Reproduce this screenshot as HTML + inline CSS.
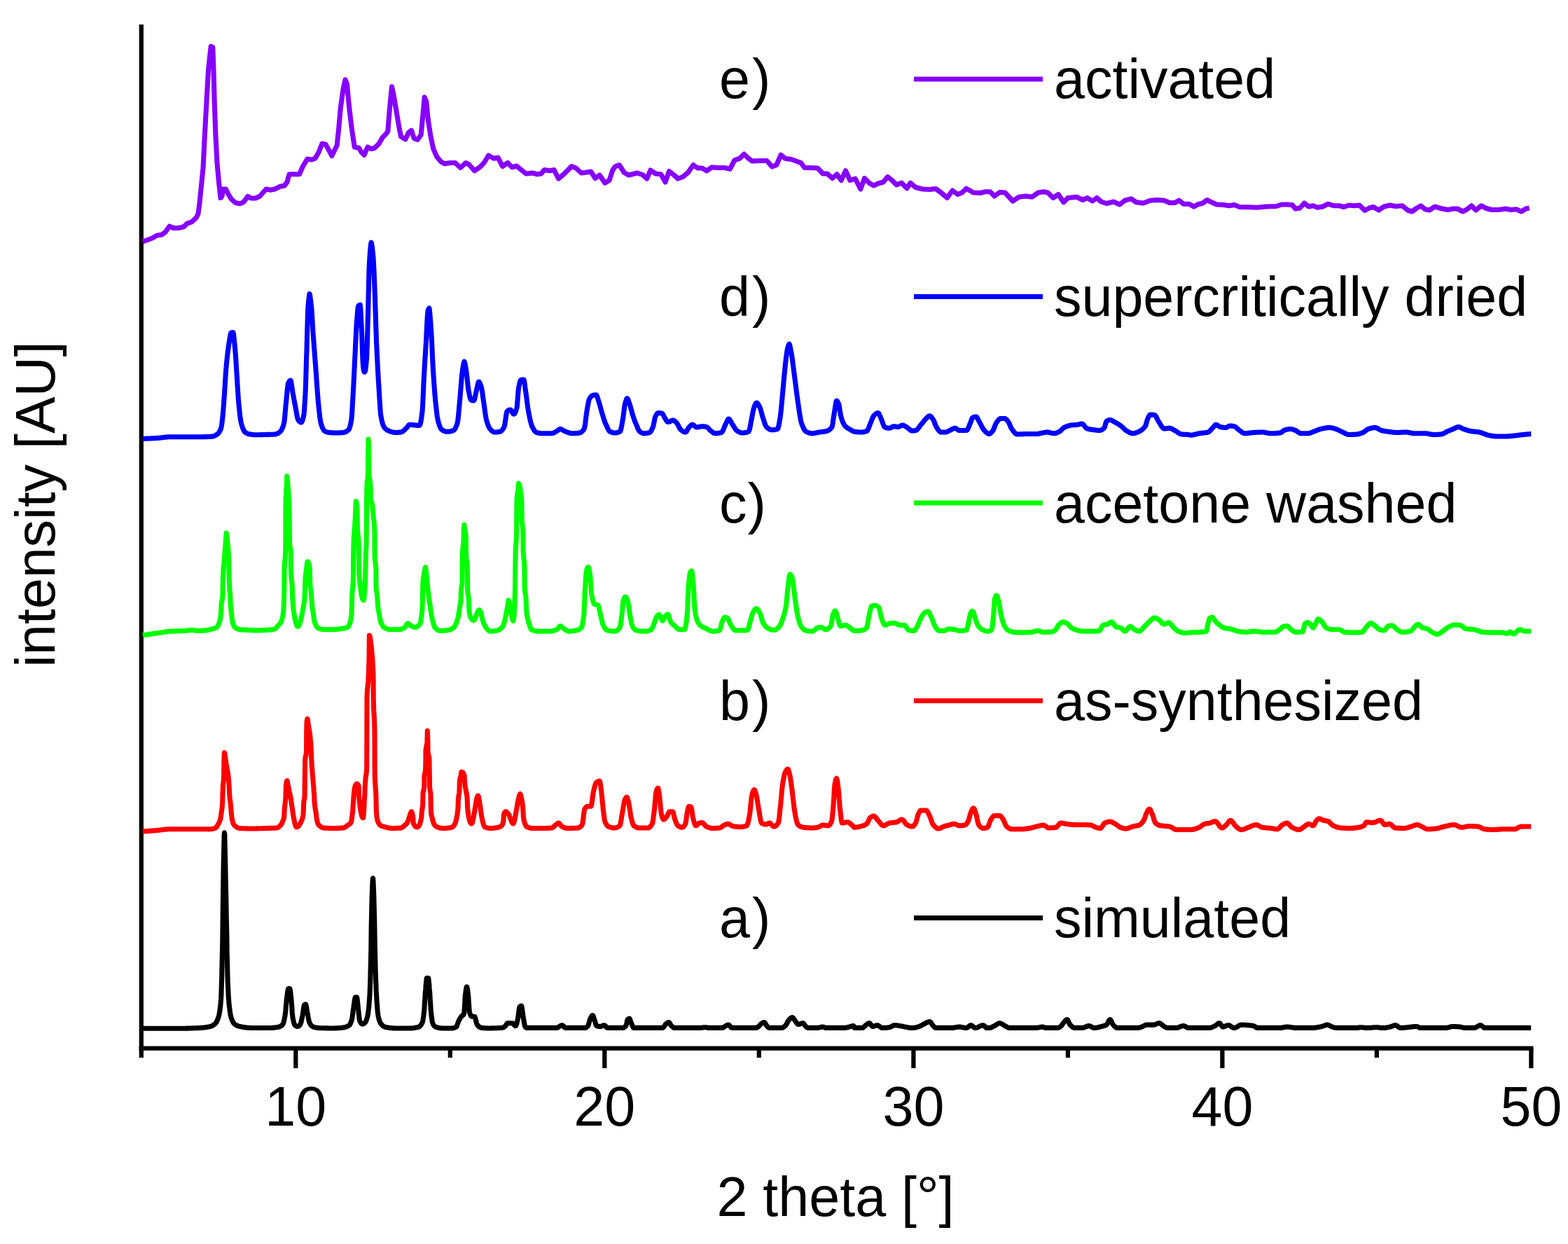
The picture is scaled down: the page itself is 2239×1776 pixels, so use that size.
<!DOCTYPE html>
<html lang="en">
<head>
<meta charset="utf-8">
<title>PXRD patterns</title>
<style>
html,body{margin:0;padding:0;background:#fff;}
body{width:2239px;height:1776px;overflow:hidden;font-family:'Liberation Sans', Arial, Helvetica, sans-serif;}
svg{display:block;}
</style>
</head>
<body>
<svg xmlns="http://www.w3.org/2000/svg" width="2239" height="1776" viewBox="0 0 2239 1776">
<rect width="2239" height="1776" fill="#ffffff"/>
<g stroke="#000" stroke-width="6.25" stroke-linecap="butt" fill="none">
<line x1="201.8" y1="35" x2="201.8" y2="1510"/>
<line x1="198.7" y1="1496.6" x2="2189.5" y2="1496.6"/>
<line x1="422.3" y1="1496.6" x2="422.3" y2="1525"/>
<line x1="642.8" y1="1496.6" x2="642.8" y2="1510"/>
<line x1="863.3" y1="1496.6" x2="863.3" y2="1525"/>
<line x1="1083.8" y1="1496.6" x2="1083.8" y2="1510"/>
<line x1="1304.4" y1="1496.6" x2="1304.4" y2="1525"/>
<line x1="1524.9" y1="1496.6" x2="1524.9" y2="1510"/>
<line x1="1745.4" y1="1496.6" x2="1745.4" y2="1525"/>
<line x1="1965.9" y1="1496.6" x2="1965.9" y2="1510"/>
<line x1="2186.4" y1="1496.6" x2="2186.4" y2="1525"/>
</g>
<path d="M203.8,1468.2 L204.2,1468.2 L204.8,1468.2 L205.2,1468.2 L205.8,1468.2 L206.2,1468.2 L206.8,1468.2 L207.2,1468.2 L207.8,1468.2 L208.2,1468.2 L208.8,1468.2 L209.2,1468.2 L209.8,1468.2 L210.2,1468.2 L210.8,1468.2 L211.2,1468.2 L211.8,1468.2 L212.2,1468.2 L212.8,1468.2 L213.2,1468.2 L213.8,1468.2 L214.2,1468.2 L214.8,1468.2 L215.2,1468.2 L215.8,1468.2 L216.2,1468.2 L216.8,1468.2 L217.2,1468.2 L217.8,1468.2 L218.2,1468.2 L218.8,1468.2 L219.2,1468.2 L219.8,1468.2 L220.2,1468.2 L220.8,1468.2 L221.2,1468.2 L221.8,1468.2 L222.2,1468.2 L222.8,1468.2 L223.2,1468.2 L223.8,1468.2 L224.2,1468.2 L224.8,1468.2 L225.2,1468.2 L225.8,1468.2 L226.2,1468.2 L226.8,1468.2 L227.2,1468.2 L227.8,1468.2 L228.2,1468.2 L228.8,1468.2 L229.2,1468.2 L229.8,1468.2 L230.2,1468.2 L230.8,1468.2 L231.2,1468.2 L231.8,1468.2 L232.2,1468.2 L232.8,1468.2 L233.2,1468.2 L233.8,1468.2 L234.2,1468.2 L234.8,1468.2 L235.2,1468.2 L235.8,1468.2 L236.2,1468.2 L236.8,1468.2 L237.2,1468.2 L237.8,1468.2 L238.2,1468.2 L238.8,1468.2 L239.2,1468.2 L239.8,1468.2 L240.2,1468.2 L240.8,1468.2 L241.2,1468.2 L241.8,1468.2 L242.2,1468.2 L242.8,1468.2 L243.2,1468.2 L243.8,1468.2 L244.2,1468.2 L244.8,1468.2 L245.2,1468.2 L245.8,1468.2 L246.2,1468.2 L246.8,1468.2 L247.2,1468.2 L247.8,1468.2 L248.2,1468.2 L248.8,1468.2 L249.2,1468.2 L249.8,1468.2 L250.2,1468.2 L250.8,1468.2 L251.2,1468.2 L251.8,1468.2 L252.2,1468.2 L252.8,1468.2 L253.2,1468.2 L253.8,1468.2 L254.2,1468.2 L254.8,1468.2 L255.0,1468.2 L255.2,1468.2 L255.8,1468.2 L256.2,1468.2 L256.8,1468.2 L257.2,1468.2 L257.8,1468.2 L258.2,1468.2 L258.8,1468.2 L259.2,1468.2 L259.8,1468.2 L260.2,1468.2 L260.8,1468.2 L261.2,1468.2 L261.8,1468.2 L262.2,1468.2 L262.8,1468.2 L263.2,1468.2 L263.8,1468.2 L264.2,1468.2 L264.8,1468.2 L265.2,1468.2 L265.8,1468.1 L266.2,1468.1 L266.8,1468.1 L267.2,1468.1 L267.8,1468.1 L268.2,1468.1 L268.8,1468.1 L269.2,1468.1 L269.8,1468.1 L270.2,1468.0 L270.8,1468.0 L271.2,1468.0 L271.8,1468.0 L272.2,1468.0 L272.8,1468.0 L273.2,1468.0 L273.8,1467.9 L274.2,1467.9 L274.8,1467.9 L275.2,1467.9 L275.8,1467.9 L276.2,1467.9 L276.8,1467.8 L277.2,1467.8 L277.8,1467.8 L278.2,1467.8 L278.8,1467.8 L279.2,1467.7 L279.8,1467.7 L280.2,1467.7 L280.8,1467.7 L281.2,1467.7 L281.8,1467.6 L282.2,1467.6 L282.8,1467.6 L283.2,1467.6 L283.8,1467.6 L284.2,1467.5 L284.8,1467.5 L285.0,1467.5 L285.2,1467.5 L285.8,1467.5 L286.2,1467.4 L286.8,1467.4 L287.2,1467.4 L287.8,1467.3 L288.2,1467.3 L288.8,1467.3 L289.2,1467.2 L289.8,1467.2 L290.2,1467.1 L290.8,1467.1 L291.2,1467.0 L291.8,1466.9 L292.2,1466.9 L292.8,1466.8 L293.2,1466.7 L293.8,1466.7 L294.2,1466.6 L294.8,1466.5 L295.2,1466.4 L295.8,1466.4 L296.2,1466.3 L296.8,1466.2 L297.2,1466.1 L297.8,1466.0 L298.2,1465.9 L298.8,1465.8 L299.2,1465.7 L299.8,1465.6 L300.0,1465.5 L300.2,1465.4 L300.8,1465.3 L301.2,1465.1 L301.8,1465.0 L302.2,1464.8 L302.8,1464.6 L303.2,1464.3 L303.8,1464.0 L304.2,1463.8 L304.8,1463.4 L305.2,1463.1 L305.8,1462.7 L306.2,1462.3 L306.8,1461.9 L307.2,1461.5 L307.5,1461.2 L307.8,1461.0 L308.2,1460.4 L308.8,1459.7 L309.2,1458.8 L309.8,1457.8 L310.2,1456.7 L310.8,1455.5 L311.2,1454.1 L311.8,1452.6 L312.2,1450.9 L312.5,1450.0 L312.8,1449.0 L313.2,1446.8 L313.8,1443.9 L314.2,1440.4 L314.8,1436.0 L315.2,1430.6 L315.5,1427.5 L315.8,1423.3 L316.2,1410.1 L316.8,1391.6 L317.2,1369.5 L317.5,1357.5 L317.8,1342.5 L318.2,1301.5 L318.8,1260.3 L319.0,1245.0 L319.2,1232.2 L319.8,1207.5 L320.2,1191.2 L320.5,1188.8 L320.8,1191.4 L321.2,1208.8 L321.8,1233.4 L322.0,1245.0 L322.2,1256.3 L322.8,1281.2 L323.2,1307.3 L323.5,1320.0 L323.8,1333.3 L324.2,1361.6 L324.8,1386.3 L325.0,1395.0 L325.2,1401.7 L325.8,1413.2 L326.2,1422.6 L326.8,1429.7 L327.0,1432.5 L327.2,1435.0 L327.8,1439.5 L328.2,1443.4 L328.8,1446.7 L329.2,1449.5 L329.8,1451.6 L330.0,1452.5 L330.2,1453.3 L330.8,1454.7 L331.2,1456.0 L331.8,1457.2 L332.2,1458.2 L332.8,1459.2 L333.2,1460.0 L333.8,1460.7 L334.2,1461.3 L334.8,1461.8 L335.0,1462.0 L335.2,1462.2 L335.8,1462.6 L336.2,1462.9 L336.8,1463.2 L337.2,1463.5 L337.8,1463.8 L338.2,1464.1 L338.8,1464.3 L339.2,1464.5 L339.8,1464.7 L340.2,1464.9 L340.8,1465.1 L341.2,1465.2 L341.8,1465.3 L342.2,1465.4 L342.5,1465.5 L342.8,1465.5 L343.2,1465.6 L343.8,1465.7 L344.2,1465.8 L344.8,1465.9 L345.2,1466.0 L345.8,1466.1 L346.2,1466.2 L346.8,1466.3 L347.2,1466.4 L347.8,1466.4 L348.2,1466.5 L348.8,1466.6 L349.2,1466.7 L349.8,1466.7 L350.2,1466.8 L350.8,1466.9 L351.2,1466.9 L351.8,1467.0 L352.2,1467.1 L352.8,1467.1 L353.2,1467.2 L353.8,1467.2 L354.2,1467.2 L354.8,1467.3 L355.2,1467.3 L355.8,1467.4 L356.2,1467.4 L356.8,1467.4 L357.2,1467.4 L357.8,1467.5 L358.2,1467.5 L358.8,1467.5 L359.2,1467.5 L359.8,1467.5 L360.0,1467.5 L360.2,1467.5 L360.8,1467.5 L361.2,1467.5 L361.8,1467.5 L362.2,1467.5 L362.8,1467.5 L363.2,1467.5 L363.8,1467.5 L364.2,1467.5 L364.8,1467.5 L365.2,1467.5 L365.8,1467.5 L366.2,1467.5 L366.8,1467.5 L367.2,1467.5 L367.8,1467.5 L368.2,1467.5 L368.8,1467.5 L369.2,1467.5 L369.8,1467.5 L370.2,1467.5 L370.8,1467.5 L371.2,1467.5 L371.8,1467.5 L372.2,1467.5 L372.8,1467.5 L373.2,1467.5 L373.8,1467.5 L374.2,1467.5 L374.8,1467.5 L375.2,1467.5 L375.8,1467.5 L376.2,1467.5 L376.8,1467.5 L377.2,1467.5 L377.8,1467.5 L378.2,1467.5 L378.8,1467.5 L379.2,1467.5 L379.8,1467.5 L380.2,1467.5 L380.8,1467.5 L381.2,1467.5 L381.8,1467.5 L382.2,1467.5 L382.8,1467.5 L383.2,1467.5 L383.8,1467.5 L384.2,1467.5 L384.8,1467.5 L385.0,1467.5 L385.2,1467.5 L385.8,1467.5 L386.2,1467.5 L386.8,1467.5 L387.2,1467.5 L387.8,1467.4 L388.2,1467.4 L388.8,1467.4 L389.2,1467.3 L389.8,1467.3 L390.2,1467.3 L390.8,1467.2 L391.2,1467.2 L391.8,1467.1 L392.2,1467.1 L392.8,1467.0 L393.2,1466.9 L393.8,1466.9 L394.2,1466.8 L394.8,1466.7 L395.2,1466.6 L395.8,1466.6 L396.2,1466.5 L396.8,1466.4 L397.2,1466.3 L397.5,1466.2 L397.8,1466.2 L398.2,1466.1 L398.8,1465.9 L399.2,1465.8 L399.8,1465.6 L400.2,1465.3 L400.8,1465.0 L401.2,1464.7 L401.8,1464.4 L402.2,1464.0 L402.8,1463.5 L403.2,1463.0 L403.8,1462.5 L404.2,1461.7 L404.8,1460.3 L405.2,1458.6 L405.8,1456.5 L406.2,1454.1 L406.8,1451.4 L407.0,1450.0 L407.2,1448.3 L407.8,1443.6 L408.2,1437.9 L408.8,1432.1 L409.2,1427.0 L409.5,1425.0 L409.8,1423.2 L410.2,1419.4 L410.8,1415.9 L411.2,1413.1 L411.8,1411.5 L412.0,1411.2 L412.2,1411.2 L412.8,1411.2 L413.2,1411.2 L413.8,1411.2 L414.2,1412.6 L414.8,1415.9 L415.2,1420.4 L415.8,1425.0 L416.2,1430.6 L416.8,1437.8 L417.2,1445.0 L417.8,1450.7 L418.0,1452.5 L418.2,1453.9 L418.8,1456.4 L419.2,1458.6 L419.8,1460.5 L420.2,1462.0 L420.8,1463.1 L421.2,1463.8 L421.8,1464.1 L422.2,1464.5 L422.8,1464.8 L423.2,1465.1 L423.8,1465.3 L424.2,1465.4 L424.8,1465.5 L425.0,1465.5 L425.2,1465.5 L425.8,1465.3 L426.2,1465.1 L426.8,1464.7 L427.2,1464.3 L427.8,1463.7 L428.2,1463.2 L428.8,1462.5 L429.2,1461.5 L429.8,1460.0 L430.2,1458.1 L430.8,1456.0 L431.2,1453.6 L431.8,1451.2 L432.0,1450.0 L432.2,1448.6 L432.8,1445.2 L433.2,1441.4 L433.8,1437.9 L434.2,1435.5 L434.5,1435.0 L434.8,1434.7 L435.2,1434.3 L435.8,1434.0 L436.2,1433.8 L436.5,1433.8 L436.8,1434.0 L437.2,1435.9 L437.8,1438.8 L438.2,1442.1 L438.8,1445.0 L439.2,1447.5 L439.8,1450.3 L440.2,1453.0 L440.8,1455.5 L441.2,1457.7 L441.8,1459.4 L442.0,1460.0 L442.2,1460.5 L442.8,1461.5 L443.2,1462.3 L443.8,1463.1 L444.2,1463.8 L444.8,1464.4 L445.2,1464.9 L445.8,1465.2 L446.2,1465.5 L446.8,1465.7 L447.2,1465.9 L447.8,1466.1 L448.2,1466.3 L448.8,1466.4 L449.2,1466.6 L449.8,1466.7 L450.2,1466.8 L450.8,1466.9 L451.2,1467.0 L451.8,1467.1 L452.2,1467.2 L452.8,1467.3 L453.2,1467.4 L453.8,1467.4 L454.2,1467.5 L454.8,1467.5 L455.0,1467.5 L455.2,1467.5 L455.8,1467.5 L456.2,1467.6 L456.8,1467.6 L457.2,1467.6 L457.8,1467.6 L458.2,1467.7 L458.8,1467.7 L459.2,1467.7 L459.8,1467.7 L460.2,1467.7 L460.8,1467.7 L461.2,1467.8 L461.8,1467.8 L462.2,1467.8 L462.8,1467.8 L463.2,1467.8 L463.8,1467.8 L464.2,1467.9 L464.8,1467.9 L465.2,1467.9 L465.8,1467.9 L466.2,1467.9 L466.8,1467.9 L467.2,1467.9 L467.8,1467.9 L468.2,1467.9 L468.8,1468.0 L469.2,1468.0 L469.8,1468.0 L470.2,1468.0 L470.8,1468.0 L471.2,1468.0 L471.8,1468.0 L472.2,1468.0 L472.8,1468.0 L473.2,1468.0 L473.8,1468.0 L474.2,1468.0 L474.8,1468.0 L475.0,1468.0 L475.2,1468.0 L475.8,1468.0 L476.2,1468.0 L476.8,1468.0 L477.2,1468.0 L477.8,1468.0 L478.2,1467.9 L478.8,1467.9 L479.2,1467.9 L479.8,1467.9 L480.2,1467.9 L480.8,1467.8 L481.2,1467.8 L481.8,1467.8 L482.2,1467.7 L482.8,1467.7 L483.2,1467.7 L483.8,1467.6 L484.2,1467.6 L484.8,1467.5 L485.2,1467.5 L485.8,1467.5 L486.2,1467.4 L486.8,1467.4 L487.2,1467.3 L487.8,1467.3 L488.2,1467.2 L488.8,1467.1 L489.2,1467.1 L489.8,1467.0 L490.0,1467.0 L490.2,1467.0 L490.8,1466.9 L491.2,1466.8 L491.8,1466.7 L492.2,1466.6 L492.8,1466.5 L493.2,1466.4 L493.8,1466.2 L494.2,1466.1 L494.8,1465.9 L495.2,1465.7 L495.8,1465.5 L496.2,1465.2 L496.8,1465.0 L497.2,1464.7 L497.8,1464.4 L498.2,1464.1 L498.8,1463.8 L499.2,1463.3 L499.8,1462.5 L500.2,1461.6 L500.8,1460.4 L501.2,1459.1 L501.8,1457.6 L502.2,1455.9 L502.5,1455.0 L502.8,1453.9 L503.2,1450.9 L503.8,1447.0 L504.2,1443.0 L504.8,1439.2 L505.0,1437.5 L505.2,1435.9 L505.8,1432.3 L506.2,1428.7 L506.8,1425.7 L507.2,1424.0 L507.5,1423.8 L507.8,1423.8 L508.2,1423.8 L508.8,1423.8 L509.2,1423.8 L509.5,1423.8 L509.8,1424.2 L510.2,1427.5 L510.8,1432.5 L511.2,1437.8 L511.5,1440.0 L511.8,1442.1 L512.2,1446.8 L512.8,1451.5 L513.2,1455.3 L513.8,1457.5 L514.2,1458.6 L514.8,1459.5 L515.2,1460.3 L515.8,1460.9 L516.2,1461.4 L516.8,1461.8 L517.2,1462.0 L517.5,1462.0 L517.8,1462.0 L518.2,1461.9 L518.8,1461.7 L519.2,1461.5 L519.8,1461.2 L520.2,1460.8 L520.8,1460.4 L521.2,1460.0 L521.8,1459.4 L522.2,1458.6 L522.8,1457.5 L523.2,1456.3 L523.8,1454.7 L524.2,1453.0 L524.8,1451.1 L525.0,1450.0 L525.2,1448.8 L525.8,1445.8 L526.2,1441.9 L526.8,1436.9 L527.2,1431.0 L527.8,1423.9 L528.0,1420.0 L528.2,1415.0 L528.8,1400.0 L529.2,1380.6 L529.5,1370.0 L529.8,1356.7 L530.2,1322.5 L530.8,1295.0 L531.2,1278.0 L531.8,1263.6 L532.2,1255.0 L532.5,1253.8 L532.8,1255.0 L533.2,1264.0 L533.8,1278.6 L534.2,1295.0 L534.8,1317.6 L535.2,1346.0 L535.8,1370.0 L536.2,1387.5 L536.8,1402.8 L537.2,1415.2 L537.5,1420.0 L537.8,1424.2 L538.2,1432.1 L538.8,1438.8 L539.2,1444.4 L539.8,1448.5 L540.0,1450.0 L540.2,1451.2 L540.8,1453.4 L541.2,1455.3 L541.8,1457.0 L542.2,1458.4 L542.8,1459.5 L543.2,1460.5 L543.8,1461.2 L544.2,1461.9 L544.8,1462.5 L545.2,1463.1 L545.8,1463.6 L546.2,1464.1 L546.8,1464.5 L547.2,1464.9 L547.8,1465.3 L548.2,1465.6 L548.8,1465.8 L549.2,1466.0 L549.8,1466.2 L550.0,1466.2 L550.2,1466.3 L550.8,1466.4 L551.2,1466.5 L551.8,1466.6 L552.2,1466.7 L552.8,1466.8 L553.2,1466.9 L553.8,1467.0 L554.2,1467.1 L554.8,1467.2 L555.2,1467.2 L555.8,1467.3 L556.2,1467.4 L556.8,1467.5 L557.2,1467.5 L557.8,1467.6 L558.2,1467.6 L558.8,1467.7 L559.2,1467.7 L559.8,1467.8 L560.2,1467.8 L560.8,1467.9 L561.2,1467.9 L561.8,1467.9 L562.2,1467.9 L562.8,1468.0 L563.2,1468.0 L563.8,1468.0 L564.2,1468.0 L564.8,1468.0 L565.0,1468.0 L565.2,1468.0 L565.8,1468.0 L566.2,1468.0 L566.8,1468.0 L567.2,1468.0 L567.8,1468.0 L568.2,1468.0 L568.8,1468.0 L569.2,1468.0 L569.8,1468.0 L570.2,1468.0 L570.8,1468.0 L571.2,1468.0 L571.8,1468.0 L572.2,1468.0 L572.8,1468.0 L573.2,1468.0 L573.8,1468.0 L574.2,1468.0 L574.8,1468.0 L575.2,1468.0 L575.8,1468.0 L576.2,1468.0 L576.8,1468.0 L577.2,1468.0 L577.8,1468.0 L578.2,1468.0 L578.8,1468.0 L579.2,1468.0 L579.8,1468.0 L580.2,1468.0 L580.8,1468.0 L581.2,1468.0 L581.8,1468.0 L582.2,1468.0 L582.8,1468.0 L583.2,1468.0 L583.8,1468.0 L584.2,1468.0 L584.8,1468.0 L585.0,1468.0 L585.2,1468.0 L585.8,1468.0 L586.2,1468.0 L586.8,1468.0 L587.2,1467.9 L587.8,1467.9 L588.2,1467.9 L588.8,1467.8 L589.2,1467.8 L589.8,1467.7 L590.2,1467.7 L590.8,1467.6 L591.2,1467.6 L591.8,1467.5 L592.2,1467.4 L592.8,1467.3 L593.2,1467.2 L593.8,1467.1 L594.2,1467.0 L594.8,1466.9 L595.2,1466.8 L595.8,1466.7 L596.2,1466.6 L596.8,1466.5 L597.2,1466.3 L597.5,1466.2 L597.8,1466.2 L598.2,1466.0 L598.8,1465.7 L599.2,1465.3 L599.8,1464.9 L600.2,1464.4 L600.8,1463.8 L601.2,1463.1 L601.8,1462.3 L602.2,1461.5 L602.8,1460.5 L603.0,1460.0 L603.2,1459.4 L603.8,1457.4 L604.2,1454.6 L604.8,1451.1 L605.2,1447.1 L605.5,1445.0 L605.8,1442.4 L606.2,1435.0 L606.8,1426.3 L607.2,1418.3 L607.5,1415.0 L607.8,1412.0 L608.2,1405.7 L608.8,1400.2 L609.2,1396.7 L609.5,1396.2 L609.8,1396.2 L610.2,1396.2 L610.8,1396.2 L611.2,1396.2 L611.5,1396.2 L611.8,1396.7 L612.2,1400.2 L612.8,1405.7 L613.2,1412.0 L613.5,1415.0 L613.8,1418.2 L614.2,1426.3 L614.8,1434.8 L615.2,1442.3 L615.5,1445.0 L615.8,1447.3 L616.2,1451.6 L616.8,1455.4 L617.2,1458.4 L617.8,1460.6 L618.0,1461.2 L618.2,1461.7 L618.8,1462.6 L619.2,1463.4 L619.8,1464.1 L620.2,1464.7 L620.8,1465.2 L621.2,1465.6 L621.8,1465.9 L622.2,1466.2 L622.5,1466.2 L622.8,1466.3 L623.2,1466.5 L623.8,1466.6 L624.2,1466.8 L624.8,1466.9 L625.2,1467.1 L625.8,1467.2 L626.2,1467.3 L626.8,1467.4 L627.2,1467.5 L627.8,1467.6 L628.2,1467.7 L628.8,1467.7 L629.2,1467.8 L629.8,1467.9 L630.2,1467.9 L630.8,1467.9 L631.2,1468.0 L631.8,1468.0 L632.2,1468.0 L632.5,1468.0 L632.8,1468.0 L633.2,1468.0 L633.8,1468.0 L634.2,1468.0 L634.8,1468.0 L635.2,1468.0 L635.8,1468.0 L636.2,1468.0 L636.8,1468.0 L637.2,1468.0 L637.8,1468.0 L638.2,1468.0 L638.8,1468.0 L639.2,1468.0 L639.8,1468.0 L640.2,1468.0 L640.8,1468.0 L641.2,1468.0 L641.8,1468.0 L642.2,1468.0 L642.8,1468.0 L643.2,1468.0 L643.8,1468.0 L644.2,1468.0 L644.8,1468.0 L645.0,1468.0 L645.2,1468.0 L645.8,1468.0 L646.2,1467.9 L646.8,1467.9 L647.2,1467.8 L647.8,1467.6 L648.2,1467.5 L648.8,1467.3 L649.2,1467.2 L649.8,1467.0 L650.2,1466.7 L650.8,1466.5 L651.2,1466.2 L651.8,1465.7 L652.2,1464.8 L652.8,1463.6 L653.2,1462.2 L653.8,1460.7 L654.2,1459.3 L654.8,1458.0 L655.0,1457.5 L655.2,1457.0 L655.8,1456.1 L656.2,1455.1 L656.8,1454.3 L657.2,1453.4 L657.8,1452.6 L658.2,1451.9 L658.8,1451.2 L659.2,1450.7 L659.8,1450.3 L660.2,1450.0 L660.8,1449.7 L661.2,1449.3 L661.8,1448.7 L662.2,1448.0 L662.5,1447.5 L662.8,1446.1 L663.2,1439.6 L663.8,1430.7 L664.2,1422.7 L664.5,1420.0 L664.8,1418.0 L665.2,1414.1 L665.8,1410.9 L666.2,1409.0 L666.5,1408.8 L666.8,1409.0 L667.2,1410.9 L667.8,1414.2 L668.2,1418.0 L668.5,1420.0 L668.8,1422.5 L669.2,1429.6 L669.8,1437.4 L670.2,1443.5 L670.5,1445.0 L670.8,1445.9 L671.2,1447.4 L671.8,1448.7 L672.2,1449.8 L672.8,1450.6 L673.2,1451.1 L673.8,1451.2 L674.2,1451.2 L674.8,1451.2 L675.2,1451.2 L675.8,1451.2 L676.2,1451.2 L676.8,1451.2 L677.2,1451.2 L677.5,1451.2 L677.8,1451.4 L678.2,1452.2 L678.8,1453.8 L679.2,1455.7 L679.8,1457.8 L680.2,1459.8 L680.8,1461.4 L681.2,1462.5 L681.8,1463.2 L682.2,1463.9 L682.8,1464.5 L683.2,1465.0 L683.8,1465.5 L684.2,1466.0 L684.8,1466.4 L685.2,1466.7 L685.8,1466.9 L686.2,1467.0 L686.8,1467.1 L687.2,1467.2 L687.8,1467.2 L688.2,1467.3 L688.8,1467.4 L689.2,1467.4 L689.8,1467.5 L690.2,1467.6 L690.8,1467.6 L691.2,1467.7 L691.8,1467.7 L692.2,1467.7 L692.8,1467.8 L693.2,1467.8 L693.8,1467.8 L694.2,1467.9 L694.8,1467.9 L695.2,1467.9 L695.8,1467.9 L696.2,1468.0 L696.8,1468.0 L697.2,1468.0 L697.8,1468.0 L698.2,1468.0 L698.8,1468.0 L699.2,1468.0 L699.8,1468.0 L700.0,1468.0 L700.2,1468.0 L700.8,1468.0 L701.2,1468.0 L701.8,1468.0 L702.2,1467.9 L702.8,1467.9 L703.2,1467.9 L703.8,1467.9 L704.2,1467.9 L704.8,1467.9 L705.2,1467.8 L705.8,1467.8 L706.2,1467.8 L706.8,1467.8 L707.2,1467.8 L707.8,1467.8 L708.2,1467.7 L708.8,1467.7 L709.2,1467.7 L709.8,1467.7 L710.2,1467.6 L710.8,1467.6 L711.2,1467.6 L711.8,1467.6 L712.2,1467.6 L712.8,1467.5 L713.2,1467.5 L713.8,1467.5 L714.2,1467.5 L714.8,1467.5 L715.0,1467.5 L715.2,1467.4 L715.8,1467.4 L716.2,1467.3 L716.8,1467.3 L717.2,1467.2 L717.8,1467.1 L718.2,1467.0 L718.8,1466.9 L719.2,1466.6 L719.8,1466.3 L720.2,1465.9 L720.8,1465.6 L721.2,1465.2 L721.8,1464.7 L722.2,1464.0 L722.8,1463.2 L723.2,1462.4 L723.8,1461.6 L724.2,1461.0 L724.8,1460.7 L725.0,1460.6 L725.2,1460.7 L725.8,1460.7 L726.2,1460.7 L726.8,1460.7 L727.2,1460.7 L727.8,1460.7 L728.2,1460.7 L728.8,1460.7 L729.2,1460.7 L729.8,1460.7 L730.2,1460.7 L730.8,1460.7 L731.2,1460.7 L731.8,1460.8 L732.2,1461.1 L732.8,1461.5 L733.2,1462.1 L733.8,1462.6 L734.2,1463.2 L734.8,1463.7 L735.2,1464.2 L735.8,1464.5 L736.2,1464.6 L736.8,1464.2 L737.2,1463.1 L737.8,1461.6 L738.2,1459.6 L738.8,1457.5 L739.2,1455.2 L739.5,1454.1 L739.8,1452.8 L740.2,1449.1 L740.8,1444.8 L741.2,1440.9 L741.8,1438.2 L742.0,1437.6 L742.2,1437.3 L742.8,1436.9 L743.2,1436.5 L743.8,1436.2 L744.2,1436.1 L744.5,1436.1 L744.8,1436.4 L745.2,1438.5 L745.8,1441.9 L746.2,1445.8 L746.8,1449.6 L747.0,1451.1 L747.2,1452.5 L747.8,1455.6 L748.2,1458.7 L748.8,1461.7 L749.2,1464.1 L749.8,1465.7 L750.0,1466.1 L750.2,1466.3 L750.8,1466.8 L751.2,1467.2 L751.8,1467.4 L752.2,1467.4 L752.8,1467.4 L753.2,1467.4 L753.8,1467.4 L754.2,1467.4 L754.8,1467.4 L755.2,1467.4 L755.8,1467.4 L756.2,1467.4 L756.8,1467.4 L757.2,1467.4 L757.5,1467.4 L757.8,1467.4 L758.2,1467.4 L758.8,1467.4 L759.2,1467.4 L759.8,1467.4 L760.2,1467.4 L760.8,1467.4 L761.2,1467.4 L761.8,1467.4 L762.2,1467.4 L762.8,1467.4 L763.2,1467.4 L763.8,1467.4 L764.2,1467.4 L764.8,1467.4 L765.2,1467.4 L765.8,1467.4 L766.2,1467.4 L766.8,1467.4 L767.2,1467.4 L767.8,1467.4 L768.2,1467.4 L768.8,1467.4 L769.2,1467.4 L769.8,1467.4 L770.2,1467.4 L770.8,1467.4 L771.2,1467.4 L771.8,1467.4 L772.2,1467.4 L772.8,1467.4 L773.2,1467.4 L773.8,1467.4 L774.2,1467.4 L774.8,1467.4 L775.0,1467.4 L775.2,1467.4 L775.8,1467.4 L776.2,1467.4 L776.8,1467.4 L777.2,1467.4 L777.8,1467.4 L778.2,1467.4 L778.8,1467.4 L779.2,1467.4 L779.8,1467.4 L780.2,1467.4 L780.8,1467.4 L781.2,1467.4 L781.8,1467.4 L782.2,1467.4 L782.8,1467.4 L783.2,1467.4 L783.8,1467.4 L784.2,1467.4 L784.8,1467.4 L785.2,1467.4 L785.8,1467.4 L786.2,1467.4 L786.8,1467.4 L787.2,1467.4 L787.8,1467.4 L788.2,1467.4 L788.8,1467.4 L789.2,1467.4 L789.8,1467.4 L790.2,1467.4 L790.8,1467.4 L791.2,1467.4 L791.8,1467.4 L792.2,1467.4 L792.5,1467.4 L792.8,1467.4 L793.2,1467.4 L793.8,1467.4 L794.2,1467.4 L794.8,1467.4 L795.2,1467.4 L795.8,1467.4 L796.2,1467.2 L796.8,1466.8 L797.2,1466.4 L797.8,1466.1 L798.2,1465.8 L798.8,1465.5 L799.2,1465.2 L799.8,1464.9 L800.2,1464.6 L800.8,1464.3 L801.2,1464.0 L801.8,1463.8 L802.2,1463.7 L802.5,1463.7 L802.8,1463.7 L803.2,1463.9 L803.8,1464.2 L804.2,1464.6 L804.8,1465.1 L805.2,1465.7 L805.8,1466.2 L806.2,1466.7 L806.8,1467.2 L807.2,1467.4 L807.5,1467.4 L807.8,1467.4 L808.2,1467.4 L808.8,1467.4 L809.2,1467.4 L809.8,1467.4 L810.2,1467.4 L810.8,1467.4 L811.2,1467.4 L811.8,1467.4 L812.2,1467.4 L812.8,1467.4 L813.2,1467.4 L813.8,1467.4 L814.2,1467.4 L814.8,1467.4 L815.2,1467.4 L815.8,1467.4 L816.2,1467.4 L816.8,1467.4 L817.2,1467.4 L817.5,1467.4 L817.8,1467.4 L818.2,1467.4 L818.8,1467.4 L819.2,1467.4 L819.8,1467.4 L820.2,1467.4 L820.8,1467.4 L821.2,1467.4 L821.8,1467.4 L822.2,1467.4 L822.8,1467.4 L823.2,1467.4 L823.8,1467.4 L824.2,1467.4 L824.8,1467.4 L825.2,1467.4 L825.8,1467.4 L826.2,1467.4 L826.8,1467.4 L827.2,1467.4 L827.8,1467.4 L828.2,1467.4 L828.8,1467.4 L829.2,1467.4 L829.8,1467.4 L830.2,1467.4 L830.8,1467.4 L831.2,1467.4 L831.8,1467.4 L832.2,1467.4 L832.5,1467.4 L832.8,1467.4 L833.2,1467.4 L833.8,1467.4 L834.2,1467.4 L834.8,1467.4 L835.2,1467.4 L835.8,1467.4 L836.2,1467.4 L836.8,1467.2 L837.2,1466.8 L837.8,1466.4 L838.2,1465.9 L838.8,1465.4 L839.2,1464.9 L839.5,1464.6 L839.8,1464.2 L840.2,1463.1 L840.8,1461.5 L841.2,1459.7 L841.8,1457.8 L842.2,1456.0 L842.8,1454.6 L843.0,1454.1 L843.2,1453.6 L843.8,1452.6 L844.2,1451.7 L844.8,1450.9 L845.2,1450.2 L845.8,1449.7 L846.2,1449.6 L846.8,1450.0 L847.2,1451.1 L847.8,1452.5 L848.2,1454.1 L848.8,1455.6 L849.2,1457.0 L849.8,1458.8 L850.2,1460.6 L850.8,1462.2 L851.2,1463.6 L851.8,1464.4 L852.0,1464.6 L852.2,1464.7 L852.8,1464.8 L853.2,1464.9 L853.8,1465.1 L854.2,1465.2 L854.8,1465.3 L855.2,1465.3 L855.8,1465.4 L856.2,1465.4 L856.8,1465.5 L857.2,1465.5 L857.5,1465.5 L857.8,1465.5 L858.2,1465.4 L858.8,1465.2 L859.2,1465.0 L859.8,1464.7 L860.2,1464.4 L860.8,1464.2 L861.2,1464.0 L861.8,1463.8 L862.2,1463.7 L862.5,1463.7 L862.8,1463.7 L863.2,1463.9 L863.8,1464.2 L864.2,1464.6 L864.8,1465.1 L865.2,1465.7 L865.8,1466.2 L866.2,1466.7 L866.8,1467.2 L867.2,1467.4 L867.5,1467.4 L867.8,1467.4 L868.2,1467.4 L868.8,1467.4 L869.2,1467.4 L869.8,1467.4 L870.2,1467.4 L870.8,1467.4 L871.2,1467.4 L871.8,1467.4 L872.2,1467.4 L872.8,1467.4 L873.2,1467.4 L873.8,1467.4 L874.2,1467.4 L874.8,1467.4 L875.2,1467.4 L875.8,1467.4 L876.2,1467.4 L876.8,1467.4 L877.2,1467.4 L877.5,1467.4 L877.8,1467.4 L878.2,1467.4 L878.8,1467.4 L879.2,1467.4 L879.8,1467.4 L880.2,1467.4 L880.8,1467.4 L881.2,1467.4 L881.8,1467.4 L882.2,1467.4 L882.8,1467.4 L883.2,1467.4 L883.8,1467.4 L884.2,1467.4 L884.8,1467.4 L885.2,1467.4 L885.8,1467.4 L886.2,1467.4 L886.8,1467.4 L887.2,1467.4 L887.5,1467.4 L887.8,1467.4 L888.2,1467.4 L888.8,1467.4 L889.2,1467.4 L889.8,1467.4 L890.2,1467.4 L890.8,1467.2 L891.2,1466.9 L891.8,1466.5 L892.2,1466.1 L892.8,1465.7 L893.2,1465.1 L893.8,1464.6 L894.2,1463.3 L894.8,1461.2 L895.2,1458.8 L895.8,1456.8 L896.2,1455.6 L896.8,1455.1 L897.2,1454.7 L897.8,1454.4 L898.2,1454.2 L898.8,1454.1 L899.2,1454.5 L899.8,1455.7 L900.2,1457.2 L900.8,1458.8 L901.2,1460.1 L901.8,1461.2 L902.2,1462.5 L902.8,1463.7 L903.2,1464.9 L903.8,1466.0 L904.2,1466.9 L904.8,1467.4 L905.0,1467.4 L905.2,1467.4 L905.8,1467.4 L906.2,1467.4 L906.8,1467.4 L907.2,1467.4 L907.8,1467.4 L908.2,1467.4 L908.8,1467.4 L909.2,1467.4 L909.8,1467.4 L910.2,1467.4 L910.8,1467.4 L911.2,1467.4 L911.8,1467.4 L912.2,1467.4 L912.8,1467.4 L913.2,1467.4 L913.8,1467.4 L914.2,1467.4 L914.8,1467.4 L915.0,1467.4 L915.2,1467.4 L915.8,1467.4 L916.2,1467.4 L916.8,1467.4 L917.2,1467.4 L917.8,1467.4 L918.2,1467.4 L918.8,1467.4 L919.2,1467.4 L919.8,1467.4 L920.2,1467.4 L920.8,1467.4 L921.2,1467.4 L921.8,1467.4 L922.2,1467.4 L922.8,1467.4 L923.2,1467.4 L923.8,1467.4 L924.2,1467.4 L924.8,1467.4 L925.2,1467.4 L925.8,1467.4 L926.2,1467.4 L926.8,1467.4 L927.2,1467.4 L927.8,1467.4 L928.2,1467.4 L928.8,1467.4 L929.2,1467.4 L929.8,1467.4 L930.2,1467.4 L930.8,1467.4 L931.2,1467.4 L931.8,1467.4 L932.2,1467.4 L932.8,1467.4 L933.2,1467.4 L933.8,1467.4 L934.2,1467.4 L934.8,1467.4 L935.0,1467.4 L935.2,1467.4 L935.8,1467.4 L936.2,1467.4 L936.8,1467.4 L937.2,1467.4 L937.8,1467.4 L938.2,1467.4 L938.8,1467.4 L939.2,1467.4 L939.8,1467.4 L940.2,1467.4 L940.8,1467.4 L941.2,1467.4 L941.8,1467.4 L942.2,1467.4 L942.8,1467.4 L943.2,1467.4 L943.8,1467.4 L944.2,1467.4 L944.8,1467.4 L945.2,1467.4 L945.8,1467.4 L946.2,1467.4 L946.8,1467.3 L947.2,1466.8 L947.8,1466.3 L948.2,1465.6 L948.8,1464.8 L949.2,1464.1 L949.8,1463.3 L950.2,1462.6 L950.8,1462.0 L951.2,1461.6 L951.8,1461.2 L952.2,1460.8 L952.8,1460.4 L953.2,1460.1 L953.8,1459.8 L954.2,1459.6 L954.8,1459.5 L955.0,1459.5 L955.2,1459.5 L955.8,1459.9 L956.2,1460.6 L956.8,1461.4 L957.2,1462.3 L957.8,1463.2 L958.2,1464.0 L958.8,1464.6 L959.2,1465.0 L959.8,1465.4 L960.2,1465.9 L960.8,1466.2 L961.2,1466.6 L961.8,1467.0 L962.2,1467.3 L962.8,1467.4 L963.2,1467.4 L963.8,1467.4 L964.2,1467.4 L964.8,1467.4 L965.0,1467.4 L965.2,1467.4 L965.8,1467.4 L966.2,1467.4 L966.8,1467.4 L967.2,1467.4 L967.8,1467.4 L968.2,1467.4 L968.8,1467.4 L969.2,1467.4 L969.8,1467.4 L970.2,1467.4 L970.8,1467.4 L971.2,1467.4 L971.8,1467.4 L972.2,1467.4 L972.8,1467.4 L973.2,1467.4 L973.8,1467.4 L974.2,1467.4 L974.8,1467.4 L975.0,1467.4 L975.2,1467.4 L975.8,1467.4 L976.2,1467.4 L976.8,1467.4 L977.2,1467.4 L977.8,1467.4 L978.2,1467.4 L978.8,1467.4 L979.2,1467.4 L979.8,1467.4 L980.2,1467.4 L980.8,1467.4 L981.2,1467.4 L981.8,1467.4 L982.2,1467.4 L982.8,1467.4 L983.2,1467.4 L983.8,1467.4 L984.2,1467.4 L984.8,1467.4 L985.2,1467.4 L985.8,1467.4 L986.2,1467.4 L986.8,1467.4 L987.2,1467.4 L987.8,1467.4 L988.2,1467.4 L988.8,1467.4 L989.2,1467.4 L989.8,1467.4 L990.0,1467.4 L990.2,1467.4 L990.8,1467.4 L991.2,1467.4 L991.8,1467.4 L992.2,1467.4 L992.8,1467.4 L993.2,1467.4 L993.8,1467.4 L994.2,1467.4 L994.8,1467.4 L995.2,1467.4 L995.8,1467.4 L996.2,1467.4 L996.8,1467.4 L997.2,1467.4 L997.8,1467.4 L998.2,1467.4 L998.8,1467.4 L999.2,1467.4 L999.8,1467.4 L1000.0,1467.4 L1000.2,1467.4 L1000.8,1467.4 L1001.2,1467.4 L1001.8,1467.3 L1002.2,1467.2 L1002.8,1467.1 L1003.2,1467.1 L1003.8,1467.0 L1004.2,1466.9 L1004.8,1466.9 L1005.2,1466.8 L1005.8,1466.8 L1006.2,1466.7 L1006.8,1466.7 L1007.2,1466.7 L1007.5,1466.7 L1007.8,1466.7 L1008.2,1466.7 L1008.8,1466.8 L1009.2,1467.0 L1009.8,1467.2 L1010.2,1467.4 L1010.8,1467.4 L1011.2,1467.4 L1011.8,1467.4 L1012.2,1467.4 L1012.8,1467.4 L1013.2,1467.4 L1013.8,1467.4 L1014.2,1467.4 L1014.8,1467.4 L1015.0,1467.4 L1015.2,1467.4 L1015.8,1467.4 L1016.2,1467.4 L1016.8,1467.4 L1017.2,1467.4 L1017.8,1467.4 L1018.2,1467.4 L1018.8,1467.4 L1019.2,1467.4 L1019.8,1467.4 L1020.2,1467.4 L1020.8,1467.4 L1021.2,1467.4 L1021.8,1467.4 L1022.2,1467.4 L1022.8,1467.4 L1023.2,1467.4 L1023.8,1467.4 L1024.2,1467.4 L1024.8,1467.4 L1025.2,1467.4 L1025.8,1467.4 L1026.2,1467.4 L1026.8,1467.4 L1027.2,1467.4 L1027.5,1467.4 L1027.8,1467.4 L1028.2,1467.4 L1028.8,1467.4 L1029.2,1467.4 L1029.8,1467.4 L1030.2,1467.4 L1030.8,1467.4 L1031.2,1467.4 L1031.8,1467.4 L1032.2,1467.3 L1032.8,1467.0 L1033.2,1466.6 L1033.8,1466.2 L1034.2,1465.9 L1034.8,1465.6 L1035.0,1465.5 L1035.2,1465.3 L1035.8,1465.1 L1036.2,1464.7 L1036.8,1464.4 L1037.2,1464.1 L1037.8,1463.8 L1038.2,1463.6 L1038.8,1463.3 L1039.2,1463.2 L1039.8,1463.1 L1040.0,1463.1 L1040.2,1463.1 L1040.8,1463.3 L1041.2,1463.7 L1041.8,1464.2 L1042.2,1464.8 L1042.8,1465.4 L1043.2,1466.0 L1043.8,1466.6 L1044.2,1467.1 L1044.8,1467.4 L1045.0,1467.4 L1045.2,1467.4 L1045.8,1467.4 L1046.2,1467.4 L1046.8,1467.4 L1047.2,1467.4 L1047.8,1467.4 L1048.2,1467.4 L1048.8,1467.4 L1049.2,1467.4 L1049.8,1467.4 L1050.2,1467.4 L1050.8,1467.4 L1051.2,1467.4 L1051.8,1467.4 L1052.2,1467.4 L1052.8,1467.4 L1053.2,1467.4 L1053.8,1467.4 L1054.2,1467.4 L1054.8,1467.4 L1055.0,1467.4 L1055.2,1467.4 L1055.8,1467.4 L1056.2,1467.4 L1056.8,1467.4 L1057.2,1467.4 L1057.8,1467.4 L1058.2,1467.4 L1058.8,1467.4 L1059.2,1467.4 L1059.8,1467.4 L1060.2,1467.4 L1060.8,1467.4 L1061.2,1467.4 L1061.8,1467.4 L1062.2,1467.4 L1062.8,1467.4 L1063.2,1467.4 L1063.8,1467.4 L1064.2,1467.4 L1064.8,1467.4 L1065.2,1467.4 L1065.8,1467.4 L1066.2,1467.4 L1066.8,1467.4 L1067.2,1467.4 L1067.8,1467.4 L1068.2,1467.4 L1068.8,1467.4 L1069.2,1467.4 L1069.8,1467.4 L1070.2,1467.4 L1070.8,1467.4 L1071.2,1467.4 L1071.8,1467.4 L1072.2,1467.4 L1072.5,1467.4 L1072.8,1467.4 L1073.2,1467.4 L1073.8,1467.4 L1074.2,1467.4 L1074.8,1467.4 L1075.2,1467.4 L1075.8,1467.4 L1076.2,1467.4 L1076.8,1467.4 L1077.2,1467.4 L1077.8,1467.4 L1078.2,1467.4 L1078.8,1467.4 L1079.2,1467.4 L1079.8,1467.4 L1080.2,1467.3 L1080.8,1467.0 L1081.2,1466.8 L1081.8,1466.5 L1082.2,1466.2 L1082.5,1466.1 L1082.8,1465.9 L1083.2,1465.5 L1083.8,1465.0 L1084.2,1464.5 L1084.8,1463.9 L1085.2,1463.3 L1085.8,1462.7 L1086.2,1462.2 L1086.8,1461.8 L1087.0,1461.6 L1087.2,1461.4 L1087.8,1461.1 L1088.2,1460.7 L1088.8,1460.4 L1089.2,1460.1 L1089.8,1459.9 L1090.2,1459.7 L1090.8,1459.5 L1091.2,1459.5 L1091.8,1459.7 L1092.2,1460.2 L1092.8,1460.9 L1093.2,1461.8 L1093.8,1462.7 L1094.2,1463.6 L1094.8,1464.3 L1095.0,1464.6 L1095.2,1464.8 L1095.8,1465.4 L1096.2,1465.9 L1096.8,1466.4 L1097.2,1466.9 L1097.8,1467.3 L1098.2,1467.4 L1098.8,1467.4 L1099.2,1467.4 L1099.8,1467.4 L1100.0,1467.4 L1100.2,1467.4 L1100.8,1467.4 L1101.2,1467.4 L1101.8,1467.4 L1102.2,1467.4 L1102.8,1467.4 L1103.2,1467.4 L1103.8,1467.4 L1104.2,1467.4 L1104.8,1467.4 L1105.2,1467.4 L1105.8,1467.4 L1106.2,1467.4 L1106.8,1467.4 L1107.2,1467.4 L1107.8,1467.4 L1108.2,1467.4 L1108.8,1467.4 L1109.2,1467.4 L1109.8,1467.4 L1110.2,1467.4 L1110.8,1467.4 L1111.2,1467.4 L1111.8,1467.4 L1112.2,1467.4 L1112.5,1467.4 L1112.8,1467.4 L1113.2,1467.4 L1113.8,1467.4 L1114.2,1467.4 L1114.8,1467.4 L1115.2,1467.4 L1115.8,1467.4 L1116.2,1467.4 L1116.8,1467.4 L1117.2,1467.4 L1117.8,1467.2 L1118.2,1466.9 L1118.8,1466.5 L1119.2,1466.2 L1119.8,1465.8 L1120.2,1465.4 L1120.8,1465.0 L1121.2,1464.6 L1121.8,1464.1 L1122.2,1463.4 L1122.8,1462.6 L1123.2,1461.6 L1123.8,1460.7 L1124.2,1459.7 L1124.8,1458.7 L1125.2,1457.9 L1125.8,1457.1 L1126.2,1456.5 L1126.8,1455.9 L1127.2,1455.4 L1127.8,1454.9 L1128.2,1454.3 L1128.8,1453.9 L1129.2,1453.4 L1129.8,1453.1 L1130.2,1452.8 L1130.8,1452.6 L1131.2,1452.6 L1131.8,1452.7 L1132.2,1453.0 L1132.8,1453.5 L1133.2,1454.2 L1133.8,1454.9 L1134.2,1455.7 L1134.8,1456.5 L1135.2,1457.2 L1135.8,1458.0 L1136.2,1458.6 L1136.8,1459.2 L1137.2,1459.9 L1137.8,1460.6 L1138.2,1461.2 L1138.8,1461.8 L1139.2,1462.2 L1139.8,1462.4 L1140.0,1462.5 L1140.2,1462.5 L1140.8,1462.4 L1141.2,1462.3 L1141.8,1462.1 L1142.2,1461.9 L1142.8,1461.7 L1143.2,1461.5 L1143.8,1461.3 L1144.2,1461.1 L1144.8,1460.9 L1145.2,1460.8 L1145.8,1460.7 L1146.2,1460.7 L1146.8,1460.8 L1147.2,1461.1 L1147.8,1461.6 L1148.2,1462.3 L1148.8,1463.0 L1149.2,1463.7 L1149.8,1464.4 L1150.2,1465.1 L1150.8,1465.7 L1151.2,1466.1 L1151.8,1466.4 L1152.2,1466.8 L1152.8,1467.1 L1153.2,1467.4 L1153.8,1467.4 L1154.2,1467.4 L1154.8,1467.4 L1155.2,1467.4 L1155.8,1467.4 L1156.2,1467.4 L1156.8,1467.4 L1157.2,1467.4 L1157.5,1467.4 L1157.8,1467.4 L1158.2,1467.4 L1158.8,1467.4 L1159.2,1467.4 L1159.8,1467.4 L1160.2,1467.4 L1160.8,1467.4 L1161.2,1467.4 L1161.8,1467.4 L1162.2,1467.4 L1162.8,1467.4 L1163.2,1467.4 L1163.8,1467.4 L1164.2,1467.4 L1164.8,1467.4 L1165.2,1467.4 L1165.8,1467.4 L1166.2,1467.4 L1166.8,1467.4 L1167.2,1467.4 L1167.5,1467.4 L1167.8,1467.4 L1168.2,1467.4 L1168.8,1467.3 L1169.2,1467.2 L1169.8,1467.1 L1170.2,1466.9 L1170.8,1466.8 L1171.2,1466.7 L1171.8,1466.5 L1172.2,1466.4 L1172.8,1466.3 L1173.2,1466.2 L1173.8,1466.2 L1174.2,1466.1 L1174.8,1466.1 L1175.0,1466.1 L1175.2,1466.1 L1175.8,1466.2 L1176.2,1466.3 L1176.8,1466.5 L1177.2,1466.7 L1177.8,1467.0 L1178.2,1467.3 L1178.8,1467.4 L1179.2,1467.4 L1179.8,1467.4 L1180.2,1467.4 L1180.8,1467.4 L1181.2,1467.4 L1181.8,1467.4 L1182.2,1467.4 L1182.5,1467.4 L1182.8,1467.4 L1183.2,1467.4 L1183.8,1467.4 L1184.2,1467.4 L1184.8,1467.4 L1185.2,1467.4 L1185.8,1467.4 L1186.2,1467.4 L1186.8,1467.4 L1187.2,1467.4 L1187.8,1467.4 L1188.2,1467.4 L1188.8,1467.4 L1189.2,1467.4 L1189.8,1467.4 L1190.2,1467.4 L1190.8,1467.4 L1191.2,1467.4 L1191.8,1467.4 L1192.2,1467.4 L1192.8,1467.4 L1193.2,1467.4 L1193.8,1467.4 L1194.2,1467.4 L1194.8,1467.4 L1195.2,1467.4 L1195.8,1467.4 L1196.2,1467.4 L1196.8,1467.4 L1197.2,1467.4 L1197.5,1467.4 L1197.8,1467.4 L1198.2,1467.4 L1198.8,1467.4 L1199.2,1467.4 L1199.8,1467.4 L1200.2,1467.4 L1200.8,1467.4 L1201.2,1467.4 L1201.8,1467.4 L1202.2,1467.4 L1202.8,1467.4 L1203.2,1467.4 L1203.8,1467.4 L1204.2,1467.4 L1204.8,1467.4 L1205.2,1467.4 L1205.8,1467.4 L1206.2,1467.4 L1206.8,1467.4 L1207.2,1467.4 L1207.8,1467.3 L1208.2,1467.1 L1208.8,1467.0 L1209.2,1466.9 L1209.8,1466.8 L1210.2,1466.6 L1210.8,1466.5 L1211.2,1466.4 L1211.8,1466.3 L1212.2,1466.1 L1212.5,1466.1 L1212.8,1466.0 L1213.2,1465.9 L1213.8,1465.7 L1214.2,1465.6 L1214.8,1465.4 L1215.2,1465.3 L1215.8,1465.1 L1216.2,1465.0 L1216.8,1464.8 L1217.2,1464.7 L1217.8,1464.7 L1218.2,1464.6 L1218.8,1464.6 L1219.2,1465.6 L1219.8,1467.2 L1220.0,1467.4 L1220.2,1467.4 L1220.8,1467.4 L1221.2,1467.4 L1221.8,1467.4 L1222.2,1467.4 L1222.8,1467.4 L1223.2,1467.4 L1223.8,1467.4 L1224.2,1467.4 L1224.8,1467.4 L1225.2,1467.4 L1225.8,1467.4 L1226.2,1467.4 L1226.8,1467.4 L1227.2,1467.4 L1227.8,1467.4 L1228.2,1467.4 L1228.8,1467.4 L1229.2,1467.4 L1229.8,1467.4 L1230.0,1467.4 L1230.2,1467.4 L1230.8,1467.4 L1231.2,1467.4 L1231.8,1467.4 L1232.2,1467.4 L1232.8,1467.0 L1233.2,1466.5 L1233.8,1466.0 L1234.2,1465.5 L1234.8,1465.0 L1235.2,1464.5 L1235.8,1464.1 L1236.2,1463.7 L1236.8,1463.3 L1237.2,1462.9 L1237.8,1462.5 L1238.2,1462.1 L1238.8,1461.8 L1239.2,1461.4 L1239.8,1461.1 L1240.2,1460.9 L1240.8,1460.7 L1241.2,1460.7 L1241.8,1460.8 L1242.2,1461.2 L1242.8,1461.7 L1243.2,1462.4 L1243.8,1463.1 L1244.2,1463.8 L1244.8,1464.4 L1245.2,1465.0 L1245.8,1465.3 L1246.2,1465.5 L1246.8,1465.4 L1247.2,1465.4 L1247.8,1465.2 L1248.2,1465.0 L1248.8,1464.8 L1249.2,1464.6 L1249.8,1464.4 L1250.2,1464.2 L1250.8,1464.0 L1251.2,1463.9 L1251.8,1463.8 L1252.2,1463.7 L1252.5,1463.7 L1252.8,1463.7 L1253.2,1463.8 L1253.8,1464.0 L1254.2,1464.2 L1254.8,1464.5 L1255.2,1464.9 L1255.8,1465.2 L1256.2,1465.6 L1256.8,1466.0 L1257.2,1466.4 L1257.8,1466.7 L1258.2,1467.0 L1258.8,1467.3 L1259.2,1467.4 L1259.8,1467.4 L1260.0,1467.4 L1260.2,1467.4 L1260.8,1467.4 L1261.2,1467.4 L1261.8,1467.4 L1262.2,1467.4 L1262.8,1467.4 L1263.2,1467.4 L1263.8,1467.4 L1264.2,1467.4 L1264.8,1467.3 L1265.2,1467.3 L1265.8,1467.2 L1266.2,1467.2 L1266.8,1467.1 L1267.2,1467.1 L1267.8,1467.0 L1268.2,1466.9 L1268.8,1466.9 L1269.2,1466.8 L1269.8,1466.7 L1270.0,1466.7 L1270.2,1466.6 L1270.8,1466.5 L1271.2,1466.3 L1271.8,1466.1 L1272.2,1465.9 L1272.8,1465.6 L1273.2,1465.3 L1273.8,1465.0 L1274.2,1464.8 L1274.8,1464.5 L1275.2,1464.3 L1275.8,1464.0 L1276.2,1463.9 L1276.8,1463.8 L1277.2,1463.7 L1277.5,1463.7 L1277.8,1463.7 L1278.2,1463.7 L1278.8,1463.7 L1279.2,1463.8 L1279.8,1463.8 L1280.2,1463.9 L1280.8,1463.9 L1281.2,1464.0 L1281.8,1464.1 L1282.2,1464.1 L1282.8,1464.2 L1283.2,1464.3 L1283.8,1464.4 L1284.2,1464.5 L1284.8,1464.5 L1285.0,1464.6 L1285.2,1464.6 L1285.8,1464.7 L1286.2,1464.8 L1286.8,1464.9 L1287.2,1465.0 L1287.8,1465.1 L1288.2,1465.2 L1288.8,1465.3 L1289.2,1465.4 L1289.8,1465.5 L1290.2,1465.6 L1290.8,1465.7 L1291.2,1465.8 L1291.8,1465.9 L1292.2,1466.0 L1292.5,1466.1 L1292.8,1466.1 L1293.2,1466.2 L1293.8,1466.3 L1294.2,1466.4 L1294.8,1466.5 L1295.2,1466.6 L1295.8,1466.7 L1296.2,1466.8 L1296.8,1466.9 L1297.2,1467.0 L1297.8,1467.1 L1298.2,1467.2 L1298.8,1467.3 L1299.2,1467.3 L1299.8,1467.4 L1300.2,1467.4 L1300.8,1467.4 L1301.2,1467.4 L1301.8,1467.4 L1302.2,1467.4 L1302.5,1467.4 L1302.8,1467.4 L1303.2,1467.4 L1303.8,1467.4 L1304.2,1467.4 L1304.8,1467.4 L1305.2,1467.4 L1305.8,1467.3 L1306.2,1467.2 L1306.8,1467.1 L1307.2,1467.0 L1307.8,1466.9 L1308.2,1466.7 L1308.8,1466.6 L1309.2,1466.5 L1309.8,1466.3 L1310.2,1466.2 L1310.8,1466.0 L1311.2,1465.9 L1311.8,1465.7 L1312.2,1465.6 L1312.5,1465.5 L1312.8,1465.4 L1313.2,1465.2 L1313.8,1465.0 L1314.2,1464.8 L1314.8,1464.5 L1315.2,1464.2 L1315.8,1464.0 L1316.2,1463.7 L1316.8,1463.4 L1317.2,1463.1 L1317.8,1462.8 L1318.2,1462.5 L1318.8,1462.2 L1319.2,1461.9 L1319.8,1461.7 L1320.0,1461.6 L1320.2,1461.5 L1320.8,1461.2 L1321.2,1461.0 L1321.8,1460.7 L1322.2,1460.4 L1322.8,1460.2 L1323.2,1459.9 L1323.8,1459.7 L1324.2,1459.4 L1324.8,1459.2 L1325.2,1459.0 L1325.8,1458.9 L1326.2,1458.7 L1326.8,1458.6 L1327.2,1458.6 L1327.5,1458.6 L1327.8,1458.6 L1328.2,1458.9 L1328.8,1459.3 L1329.2,1459.9 L1329.8,1460.6 L1330.2,1461.4 L1330.8,1462.2 L1331.2,1463.0 L1331.8,1463.7 L1332.2,1464.3 L1332.5,1464.6 L1332.8,1464.8 L1333.2,1465.3 L1333.8,1465.8 L1334.2,1466.3 L1334.8,1466.8 L1335.2,1467.3 L1335.8,1467.4 L1336.2,1467.4 L1336.8,1467.4 L1337.2,1467.4 L1337.5,1467.4 L1337.8,1467.4 L1338.2,1467.4 L1338.8,1467.4 L1339.2,1467.4 L1339.8,1467.4 L1340.2,1467.4 L1340.8,1467.4 L1341.2,1467.4 L1341.8,1467.4 L1342.2,1467.4 L1342.8,1467.4 L1343.2,1467.4 L1343.8,1467.4 L1344.2,1467.4 L1344.8,1467.4 L1345.2,1467.4 L1345.8,1467.4 L1346.2,1467.4 L1346.8,1467.4 L1347.2,1467.4 L1347.8,1467.4 L1348.2,1467.4 L1348.8,1467.4 L1349.2,1467.4 L1349.8,1467.4 L1350.0,1467.4 L1350.2,1467.4 L1350.8,1467.4 L1351.2,1467.4 L1351.8,1467.4 L1352.2,1467.4 L1352.8,1467.4 L1353.2,1467.4 L1353.8,1467.4 L1354.2,1467.4 L1354.8,1467.4 L1355.2,1467.4 L1355.8,1467.4 L1356.2,1467.4 L1356.8,1467.4 L1357.2,1467.4 L1357.8,1467.4 L1358.2,1467.4 L1358.8,1467.4 L1359.2,1467.4 L1359.8,1467.4 L1360.0,1467.4 L1360.2,1467.4 L1360.8,1467.4 L1361.2,1467.4 L1361.8,1467.3 L1362.2,1467.2 L1362.8,1467.1 L1363.2,1467.0 L1363.8,1466.9 L1364.2,1466.8 L1364.8,1466.7 L1365.2,1466.6 L1365.8,1466.5 L1366.2,1466.4 L1366.8,1466.3 L1367.2,1466.3 L1367.8,1466.2 L1368.2,1466.2 L1368.8,1466.1 L1369.2,1466.1 L1369.8,1466.1 L1370.0,1466.1 L1370.2,1466.1 L1370.8,1466.1 L1371.2,1466.1 L1371.8,1466.2 L1372.2,1466.3 L1372.8,1466.4 L1373.2,1466.5 L1373.8,1466.6 L1374.2,1466.7 L1374.8,1466.8 L1375.2,1466.9 L1375.8,1467.0 L1376.2,1467.1 L1376.8,1467.2 L1377.2,1467.3 L1377.8,1467.4 L1378.2,1467.4 L1378.8,1467.4 L1379.2,1467.4 L1379.8,1467.4 L1380.0,1467.4 L1380.2,1467.4 L1380.8,1467.4 L1381.2,1467.2 L1381.8,1466.8 L1382.2,1466.4 L1382.8,1466.0 L1383.2,1465.5 L1383.8,1465.1 L1384.2,1464.6 L1384.8,1464.2 L1385.2,1463.9 L1385.8,1463.8 L1386.2,1463.7 L1386.8,1463.8 L1387.2,1463.9 L1387.8,1464.2 L1388.2,1464.6 L1388.8,1465.1 L1389.2,1465.5 L1389.8,1466.0 L1390.2,1466.4 L1390.8,1466.8 L1391.2,1467.2 L1391.8,1467.4 L1392.2,1467.4 L1392.5,1467.4 L1392.8,1467.4 L1393.2,1467.4 L1393.8,1467.4 L1394.2,1467.3 L1394.8,1467.2 L1395.2,1467.0 L1395.8,1466.8 L1396.2,1466.6 L1396.8,1466.3 L1397.2,1466.1 L1397.8,1465.8 L1398.2,1465.6 L1398.8,1465.3 L1399.2,1465.1 L1399.8,1464.8 L1400.2,1464.6 L1400.8,1464.4 L1401.2,1464.2 L1401.8,1464.0 L1402.2,1463.9 L1402.8,1463.8 L1403.2,1463.7 L1403.8,1463.7 L1404.2,1463.8 L1404.8,1464.0 L1405.2,1464.4 L1405.8,1464.8 L1406.2,1465.4 L1406.8,1465.9 L1407.2,1466.5 L1407.8,1467.1 L1408.2,1467.4 L1408.8,1467.4 L1409.2,1467.4 L1409.8,1467.4 L1410.0,1467.4 L1410.2,1467.4 L1410.8,1467.4 L1411.2,1467.4 L1411.8,1467.4 L1412.2,1467.4 L1412.8,1467.4 L1413.2,1467.4 L1413.8,1467.4 L1414.2,1467.4 L1414.8,1467.2 L1415.2,1467.0 L1415.8,1466.7 L1416.2,1466.5 L1416.8,1466.2 L1417.2,1466.0 L1417.8,1465.7 L1418.2,1465.4 L1418.8,1465.2 L1419.2,1464.9 L1419.8,1464.7 L1420.0,1464.6 L1420.2,1464.5 L1420.8,1464.2 L1421.2,1463.9 L1421.8,1463.6 L1422.2,1463.2 L1422.8,1462.9 L1423.2,1462.5 L1423.8,1462.2 L1424.2,1461.9 L1424.8,1461.6 L1425.2,1461.3 L1425.8,1461.1 L1426.2,1460.9 L1426.8,1460.8 L1427.2,1460.7 L1427.5,1460.7 L1427.8,1460.7 L1428.2,1460.8 L1428.8,1460.9 L1429.2,1461.1 L1429.8,1461.3 L1430.2,1461.6 L1430.8,1461.9 L1431.2,1462.2 L1431.8,1462.5 L1432.2,1462.9 L1432.8,1463.2 L1433.2,1463.5 L1433.8,1463.9 L1434.2,1464.2 L1434.8,1464.5 L1435.0,1464.6 L1435.2,1464.7 L1435.8,1465.0 L1436.2,1465.2 L1436.8,1465.5 L1437.2,1465.8 L1437.8,1466.1 L1438.2,1466.4 L1438.8,1466.6 L1439.2,1466.9 L1439.8,1467.2 L1440.2,1467.4 L1440.8,1467.4 L1441.2,1467.4 L1441.8,1467.4 L1442.2,1467.4 L1442.8,1467.4 L1443.2,1467.4 L1443.8,1467.4 L1444.2,1467.4 L1444.8,1467.4 L1445.0,1467.4 L1445.2,1467.4 L1445.8,1467.4 L1446.2,1467.4 L1446.8,1467.4 L1447.2,1467.4 L1447.8,1467.4 L1448.2,1467.4 L1448.8,1467.4 L1449.2,1467.4 L1449.8,1467.4 L1450.2,1467.4 L1450.8,1467.4 L1451.2,1467.4 L1451.8,1467.4 L1452.2,1467.4 L1452.8,1467.4 L1453.2,1467.4 L1453.8,1467.4 L1454.2,1467.4 L1454.8,1467.4 L1455.2,1467.4 L1455.8,1467.4 L1456.2,1467.4 L1456.8,1467.4 L1457.2,1467.4 L1457.5,1467.4 L1457.8,1467.4 L1458.2,1467.4 L1458.8,1467.4 L1459.2,1467.4 L1459.8,1467.4 L1460.2,1467.4 L1460.8,1467.4 L1461.2,1467.4 L1461.8,1467.4 L1462.2,1467.4 L1462.8,1467.4 L1463.2,1467.4 L1463.8,1467.4 L1464.2,1467.4 L1464.8,1467.4 L1465.2,1467.4 L1465.8,1467.4 L1466.2,1467.4 L1466.8,1467.4 L1467.2,1467.4 L1467.8,1467.4 L1468.2,1467.4 L1468.8,1467.4 L1469.2,1467.4 L1469.8,1467.4 L1470.0,1467.4 L1470.2,1467.4 L1470.8,1467.4 L1471.2,1467.4 L1471.8,1467.4 L1472.2,1467.4 L1472.8,1467.4 L1473.2,1467.4 L1473.8,1467.4 L1474.2,1467.4 L1474.8,1467.4 L1475.2,1467.4 L1475.8,1467.4 L1476.2,1467.4 L1476.8,1467.4 L1477.2,1467.4 L1477.8,1467.4 L1478.2,1467.4 L1478.8,1467.4 L1479.2,1467.4 L1479.8,1467.4 L1480.0,1467.4 L1480.2,1467.4 L1480.8,1467.4 L1481.2,1467.3 L1481.8,1467.2 L1482.2,1467.1 L1482.8,1467.0 L1483.2,1466.9 L1483.8,1466.8 L1484.2,1466.7 L1484.8,1466.6 L1485.2,1466.5 L1485.8,1466.4 L1486.2,1466.3 L1486.8,1466.2 L1487.2,1466.2 L1487.8,1466.1 L1488.2,1466.1 L1488.8,1466.1 L1489.2,1466.1 L1489.8,1466.2 L1490.2,1466.4 L1490.8,1466.6 L1491.2,1466.9 L1491.8,1467.1 L1492.2,1467.4 L1492.8,1467.4 L1493.2,1467.4 L1493.8,1467.4 L1494.2,1467.4 L1494.8,1467.4 L1495.0,1467.4 L1495.2,1467.4 L1495.8,1467.4 L1496.2,1467.4 L1496.8,1467.4 L1497.2,1467.4 L1497.8,1467.4 L1498.2,1467.4 L1498.8,1467.4 L1499.2,1467.4 L1499.8,1467.4 L1500.2,1467.4 L1500.8,1467.4 L1501.2,1467.4 L1501.8,1467.4 L1502.2,1467.4 L1502.8,1467.4 L1503.2,1467.4 L1503.8,1467.4 L1504.2,1467.4 L1504.8,1467.4 L1505.0,1467.4 L1505.2,1467.4 L1505.8,1467.4 L1506.2,1467.4 L1506.8,1467.4 L1507.2,1467.4 L1507.8,1467.4 L1508.2,1467.4 L1508.8,1467.4 L1509.2,1467.4 L1509.8,1467.4 L1510.2,1467.4 L1510.8,1467.4 L1511.2,1467.4 L1511.8,1467.1 L1512.2,1466.9 L1512.8,1466.6 L1513.2,1466.4 L1513.8,1466.1 L1514.2,1465.7 L1514.8,1465.3 L1515.2,1464.8 L1515.8,1464.2 L1516.2,1463.5 L1516.8,1462.8 L1517.2,1462.1 L1517.8,1461.4 L1518.2,1460.7 L1518.8,1460.0 L1519.2,1459.4 L1519.8,1458.8 L1520.0,1458.6 L1520.2,1458.3 L1520.8,1457.8 L1521.2,1457.3 L1521.8,1456.8 L1522.2,1456.3 L1522.8,1455.9 L1523.2,1455.7 L1523.8,1455.6 L1524.2,1455.8 L1524.8,1456.5 L1525.2,1457.4 L1525.8,1458.5 L1526.2,1459.7 L1526.8,1460.9 L1527.2,1462.0 L1527.8,1462.8 L1528.0,1463.1 L1528.2,1463.3 L1528.8,1463.8 L1529.2,1464.3 L1529.8,1464.7 L1530.2,1465.2 L1530.8,1465.6 L1531.2,1466.0 L1531.8,1466.4 L1532.2,1466.7 L1532.8,1467.0 L1533.2,1467.2 L1533.8,1467.4 L1534.2,1467.4 L1534.8,1467.4 L1535.0,1467.4 L1535.2,1467.4 L1535.8,1467.4 L1536.2,1467.4 L1536.8,1467.4 L1537.2,1467.4 L1537.8,1467.4 L1538.2,1467.4 L1538.8,1467.4 L1539.2,1467.4 L1539.8,1467.4 L1540.2,1467.4 L1540.8,1467.4 L1541.2,1467.4 L1541.8,1467.4 L1542.2,1467.4 L1542.8,1467.4 L1543.2,1467.4 L1543.8,1467.4 L1544.2,1467.4 L1544.8,1467.4 L1545.0,1467.4 L1545.2,1467.4 L1545.8,1467.4 L1546.2,1467.4 L1546.8,1467.3 L1547.2,1467.2 L1547.8,1467.0 L1548.2,1466.8 L1548.8,1466.6 L1549.2,1466.4 L1549.8,1466.2 L1550.2,1466.0 L1550.8,1465.7 L1551.2,1465.5 L1551.8,1465.3 L1552.2,1465.1 L1552.8,1465.0 L1553.2,1464.8 L1553.8,1464.7 L1554.2,1464.6 L1554.8,1464.6 L1555.0,1464.6 L1555.2,1464.6 L1555.8,1464.7 L1556.2,1464.8 L1556.8,1465.0 L1557.2,1465.2 L1557.8,1465.5 L1558.2,1465.8 L1558.8,1466.1 L1559.2,1466.4 L1559.8,1466.7 L1560.2,1466.9 L1560.8,1467.2 L1561.2,1467.4 L1561.8,1467.4 L1562.2,1467.4 L1562.5,1467.4 L1562.8,1467.4 L1563.2,1467.4 L1563.8,1467.4 L1564.2,1467.4 L1564.8,1467.4 L1565.2,1467.3 L1565.8,1467.2 L1566.2,1467.1 L1566.8,1467.0 L1567.2,1466.9 L1567.8,1466.8 L1568.2,1466.7 L1568.8,1466.5 L1569.2,1466.4 L1569.8,1466.2 L1570.2,1466.1 L1570.8,1466.0 L1571.2,1465.8 L1571.8,1465.7 L1572.2,1465.5 L1572.5,1465.5 L1572.8,1465.4 L1573.2,1465.3 L1573.8,1465.2 L1574.2,1465.1 L1574.8,1464.9 L1575.2,1464.8 L1575.8,1464.7 L1576.2,1464.6 L1576.8,1464.4 L1577.2,1464.3 L1577.8,1464.1 L1578.2,1463.9 L1578.8,1463.7 L1579.2,1463.5 L1579.8,1463.2 L1580.0,1463.1 L1580.2,1462.9 L1580.8,1462.3 L1581.2,1461.5 L1581.8,1460.6 L1582.2,1459.5 L1582.8,1458.5 L1583.2,1457.5 L1583.8,1456.6 L1584.2,1456.0 L1584.8,1455.6 L1585.0,1455.6 L1585.2,1455.6 L1585.8,1456.0 L1586.2,1456.7 L1586.8,1457.6 L1587.2,1458.7 L1587.8,1459.8 L1588.2,1460.9 L1588.8,1461.9 L1589.2,1462.8 L1589.5,1463.1 L1589.8,1463.4 L1590.2,1463.9 L1590.8,1464.4 L1591.2,1465.0 L1591.8,1465.5 L1592.2,1465.9 L1592.8,1466.4 L1593.2,1466.7 L1593.8,1467.1 L1594.2,1467.3 L1594.8,1467.4 L1595.0,1467.4 L1595.2,1467.4 L1595.8,1467.4 L1596.2,1467.4 L1596.8,1467.4 L1597.2,1467.4 L1597.8,1467.4 L1598.2,1467.4 L1598.8,1467.4 L1599.2,1467.4 L1599.8,1467.4 L1600.2,1467.4 L1600.8,1467.4 L1601.2,1467.4 L1601.8,1467.4 L1602.2,1467.4 L1602.8,1467.4 L1603.2,1467.4 L1603.8,1467.4 L1604.2,1467.4 L1604.8,1467.4 L1605.2,1467.4 L1605.8,1467.4 L1606.2,1467.4 L1606.8,1467.4 L1607.2,1467.4 L1607.5,1467.4 L1607.8,1467.4 L1608.2,1467.4 L1608.8,1467.4 L1609.2,1467.4 L1609.8,1467.4 L1610.2,1467.4 L1610.8,1467.4 L1611.2,1467.4 L1611.8,1467.4 L1612.2,1467.4 L1612.8,1467.4 L1613.2,1467.4 L1613.8,1467.4 L1614.2,1467.4 L1614.8,1467.4 L1615.2,1467.4 L1615.8,1467.4 L1616.2,1467.4 L1616.8,1467.4 L1617.2,1467.4 L1617.8,1467.4 L1618.2,1467.4 L1618.8,1467.4 L1619.2,1467.4 L1619.8,1467.4 L1620.0,1467.4 L1620.2,1467.4 L1620.8,1467.4 L1621.2,1467.4 L1621.8,1467.4 L1622.2,1467.4 L1622.8,1467.4 L1623.2,1467.4 L1623.8,1467.4 L1624.2,1467.4 L1624.8,1467.4 L1625.2,1467.4 L1625.8,1467.4 L1626.2,1467.2 L1626.8,1467.1 L1627.2,1466.9 L1627.8,1466.8 L1628.2,1466.6 L1628.8,1466.5 L1629.2,1466.3 L1629.8,1466.2 L1630.0,1466.1 L1630.2,1466.0 L1630.8,1465.8 L1631.2,1465.6 L1631.8,1465.4 L1632.2,1465.1 L1632.8,1464.8 L1633.2,1464.6 L1633.8,1464.3 L1634.2,1464.0 L1634.8,1463.8 L1635.2,1463.6 L1635.8,1463.4 L1636.2,1463.2 L1636.8,1463.1 L1637.2,1463.1 L1637.5,1463.1 L1637.8,1463.1 L1638.2,1463.1 L1638.8,1463.1 L1639.2,1463.1 L1639.8,1463.1 L1640.2,1463.1 L1640.8,1463.1 L1641.2,1463.1 L1641.8,1463.1 L1642.2,1463.1 L1642.8,1463.1 L1643.2,1463.1 L1643.8,1463.1 L1644.2,1463.1 L1644.8,1463.1 L1645.2,1463.1 L1645.8,1463.1 L1646.2,1463.1 L1646.8,1463.1 L1647.2,1463.1 L1647.5,1463.1 L1647.8,1463.1 L1648.2,1463.0 L1648.8,1462.9 L1649.2,1462.7 L1649.8,1462.6 L1650.2,1462.3 L1650.8,1462.1 L1651.2,1461.9 L1651.8,1461.6 L1652.2,1461.4 L1652.8,1461.2 L1653.2,1461.0 L1653.8,1460.9 L1654.2,1460.7 L1654.8,1460.7 L1655.0,1460.7 L1655.2,1460.7 L1655.8,1460.8 L1656.2,1461.0 L1656.8,1461.2 L1657.2,1461.5 L1657.8,1461.8 L1658.2,1462.2 L1658.8,1462.6 L1659.2,1463.0 L1659.8,1463.5 L1660.2,1463.9 L1660.8,1464.3 L1661.2,1464.7 L1661.8,1465.0 L1662.2,1465.3 L1662.5,1465.5 L1662.8,1465.6 L1663.2,1465.9 L1663.8,1466.1 L1664.2,1466.4 L1664.8,1466.7 L1665.2,1466.9 L1665.8,1467.2 L1666.2,1467.4 L1666.8,1467.4 L1667.2,1467.4 L1667.8,1467.4 L1668.2,1467.4 L1668.8,1467.4 L1669.2,1467.4 L1669.8,1467.4 L1670.0,1467.4 L1670.2,1467.4 L1670.8,1467.4 L1671.2,1467.4 L1671.8,1467.4 L1672.2,1467.4 L1672.8,1467.4 L1673.2,1467.4 L1673.8,1467.4 L1674.2,1467.4 L1674.8,1467.4 L1675.2,1467.4 L1675.8,1467.4 L1676.2,1467.4 L1676.8,1467.4 L1677.2,1467.4 L1677.8,1467.4 L1678.2,1467.4 L1678.8,1467.4 L1679.2,1467.4 L1679.8,1467.4 L1680.0,1467.4 L1680.2,1467.4 L1680.8,1467.4 L1681.2,1467.3 L1681.8,1467.2 L1682.2,1467.0 L1682.8,1466.8 L1683.2,1466.6 L1683.8,1466.4 L1684.2,1466.2 L1684.8,1466.0 L1685.2,1465.8 L1685.8,1465.6 L1686.2,1465.4 L1686.8,1465.2 L1687.2,1465.1 L1687.8,1464.9 L1688.2,1464.8 L1688.8,1464.7 L1689.2,1464.6 L1689.8,1464.6 L1690.0,1464.6 L1690.2,1464.6 L1690.8,1464.7 L1691.2,1464.8 L1691.8,1465.0 L1692.2,1465.2 L1692.8,1465.5 L1693.2,1465.8 L1693.8,1466.1 L1694.2,1466.4 L1694.8,1466.7 L1695.2,1466.9 L1695.8,1467.2 L1696.2,1467.4 L1696.8,1467.4 L1697.2,1467.4 L1697.5,1467.4 L1697.8,1467.4 L1698.2,1467.4 L1698.8,1467.4 L1699.2,1467.4 L1699.8,1467.4 L1700.0,1467.4 L1700.2,1467.4 L1700.8,1467.4 L1701.2,1467.4 L1701.8,1467.4 L1702.2,1467.4 L1702.8,1467.4 L1703.2,1467.4 L1703.8,1467.4 L1704.2,1467.4 L1704.8,1467.4 L1705.2,1467.4 L1705.8,1467.4 L1706.2,1467.4 L1706.8,1467.4 L1707.2,1467.4 L1707.8,1467.4 L1708.2,1467.4 L1708.8,1467.4 L1709.2,1467.4 L1709.8,1467.4 L1710.0,1467.4 L1710.2,1467.4 L1710.8,1467.4 L1711.2,1467.4 L1711.8,1467.4 L1712.2,1467.4 L1712.8,1467.4 L1713.2,1467.4 L1713.8,1467.4 L1714.2,1467.4 L1714.8,1467.4 L1715.2,1467.4 L1715.8,1467.4 L1716.2,1467.4 L1716.8,1467.4 L1717.2,1467.4 L1717.5,1467.4 L1717.8,1467.4 L1718.2,1467.4 L1718.8,1467.4 L1719.2,1467.4 L1719.8,1467.4 L1720.2,1467.4 L1720.8,1467.4 L1721.2,1467.4 L1721.8,1467.4 L1722.2,1467.4 L1722.8,1467.4 L1723.2,1467.4 L1723.8,1467.4 L1724.2,1467.4 L1724.8,1467.4 L1725.2,1467.4 L1725.8,1467.4 L1726.2,1467.4 L1726.8,1467.4 L1727.2,1467.4 L1727.5,1467.4 L1727.8,1467.4 L1728.2,1467.4 L1728.8,1467.2 L1729.2,1467.0 L1729.8,1466.9 L1730.2,1466.7 L1730.8,1466.5 L1731.2,1466.3 L1731.8,1466.1 L1732.2,1465.9 L1732.8,1465.6 L1733.2,1465.4 L1733.8,1465.2 L1734.2,1464.9 L1734.8,1464.7 L1735.0,1464.6 L1735.2,1464.4 L1735.8,1464.1 L1736.2,1463.8 L1736.8,1463.4 L1737.2,1463.0 L1737.8,1462.6 L1738.2,1462.1 L1738.8,1461.8 L1739.2,1461.4 L1739.8,1461.1 L1740.2,1460.9 L1740.8,1460.7 L1741.2,1460.7 L1741.8,1460.8 L1742.2,1461.2 L1742.8,1461.8 L1743.2,1462.6 L1743.8,1463.4 L1744.2,1464.2 L1744.8,1464.9 L1745.2,1465.5 L1745.8,1465.9 L1746.2,1466.1 L1746.8,1466.0 L1747.2,1466.0 L1747.8,1465.8 L1748.2,1465.7 L1748.8,1465.5 L1749.2,1465.2 L1749.8,1465.0 L1750.2,1464.8 L1750.8,1464.5 L1751.2,1464.3 L1751.8,1464.1 L1752.2,1463.9 L1752.8,1463.8 L1753.2,1463.7 L1753.8,1463.7 L1754.2,1463.7 L1754.8,1463.8 L1755.2,1464.0 L1755.8,1464.2 L1756.2,1464.5 L1756.8,1464.7 L1757.2,1465.1 L1757.8,1465.4 L1758.2,1465.7 L1758.8,1466.0 L1759.2,1466.4 L1759.8,1466.7 L1760.2,1466.9 L1760.8,1467.2 L1761.2,1467.4 L1761.8,1467.4 L1762.2,1467.4 L1762.5,1467.4 L1762.8,1467.4 L1763.2,1467.4 L1763.8,1467.4 L1764.2,1467.2 L1764.8,1467.0 L1765.2,1466.7 L1765.8,1466.5 L1766.2,1466.2 L1766.8,1465.8 L1767.2,1465.5 L1767.8,1465.2 L1768.2,1464.8 L1768.8,1464.5 L1769.2,1464.2 L1769.8,1463.9 L1770.2,1463.7 L1770.8,1463.4 L1771.2,1463.3 L1771.8,1463.2 L1772.2,1463.1 L1772.5,1463.1 L1772.8,1463.1 L1773.2,1463.1 L1773.8,1463.1 L1774.2,1463.1 L1774.8,1463.1 L1775.2,1463.1 L1775.8,1463.2 L1776.2,1463.2 L1776.8,1463.2 L1777.2,1463.3 L1777.8,1463.3 L1778.2,1463.3 L1778.8,1463.4 L1779.2,1463.4 L1779.8,1463.5 L1780.2,1463.5 L1780.8,1463.5 L1781.2,1463.6 L1781.8,1463.6 L1782.2,1463.7 L1782.5,1463.7 L1782.8,1463.7 L1783.2,1463.7 L1783.8,1463.8 L1784.2,1463.8 L1784.8,1463.9 L1785.2,1463.9 L1785.8,1464.0 L1786.2,1464.0 L1786.8,1464.1 L1787.2,1464.1 L1787.8,1464.2 L1788.2,1464.3 L1788.8,1464.4 L1789.2,1464.4 L1789.8,1464.5 L1790.0,1464.6 L1790.2,1464.6 L1790.8,1464.8 L1791.2,1465.1 L1791.8,1465.4 L1792.2,1465.7 L1792.8,1466.1 L1793.2,1466.5 L1793.8,1466.9 L1794.2,1467.3 L1794.8,1467.4 L1795.2,1467.4 L1795.8,1467.4 L1796.2,1467.4 L1796.8,1467.4 L1797.2,1467.4 L1797.5,1467.4 L1797.8,1467.4 L1798.2,1467.4 L1798.8,1467.4 L1799.2,1467.4 L1799.8,1467.4 L1800.2,1467.4 L1800.8,1467.4 L1801.2,1467.4 L1801.8,1467.4 L1802.2,1467.4 L1802.8,1467.4 L1803.2,1467.4 L1803.8,1467.4 L1804.2,1467.4 L1804.8,1467.4 L1805.2,1467.4 L1805.8,1467.4 L1806.2,1467.4 L1806.8,1467.4 L1807.2,1467.4 L1807.8,1467.4 L1808.2,1467.4 L1808.8,1467.4 L1809.2,1467.4 L1809.8,1467.4 L1810.0,1467.4 L1810.2,1467.4 L1810.8,1467.4 L1811.2,1467.4 L1811.8,1467.4 L1812.2,1467.4 L1812.8,1467.4 L1813.2,1467.4 L1813.8,1467.4 L1814.2,1467.4 L1814.8,1467.4 L1815.2,1467.4 L1815.8,1467.4 L1816.2,1467.4 L1816.8,1467.4 L1817.2,1467.4 L1817.8,1467.4 L1818.2,1467.4 L1818.8,1467.4 L1819.2,1467.4 L1819.8,1467.4 L1820.2,1467.4 L1820.8,1467.4 L1821.2,1467.4 L1821.8,1467.4 L1822.2,1467.4 L1822.8,1467.4 L1823.2,1467.4 L1823.8,1467.4 L1824.2,1467.4 L1824.8,1467.4 L1825.0,1467.4 L1825.2,1467.4 L1825.8,1467.4 L1826.2,1467.4 L1826.8,1467.4 L1827.2,1467.4 L1827.8,1467.4 L1828.2,1467.4 L1828.8,1467.4 L1829.2,1467.4 L1829.8,1467.4 L1830.2,1467.4 L1830.8,1467.2 L1831.2,1467.1 L1831.8,1467.0 L1832.2,1466.8 L1832.8,1466.7 L1833.2,1466.6 L1833.8,1466.5 L1834.2,1466.4 L1834.8,1466.3 L1835.2,1466.2 L1835.8,1466.2 L1836.2,1466.1 L1836.8,1466.1 L1837.2,1466.1 L1837.5,1466.1 L1837.8,1466.1 L1838.2,1466.1 L1838.8,1466.1 L1839.2,1466.1 L1839.8,1466.2 L1840.2,1466.2 L1840.8,1466.3 L1841.2,1466.3 L1841.8,1466.4 L1842.2,1466.4 L1842.8,1466.5 L1843.2,1466.6 L1843.8,1466.6 L1844.2,1466.7 L1844.8,1466.8 L1845.2,1466.9 L1845.8,1467.0 L1846.2,1467.0 L1846.8,1467.1 L1847.2,1467.2 L1847.8,1467.3 L1848.2,1467.3 L1848.8,1467.4 L1849.2,1467.4 L1849.8,1467.4 L1850.0,1467.4 L1850.2,1467.4 L1850.8,1467.4 L1851.2,1467.4 L1851.8,1467.4 L1852.2,1467.4 L1852.8,1467.4 L1853.2,1467.4 L1853.8,1467.4 L1854.2,1467.4 L1854.8,1467.4 L1855.2,1467.4 L1855.8,1467.4 L1856.2,1467.4 L1856.8,1467.4 L1857.2,1467.4 L1857.8,1467.4 L1858.2,1467.4 L1858.8,1467.4 L1859.2,1467.4 L1859.8,1467.4 L1860.2,1467.4 L1860.8,1467.4 L1861.2,1467.4 L1861.8,1467.4 L1862.2,1467.4 L1862.5,1467.4 L1862.8,1467.4 L1863.2,1467.4 L1863.8,1467.4 L1864.2,1467.4 L1864.8,1467.4 L1865.2,1467.4 L1865.8,1467.4 L1866.2,1467.4 L1866.8,1467.4 L1867.2,1467.4 L1867.8,1467.4 L1868.2,1467.4 L1868.8,1467.4 L1869.2,1467.4 L1869.8,1467.4 L1870.2,1467.4 L1870.8,1467.4 L1871.2,1467.4 L1871.8,1467.4 L1872.2,1467.4 L1872.8,1467.4 L1873.2,1467.4 L1873.8,1467.4 L1874.2,1467.4 L1874.8,1467.4 L1875.0,1467.4 L1875.2,1467.4 L1875.8,1467.4 L1876.2,1467.4 L1876.8,1467.3 L1877.2,1467.3 L1877.8,1467.2 L1878.2,1467.1 L1878.8,1467.0 L1879.2,1467.0 L1879.8,1466.9 L1880.2,1466.8 L1880.8,1466.7 L1881.2,1466.7 L1881.8,1466.6 L1882.2,1466.5 L1882.8,1466.4 L1883.2,1466.3 L1883.8,1466.2 L1884.2,1466.1 L1884.8,1466.1 L1885.2,1466.0 L1885.8,1465.9 L1886.2,1465.8 L1886.8,1465.6 L1887.2,1465.5 L1887.5,1465.5 L1887.8,1465.4 L1888.2,1465.3 L1888.8,1465.1 L1889.2,1464.9 L1889.8,1464.7 L1890.2,1464.5 L1890.8,1464.3 L1891.2,1464.1 L1891.8,1463.9 L1892.2,1463.7 L1892.8,1463.5 L1893.2,1463.3 L1893.8,1463.2 L1894.2,1463.1 L1894.8,1463.1 L1895.0,1463.1 L1895.2,1463.1 L1895.8,1463.1 L1896.2,1463.2 L1896.8,1463.4 L1897.2,1463.6 L1897.8,1463.8 L1898.2,1464.0 L1898.8,1464.3 L1899.2,1464.6 L1899.8,1464.8 L1900.2,1465.1 L1900.8,1465.4 L1901.2,1465.6 L1901.8,1465.8 L1902.2,1466.0 L1902.5,1466.1 L1902.8,1466.2 L1903.2,1466.3 L1903.8,1466.5 L1904.2,1466.6 L1904.8,1466.7 L1905.2,1466.9 L1905.8,1467.0 L1906.2,1467.2 L1906.8,1467.3 L1907.2,1467.4 L1907.8,1467.4 L1908.2,1467.4 L1908.8,1467.4 L1909.2,1467.4 L1909.8,1467.4 L1910.2,1467.4 L1910.8,1467.4 L1911.2,1467.4 L1911.8,1467.4 L1912.2,1467.4 L1912.5,1467.4 L1912.8,1467.4 L1913.2,1467.4 L1913.8,1467.4 L1914.2,1467.4 L1914.8,1467.4 L1915.2,1467.4 L1915.8,1467.4 L1916.2,1467.4 L1916.8,1467.4 L1917.2,1467.4 L1917.8,1467.4 L1918.2,1467.4 L1918.8,1467.4 L1919.2,1467.4 L1919.8,1467.4 L1920.2,1467.4 L1920.8,1467.4 L1921.2,1467.4 L1921.8,1467.4 L1922.2,1467.4 L1922.8,1467.4 L1923.2,1467.4 L1923.8,1467.4 L1924.2,1467.4 L1924.8,1467.4 L1925.0,1467.4 L1925.2,1467.4 L1925.8,1467.4 L1926.2,1467.4 L1926.8,1467.4 L1927.2,1467.4 L1927.8,1467.4 L1928.2,1467.4 L1928.8,1467.4 L1929.2,1467.4 L1929.8,1467.4 L1930.2,1467.4 L1930.8,1467.4 L1931.2,1467.4 L1931.8,1467.4 L1932.2,1467.4 L1932.8,1467.4 L1933.2,1467.4 L1933.8,1467.4 L1934.2,1467.4 L1934.8,1467.4 L1935.0,1467.4 L1935.2,1467.4 L1935.8,1467.4 L1936.2,1467.4 L1936.8,1467.4 L1937.2,1467.4 L1937.8,1467.4 L1938.2,1467.4 L1938.8,1467.4 L1939.2,1467.4 L1939.8,1467.3 L1940.2,1467.1 L1940.8,1467.0 L1941.2,1466.8 L1941.8,1466.7 L1942.2,1466.7 L1942.5,1466.7 L1942.8,1466.7 L1943.2,1466.7 L1943.8,1466.7 L1944.2,1466.8 L1944.8,1466.8 L1945.2,1466.8 L1945.8,1466.9 L1946.2,1467.0 L1946.8,1467.0 L1947.2,1467.1 L1947.8,1467.2 L1948.2,1467.2 L1948.8,1467.3 L1949.2,1467.4 L1949.8,1467.4 L1950.2,1467.4 L1950.8,1467.4 L1951.2,1467.4 L1951.8,1467.4 L1952.2,1467.4 L1952.5,1467.4 L1952.8,1467.4 L1953.2,1467.4 L1953.8,1467.4 L1954.2,1467.4 L1954.8,1467.4 L1955.2,1467.4 L1955.8,1467.4 L1956.2,1467.4 L1956.8,1467.3 L1957.2,1467.3 L1957.8,1467.2 L1958.2,1467.2 L1958.8,1467.1 L1959.2,1467.1 L1959.8,1467.0 L1960.2,1467.0 L1960.8,1466.9 L1961.2,1466.9 L1961.8,1466.8 L1962.2,1466.8 L1962.8,1466.8 L1963.2,1466.7 L1963.8,1466.7 L1964.2,1466.7 L1964.8,1466.7 L1965.0,1466.7 L1965.2,1466.7 L1965.8,1466.7 L1966.2,1466.7 L1966.8,1466.8 L1967.2,1466.8 L1967.8,1466.8 L1968.2,1466.9 L1968.8,1467.0 L1969.2,1467.0 L1969.8,1467.1 L1970.2,1467.2 L1970.8,1467.2 L1971.2,1467.3 L1971.8,1467.4 L1972.2,1467.4 L1972.8,1467.4 L1973.2,1467.4 L1973.8,1467.4 L1974.2,1467.4 L1974.8,1467.4 L1975.0,1467.4 L1975.2,1467.4 L1975.8,1467.4 L1976.2,1467.4 L1976.8,1467.4 L1977.2,1467.4 L1977.8,1467.4 L1978.2,1467.4 L1978.8,1467.3 L1979.2,1467.2 L1979.8,1467.1 L1980.2,1467.0 L1980.8,1467.0 L1981.2,1466.9 L1981.8,1466.8 L1982.2,1466.7 L1982.8,1466.6 L1983.2,1466.4 L1983.8,1466.3 L1984.2,1466.2 L1984.8,1466.1 L1985.0,1466.1 L1985.2,1466.0 L1985.8,1465.9 L1986.2,1465.7 L1986.8,1465.5 L1987.2,1465.3 L1987.8,1465.1 L1988.2,1464.9 L1988.8,1464.7 L1989.2,1464.5 L1989.8,1464.3 L1990.2,1464.1 L1990.8,1463.9 L1991.2,1463.8 L1991.8,1463.7 L1992.2,1463.7 L1992.5,1463.7 L1992.8,1463.7 L1993.2,1463.8 L1993.8,1464.0 L1994.2,1464.2 L1994.8,1464.5 L1995.2,1464.9 L1995.8,1465.2 L1996.2,1465.6 L1996.8,1466.0 L1997.2,1466.4 L1997.8,1466.7 L1998.2,1467.0 L1998.8,1467.3 L1999.2,1467.4 L1999.8,1467.4 L2000.0,1467.4 L2000.2,1467.4 L2000.8,1467.4 L2001.2,1467.4 L2001.8,1467.4 L2002.2,1467.4 L2002.8,1467.4 L2003.2,1467.4 L2003.8,1467.4 L2004.2,1467.3 L2004.8,1467.3 L2005.2,1467.2 L2005.8,1467.2 L2006.2,1467.1 L2006.8,1467.0 L2007.2,1467.0 L2007.8,1466.9 L2008.2,1466.9 L2008.8,1466.8 L2009.2,1466.8 L2009.8,1466.7 L2010.0,1466.7 L2010.2,1466.7 L2010.8,1466.6 L2011.2,1466.6 L2011.8,1466.5 L2012.2,1466.4 L2012.8,1466.4 L2013.2,1466.3 L2013.8,1466.3 L2014.2,1466.2 L2014.8,1466.1 L2015.2,1466.1 L2015.8,1466.0 L2016.2,1465.9 L2016.8,1465.9 L2017.2,1465.8 L2017.8,1465.8 L2018.2,1465.7 L2018.8,1465.7 L2019.2,1465.6 L2019.8,1465.6 L2020.2,1465.6 L2020.8,1465.5 L2021.2,1465.5 L2021.8,1465.5 L2022.2,1465.5 L2022.5,1465.5 L2022.8,1465.5 L2023.2,1465.6 L2023.8,1465.7 L2024.2,1465.8 L2024.8,1466.1 L2025.2,1466.3 L2025.8,1466.6 L2026.2,1466.8 L2026.8,1467.1 L2027.2,1467.4 L2027.8,1467.4 L2028.2,1467.4 L2028.8,1467.4 L2029.2,1467.4 L2029.8,1467.4 L2030.0,1467.4 L2030.2,1467.4 L2030.8,1467.4 L2031.2,1467.4 L2031.8,1467.4 L2032.2,1467.4 L2032.8,1467.4 L2033.2,1467.4 L2033.8,1467.4 L2034.2,1467.4 L2034.8,1467.4 L2035.2,1467.4 L2035.8,1467.4 L2036.2,1467.4 L2036.8,1467.4 L2037.2,1467.4 L2037.8,1467.4 L2038.2,1467.4 L2038.8,1467.4 L2039.2,1467.4 L2039.8,1467.4 L2040.2,1467.4 L2040.8,1467.4 L2041.2,1467.4 L2041.8,1467.4 L2042.2,1467.4 L2042.5,1467.4 L2042.8,1467.4 L2043.2,1467.4 L2043.8,1467.4 L2044.2,1467.4 L2044.8,1467.4 L2045.2,1467.4 L2045.8,1467.4 L2046.2,1467.4 L2046.8,1467.4 L2047.2,1467.4 L2047.8,1467.4 L2048.2,1467.4 L2048.8,1467.4 L2049.2,1467.4 L2049.8,1467.4 L2050.2,1467.4 L2050.8,1467.4 L2051.2,1467.4 L2051.8,1467.4 L2052.2,1467.4 L2052.8,1467.4 L2053.2,1467.4 L2053.8,1467.4 L2054.2,1467.4 L2054.8,1467.4 L2055.0,1467.4 L2055.2,1467.4 L2055.8,1467.4 L2056.2,1467.4 L2056.8,1467.4 L2057.2,1467.4 L2057.8,1467.4 L2058.2,1467.4 L2058.8,1467.4 L2059.2,1467.4 L2059.8,1467.4 L2060.2,1467.4 L2060.8,1467.4 L2061.2,1467.4 L2061.8,1467.4 L2062.2,1467.4 L2062.8,1467.4 L2063.2,1467.4 L2063.8,1467.4 L2064.2,1467.4 L2064.8,1467.4 L2065.0,1467.4 L2065.2,1467.4 L2065.8,1467.4 L2066.2,1467.3 L2066.8,1467.2 L2067.2,1467.1 L2067.8,1466.9 L2068.2,1466.8 L2068.8,1466.7 L2069.2,1466.5 L2069.8,1466.4 L2070.2,1466.2 L2070.8,1466.1 L2071.2,1466.0 L2071.8,1465.9 L2072.2,1465.8 L2072.8,1465.7 L2073.2,1465.6 L2073.8,1465.5 L2074.2,1465.5 L2074.8,1465.5 L2075.0,1465.5 L2075.2,1465.5 L2075.8,1465.5 L2076.2,1465.5 L2076.8,1465.5 L2077.2,1465.5 L2077.8,1465.5 L2078.2,1465.6 L2078.8,1465.6 L2079.2,1465.6 L2079.8,1465.6 L2080.2,1465.7 L2080.8,1465.7 L2081.2,1465.8 L2081.8,1465.8 L2082.2,1465.8 L2082.8,1465.9 L2083.2,1465.9 L2083.8,1466.0 L2084.2,1466.0 L2084.8,1466.1 L2085.0,1466.1 L2085.2,1466.1 L2085.8,1466.2 L2086.2,1466.3 L2086.8,1466.4 L2087.2,1466.5 L2087.8,1466.6 L2088.2,1466.8 L2088.8,1466.9 L2089.2,1467.1 L2089.8,1467.2 L2090.2,1467.4 L2090.8,1467.4 L2091.2,1467.4 L2091.8,1467.4 L2092.2,1467.4 L2092.8,1467.4 L2093.2,1467.4 L2093.8,1467.4 L2094.2,1467.4 L2094.8,1467.4 L2095.2,1467.4 L2095.8,1467.4 L2096.2,1467.4 L2096.8,1467.4 L2097.2,1467.4 L2097.5,1467.4 L2097.8,1467.4 L2098.2,1467.4 L2098.8,1467.4 L2099.2,1467.4 L2099.8,1467.4 L2100.2,1467.4 L2100.8,1467.4 L2101.2,1467.4 L2101.8,1467.4 L2102.2,1467.4 L2102.8,1467.4 L2103.2,1467.4 L2103.8,1467.4 L2104.2,1467.4 L2104.8,1467.4 L2105.2,1467.4 L2105.8,1467.3 L2106.2,1467.1 L2106.8,1466.9 L2107.2,1466.8 L2107.5,1466.7 L2107.8,1466.6 L2108.2,1466.4 L2108.8,1466.1 L2109.2,1465.8 L2109.8,1465.5 L2110.2,1465.2 L2110.8,1464.8 L2111.2,1464.5 L2111.8,1464.3 L2112.2,1464.0 L2112.8,1463.8 L2113.2,1463.7 L2113.8,1463.7 L2114.2,1463.7 L2114.8,1463.9 L2115.2,1464.2 L2115.8,1464.5 L2116.2,1464.9 L2116.8,1465.3 L2117.2,1465.8 L2117.8,1466.2 L2118.2,1466.6 L2118.8,1467.0 L2119.2,1467.3 L2119.8,1467.4 L2120.0,1467.4 L2120.2,1467.4 L2120.8,1467.4 L2121.2,1467.4 L2121.8,1467.4 L2122.2,1467.4 L2122.8,1467.4 L2123.2,1467.4 L2123.8,1467.4 L2124.2,1467.4 L2124.8,1467.4 L2125.2,1467.4 L2125.8,1467.4 L2126.2,1467.4 L2126.8,1467.4 L2127.2,1467.4 L2127.8,1467.4 L2128.2,1467.4 L2128.8,1467.4 L2129.2,1467.4 L2129.8,1467.4 L2130.0,1467.4 L2130.2,1467.4 L2130.8,1467.4 L2131.2,1467.4 L2131.8,1467.4 L2132.2,1467.4 L2132.8,1467.4 L2133.2,1467.4 L2133.8,1467.4 L2134.2,1467.4 L2134.8,1467.4 L2135.2,1467.4 L2135.8,1467.4 L2136.2,1467.4 L2136.8,1467.4 L2137.2,1467.4 L2137.8,1467.4 L2138.2,1467.4 L2138.8,1467.4 L2139.2,1467.4 L2139.8,1467.4 L2140.2,1467.4 L2140.8,1467.4 L2141.2,1467.4 L2141.8,1467.4 L2142.2,1467.4 L2142.5,1467.4 L2142.8,1467.4 L2143.2,1467.4 L2143.8,1467.4 L2144.2,1467.4 L2144.8,1467.4 L2145.2,1467.4 L2145.8,1467.4 L2146.2,1467.4 L2146.8,1467.4 L2147.2,1467.4 L2147.8,1467.4 L2148.2,1467.4 L2148.8,1467.4 L2149.2,1467.4 L2149.8,1467.4 L2150.0,1467.4 L2150.2,1467.4 L2150.8,1467.4 L2151.2,1467.4 L2151.8,1467.4 L2152.2,1467.4 L2152.8,1467.4 L2153.2,1467.4 L2153.8,1467.4 L2154.2,1467.4 L2154.8,1467.4 L2155.2,1467.4 L2155.8,1467.4 L2156.2,1467.4 L2156.8,1467.4 L2157.2,1467.4 L2157.8,1467.4 L2158.2,1467.4 L2158.8,1467.4 L2159.2,1467.4 L2159.8,1467.4 L2160.0,1467.4 L2160.2,1467.4 L2160.8,1467.4 L2161.2,1467.4 L2161.8,1467.4 L2162.2,1467.4 L2162.8,1467.4 L2163.2,1467.4 L2163.8,1467.4 L2164.2,1467.4 L2164.8,1467.4 L2165.2,1467.4 L2165.8,1467.4 L2166.2,1467.4 L2166.8,1467.4 L2167.2,1467.4 L2167.8,1467.4 L2168.2,1467.4 L2168.8,1467.4 L2169.2,1467.4 L2169.8,1467.4 L2170.0,1467.4 L2170.2,1467.4 L2170.8,1467.4 L2171.2,1467.4 L2171.8,1467.4 L2172.2,1467.4 L2172.8,1467.4 L2173.2,1467.4 L2173.8,1467.4 L2174.2,1467.4 L2174.8,1467.4 L2175.2,1467.4 L2175.8,1467.4 L2176.2,1467.4 L2176.8,1467.4 L2177.2,1467.4 L2177.8,1467.4 L2178.2,1467.4 L2178.8,1467.4 L2179.2,1467.4 L2179.8,1467.4 L2180.2,1467.4 L2180.8,1467.4 L2181.2,1467.4 L2181.8,1467.4 L2182.2,1467.4 L2182.8,1467.4 L2183.2,1467.4 L2183.8,1467.4 L2184.2,1467.4 L2184.8,1467.4 L2185.2,1467.4 L2185.8,1467.4 L2186.2,1467.4" fill="none" stroke="#000000" stroke-width="7.1" stroke-linejoin="round" stroke-linecap="butt"/>
<path d="M203.8,1187.0 L204.2,1187.0 L204.8,1186.9 L205.2,1186.9 L205.8,1186.9 L206.2,1186.8 L206.8,1186.8 L207.2,1186.8 L207.8,1186.7 L208.2,1186.7 L208.8,1186.7 L209.2,1186.6 L209.8,1186.6 L210.2,1186.6 L210.8,1186.5 L211.2,1186.5 L211.8,1186.4 L212.2,1186.4 L212.8,1186.4 L213.2,1186.3 L213.8,1186.3 L214.2,1186.3 L214.8,1186.2 L215.2,1186.2 L215.8,1186.1 L216.2,1186.1 L216.8,1186.1 L217.2,1186.0 L217.8,1186.0 L218.2,1185.9 L218.8,1185.9 L219.2,1185.9 L219.8,1185.8 L220.2,1185.8 L220.8,1185.7 L221.2,1185.7 L221.8,1185.7 L222.2,1185.6 L222.8,1185.6 L223.2,1185.5 L223.8,1185.5 L224.2,1185.5 L224.8,1185.4 L225.2,1185.4 L225.8,1185.3 L226.2,1185.3 L226.8,1185.2 L227.2,1185.1 L227.8,1185.1 L228.2,1185.0 L228.8,1185.0 L229.2,1184.9 L229.8,1184.8 L230.2,1184.8 L230.8,1184.7 L231.2,1184.7 L231.8,1184.6 L232.2,1184.5 L232.8,1184.5 L233.2,1184.4 L233.8,1184.4 L234.2,1184.3 L234.8,1184.2 L235.2,1184.2 L235.8,1184.1 L236.2,1184.1 L236.8,1184.0 L237.2,1184.0 L237.8,1184.0 L238.2,1183.9 L238.8,1183.9 L239.2,1183.9 L239.8,1183.8 L240.2,1183.8 L240.8,1183.8 L241.2,1183.8 L241.8,1183.8 L242.2,1183.8 L242.5,1183.8 L242.8,1183.8 L243.2,1183.8 L243.8,1183.8 L244.2,1183.8 L244.8,1183.8 L245.2,1183.8 L245.8,1183.8 L246.2,1183.8 L246.8,1183.8 L247.2,1183.8 L247.8,1183.8 L248.2,1183.8 L248.8,1183.8 L249.2,1183.8 L249.8,1183.8 L250.2,1183.8 L250.8,1183.8 L251.2,1183.8 L251.8,1183.8 L252.2,1183.8 L252.8,1183.8 L253.2,1183.8 L253.8,1183.8 L254.2,1183.8 L254.8,1183.8 L255.2,1183.8 L255.8,1183.8 L256.2,1183.8 L256.8,1183.8 L257.2,1183.8 L257.8,1183.8 L258.2,1183.8 L258.8,1183.8 L259.2,1183.8 L259.8,1183.8 L260.2,1183.8 L260.8,1183.8 L261.2,1183.8 L261.8,1183.8 L262.2,1183.8 L262.8,1183.8 L263.2,1183.8 L263.8,1183.8 L264.2,1183.8 L264.8,1183.8 L265.2,1183.8 L265.8,1183.8 L266.2,1183.8 L266.8,1183.8 L267.2,1183.8 L267.8,1183.8 L268.2,1183.8 L268.8,1183.8 L269.2,1183.8 L269.8,1183.8 L270.2,1183.8 L270.8,1183.8 L271.2,1183.8 L271.8,1183.8 L272.2,1183.8 L272.8,1183.8 L273.2,1183.8 L273.8,1183.8 L274.2,1183.8 L274.8,1183.8 L275.2,1183.8 L275.8,1183.8 L276.2,1183.8 L276.8,1183.8 L277.2,1183.8 L277.8,1183.8 L278.2,1183.8 L278.8,1183.8 L279.2,1183.8 L279.8,1183.8 L280.0,1183.8 L280.2,1183.8 L280.8,1183.8 L281.2,1183.8 L281.8,1183.8 L282.2,1183.8 L282.8,1183.8 L283.2,1183.8 L283.8,1183.8 L284.2,1183.8 L284.8,1183.8 L285.2,1183.8 L285.8,1183.8 L286.2,1183.8 L286.8,1183.8 L287.2,1183.8 L287.8,1183.8 L288.2,1183.8 L288.8,1183.8 L289.2,1183.8 L289.8,1183.8 L290.2,1183.8 L290.8,1183.8 L291.2,1183.8 L291.8,1183.8 L292.2,1183.8 L292.8,1183.8 L293.2,1183.8 L293.8,1183.8 L294.2,1183.8 L294.8,1183.8 L295.2,1183.8 L295.8,1183.8 L296.2,1183.8 L296.8,1183.8 L297.2,1183.8 L297.8,1183.8 L298.2,1183.8 L298.8,1183.8 L299.2,1183.8 L299.8,1183.8 L300.0,1183.8 L300.2,1183.7 L300.8,1183.7 L301.2,1183.7 L301.8,1183.6 L302.2,1183.6 L302.8,1183.5 L303.2,1183.4 L303.8,1183.3 L304.2,1183.2 L304.8,1183.0 L305.2,1182.8 L305.8,1182.7 L306.2,1182.5 L306.8,1182.3 L307.2,1182.0 L307.8,1181.8 L308.2,1181.5 L308.8,1181.2 L309.2,1180.8 L309.8,1180.0 L310.2,1179.1 L310.8,1178.1 L311.1,1177.4 L311.8,1176.3 L312.2,1175.4 L312.8,1174.6 L313.2,1173.6 L313.8,1172.4 L314.2,1171.1 L314.6,1169.9 L315.2,1166.5 L315.8,1162.7 L316.1,1159.9 L316.8,1155.9 L317.2,1152.0 L317.6,1147.3 L318.0,1134.8 L318.4,1122.3 L318.8,1118.2 L319.2,1115.0 L319.6,1109.8 L319.7,1097.2 L319.9,1084.7 L320.4,1074.5 L320.8,1075.3 L321.2,1078.4 L321.8,1082.4 L322.1,1084.7 L322.8,1088.7 L323.2,1091.6 L323.8,1094.5 L324.2,1097.2 L324.8,1100.3 L325.2,1103.0 L325.8,1106.1 L326.2,1109.8 L326.8,1116.8 L327.1,1122.3 L327.7,1134.8 L328.2,1140.0 L328.8,1143.5 L329.2,1147.3 L329.8,1154.1 L330.2,1159.9 L330.8,1164.9 L331.2,1168.7 L331.5,1169.9 L331.8,1171.1 L332.2,1173.1 L332.8,1174.8 L333.2,1176.1 L333.8,1177.1 L334.0,1177.4 L334.2,1177.7 L334.8,1178.2 L335.2,1178.7 L335.8,1179.2 L336.2,1179.7 L336.8,1180.1 L337.2,1180.4 L337.8,1180.8 L338.2,1181.1 L338.8,1181.4 L339.2,1181.6 L339.8,1181.9 L340.2,1182.0 L340.8,1182.2 L341.2,1182.3 L341.8,1182.4 L342.2,1182.5 L342.5,1182.5 L342.8,1182.5 L343.2,1182.5 L343.8,1182.6 L344.2,1182.6 L344.8,1182.6 L345.2,1182.7 L345.8,1182.7 L346.2,1182.7 L346.8,1182.7 L347.2,1182.7 L347.8,1182.8 L348.2,1182.8 L348.8,1182.8 L349.2,1182.8 L349.8,1182.8 L350.2,1182.9 L350.8,1182.9 L351.2,1182.9 L351.8,1182.9 L352.2,1182.9 L352.8,1182.9 L353.2,1182.9 L353.8,1182.9 L354.2,1183.0 L354.8,1183.0 L355.2,1183.0 L355.8,1183.0 L356.2,1183.0 L356.8,1183.0 L357.2,1183.0 L357.8,1183.0 L358.2,1183.0 L358.8,1183.0 L359.2,1183.0 L359.8,1183.0 L360.0,1183.0 L360.2,1183.0 L360.8,1183.0 L361.2,1183.0 L361.8,1183.0 L362.2,1183.0 L362.8,1183.0 L363.2,1183.0 L363.8,1183.0 L364.2,1183.0 L364.8,1183.0 L365.2,1182.9 L365.8,1182.9 L366.2,1182.9 L366.8,1182.9 L367.2,1182.9 L367.8,1182.9 L368.2,1182.9 L368.8,1182.9 L369.2,1182.8 L369.8,1182.8 L370.2,1182.8 L370.8,1182.8 L371.2,1182.8 L371.8,1182.8 L372.2,1182.8 L372.8,1182.7 L373.2,1182.7 L373.8,1182.7 L374.2,1182.7 L374.8,1182.7 L375.2,1182.7 L375.8,1182.6 L376.2,1182.6 L376.8,1182.6 L377.2,1182.6 L377.8,1182.6 L378.2,1182.6 L378.8,1182.5 L379.2,1182.5 L379.8,1182.5 L380.0,1182.5 L380.2,1182.5 L380.8,1182.5 L381.2,1182.5 L381.8,1182.5 L382.2,1182.4 L382.8,1182.4 L383.2,1182.4 L383.8,1182.4 L384.2,1182.4 L384.8,1182.4 L385.2,1182.4 L385.8,1182.4 L386.2,1182.4 L386.8,1182.4 L387.2,1182.3 L387.8,1182.3 L388.2,1182.3 L388.8,1182.3 L389.2,1182.3 L389.8,1182.3 L390.2,1182.3 L390.8,1182.2 L391.2,1182.2 L391.8,1182.2 L392.2,1182.2 L392.8,1182.1 L393.2,1182.1 L393.8,1182.1 L394.2,1182.1 L394.8,1182.0 L395.0,1182.0 L395.2,1182.0 L395.8,1181.9 L396.2,1181.7 L396.8,1181.5 L397.2,1181.2 L397.8,1180.8 L398.2,1180.5 L398.8,1180.0 L399.2,1179.6 L399.8,1179.1 L400.2,1178.5 L400.8,1178.0 L401.3,1177.4 L401.8,1176.8 L402.2,1175.9 L402.8,1174.9 L403.2,1173.7 L403.8,1172.4 L404.2,1171.3 L404.8,1170.1 L405.2,1168.4 L405.7,1166.1 L406.3,1153.6 L406.8,1149.5 L407.2,1146.6 L407.8,1141.1 L408.2,1128.5 L408.5,1119.8 L408.8,1118.4 L409.2,1115.9 L409.8,1114.7 L410.0,1114.6 L410.2,1115.3 L410.8,1118.4 L411.0,1119.8 L411.2,1121.0 L411.8,1123.3 L412.2,1125.6 L412.9,1128.5 L413.2,1130.4 L413.8,1132.7 L414.2,1135.1 L414.8,1137.7 L415.4,1141.1 L415.8,1143.4 L416.2,1146.7 L416.8,1150.2 L417.3,1153.6 L417.8,1157.1 L418.2,1160.7 L418.8,1164.0 L419.1,1166.1 L419.8,1169.1 L420.2,1171.6 L420.8,1173.9 L421.2,1176.1 L421.8,1177.9 L422.2,1179.4 L422.8,1180.4 L423.4,1180.9 L423.8,1180.9 L424.2,1180.7 L424.8,1180.5 L425.2,1180.2 L425.8,1179.8 L426.2,1179.3 L426.8,1178.7 L427.2,1178.0 L427.8,1177.3 L428.2,1176.4 L428.8,1175.5 L429.2,1174.6 L429.8,1173.6 L430.2,1172.5 L430.8,1171.3 L431.3,1169.9 L431.8,1168.8 L432.2,1167.0 L432.8,1164.1 L433.2,1159.9 L433.6,1147.3 L434.2,1142.2 L434.8,1139.5 L435.1,1134.8 L435.3,1109.8 L435.7,1084.7 L436.2,1080.1 L436.8,1078.8 L437.2,1076.2 L437.6,1072.2 L437.7,1047.1 L437.9,1034.6 L438.2,1029.5 L438.8,1026.6 L439.0,1026.3 L439.2,1027.0 L439.8,1031.0 L440.2,1034.6 L440.8,1038.0 L441.2,1040.6 L441.8,1043.4 L442.3,1047.1 L442.8,1050.8 L443.2,1055.4 L443.8,1061.2 L444.4,1072.2 L444.8,1084.7 L445.2,1092.7 L445.8,1099.1 L446.2,1104.6 L446.7,1109.8 L447.2,1116.9 L447.8,1123.2 L448.2,1130.0 L448.6,1134.8 L449.2,1147.3 L449.8,1152.2 L450.2,1155.1 L450.8,1157.8 L451.1,1159.9 L451.8,1165.8 L452.3,1169.9 L452.8,1171.8 L453.2,1173.7 L453.8,1175.2 L454.2,1176.5 L454.8,1177.4 L455.2,1177.9 L455.8,1178.4 L456.2,1178.9 L456.8,1179.3 L457.2,1179.7 L457.8,1180.1 L458.2,1180.4 L458.8,1180.8 L459.2,1181.0 L459.8,1181.3 L460.2,1181.5 L460.8,1181.7 L461.2,1181.8 L461.8,1181.9 L462.2,1182.0 L462.5,1182.0 L462.8,1182.0 L463.2,1182.1 L463.8,1182.1 L464.2,1182.1 L464.8,1182.2 L465.2,1182.2 L465.8,1182.2 L466.2,1182.3 L466.8,1182.3 L467.2,1182.3 L467.8,1182.3 L468.2,1182.4 L468.8,1182.4 L469.2,1182.4 L469.8,1182.4 L470.2,1182.4 L470.8,1182.4 L471.2,1182.5 L471.8,1182.5 L472.2,1182.5 L472.8,1182.5 L473.2,1182.5 L473.8,1182.5 L474.2,1182.5 L474.8,1182.5 L475.0,1182.5 L475.2,1182.5 L475.8,1182.5 L476.2,1182.5 L476.8,1182.5 L477.2,1182.5 L477.8,1182.5 L478.2,1182.5 L478.8,1182.5 L479.2,1182.5 L479.8,1182.5 L480.2,1182.4 L480.8,1182.4 L481.2,1182.4 L481.8,1182.4 L482.2,1182.4 L482.8,1182.4 L483.2,1182.4 L483.8,1182.3 L484.2,1182.3 L484.8,1182.3 L485.2,1182.3 L485.8,1182.3 L486.2,1182.2 L486.8,1182.2 L487.2,1182.2 L487.8,1182.1 L488.2,1182.1 L488.8,1182.1 L489.2,1182.1 L489.8,1182.0 L490.0,1182.0 L490.2,1182.0 L490.8,1181.9 L491.2,1181.7 L491.8,1181.5 L492.2,1181.3 L492.8,1181.0 L493.2,1180.7 L493.8,1180.3 L494.2,1180.0 L494.8,1179.6 L495.2,1179.2 L495.8,1178.8 L496.2,1178.4 L496.8,1178.0 L497.2,1177.7 L497.5,1177.5 L497.8,1177.3 L498.2,1177.0 L498.8,1176.8 L499.2,1176.5 L499.8,1176.1 L500.2,1175.6 L500.8,1174.9 L501.2,1173.9 L501.8,1171.9 L502.2,1169.1 L502.7,1166.1 L503.2,1161.7 L503.8,1156.3 L504.0,1153.6 L504.2,1149.7 L504.8,1141.3 L505.2,1134.8 L505.8,1130.1 L506.2,1126.3 L506.8,1123.5 L507.1,1122.3 L507.8,1120.8 L508.2,1119.9 L508.8,1119.3 L509.4,1119.0 L509.8,1119.0 L510.2,1119.2 L510.8,1119.6 L511.2,1120.3 L511.8,1121.4 L512.1,1122.3 L512.4,1134.8 L512.8,1138.5 L513.2,1143.7 L513.8,1148.3 L514.2,1152.4 L514.8,1156.0 L515.2,1159.0 L515.8,1161.6 L516.2,1163.7 L516.8,1165.3 L517.2,1166.5 L517.8,1167.3 L518.2,1167.7 L518.5,1167.7 L518.8,1167.3 L519.2,1162.9 L519.8,1155.1 L520.2,1145.2 L520.8,1134.2 L521.2,1123.7 L521.8,1114.7 L522.1,1109.8 L522.8,1106.3 L523.2,1103.7 L523.7,1097.2 L523.9,1047.1 L524.0,997.0 L524.2,990.2 L524.8,982.5 L525.2,979.1 L525.9,972.0 L526.2,964.1 L526.8,948.5 L527.1,934.4 L527.4,907.1 L527.8,907.4 L528.2,908.8 L528.8,911.4 L529.2,914.9 L529.8,919.2 L530.2,924.0 L530.8,929.3 L531.2,934.4 L531.8,939.9 L532.2,946.6 L532.8,958.7 L533.1,972.0 L533.2,997.0 L533.8,1015.7 L534.2,1021.9 L534.8,1034.6 L535.0,1047.1 L535.1,1097.2 L535.3,1109.8 L535.8,1118.6 L536.2,1124.9 L536.9,1134.8 L537.2,1152.5 L537.5,1159.9 L537.8,1163.1 L538.2,1167.5 L538.8,1170.3 L539.4,1172.4 L539.8,1173.3 L540.2,1174.4 L540.8,1175.4 L541.2,1176.2 L541.8,1176.9 L542.2,1177.5 L542.8,1177.9 L543.2,1178.3 L543.7,1178.6 L544.2,1178.9 L544.8,1179.1 L545.2,1179.3 L545.8,1179.5 L546.2,1179.7 L546.8,1179.8 L547.2,1179.9 L547.5,1180.0 L547.8,1180.1 L548.2,1180.2 L548.8,1180.3 L549.2,1180.5 L549.8,1180.6 L550.2,1180.8 L550.8,1180.9 L551.2,1181.0 L551.8,1181.2 L552.2,1181.3 L552.8,1181.4 L553.2,1181.6 L553.8,1181.7 L554.2,1181.8 L554.8,1181.9 L555.2,1182.0 L555.8,1182.1 L556.2,1182.2 L556.8,1182.3 L557.2,1182.3 L557.8,1182.4 L558.2,1182.4 L558.8,1182.5 L559.2,1182.5 L559.8,1182.5 L560.0,1182.5 L560.2,1182.5 L560.8,1182.5 L561.2,1182.5 L561.8,1182.5 L562.2,1182.5 L562.8,1182.5 L563.2,1182.5 L563.8,1182.5 L564.2,1182.4 L564.8,1182.4 L565.2,1182.4 L565.8,1182.4 L566.2,1182.4 L566.8,1182.4 L567.2,1182.3 L567.8,1182.3 L568.2,1182.3 L568.8,1182.3 L569.2,1182.2 L569.8,1182.2 L570.2,1182.2 L570.8,1182.1 L571.2,1182.1 L571.8,1182.1 L572.2,1182.0 L572.5,1182.0 L572.8,1182.0 L573.2,1181.8 L573.8,1181.6 L574.2,1181.4 L574.8,1181.0 L575.2,1180.7 L575.8,1180.2 L576.2,1179.8 L576.8,1179.3 L577.2,1178.9 L577.8,1178.4 L578.2,1177.9 L578.8,1177.5 L579.2,1177.1 L579.8,1176.7 L580.2,1176.2 L580.8,1175.7 L581.4,1174.9 L581.8,1174.2 L582.2,1173.1 L582.8,1171.7 L583.2,1170.2 L583.8,1168.6 L584.2,1167.1 L584.6,1166.1 L585.2,1164.2 L585.8,1162.5 L586.2,1160.9 L586.8,1159.6 L587.2,1158.8 L587.5,1158.7 L587.8,1158.8 L588.2,1159.8 L588.8,1161.6 L589.2,1164.2 L589.6,1166.1 L590.2,1174.9 L590.8,1176.2 L591.2,1177.3 L591.8,1178.2 L592.2,1178.9 L592.8,1179.5 L593.2,1180.0 L593.8,1180.3 L594.2,1180.6 L594.8,1180.8 L595.2,1180.9 L595.7,1180.9 L596.2,1180.8 L596.8,1180.6 L597.2,1180.2 L597.8,1179.7 L598.2,1179.0 L598.8,1178.1 L599.2,1176.9 L599.8,1175.6 L600.2,1174.0 L600.8,1172.1 L601.2,1170.0 L601.8,1167.4 L602.2,1159.9 L602.8,1155.6 L603.2,1153.3 L603.8,1147.3 L603.9,1134.8 L604.2,1130.8 L604.8,1128.7 L605.2,1127.3 L605.8,1122.3 L605.9,1109.8 L606.2,1105.6 L606.8,1103.3 L607.2,1101.5 L607.7,1097.2 L607.9,1084.7 L608.0,1072.2 L608.2,1069.3 L608.8,1066.0 L609.2,1064.5 L609.9,1059.7 L610.3,1043.2 L610.9,1059.7 L611.0,1072.2 L611.2,1075.2 L611.8,1078.0 L612.2,1079.0 L612.8,1081.7 L613.0,1084.7 L613.1,1097.2 L613.4,1109.8 L613.5,1122.3 L613.8,1125.9 L614.2,1129.0 L614.8,1131.6 L615.0,1134.8 L615.2,1147.3 L615.5,1159.9 L615.8,1162.1 L616.2,1164.7 L616.8,1166.1 L617.1,1167.4 L617.8,1170.2 L618.2,1172.4 L618.8,1174.2 L619.0,1174.9 L619.2,1175.4 L619.8,1176.4 L620.2,1177.2 L620.8,1178.0 L621.2,1178.6 L621.8,1179.2 L622.2,1179.6 L622.8,1179.9 L623.2,1180.1 L623.8,1180.4 L624.2,1180.6 L624.8,1180.8 L625.2,1181.0 L625.8,1181.2 L626.2,1181.4 L626.8,1181.5 L627.2,1181.7 L627.8,1181.8 L628.2,1182.0 L628.8,1182.1 L629.2,1182.2 L629.8,1182.3 L630.2,1182.3 L630.8,1182.4 L631.2,1182.5 L631.8,1182.5 L632.2,1182.5 L632.5,1182.5 L632.8,1182.5 L633.2,1182.5 L633.8,1182.5 L634.2,1182.5 L634.8,1182.5 L635.2,1182.4 L635.8,1182.4 L636.2,1182.4 L636.8,1182.4 L637.2,1182.3 L637.8,1182.3 L638.2,1182.2 L638.8,1182.2 L639.2,1182.2 L639.8,1182.1 L640.2,1182.0 L640.8,1182.0 L641.2,1181.9 L641.8,1181.8 L642.2,1181.8 L642.8,1181.7 L643.2,1181.6 L643.8,1181.5 L644.2,1181.4 L644.8,1181.3 L645.0,1181.2 L645.2,1181.2 L645.8,1181.0 L646.2,1180.7 L646.8,1180.2 L647.2,1179.7 L647.8,1179.1 L648.2,1178.4 L648.8,1177.7 L649.2,1176.8 L649.8,1175.9 L650.2,1174.9 L650.8,1173.4 L651.2,1171.3 L651.8,1168.8 L652.2,1166.1 L652.8,1163.6 L653.2,1160.9 L653.8,1156.6 L654.0,1153.6 L654.4,1141.1 L654.8,1137.3 L655.2,1135.0 L655.8,1131.8 L656.0,1128.5 L656.3,1116.0 L656.8,1112.1 L657.2,1110.3 L657.8,1108.9 L658.1,1107.3 L658.9,1102.1 L659.2,1102.1 L659.8,1102.2 L660.2,1102.4 L660.8,1102.8 L661.2,1103.3 L661.8,1104.1 L662.2,1105.0 L662.8,1106.3 L663.1,1107.3 L663.5,1116.0 L663.8,1119.1 L664.2,1122.7 L664.8,1125.3 L665.3,1128.5 L665.8,1130.9 L666.2,1133.2 L666.8,1136.3 L667.2,1141.1 L667.6,1153.6 L668.2,1159.1 L668.8,1162.7 L669.2,1165.7 L669.8,1168.3 L670.2,1170.5 L670.8,1172.2 L671.2,1173.6 L671.8,1174.6 L672.2,1175.3 L672.8,1175.7 L673.3,1175.9 L673.8,1175.6 L674.2,1174.8 L674.8,1173.4 L675.2,1171.5 L675.8,1169.2 L676.2,1166.6 L676.8,1163.8 L677.2,1160.7 L677.8,1157.6 L678.2,1154.4 L678.8,1151.2 L679.2,1148.2 L679.8,1145.3 L680.2,1142.7 L680.8,1140.4 L681.2,1138.5 L681.8,1137.1 L682.2,1136.2 L682.7,1135.9 L683.2,1137.0 L683.8,1139.2 L684.1,1141.1 L684.8,1144.7 L685.2,1148.2 L685.8,1151.9 L686.0,1153.6 L686.2,1155.3 L686.8,1158.8 L687.2,1162.3 L687.9,1166.1 L688.2,1168.1 L688.8,1170.7 L689.2,1172.9 L689.8,1174.9 L690.2,1176.5 L690.8,1178.1 L691.2,1179.3 L691.6,1179.9 L692.2,1180.5 L692.8,1180.8 L693.2,1181.1 L693.8,1181.2 L694.2,1181.4 L694.8,1181.6 L695.2,1181.7 L695.8,1181.9 L696.2,1182.0 L696.8,1182.1 L697.2,1182.2 L697.8,1182.3 L698.2,1182.4 L698.8,1182.4 L699.2,1182.5 L699.8,1182.5 L700.0,1182.5 L700.2,1182.5 L700.8,1182.5 L701.2,1182.5 L701.8,1182.5 L702.2,1182.4 L702.8,1182.4 L703.2,1182.4 L703.8,1182.3 L704.2,1182.3 L704.8,1182.2 L705.2,1182.2 L705.8,1182.1 L706.2,1182.1 L706.8,1182.0 L707.2,1181.9 L707.8,1181.9 L708.2,1181.8 L708.8,1181.7 L709.2,1181.6 L709.8,1181.5 L710.2,1181.4 L710.8,1181.3 L711.2,1181.2 L711.8,1181.1 L712.2,1181.0 L712.8,1180.8 L713.2,1180.7 L713.8,1180.4 L714.2,1180.2 L714.8,1179.9 L715.2,1179.5 L715.8,1179.2 L716.4,1178.6 L716.8,1178.2 L717.2,1177.5 L717.8,1176.5 L718.2,1175.0 L718.9,1172.4 L719.2,1165.8 L719.5,1162.4 L719.8,1161.6 L720.2,1160.5 L720.8,1159.6 L721.2,1159.1 L721.8,1158.8 L722.2,1158.7 L722.8,1158.8 L723.2,1159.1 L723.8,1159.5 L724.2,1160.1 L724.8,1160.7 L725.2,1161.3 L725.8,1161.9 L726.1,1162.4 L726.8,1163.4 L727.2,1164.4 L727.8,1165.6 L728.2,1166.9 L728.8,1168.3 L729.2,1169.6 L729.8,1171.0 L730.2,1172.3 L730.8,1173.4 L731.2,1174.4 L731.8,1175.2 L732.2,1175.7 L732.8,1175.9 L733.2,1175.6 L733.8,1174.6 L734.2,1173.0 L734.8,1170.9 L735.2,1168.5 L735.8,1165.7 L736.2,1162.9 L736.8,1160.0 L737.2,1157.1 L737.9,1153.6 L738.2,1151.8 L738.8,1148.8 L739.2,1145.7 L739.8,1142.9 L740.2,1141.1 L740.8,1138.8 L741.2,1136.9 L741.8,1135.3 L742.2,1134.2 L742.8,1133.6 L743.2,1134.2 L743.8,1135.8 L744.2,1138.1 L744.9,1141.1 L745.2,1142.9 L745.8,1145.6 L746.2,1149.0 L746.7,1153.6 L747.4,1166.1 L747.8,1168.9 L748.2,1171.6 L748.8,1173.4 L749.2,1174.9 L749.8,1176.3 L750.2,1177.5 L750.8,1178.6 L751.2,1179.4 L751.7,1179.9 L752.2,1180.2 L752.8,1180.5 L753.2,1180.7 L753.8,1181.0 L754.2,1181.2 L754.8,1181.4 L755.2,1181.6 L755.8,1181.8 L756.2,1182.0 L756.8,1182.1 L757.2,1182.2 L757.8,1182.3 L758.2,1182.4 L758.8,1182.4 L759.2,1182.5 L759.8,1182.5 L760.0,1182.5 L760.2,1182.5 L760.8,1182.5 L761.2,1182.5 L761.8,1182.5 L762.2,1182.5 L762.8,1182.5 L763.2,1182.5 L763.8,1182.5 L764.2,1182.5 L764.8,1182.5 L765.2,1182.5 L765.8,1182.5 L766.2,1182.5 L766.8,1182.5 L767.2,1182.5 L767.8,1182.5 L768.2,1182.5 L768.8,1182.5 L769.2,1182.5 L769.8,1182.5 L770.2,1182.5 L770.8,1182.5 L771.2,1182.5 L771.8,1182.5 L772.2,1182.5 L772.8,1182.5 L773.2,1182.5 L773.8,1182.5 L774.2,1182.5 L774.8,1182.5 L775.0,1182.5 L775.2,1182.5 L775.8,1182.5 L776.2,1182.5 L776.8,1182.5 L777.2,1182.5 L777.8,1182.5 L778.2,1182.5 L778.8,1182.5 L779.2,1182.4 L779.8,1182.4 L780.2,1182.4 L780.8,1182.4 L781.2,1182.4 L781.8,1182.4 L782.2,1182.3 L782.8,1182.3 L783.2,1182.3 L783.8,1182.3 L784.2,1182.2 L784.8,1182.2 L785.2,1182.2 L785.8,1182.1 L786.2,1182.1 L786.8,1182.1 L787.2,1182.0 L787.5,1182.0 L787.8,1182.0 L788.2,1181.8 L788.8,1181.6 L789.2,1181.3 L789.8,1181.0 L790.2,1180.5 L790.8,1180.1 L791.2,1179.7 L791.8,1179.2 L792.2,1178.7 L792.8,1178.3 L793.2,1177.9 L793.8,1177.5 L794.2,1177.1 L794.8,1176.7 L795.2,1176.2 L795.8,1175.8 L796.2,1175.5 L796.8,1175.2 L797.2,1175.0 L797.5,1175.0 L797.8,1175.0 L798.2,1175.3 L798.8,1175.7 L799.2,1176.2 L799.8,1176.8 L800.2,1177.5 L800.8,1178.2 L801.2,1178.9 L801.8,1179.4 L802.2,1179.8 L802.5,1180.0 L802.8,1180.1 L803.2,1180.4 L803.8,1180.6 L804.2,1180.9 L804.8,1181.1 L805.2,1181.3 L805.8,1181.5 L806.2,1181.7 L806.8,1181.9 L807.2,1182.1 L807.8,1182.2 L808.2,1182.3 L808.8,1182.4 L809.2,1182.5 L809.8,1182.5 L810.0,1182.5 L810.2,1182.5 L810.8,1182.5 L811.2,1182.5 L811.8,1182.5 L812.2,1182.5 L812.8,1182.5 L813.2,1182.5 L813.8,1182.5 L814.2,1182.5 L814.8,1182.5 L815.2,1182.4 L815.8,1182.4 L816.2,1182.4 L816.8,1182.4 L817.2,1182.4 L817.8,1182.4 L818.2,1182.4 L818.8,1182.3 L819.2,1182.3 L819.8,1182.3 L820.2,1182.3 L820.8,1182.3 L821.2,1182.2 L821.8,1182.2 L822.2,1182.2 L822.8,1182.1 L823.2,1182.1 L823.8,1182.1 L824.2,1182.1 L824.8,1182.0 L825.0,1182.0 L825.2,1182.0 L825.8,1181.9 L826.2,1181.7 L826.8,1181.6 L827.2,1181.3 L827.8,1181.0 L828.2,1180.7 L828.8,1180.3 L829.2,1179.8 L829.8,1179.3 L830.2,1178.8 L830.8,1178.2 L831.2,1177.5 L831.8,1176.0 L832.2,1173.1 L832.8,1169.5 L833.2,1165.4 L833.8,1161.4 L834.2,1158.0 L834.8,1155.6 L835.0,1155.0 L835.2,1154.6 L835.8,1153.8 L836.2,1153.1 L836.8,1152.5 L837.2,1152.0 L837.8,1151.6 L838.2,1151.3 L838.8,1151.2 L839.2,1151.2 L839.8,1151.2 L840.2,1151.2 L840.8,1151.2 L841.2,1151.2 L841.8,1151.2 L842.2,1151.2 L842.8,1151.2 L843.2,1151.2 L843.8,1151.2 L844.2,1150.5 L844.8,1148.3 L845.2,1145.3 L845.8,1141.7 L846.2,1137.8 L846.8,1134.2 L847.2,1131.2 L847.5,1130.0 L847.8,1128.9 L848.2,1126.8 L848.8,1124.7 L849.2,1122.7 L849.8,1120.9 L850.2,1119.4 L850.8,1118.2 L851.2,1117.5 L851.8,1117.1 L852.2,1116.7 L852.8,1116.3 L853.2,1116.0 L853.8,1115.7 L854.2,1115.4 L854.8,1115.3 L855.2,1115.1 L855.8,1115.0 L856.2,1115.0 L856.8,1116.0 L857.2,1118.5 L857.8,1122.0 L858.2,1126.0 L858.8,1130.0 L859.2,1134.3 L859.8,1139.5 L860.2,1145.0 L860.8,1150.4 L861.2,1155.0 L861.8,1159.2 L862.2,1163.5 L862.8,1167.4 L863.2,1170.5 L863.8,1172.5 L864.2,1173.8 L864.8,1174.9 L865.2,1175.9 L865.8,1176.9 L866.2,1177.6 L866.8,1178.3 L867.2,1178.9 L867.8,1179.4 L868.2,1179.7 L868.8,1180.0 L869.2,1180.2 L869.8,1180.4 L870.2,1180.6 L870.8,1180.8 L871.2,1180.9 L871.8,1181.1 L872.2,1181.2 L872.8,1181.4 L873.2,1181.5 L873.8,1181.6 L874.2,1181.7 L874.8,1181.8 L875.2,1181.9 L875.8,1181.9 L876.2,1182.0 L876.8,1182.0 L877.2,1182.0 L877.5,1182.0 L877.8,1182.0 L878.2,1182.0 L878.8,1181.9 L879.2,1181.8 L879.8,1181.7 L880.2,1181.6 L880.8,1181.4 L881.2,1181.2 L881.8,1181.0 L882.2,1180.7 L882.8,1180.4 L883.2,1180.1 L883.8,1179.8 L884.2,1179.4 L884.8,1179.0 L885.0,1178.8 L885.2,1178.4 L885.8,1177.0 L886.2,1174.8 L886.8,1172.1 L887.2,1169.1 L887.8,1165.9 L888.2,1162.8 L888.8,1160.0 L889.2,1157.2 L889.8,1154.1 L890.2,1150.9 L890.8,1147.8 L891.2,1145.2 L891.8,1143.2 L892.0,1142.5 L892.2,1141.9 L892.8,1140.8 L893.2,1139.8 L893.8,1139.0 L894.2,1138.4 L894.8,1138.0 L895.0,1138.0 L895.2,1138.1 L895.8,1138.9 L896.2,1140.3 L896.8,1142.2 L897.2,1144.3 L897.8,1146.4 L898.0,1147.5 L898.2,1148.7 L898.8,1151.5 L899.2,1154.9 L899.8,1158.4 L900.2,1161.9 L900.8,1165.0 L901.2,1167.5 L901.8,1169.5 L902.2,1171.5 L902.8,1173.4 L903.2,1175.0 L903.8,1176.5 L904.2,1177.7 L904.8,1178.5 L905.0,1178.8 L905.2,1179.0 L905.8,1179.3 L906.2,1179.7 L906.8,1180.0 L907.2,1180.4 L907.8,1180.7 L908.2,1180.9 L908.8,1181.1 L909.2,1181.4 L909.8,1181.5 L910.2,1181.7 L910.8,1181.8 L911.2,1181.9 L911.8,1182.0 L912.2,1182.0 L912.5,1182.0 L912.8,1182.0 L913.2,1182.0 L913.8,1182.0 L914.2,1182.0 L914.8,1182.0 L915.2,1182.0 L915.8,1182.0 L916.2,1182.0 L916.8,1182.0 L917.2,1182.0 L917.8,1182.0 L918.2,1182.0 L918.8,1182.0 L919.2,1182.0 L919.8,1182.0 L920.2,1182.0 L920.8,1182.0 L921.2,1182.0 L921.8,1182.0 L922.2,1182.0 L922.8,1182.0 L923.2,1182.0 L923.8,1182.0 L924.2,1182.0 L924.8,1182.0 L925.0,1182.0 L925.2,1182.0 L925.8,1181.9 L926.2,1181.8 L926.8,1181.5 L927.2,1181.2 L927.8,1180.8 L928.2,1180.4 L928.8,1179.9 L929.2,1179.3 L929.8,1178.6 L930.2,1177.9 L930.8,1177.1 L931.2,1176.2 L931.8,1174.8 L932.2,1172.3 L932.8,1169.1 L933.2,1165.3 L933.8,1161.2 L934.2,1157.0 L934.5,1155.0 L934.8,1152.8 L935.2,1147.2 L935.8,1141.0 L936.2,1135.4 L936.8,1131.2 L937.0,1130.0 L937.2,1129.2 L937.8,1127.7 L938.2,1126.5 L938.8,1125.6 L939.2,1125.1 L939.5,1125.0 L939.8,1125.3 L940.2,1127.1 L940.8,1130.2 L941.2,1134.1 L941.8,1138.1 L942.0,1140.0 L942.2,1142.0 L942.8,1146.9 L943.2,1152.3 L943.8,1157.3 L944.2,1161.2 L944.5,1162.5 L944.8,1163.5 L945.2,1165.4 L945.8,1167.0 L946.2,1168.4 L946.8,1169.4 L947.2,1169.9 L947.5,1170.0 L947.8,1170.0 L948.2,1169.8 L948.8,1169.5 L949.2,1169.1 L949.8,1168.6 L950.2,1168.0 L950.8,1167.3 L951.2,1166.7 L951.8,1166.0 L952.2,1165.3 L952.5,1165.0 L952.8,1164.6 L953.2,1163.7 L953.8,1162.7 L954.2,1161.6 L954.8,1160.5 L955.2,1159.6 L955.8,1159.0 L956.2,1158.8 L956.8,1158.8 L957.2,1158.8 L957.8,1158.8 L958.2,1158.8 L958.8,1158.8 L959.2,1158.8 L959.8,1158.8 L960.2,1158.8 L960.5,1158.8 L960.8,1158.9 L961.2,1159.9 L961.8,1161.7 L962.2,1163.9 L962.8,1166.2 L963.2,1168.3 L963.8,1170.0 L964.2,1171.3 L964.8,1172.6 L965.2,1173.9 L965.8,1175.1 L966.2,1176.2 L966.8,1177.1 L967.2,1177.9 L967.8,1178.5 L968.0,1178.8 L968.2,1178.9 L968.8,1179.3 L969.2,1179.6 L969.8,1179.9 L970.2,1180.2 L970.8,1180.5 L971.2,1180.7 L971.8,1180.9 L972.2,1181.0 L972.8,1181.2 L973.2,1181.2 L973.8,1181.2 L974.2,1181.2 L974.8,1181.0 L975.2,1180.8 L975.8,1180.4 L976.2,1179.9 L976.8,1179.4 L977.2,1178.7 L977.8,1178.0 L978.2,1177.2 L978.8,1176.2 L979.2,1174.3 L979.8,1170.9 L980.2,1166.9 L980.8,1163.0 L981.2,1160.0 L981.8,1157.6 L982.2,1155.3 L982.8,1153.2 L983.2,1151.8 L983.8,1151.2 L984.2,1151.3 L984.8,1151.4 L985.2,1151.5 L985.8,1151.7 L986.2,1152.0 L986.8,1152.3 L987.0,1152.5 L987.2,1153.0 L987.8,1155.4 L988.2,1159.0 L988.8,1163.0 L989.2,1166.3 L989.5,1167.5 L989.8,1168.5 L990.2,1170.4 L990.8,1172.2 L991.2,1174.0 L991.8,1175.5 L992.2,1176.8 L992.8,1177.9 L993.2,1178.5 L993.8,1178.8 L994.2,1178.7 L994.8,1178.4 L995.2,1178.0 L995.8,1177.5 L996.2,1177.0 L996.8,1176.5 L997.2,1176.0 L997.8,1175.5 L998.2,1175.2 L998.8,1175.0 L999.2,1174.9 L999.8,1174.8 L1000.2,1174.7 L1000.8,1174.6 L1001.2,1174.6 L1001.8,1174.5 L1002.2,1174.5 L1002.5,1174.5 L1002.8,1174.5 L1003.2,1174.7 L1003.8,1175.0 L1004.2,1175.4 L1004.8,1175.9 L1005.2,1176.5 L1005.8,1177.1 L1006.2,1177.7 L1006.8,1178.3 L1007.2,1178.8 L1007.8,1179.3 L1008.2,1179.7 L1008.8,1180.0 L1009.2,1180.2 L1009.8,1180.4 L1010.2,1180.7 L1010.8,1180.9 L1011.2,1181.1 L1011.8,1181.3 L1012.2,1181.4 L1012.8,1181.6 L1013.2,1181.8 L1013.8,1181.9 L1014.2,1182.1 L1014.8,1182.2 L1015.2,1182.3 L1015.8,1182.4 L1016.2,1182.4 L1016.8,1182.5 L1017.2,1182.5 L1017.5,1182.5 L1017.8,1182.5 L1018.2,1182.5 L1018.8,1182.5 L1019.2,1182.5 L1019.8,1182.5 L1020.2,1182.5 L1020.8,1182.4 L1021.2,1182.4 L1021.8,1182.4 L1022.2,1182.4 L1022.8,1182.4 L1023.2,1182.3 L1023.8,1182.3 L1024.2,1182.3 L1024.8,1182.2 L1025.2,1182.2 L1025.8,1182.2 L1026.2,1182.1 L1026.8,1182.1 L1027.2,1182.0 L1027.5,1182.0 L1027.8,1182.0 L1028.2,1181.8 L1028.8,1181.6 L1029.2,1181.4 L1029.8,1181.1 L1030.2,1180.7 L1030.8,1180.4 L1031.2,1180.0 L1031.8,1179.6 L1032.2,1179.2 L1032.8,1178.8 L1033.2,1178.4 L1033.8,1178.1 L1034.2,1177.8 L1034.8,1177.6 L1035.0,1177.5 L1035.2,1177.4 L1035.8,1177.2 L1036.2,1177.1 L1036.8,1176.9 L1037.2,1176.7 L1037.8,1176.6 L1038.2,1176.5 L1038.8,1176.4 L1039.2,1176.3 L1039.8,1176.3 L1040.0,1176.2 L1040.2,1176.3 L1040.8,1176.4 L1041.2,1176.6 L1041.8,1176.8 L1042.2,1177.1 L1042.8,1177.5 L1043.2,1177.8 L1043.8,1178.2 L1044.2,1178.6 L1044.8,1178.9 L1045.2,1179.2 L1045.8,1179.4 L1046.2,1179.5 L1046.8,1179.6 L1047.2,1179.7 L1047.8,1179.7 L1048.2,1179.8 L1048.8,1179.9 L1049.2,1179.9 L1049.8,1180.0 L1050.2,1180.1 L1050.8,1180.1 L1051.2,1180.2 L1051.8,1180.2 L1052.2,1180.3 L1052.8,1180.3 L1053.2,1180.3 L1053.8,1180.4 L1054.2,1180.4 L1054.8,1180.4 L1055.2,1180.5 L1055.8,1180.5 L1056.2,1180.5 L1056.8,1180.5 L1057.2,1180.5 L1057.5,1180.5 L1057.8,1180.5 L1058.2,1180.5 L1058.8,1180.5 L1059.2,1180.4 L1059.8,1180.4 L1060.2,1180.3 L1060.8,1180.3 L1061.2,1180.2 L1061.8,1180.1 L1062.2,1180.0 L1062.8,1179.9 L1063.2,1179.8 L1063.8,1179.6 L1064.2,1179.5 L1064.8,1179.3 L1065.2,1179.1 L1065.8,1179.0 L1066.2,1178.8 L1066.8,1178.2 L1067.2,1177.2 L1067.8,1175.7 L1068.2,1173.8 L1068.8,1171.6 L1069.2,1169.1 L1069.8,1166.5 L1070.2,1163.8 L1070.5,1162.5 L1070.8,1161.0 L1071.2,1156.9 L1071.8,1152.0 L1072.2,1146.7 L1072.8,1141.8 L1073.2,1137.7 L1073.8,1135.0 L1074.2,1133.2 L1074.8,1131.6 L1075.2,1130.1 L1075.8,1128.9 L1076.2,1128.0 L1076.8,1127.6 L1077.0,1127.5 L1077.2,1127.6 L1077.8,1128.2 L1078.2,1129.3 L1078.8,1130.7 L1079.2,1132.4 L1079.8,1134.1 L1080.0,1135.0 L1080.2,1136.0 L1080.8,1138.4 L1081.2,1141.3 L1081.8,1144.6 L1082.2,1148.0 L1082.8,1151.4 L1083.2,1154.6 L1083.8,1157.5 L1084.2,1160.3 L1084.8,1163.3 L1085.2,1166.3 L1085.8,1169.1 L1086.2,1171.6 L1086.8,1173.5 L1087.2,1174.7 L1087.5,1175.0 L1087.8,1175.2 L1088.2,1175.5 L1088.8,1175.7 L1089.2,1176.0 L1089.8,1176.2 L1090.2,1176.4 L1090.8,1176.5 L1091.2,1176.7 L1091.8,1176.8 L1092.2,1176.9 L1092.8,1176.9 L1093.2,1177.0 L1093.8,1177.0 L1094.2,1176.9 L1094.8,1176.8 L1095.2,1176.6 L1095.8,1176.3 L1096.2,1176.0 L1096.8,1175.7 L1097.2,1175.4 L1097.8,1175.2 L1098.2,1175.1 L1098.8,1175.0 L1099.2,1175.1 L1099.8,1175.3 L1100.2,1175.7 L1100.8,1176.2 L1101.2,1176.8 L1101.8,1177.4 L1102.2,1177.9 L1102.8,1178.5 L1103.2,1179.0 L1103.8,1179.5 L1104.2,1179.8 L1104.8,1180.0 L1105.0,1180.0 L1105.2,1180.0 L1105.8,1179.9 L1106.2,1179.8 L1106.8,1179.6 L1107.2,1179.3 L1107.8,1179.0 L1108.2,1178.6 L1108.8,1178.2 L1109.2,1177.7 L1109.8,1177.1 L1110.2,1176.5 L1110.8,1175.8 L1111.2,1175.0 L1111.8,1173.4 L1112.2,1170.5 L1112.8,1166.5 L1113.2,1161.9 L1113.8,1157.0 L1114.2,1152.2 L1114.5,1150.0 L1114.8,1147.7 L1115.2,1142.5 L1115.8,1137.0 L1116.2,1131.4 L1116.8,1126.2 L1117.2,1121.8 L1117.5,1120.0 L1117.8,1118.4 L1118.2,1115.3 L1118.8,1112.4 L1119.2,1109.7 L1119.8,1107.4 L1120.2,1105.3 L1120.8,1103.7 L1121.2,1102.5 L1121.8,1101.6 L1122.2,1100.7 L1122.8,1099.9 L1123.2,1099.2 L1123.8,1098.6 L1124.2,1098.2 L1124.8,1098.0 L1125.0,1098.0 L1125.2,1098.1 L1125.8,1098.9 L1126.2,1100.3 L1126.8,1102.1 L1127.2,1104.2 L1127.8,1106.4 L1128.0,1107.5 L1128.2,1108.7 L1128.8,1111.5 L1129.2,1114.8 L1129.8,1118.4 L1130.2,1122.3 L1130.8,1126.2 L1131.2,1130.0 L1131.8,1133.9 L1132.2,1138.2 L1132.8,1142.7 L1133.2,1147.1 L1133.8,1151.3 L1134.2,1155.2 L1134.8,1158.6 L1135.0,1160.0 L1135.2,1161.3 L1135.8,1164.0 L1136.2,1166.5 L1136.8,1169.0 L1137.2,1171.2 L1137.8,1173.2 L1138.2,1174.9 L1138.8,1176.3 L1139.2,1177.2 L1139.5,1177.5 L1139.8,1177.7 L1140.2,1178.1 L1140.8,1178.5 L1141.2,1178.9 L1141.8,1179.2 L1142.2,1179.5 L1142.8,1179.8 L1143.2,1180.0 L1143.8,1180.3 L1144.2,1180.5 L1144.8,1180.7 L1145.2,1180.8 L1145.8,1180.9 L1146.2,1181.1 L1146.8,1181.1 L1147.2,1181.2 L1147.5,1181.2 L1147.8,1181.3 L1148.2,1181.3 L1148.8,1181.4 L1149.2,1181.4 L1149.8,1181.5 L1150.2,1181.5 L1150.8,1181.6 L1151.2,1181.6 L1151.8,1181.7 L1152.2,1181.7 L1152.8,1181.7 L1153.2,1181.8 L1153.8,1181.8 L1154.2,1181.8 L1154.8,1181.9 L1155.2,1181.9 L1155.8,1181.9 L1156.2,1181.9 L1156.8,1181.9 L1157.2,1182.0 L1157.8,1182.0 L1158.2,1182.0 L1158.8,1182.0 L1159.2,1182.0 L1159.8,1182.0 L1160.0,1182.0 L1160.2,1182.0 L1160.8,1182.0 L1161.2,1182.0 L1161.8,1181.9 L1162.2,1181.9 L1162.8,1181.9 L1163.2,1181.8 L1163.8,1181.8 L1164.2,1181.7 L1164.8,1181.7 L1165.2,1181.6 L1165.8,1181.5 L1166.2,1181.4 L1166.8,1181.4 L1167.2,1181.3 L1167.5,1181.2 L1167.8,1181.2 L1168.2,1181.1 L1168.8,1180.9 L1169.2,1180.6 L1169.8,1180.4 L1170.2,1180.1 L1170.8,1179.8 L1171.2,1179.5 L1171.8,1179.2 L1172.2,1178.9 L1172.8,1178.6 L1173.2,1178.4 L1173.8,1178.2 L1174.2,1178.1 L1174.8,1178.0 L1175.0,1178.0 L1175.2,1178.0 L1175.8,1178.0 L1176.2,1178.1 L1176.8,1178.1 L1177.2,1178.2 L1177.8,1178.2 L1178.2,1178.3 L1178.8,1178.4 L1179.2,1178.4 L1179.8,1178.5 L1180.2,1178.6 L1180.8,1178.6 L1181.2,1178.7 L1181.8,1178.7 L1182.2,1178.7 L1182.5,1178.8 L1182.8,1178.7 L1183.2,1178.6 L1183.8,1178.3 L1184.2,1177.9 L1184.8,1177.4 L1185.2,1176.8 L1185.8,1176.0 L1186.2,1175.2 L1186.8,1174.2 L1187.2,1173.1 L1187.5,1172.5 L1187.8,1171.6 L1188.2,1168.5 L1188.8,1164.0 L1189.2,1158.7 L1189.8,1152.9 L1190.0,1150.0 L1190.2,1146.7 L1190.8,1138.2 L1191.2,1129.2 L1191.8,1122.1 L1192.0,1120.0 L1192.2,1118.6 L1192.8,1116.0 L1193.2,1113.8 L1193.8,1112.2 L1194.2,1111.4 L1194.5,1111.2 L1194.8,1111.5 L1195.2,1113.0 L1195.8,1115.8 L1196.2,1119.3 L1196.8,1123.1 L1197.0,1125.0 L1197.2,1127.2 L1197.8,1132.9 L1198.2,1139.7 L1198.8,1146.5 L1199.2,1152.6 L1199.5,1155.0 L1199.8,1157.2 L1200.2,1161.8 L1200.8,1166.2 L1201.2,1170.1 L1201.8,1173.1 L1202.2,1174.8 L1202.5,1175.0 L1202.8,1175.0 L1203.2,1175.0 L1203.8,1174.9 L1204.2,1174.8 L1204.8,1174.7 L1205.2,1174.6 L1205.8,1174.5 L1206.2,1174.4 L1206.8,1174.3 L1207.2,1174.1 L1207.8,1174.0 L1208.2,1173.9 L1208.8,1173.8 L1209.2,1173.8 L1209.8,1173.8 L1210.0,1173.8 L1210.2,1173.8 L1210.8,1173.8 L1211.2,1174.0 L1211.8,1174.2 L1212.2,1174.4 L1212.8,1174.7 L1213.2,1175.1 L1213.8,1175.5 L1214.2,1175.9 L1214.8,1176.3 L1215.2,1176.8 L1215.8,1177.2 L1216.2,1177.7 L1216.8,1178.1 L1217.2,1178.5 L1217.5,1178.8 L1217.8,1179.0 L1218.2,1179.6 L1218.8,1180.3 L1219.2,1180.8 L1219.8,1181.2 L1220.0,1181.2 L1220.2,1181.2 L1220.8,1181.2 L1221.2,1181.2 L1221.8,1181.2 L1222.2,1181.1 L1222.8,1181.1 L1223.2,1181.0 L1223.8,1180.9 L1224.2,1180.8 L1224.8,1180.7 L1225.2,1180.6 L1225.8,1180.5 L1226.2,1180.4 L1226.8,1180.3 L1227.2,1180.2 L1227.8,1180.1 L1228.2,1179.9 L1228.8,1179.8 L1229.2,1179.7 L1229.8,1179.6 L1230.0,1179.5 L1230.2,1179.4 L1230.8,1179.3 L1231.2,1179.2 L1231.8,1179.0 L1232.2,1178.9 L1232.8,1178.7 L1233.2,1178.5 L1233.8,1178.3 L1234.2,1178.1 L1234.8,1177.9 L1235.2,1177.6 L1235.8,1177.4 L1236.2,1177.1 L1236.8,1176.8 L1237.2,1176.4 L1237.5,1176.2 L1237.8,1176.0 L1238.2,1175.4 L1238.8,1174.6 L1239.2,1173.6 L1239.8,1172.5 L1240.2,1171.3 L1240.8,1170.3 L1241.2,1169.2 L1241.8,1168.4 L1242.2,1167.7 L1242.5,1167.5 L1242.8,1167.3 L1243.2,1166.9 L1243.8,1166.6 L1244.2,1166.2 L1244.8,1165.9 L1245.2,1165.6 L1245.8,1165.4 L1246.2,1165.2 L1246.8,1165.1 L1247.2,1165.0 L1247.5,1165.0 L1247.8,1165.0 L1248.2,1165.2 L1248.8,1165.5 L1249.2,1165.8 L1249.8,1166.3 L1250.2,1166.9 L1250.8,1167.5 L1251.2,1168.2 L1251.8,1168.8 L1252.2,1169.5 L1252.8,1170.1 L1253.2,1170.7 L1253.8,1171.2 L1254.2,1171.8 L1254.8,1172.4 L1255.2,1173.0 L1255.8,1173.6 L1256.2,1174.3 L1256.8,1175.0 L1257.2,1175.6 L1257.8,1176.2 L1258.2,1176.8 L1258.8,1177.4 L1259.2,1177.8 L1259.8,1178.2 L1260.2,1178.5 L1260.8,1178.7 L1261.2,1178.8 L1261.8,1178.7 L1262.2,1178.6 L1262.8,1178.5 L1263.2,1178.3 L1263.8,1178.1 L1264.2,1177.9 L1264.8,1177.6 L1265.2,1177.3 L1265.8,1177.0 L1266.2,1176.7 L1266.8,1176.4 L1267.2,1176.1 L1267.8,1175.9 L1268.2,1175.6 L1268.8,1175.4 L1269.2,1175.2 L1269.8,1175.1 L1270.0,1175.0 L1270.2,1175.0 L1270.8,1174.9 L1271.2,1174.8 L1271.8,1174.7 L1272.2,1174.7 L1272.8,1174.6 L1273.2,1174.5 L1273.8,1174.5 L1274.2,1174.4 L1274.8,1174.4 L1275.2,1174.4 L1275.8,1174.3 L1276.2,1174.3 L1276.8,1174.2 L1277.2,1174.2 L1277.8,1174.1 L1278.2,1174.0 L1278.8,1174.0 L1279.2,1173.9 L1279.8,1173.8 L1280.0,1173.8 L1280.2,1173.7 L1280.8,1173.5 L1281.2,1173.3 L1281.8,1173.1 L1282.2,1172.8 L1282.8,1172.5 L1283.2,1172.2 L1283.8,1171.8 L1284.2,1171.5 L1284.8,1171.2 L1285.2,1170.9 L1285.8,1170.6 L1286.2,1170.4 L1286.8,1170.2 L1287.2,1170.1 L1287.8,1170.0 L1288.0,1170.0 L1288.2,1170.0 L1288.8,1170.2 L1289.2,1170.5 L1289.8,1171.0 L1290.2,1171.6 L1290.8,1172.2 L1291.2,1172.9 L1291.8,1173.7 L1292.2,1174.4 L1292.8,1175.1 L1293.2,1175.8 L1293.8,1176.4 L1294.2,1177.0 L1294.8,1177.4 L1295.0,1177.5 L1295.2,1177.6 L1295.8,1177.9 L1296.2,1178.1 L1296.8,1178.4 L1297.2,1178.6 L1297.8,1178.8 L1298.2,1179.0 L1298.8,1179.2 L1299.2,1179.4 L1299.8,1179.6 L1300.2,1179.7 L1300.8,1179.8 L1301.2,1179.9 L1301.8,1180.0 L1302.2,1180.0 L1302.5,1180.0 L1302.8,1180.0 L1303.2,1179.8 L1303.8,1179.6 L1304.2,1179.2 L1304.8,1178.8 L1305.2,1178.2 L1305.8,1177.6 L1306.2,1176.9 L1306.8,1176.2 L1307.2,1175.4 L1307.5,1175.0 L1307.8,1174.5 L1308.2,1173.2 L1308.8,1171.4 L1309.2,1169.5 L1309.8,1167.4 L1310.2,1165.5 L1310.8,1163.8 L1311.2,1162.5 L1311.8,1161.5 L1312.2,1160.4 L1312.8,1159.5 L1313.2,1158.6 L1313.8,1157.9 L1314.2,1157.3 L1314.8,1157.0 L1315.0,1157.0 L1315.2,1157.0 L1315.8,1157.0 L1316.2,1157.0 L1316.8,1157.0 L1317.2,1157.0 L1317.8,1157.0 L1318.2,1157.0 L1318.8,1157.0 L1319.2,1157.0 L1319.8,1157.0 L1320.2,1157.0 L1320.8,1157.0 L1321.2,1157.0 L1321.8,1157.0 L1322.2,1157.0 L1322.5,1157.0 L1322.8,1157.0 L1323.2,1157.3 L1323.8,1157.8 L1324.2,1158.5 L1324.8,1159.3 L1325.2,1160.3 L1325.8,1161.3 L1326.2,1162.4 L1326.8,1163.5 L1327.2,1164.5 L1327.5,1165.0 L1327.8,1165.5 L1328.2,1166.7 L1328.8,1168.0 L1329.2,1169.5 L1329.8,1171.0 L1330.2,1172.5 L1330.8,1173.9 L1331.2,1175.2 L1331.8,1176.3 L1332.2,1177.2 L1332.5,1177.5 L1332.8,1177.8 L1333.2,1178.4 L1333.8,1178.9 L1334.2,1179.5 L1334.8,1180.0 L1335.2,1180.5 L1335.8,1180.9 L1336.2,1181.4 L1336.8,1181.7 L1337.2,1182.1 L1337.8,1182.4 L1338.2,1182.6 L1338.8,1182.8 L1339.2,1182.9 L1339.8,1183.0 L1340.0,1183.0 L1340.2,1183.0 L1340.8,1182.9 L1341.2,1182.8 L1341.8,1182.7 L1342.2,1182.5 L1342.8,1182.3 L1343.2,1182.1 L1343.8,1181.8 L1344.2,1181.5 L1344.8,1181.3 L1345.2,1181.0 L1345.8,1180.7 L1346.2,1180.5 L1346.8,1180.3 L1347.2,1180.1 L1347.5,1180.0 L1347.8,1179.9 L1348.2,1179.8 L1348.8,1179.6 L1349.2,1179.5 L1349.8,1179.3 L1350.2,1179.2 L1350.8,1179.1 L1351.2,1178.9 L1351.8,1178.8 L1352.2,1178.7 L1352.8,1178.6 L1353.2,1178.4 L1353.8,1178.3 L1354.2,1178.2 L1354.8,1178.1 L1355.0,1178.0 L1355.2,1177.9 L1355.8,1177.8 L1356.2,1177.7 L1356.8,1177.5 L1357.2,1177.3 L1357.8,1177.2 L1358.2,1177.0 L1358.8,1176.9 L1359.2,1176.8 L1359.8,1176.6 L1360.2,1176.5 L1360.8,1176.4 L1361.2,1176.3 L1361.8,1176.3 L1362.2,1176.3 L1362.5,1176.2 L1362.8,1176.3 L1363.2,1176.3 L1363.8,1176.4 L1364.2,1176.6 L1364.8,1176.8 L1365.2,1177.0 L1365.8,1177.3 L1366.2,1177.5 L1366.8,1177.7 L1367.2,1178.0 L1367.8,1178.2 L1368.2,1178.4 L1368.8,1178.6 L1369.2,1178.7 L1369.8,1178.7 L1370.0,1178.8 L1370.2,1178.7 L1370.8,1178.7 L1371.2,1178.7 L1371.8,1178.7 L1372.2,1178.7 L1372.8,1178.6 L1373.2,1178.6 L1373.8,1178.6 L1374.2,1178.5 L1374.8,1178.4 L1375.2,1178.4 L1375.8,1178.3 L1376.2,1178.2 L1376.8,1178.1 L1377.2,1178.0 L1377.5,1178.0 L1377.8,1177.9 L1378.2,1177.7 L1378.8,1177.4 L1379.2,1177.0 L1379.8,1176.5 L1380.2,1175.9 L1380.8,1175.2 L1381.2,1174.5 L1381.8,1173.7 L1382.2,1172.9 L1382.5,1172.5 L1382.8,1172.0 L1383.2,1170.7 L1383.8,1168.9 L1384.2,1167.0 L1384.8,1165.0 L1385.2,1163.1 L1385.8,1161.3 L1386.2,1160.0 L1386.8,1158.9 L1387.2,1157.7 L1387.8,1156.6 L1388.2,1155.6 L1388.8,1154.8 L1389.2,1154.1 L1389.8,1153.8 L1390.0,1153.8 L1390.2,1153.8 L1390.8,1154.3 L1391.2,1155.2 L1391.8,1156.4 L1392.2,1157.8 L1392.8,1159.4 L1393.2,1161.0 L1393.8,1162.5 L1394.2,1164.3 L1394.8,1166.4 L1395.2,1168.9 L1395.8,1171.3 L1396.2,1173.6 L1396.8,1175.6 L1397.2,1177.0 L1397.5,1177.5 L1397.8,1177.8 L1398.2,1178.5 L1398.8,1179.1 L1399.2,1179.7 L1399.8,1180.3 L1400.2,1180.8 L1400.8,1181.2 L1401.2,1181.6 L1401.8,1181.9 L1402.2,1182.2 L1402.8,1182.3 L1403.2,1182.5 L1403.8,1182.5 L1404.2,1182.5 L1404.8,1182.5 L1405.2,1182.4 L1405.8,1182.4 L1406.2,1182.3 L1406.8,1182.2 L1407.2,1182.1 L1407.8,1182.0 L1408.2,1181.8 L1408.8,1181.7 L1409.2,1181.5 L1409.8,1181.3 L1410.0,1181.2 L1410.2,1181.1 L1410.8,1180.5 L1411.2,1179.6 L1411.8,1178.4 L1412.2,1177.0 L1412.8,1175.6 L1413.2,1174.1 L1413.8,1172.7 L1414.2,1171.4 L1414.8,1170.4 L1415.0,1170.0 L1415.2,1169.6 L1415.8,1168.9 L1416.2,1168.1 L1416.8,1167.4 L1417.2,1166.7 L1417.8,1166.0 L1418.2,1165.5 L1418.8,1165.0 L1419.2,1164.7 L1419.8,1164.5 L1420.0,1164.5 L1420.2,1164.5 L1420.8,1164.5 L1421.2,1164.5 L1421.8,1164.5 L1422.2,1164.5 L1422.8,1164.5 L1423.2,1164.5 L1423.8,1164.5 L1424.2,1164.5 L1424.8,1164.5 L1425.2,1164.5 L1425.8,1164.5 L1426.2,1164.5 L1426.8,1164.5 L1427.2,1164.5 L1427.5,1164.5 L1427.8,1164.5 L1428.2,1164.7 L1428.8,1165.0 L1429.2,1165.5 L1429.8,1166.0 L1430.2,1166.7 L1430.8,1167.4 L1431.2,1168.1 L1431.8,1168.9 L1432.2,1169.6 L1432.5,1170.0 L1432.8,1170.4 L1433.2,1171.3 L1433.8,1172.4 L1434.2,1173.5 L1434.8,1174.8 L1435.2,1176.0 L1435.8,1177.1 L1436.2,1178.2 L1436.8,1179.1 L1437.2,1179.8 L1437.5,1180.0 L1437.8,1180.2 L1438.2,1180.6 L1438.8,1181.0 L1439.2,1181.4 L1439.8,1181.7 L1440.2,1182.1 L1440.8,1182.4 L1441.2,1182.7 L1441.8,1182.9 L1442.2,1183.1 L1442.8,1183.3 L1443.2,1183.5 L1443.8,1183.6 L1444.2,1183.7 L1444.8,1183.7 L1445.0,1183.8 L1445.2,1183.8 L1445.8,1183.8 L1446.2,1183.8 L1446.8,1183.8 L1447.2,1183.8 L1447.8,1183.8 L1448.2,1183.8 L1448.8,1183.8 L1449.2,1183.8 L1449.8,1183.8 L1450.2,1183.8 L1450.8,1183.8 L1451.2,1183.8 L1451.8,1183.8 L1452.2,1183.8 L1452.8,1183.8 L1453.2,1183.8 L1453.8,1183.8 L1454.2,1183.8 L1454.8,1183.8 L1455.2,1183.8 L1455.8,1183.8 L1456.2,1183.8 L1456.8,1183.8 L1457.2,1183.8 L1457.5,1183.8 L1457.8,1183.7 L1458.2,1183.7 L1458.8,1183.7 L1459.2,1183.7 L1459.8,1183.7 L1460.2,1183.7 L1460.8,1183.6 L1461.2,1183.6 L1461.8,1183.6 L1462.2,1183.5 L1462.8,1183.5 L1463.2,1183.4 L1463.8,1183.4 L1464.2,1183.3 L1464.8,1183.2 L1465.2,1183.2 L1465.8,1183.1 L1466.2,1183.0 L1466.8,1183.0 L1467.2,1182.9 L1467.8,1182.8 L1468.2,1182.8 L1468.8,1182.7 L1469.2,1182.6 L1469.8,1182.5 L1470.0,1182.5 L1470.2,1182.5 L1470.8,1182.4 L1471.2,1182.3 L1471.8,1182.2 L1472.2,1182.1 L1472.8,1181.9 L1473.2,1181.8 L1473.8,1181.7 L1474.2,1181.6 L1474.8,1181.4 L1475.2,1181.3 L1475.8,1181.1 L1476.2,1181.0 L1476.8,1180.8 L1477.2,1180.7 L1477.8,1180.6 L1478.2,1180.4 L1478.8,1180.3 L1479.2,1180.2 L1479.8,1180.1 L1480.0,1180.0 L1480.2,1179.9 L1480.8,1179.8 L1481.2,1179.7 L1481.8,1179.6 L1482.2,1179.4 L1482.8,1179.3 L1483.2,1179.2 L1483.8,1179.0 L1484.2,1178.9 L1484.8,1178.8 L1485.2,1178.7 L1485.8,1178.5 L1486.2,1178.4 L1486.8,1178.3 L1487.2,1178.2 L1487.8,1178.2 L1488.2,1178.1 L1488.8,1178.1 L1489.2,1178.0 L1489.8,1178.0 L1490.0,1178.0 L1490.2,1178.0 L1490.8,1178.1 L1491.2,1178.3 L1491.8,1178.6 L1492.2,1178.9 L1492.8,1179.2 L1493.2,1179.6 L1493.8,1180.0 L1494.2,1180.4 L1494.8,1180.8 L1495.2,1181.1 L1495.8,1181.4 L1496.2,1181.7 L1496.8,1181.9 L1497.2,1182.0 L1497.5,1182.0 L1497.8,1182.0 L1498.2,1182.0 L1498.8,1182.0 L1499.2,1182.0 L1499.8,1182.0 L1500.2,1181.9 L1500.8,1181.9 L1501.2,1181.9 L1501.8,1181.9 L1502.2,1181.8 L1502.8,1181.8 L1503.2,1181.7 L1503.8,1181.7 L1504.2,1181.6 L1504.8,1181.6 L1505.2,1181.5 L1505.8,1181.5 L1506.2,1181.4 L1506.8,1181.4 L1507.2,1181.3 L1507.5,1181.2 L1507.8,1181.2 L1508.2,1181.0 L1508.8,1180.7 L1509.2,1180.2 L1509.8,1179.7 L1510.2,1179.2 L1510.8,1178.6 L1511.2,1178.0 L1511.8,1177.4 L1512.2,1176.8 L1512.8,1176.3 L1513.2,1175.8 L1513.8,1175.4 L1514.2,1175.2 L1514.8,1175.0 L1515.0,1175.0 L1515.2,1175.0 L1515.8,1175.0 L1516.2,1175.1 L1516.8,1175.1 L1517.2,1175.2 L1517.8,1175.3 L1518.2,1175.4 L1518.8,1175.5 L1519.2,1175.6 L1519.8,1175.7 L1520.2,1175.8 L1520.8,1175.9 L1521.2,1176.0 L1521.8,1176.1 L1522.2,1176.2 L1522.5,1176.2 L1522.8,1176.3 L1523.2,1176.3 L1523.8,1176.4 L1524.2,1176.5 L1524.8,1176.6 L1525.2,1176.6 L1525.8,1176.7 L1526.2,1176.8 L1526.8,1176.8 L1527.2,1176.9 L1527.8,1177.0 L1528.2,1177.0 L1528.8,1177.1 L1529.2,1177.1 L1529.8,1177.2 L1530.2,1177.2 L1530.8,1177.3 L1531.2,1177.3 L1531.8,1177.4 L1532.2,1177.4 L1532.8,1177.4 L1533.2,1177.5 L1533.8,1177.5 L1534.2,1177.5 L1534.8,1177.5 L1535.0,1177.5 L1535.2,1177.5 L1535.8,1177.5 L1536.2,1177.5 L1536.8,1177.5 L1537.2,1177.5 L1537.8,1177.5 L1538.2,1177.5 L1538.8,1177.5 L1539.2,1177.5 L1539.8,1177.5 L1540.2,1177.5 L1540.8,1177.5 L1541.2,1177.5 L1541.8,1177.5 L1542.2,1177.5 L1542.8,1177.5 L1543.2,1177.5 L1543.8,1177.5 L1544.2,1177.5 L1544.8,1177.5 L1545.2,1177.5 L1545.8,1177.5 L1546.2,1177.5 L1546.8,1177.5 L1547.2,1177.5 L1547.5,1177.5 L1547.8,1177.5 L1548.2,1177.5 L1548.8,1177.5 L1549.2,1177.5 L1549.8,1177.5 L1550.2,1177.5 L1550.8,1177.6 L1551.2,1177.6 L1551.8,1177.6 L1552.2,1177.6 L1552.8,1177.6 L1553.2,1177.7 L1553.8,1177.7 L1554.2,1177.7 L1554.8,1177.8 L1555.2,1177.8 L1555.8,1177.8 L1556.2,1177.9 L1556.8,1177.9 L1557.2,1178.0 L1557.5,1178.0 L1557.8,1178.0 L1558.2,1178.1 L1558.8,1178.3 L1559.2,1178.5 L1559.8,1178.7 L1560.2,1178.9 L1560.8,1179.2 L1561.2,1179.5 L1561.8,1179.7 L1562.2,1180.0 L1562.8,1180.3 L1563.2,1180.6 L1563.8,1180.8 L1564.2,1181.0 L1564.8,1181.2 L1565.0,1181.2 L1565.2,1181.3 L1565.8,1181.5 L1566.2,1181.6 L1566.8,1181.7 L1567.2,1181.9 L1567.8,1182.0 L1568.2,1182.1 L1568.8,1182.2 L1569.2,1182.3 L1569.8,1182.4 L1570.2,1182.5 L1570.8,1182.5 L1571.2,1182.5 L1571.8,1182.4 L1572.2,1182.0 L1572.8,1181.5 L1573.2,1180.9 L1573.8,1180.1 L1574.2,1179.3 L1574.8,1178.5 L1575.2,1177.6 L1575.8,1176.8 L1576.2,1176.1 L1576.8,1175.6 L1577.2,1175.1 L1577.5,1175.0 L1577.8,1174.9 L1578.2,1174.7 L1578.8,1174.5 L1579.2,1174.3 L1579.8,1174.1 L1580.2,1173.9 L1580.8,1173.7 L1581.2,1173.6 L1581.8,1173.4 L1582.2,1173.3 L1582.8,1173.2 L1583.2,1173.1 L1583.8,1173.1 L1584.2,1173.0 L1584.8,1173.0 L1585.0,1173.0 L1585.2,1173.0 L1585.8,1173.1 L1586.2,1173.1 L1586.8,1173.3 L1587.2,1173.5 L1587.8,1173.7 L1588.2,1173.9 L1588.8,1174.1 L1589.2,1174.4 L1589.8,1174.7 L1590.2,1175.0 L1590.8,1175.3 L1591.2,1175.6 L1591.8,1175.8 L1592.2,1176.1 L1592.5,1176.2 L1592.8,1176.4 L1593.2,1176.7 L1593.8,1177.0 L1594.2,1177.4 L1594.8,1177.7 L1595.2,1178.1 L1595.8,1178.5 L1596.2,1178.9 L1596.8,1179.3 L1597.2,1179.7 L1597.8,1180.0 L1598.2,1180.4 L1598.8,1180.7 L1599.2,1180.9 L1599.8,1181.2 L1600.0,1181.2 L1600.2,1181.3 L1600.8,1181.5 L1601.2,1181.7 L1601.8,1181.8 L1602.2,1182.0 L1602.8,1182.2 L1603.2,1182.3 L1603.8,1182.4 L1604.2,1182.6 L1604.8,1182.7 L1605.2,1182.8 L1605.8,1182.9 L1606.2,1182.9 L1606.8,1183.0 L1607.2,1183.0 L1607.5,1183.0 L1607.8,1183.0 L1608.2,1183.0 L1608.8,1182.9 L1609.2,1182.8 L1609.8,1182.7 L1610.2,1182.6 L1610.8,1182.4 L1611.2,1182.3 L1611.8,1182.1 L1612.2,1181.9 L1612.8,1181.7 L1613.2,1181.5 L1613.8,1181.3 L1614.2,1181.1 L1614.8,1181.0 L1615.2,1180.8 L1615.8,1180.6 L1616.2,1180.4 L1616.8,1180.2 L1617.2,1180.1 L1617.5,1180.0 L1617.8,1179.9 L1618.2,1179.8 L1618.8,1179.7 L1619.2,1179.6 L1619.8,1179.5 L1620.2,1179.4 L1620.8,1179.3 L1621.2,1179.2 L1621.8,1179.1 L1622.2,1179.0 L1622.8,1178.9 L1623.2,1178.8 L1623.8,1178.7 L1624.2,1178.6 L1624.8,1178.4 L1625.2,1178.3 L1625.8,1178.2 L1626.2,1178.0 L1626.8,1177.8 L1627.2,1177.6 L1627.5,1177.5 L1627.8,1177.4 L1628.2,1177.1 L1628.8,1176.7 L1629.2,1176.3 L1629.8,1175.8 L1630.2,1175.2 L1630.8,1174.6 L1631.2,1173.9 L1631.8,1173.2 L1632.2,1172.5 L1632.8,1171.7 L1633.2,1170.8 L1633.8,1170.0 L1634.2,1169.0 L1634.8,1167.7 L1635.2,1166.2 L1635.8,1164.6 L1636.2,1163.1 L1636.8,1161.7 L1637.2,1160.5 L1637.5,1160.0 L1637.8,1159.5 L1638.2,1158.6 L1638.8,1157.7 L1639.2,1156.9 L1639.8,1156.1 L1640.2,1155.5 L1640.8,1155.1 L1641.2,1155.0 L1641.8,1155.2 L1642.2,1155.7 L1642.8,1156.5 L1643.2,1157.4 L1643.8,1158.5 L1644.2,1159.6 L1644.8,1160.7 L1645.0,1161.2 L1645.2,1161.8 L1645.8,1163.1 L1646.2,1164.6 L1646.8,1166.3 L1647.2,1168.0 L1647.8,1169.7 L1648.2,1171.3 L1648.8,1172.7 L1649.2,1173.9 L1649.8,1174.7 L1650.0,1175.0 L1650.2,1175.2 L1650.8,1175.6 L1651.2,1176.0 L1651.8,1176.4 L1652.2,1176.7 L1652.8,1177.0 L1653.2,1177.3 L1653.8,1177.5 L1654.2,1177.8 L1654.8,1178.0 L1655.2,1178.2 L1655.8,1178.3 L1656.2,1178.5 L1656.8,1178.6 L1657.2,1178.7 L1657.5,1178.8 L1657.8,1178.8 L1658.2,1178.9 L1658.8,1178.9 L1659.2,1179.0 L1659.8,1179.1 L1660.2,1179.1 L1660.8,1179.2 L1661.2,1179.2 L1661.8,1179.3 L1662.2,1179.3 L1662.8,1179.3 L1663.2,1179.4 L1663.8,1179.4 L1664.2,1179.4 L1664.8,1179.5 L1665.2,1179.5 L1665.8,1179.5 L1666.2,1179.6 L1666.8,1179.6 L1667.2,1179.6 L1667.8,1179.7 L1668.2,1179.8 L1668.8,1179.8 L1669.2,1179.9 L1669.8,1180.0 L1670.0,1180.0 L1670.2,1180.0 L1670.8,1180.2 L1671.2,1180.4 L1671.8,1180.6 L1672.2,1180.8 L1672.8,1181.1 L1673.2,1181.4 L1673.8,1181.7 L1674.2,1182.0 L1674.8,1182.3 L1675.2,1182.6 L1675.8,1182.9 L1676.2,1183.2 L1676.8,1183.5 L1677.2,1183.8 L1677.8,1184.0 L1678.2,1184.2 L1678.8,1184.3 L1679.2,1184.4 L1679.8,1184.5 L1680.0,1184.5 L1680.2,1184.5 L1680.8,1184.5 L1681.2,1184.5 L1681.8,1184.5 L1682.2,1184.5 L1682.8,1184.5 L1683.2,1184.5 L1683.8,1184.5 L1684.2,1184.5 L1684.8,1184.5 L1685.2,1184.5 L1685.8,1184.5 L1686.2,1184.5 L1686.8,1184.5 L1687.2,1184.5 L1687.8,1184.5 L1688.2,1184.5 L1688.8,1184.5 L1689.2,1184.5 L1689.8,1184.5 L1690.2,1184.5 L1690.8,1184.5 L1691.2,1184.5 L1691.8,1184.5 L1692.2,1184.5 L1692.5,1184.5 L1692.8,1184.5 L1693.2,1184.5 L1693.8,1184.5 L1694.2,1184.5 L1694.8,1184.5 L1695.2,1184.5 L1695.8,1184.5 L1696.2,1184.5 L1696.8,1184.5 L1697.2,1184.5 L1697.8,1184.5 L1698.2,1184.5 L1698.8,1184.5 L1699.2,1184.5 L1699.8,1184.5 L1700.0,1184.5 L1700.2,1184.5 L1700.8,1184.5 L1701.2,1184.5 L1701.8,1184.4 L1702.2,1184.4 L1702.8,1184.3 L1703.2,1184.2 L1703.8,1184.1 L1704.2,1184.0 L1704.8,1183.9 L1705.2,1183.8 L1705.8,1183.6 L1706.2,1183.5 L1706.8,1183.3 L1707.2,1183.2 L1707.8,1183.0 L1708.2,1182.8 L1708.8,1182.7 L1709.2,1182.5 L1709.8,1182.3 L1710.2,1182.1 L1710.8,1181.9 L1711.2,1181.7 L1711.8,1181.5 L1712.2,1181.3 L1712.5,1181.2 L1712.8,1181.1 L1713.2,1180.9 L1713.8,1180.6 L1714.2,1180.2 L1714.8,1179.9 L1715.2,1179.5 L1715.8,1179.1 L1716.2,1178.6 L1716.8,1178.2 L1717.2,1177.8 L1717.8,1177.4 L1718.2,1177.1 L1718.8,1176.8 L1719.2,1176.5 L1719.8,1176.3 L1720.0,1176.2 L1720.2,1176.2 L1720.8,1176.1 L1721.2,1176.0 L1721.8,1175.9 L1722.2,1175.8 L1722.8,1175.7 L1723.2,1175.6 L1723.8,1175.6 L1724.2,1175.5 L1724.8,1175.5 L1725.2,1175.4 L1725.8,1175.3 L1726.2,1175.2 L1726.8,1175.2 L1727.2,1175.1 L1727.5,1175.0 L1727.8,1174.9 L1728.2,1174.8 L1728.8,1174.6 L1729.2,1174.4 L1729.8,1174.2 L1730.2,1174.0 L1730.8,1173.8 L1731.2,1173.5 L1731.8,1173.3 L1732.2,1173.1 L1732.8,1172.9 L1733.2,1172.8 L1733.8,1172.6 L1734.2,1172.6 L1734.8,1172.5 L1735.0,1172.5 L1735.2,1172.5 L1735.8,1172.7 L1736.2,1172.9 L1736.8,1173.3 L1737.2,1173.7 L1737.8,1174.3 L1738.2,1174.9 L1738.8,1175.5 L1739.2,1176.2 L1739.8,1176.9 L1740.2,1177.6 L1740.8,1178.3 L1741.2,1179.0 L1741.8,1179.6 L1742.2,1180.2 L1742.8,1180.8 L1743.2,1181.2 L1743.8,1181.6 L1744.2,1181.8 L1744.8,1182.0 L1745.0,1182.0 L1745.2,1182.0 L1745.8,1181.9 L1746.2,1181.7 L1746.8,1181.4 L1747.2,1181.1 L1747.8,1180.7 L1748.2,1180.3 L1748.8,1179.9 L1749.2,1179.4 L1749.8,1178.9 L1750.2,1178.4 L1750.8,1177.9 L1751.2,1177.5 L1751.8,1177.0 L1752.2,1176.4 L1752.8,1175.7 L1753.2,1175.0 L1753.8,1174.3 L1754.2,1173.6 L1754.8,1172.9 L1755.2,1172.3 L1755.8,1171.8 L1756.2,1171.5 L1756.8,1171.3 L1757.0,1171.2 L1757.2,1171.3 L1757.8,1171.4 L1758.2,1171.7 L1758.8,1172.1 L1759.2,1172.6 L1759.8,1173.2 L1760.2,1173.8 L1760.8,1174.5 L1761.2,1175.2 L1761.8,1176.0 L1762.2,1176.7 L1762.8,1177.4 L1763.2,1178.1 L1763.8,1178.7 L1764.2,1179.3 L1764.8,1179.8 L1765.0,1180.0 L1765.2,1180.2 L1765.8,1180.6 L1766.2,1181.0 L1766.8,1181.4 L1767.2,1181.8 L1767.8,1182.2 L1768.2,1182.6 L1768.8,1183.0 L1769.2,1183.3 L1769.8,1183.6 L1770.2,1183.9 L1770.8,1184.1 L1771.2,1184.3 L1771.8,1184.4 L1772.2,1184.5 L1772.5,1184.5 L1772.8,1184.5 L1773.2,1184.5 L1773.8,1184.4 L1774.2,1184.3 L1774.8,1184.2 L1775.2,1184.1 L1775.8,1183.9 L1776.2,1183.8 L1776.8,1183.6 L1777.2,1183.4 L1777.8,1183.2 L1778.2,1183.0 L1778.8,1182.8 L1779.2,1182.5 L1779.8,1182.3 L1780.2,1182.1 L1780.8,1181.9 L1781.2,1181.7 L1781.8,1181.5 L1782.2,1181.3 L1782.5,1181.2 L1782.8,1181.2 L1783.2,1181.0 L1783.8,1180.8 L1784.2,1180.6 L1784.8,1180.4 L1785.2,1180.2 L1785.8,1180.0 L1786.2,1179.7 L1786.8,1179.5 L1787.2,1179.3 L1787.8,1179.1 L1788.2,1178.9 L1788.8,1178.7 L1789.2,1178.5 L1789.8,1178.3 L1790.2,1178.1 L1790.8,1178.0 L1791.2,1177.8 L1791.8,1177.7 L1792.2,1177.6 L1792.8,1177.6 L1793.2,1177.5 L1793.8,1177.5 L1794.2,1177.5 L1794.8,1177.6 L1795.2,1177.8 L1795.8,1177.9 L1796.2,1178.2 L1796.8,1178.4 L1797.2,1178.7 L1797.8,1179.0 L1798.2,1179.3 L1798.8,1179.6 L1799.2,1179.9 L1799.8,1180.2 L1800.2,1180.4 L1800.8,1180.7 L1801.2,1180.9 L1801.8,1181.1 L1802.2,1181.2 L1802.5,1181.2 L1802.8,1181.3 L1803.2,1181.4 L1803.8,1181.4 L1804.2,1181.5 L1804.8,1181.6 L1805.2,1181.6 L1805.8,1181.7 L1806.2,1181.7 L1806.8,1181.8 L1807.2,1181.8 L1807.8,1181.9 L1808.2,1181.9 L1808.8,1182.0 L1809.2,1182.0 L1809.8,1182.0 L1810.2,1182.1 L1810.8,1182.1 L1811.2,1182.1 L1811.8,1182.2 L1812.2,1182.2 L1812.8,1182.3 L1813.2,1182.3 L1813.8,1182.4 L1814.2,1182.4 L1814.8,1182.5 L1815.0,1182.5 L1815.2,1182.5 L1815.8,1182.6 L1816.2,1182.7 L1816.8,1182.8 L1817.2,1182.9 L1817.8,1182.9 L1818.2,1183.0 L1818.8,1183.1 L1819.2,1183.2 L1819.8,1183.3 L1820.2,1183.4 L1820.8,1183.5 L1821.2,1183.6 L1821.8,1183.6 L1822.2,1183.7 L1822.8,1183.7 L1823.2,1183.7 L1823.8,1183.8 L1824.2,1183.7 L1824.8,1183.5 L1825.2,1183.2 L1825.8,1182.9 L1826.2,1182.4 L1826.8,1181.9 L1827.2,1181.4 L1827.8,1180.8 L1828.2,1180.3 L1828.8,1179.7 L1829.2,1179.2 L1829.8,1178.7 L1830.2,1178.2 L1830.8,1177.8 L1831.2,1177.5 L1831.8,1177.2 L1832.2,1177.0 L1832.8,1176.7 L1833.2,1176.4 L1833.8,1176.1 L1834.2,1175.9 L1834.8,1175.7 L1835.2,1175.5 L1835.8,1175.3 L1836.2,1175.2 L1836.8,1175.1 L1837.2,1175.0 L1837.5,1175.0 L1837.8,1175.0 L1838.2,1175.1 L1838.8,1175.4 L1839.2,1175.7 L1839.8,1176.1 L1840.2,1176.6 L1840.8,1177.1 L1841.2,1177.7 L1841.8,1178.2 L1842.2,1178.8 L1842.8,1179.4 L1843.2,1179.9 L1843.8,1180.4 L1844.2,1180.8 L1844.8,1181.1 L1845.0,1181.2 L1845.2,1181.4 L1845.8,1181.6 L1846.2,1181.8 L1846.8,1182.1 L1847.2,1182.3 L1847.8,1182.5 L1848.2,1182.8 L1848.8,1183.0 L1849.2,1183.2 L1849.8,1183.4 L1850.2,1183.6 L1850.8,1183.7 L1851.2,1183.9 L1851.8,1184.0 L1852.2,1184.2 L1852.8,1184.3 L1853.2,1184.4 L1853.8,1184.4 L1854.2,1184.5 L1854.8,1184.5 L1855.0,1184.5 L1855.2,1184.5 L1855.8,1184.4 L1856.2,1184.3 L1856.8,1184.1 L1857.2,1183.8 L1857.8,1183.5 L1858.2,1183.2 L1858.8,1182.8 L1859.2,1182.4 L1859.8,1182.0 L1860.2,1181.6 L1860.8,1181.2 L1861.2,1180.9 L1861.8,1180.5 L1862.2,1180.2 L1862.5,1180.0 L1862.8,1179.8 L1863.2,1179.5 L1863.8,1179.1 L1864.2,1178.7 L1864.8,1178.3 L1865.2,1177.9 L1865.8,1177.6 L1866.2,1177.2 L1866.8,1176.9 L1867.2,1176.6 L1867.8,1176.4 L1868.2,1176.3 L1868.8,1176.2 L1869.2,1176.3 L1869.8,1176.4 L1870.2,1176.6 L1870.8,1176.9 L1871.2,1177.1 L1871.8,1177.4 L1872.2,1177.7 L1872.8,1178.0 L1873.2,1178.3 L1873.8,1178.5 L1874.2,1178.7 L1874.8,1178.7 L1875.0,1178.8 L1875.2,1178.7 L1875.8,1178.4 L1876.2,1177.8 L1876.8,1177.0 L1877.2,1176.1 L1877.8,1175.1 L1878.2,1174.0 L1878.8,1173.1 L1879.2,1172.2 L1879.8,1171.5 L1880.0,1171.2 L1880.2,1171.0 L1880.8,1170.6 L1881.2,1170.1 L1881.8,1169.7 L1882.2,1169.3 L1882.8,1169.0 L1883.2,1168.8 L1883.8,1168.8 L1884.2,1168.8 L1884.8,1168.9 L1885.2,1169.0 L1885.8,1169.2 L1886.2,1169.5 L1886.8,1169.7 L1887.2,1170.0 L1887.8,1170.3 L1888.2,1170.5 L1888.8,1170.8 L1889.2,1171.0 L1889.8,1171.2 L1890.0,1171.2 L1890.2,1171.3 L1890.8,1171.4 L1891.2,1171.5 L1891.8,1171.6 L1892.2,1171.7 L1892.8,1171.8 L1893.2,1171.9 L1893.8,1171.9 L1894.2,1172.0 L1894.8,1172.1 L1895.2,1172.2 L1895.8,1172.4 L1896.2,1172.5 L1896.8,1172.7 L1897.2,1173.0 L1897.8,1173.3 L1898.2,1173.8 L1898.8,1174.2 L1899.2,1174.7 L1899.8,1175.2 L1900.2,1175.8 L1900.8,1176.3 L1901.2,1176.8 L1901.8,1177.3 L1902.2,1177.8 L1902.8,1178.1 L1903.2,1178.5 L1903.8,1178.8 L1904.2,1179.0 L1904.8,1179.2 L1905.2,1179.4 L1905.8,1179.6 L1906.2,1179.8 L1906.8,1180.0 L1907.2,1180.2 L1907.8,1180.4 L1908.2,1180.5 L1908.8,1180.7 L1909.2,1180.9 L1909.8,1181.0 L1910.2,1181.2 L1910.8,1181.3 L1911.2,1181.4 L1911.8,1181.5 L1912.2,1181.6 L1912.8,1181.7 L1913.2,1181.8 L1913.8,1181.9 L1914.2,1181.9 L1914.8,1182.0 L1915.0,1182.0 L1915.2,1182.0 L1915.8,1182.1 L1916.2,1182.1 L1916.8,1182.1 L1917.2,1182.2 L1917.8,1182.2 L1918.2,1182.2 L1918.8,1182.2 L1919.2,1182.3 L1919.8,1182.3 L1920.2,1182.3 L1920.8,1182.3 L1921.2,1182.4 L1921.8,1182.4 L1922.2,1182.4 L1922.8,1182.4 L1923.2,1182.4 L1923.8,1182.4 L1924.2,1182.5 L1924.8,1182.5 L1925.2,1182.5 L1925.8,1182.5 L1926.2,1182.5 L1926.8,1182.5 L1927.2,1182.5 L1927.5,1182.5 L1927.8,1182.5 L1928.2,1182.5 L1928.8,1182.5 L1929.2,1182.5 L1929.8,1182.4 L1930.2,1182.4 L1930.8,1182.4 L1931.2,1182.4 L1931.8,1182.3 L1932.2,1182.3 L1932.8,1182.2 L1933.2,1182.2 L1933.8,1182.1 L1934.2,1182.1 L1934.8,1182.0 L1935.2,1181.9 L1935.8,1181.9 L1936.2,1181.8 L1936.8,1181.7 L1937.2,1181.7 L1937.8,1181.6 L1938.2,1181.5 L1938.8,1181.4 L1939.2,1181.4 L1939.8,1181.3 L1940.0,1181.2 L1940.2,1181.2 L1940.8,1181.1 L1941.2,1181.0 L1941.8,1180.9 L1942.2,1180.8 L1942.8,1180.7 L1943.2,1180.5 L1943.8,1180.4 L1944.2,1180.2 L1944.8,1180.0 L1945.2,1179.8 L1945.8,1179.6 L1946.2,1179.4 L1946.8,1179.2 L1947.2,1178.9 L1947.5,1178.8 L1947.8,1178.6 L1948.2,1178.0 L1948.8,1177.1 L1949.2,1176.2 L1949.8,1175.3 L1950.2,1174.5 L1950.8,1174.0 L1951.2,1173.8 L1951.8,1173.8 L1952.2,1173.8 L1952.8,1173.8 L1953.2,1173.8 L1953.8,1173.9 L1954.2,1174.0 L1954.8,1174.0 L1955.2,1174.1 L1955.8,1174.1 L1956.2,1174.2 L1956.8,1174.3 L1957.2,1174.3 L1957.8,1174.4 L1958.2,1174.4 L1958.8,1174.5 L1959.2,1174.5 L1959.8,1174.5 L1960.0,1174.5 L1960.2,1174.5 L1960.8,1174.5 L1961.2,1174.4 L1961.8,1174.3 L1962.2,1174.2 L1962.8,1174.0 L1963.2,1173.8 L1963.8,1173.7 L1964.2,1173.5 L1964.8,1173.3 L1965.2,1173.0 L1965.8,1172.8 L1966.2,1172.6 L1966.8,1172.4 L1967.2,1172.2 L1967.8,1172.0 L1968.2,1171.8 L1968.8,1171.7 L1969.2,1171.5 L1969.8,1171.4 L1970.2,1171.3 L1970.8,1171.3 L1971.2,1171.2 L1971.8,1171.4 L1972.2,1171.7 L1972.8,1172.2 L1973.2,1172.8 L1973.8,1173.5 L1974.2,1174.2 L1974.8,1174.9 L1975.2,1175.7 L1975.8,1176.3 L1976.2,1176.8 L1976.8,1177.3 L1977.2,1177.5 L1977.5,1177.5 L1977.8,1177.5 L1978.2,1177.5 L1978.8,1177.4 L1979.2,1177.3 L1979.8,1177.1 L1980.2,1177.0 L1980.8,1176.8 L1981.2,1176.7 L1981.8,1176.6 L1982.2,1176.4 L1982.8,1176.3 L1983.2,1176.3 L1983.8,1176.2 L1984.2,1176.3 L1984.8,1176.5 L1985.2,1176.7 L1985.8,1177.0 L1986.2,1177.3 L1986.8,1177.8 L1987.2,1178.2 L1987.8,1178.7 L1988.2,1179.2 L1988.8,1179.6 L1989.2,1180.1 L1989.8,1180.6 L1990.2,1181.0 L1990.8,1181.3 L1991.2,1181.6 L1991.8,1181.8 L1992.2,1182.0 L1992.5,1182.0 L1992.8,1182.0 L1993.2,1182.1 L1993.8,1182.1 L1994.2,1182.1 L1994.8,1182.2 L1995.2,1182.2 L1995.8,1182.2 L1996.2,1182.3 L1996.8,1182.3 L1997.2,1182.3 L1997.8,1182.3 L1998.2,1182.4 L1998.8,1182.4 L1999.2,1182.4 L1999.8,1182.4 L2000.2,1182.4 L2000.8,1182.4 L2001.2,1182.5 L2001.8,1182.5 L2002.2,1182.5 L2002.8,1182.5 L2003.2,1182.5 L2003.8,1182.5 L2004.2,1182.5 L2004.8,1182.5 L2005.0,1182.5 L2005.2,1182.5 L2005.8,1182.5 L2006.2,1182.4 L2006.8,1182.4 L2007.2,1182.3 L2007.8,1182.2 L2008.2,1182.1 L2008.8,1181.9 L2009.2,1181.8 L2009.8,1181.7 L2010.2,1181.5 L2010.8,1181.3 L2011.2,1181.2 L2011.8,1181.0 L2012.2,1180.8 L2012.8,1180.7 L2013.2,1180.5 L2013.8,1180.4 L2014.2,1180.2 L2014.8,1180.1 L2015.0,1180.0 L2015.2,1179.9 L2015.8,1179.8 L2016.2,1179.6 L2016.8,1179.4 L2017.2,1179.3 L2017.8,1179.1 L2018.2,1178.9 L2018.8,1178.7 L2019.2,1178.5 L2019.8,1178.3 L2020.2,1178.2 L2020.8,1178.0 L2021.2,1177.9 L2021.8,1177.7 L2022.2,1177.6 L2022.8,1177.6 L2023.2,1177.5 L2023.8,1177.5 L2024.2,1177.5 L2024.8,1177.6 L2025.2,1177.7 L2025.8,1177.9 L2026.2,1178.1 L2026.8,1178.4 L2027.2,1178.6 L2027.8,1178.9 L2028.2,1179.1 L2028.8,1179.4 L2029.2,1179.7 L2029.8,1179.9 L2030.0,1180.0 L2030.2,1180.1 L2030.8,1180.3 L2031.2,1180.6 L2031.8,1180.9 L2032.2,1181.1 L2032.8,1181.4 L2033.2,1181.7 L2033.8,1182.0 L2034.2,1182.3 L2034.8,1182.5 L2035.2,1182.8 L2035.8,1183.0 L2036.2,1183.2 L2036.8,1183.4 L2037.2,1183.5 L2037.8,1183.7 L2038.2,1183.7 L2038.8,1183.8 L2039.2,1183.7 L2039.8,1183.7 L2040.2,1183.7 L2040.8,1183.7 L2041.2,1183.7 L2041.8,1183.7 L2042.2,1183.7 L2042.8,1183.6 L2043.2,1183.6 L2043.8,1183.6 L2044.2,1183.5 L2044.8,1183.5 L2045.2,1183.5 L2045.8,1183.4 L2046.2,1183.4 L2046.8,1183.3 L2047.2,1183.3 L2047.8,1183.2 L2048.2,1183.2 L2048.8,1183.1 L2049.2,1183.1 L2049.8,1183.0 L2050.0,1183.0 L2050.2,1183.0 L2050.8,1182.9 L2051.2,1182.8 L2051.8,1182.8 L2052.2,1182.7 L2052.8,1182.6 L2053.2,1182.4 L2053.8,1182.3 L2054.2,1182.2 L2054.8,1182.1 L2055.2,1181.9 L2055.8,1181.8 L2056.2,1181.7 L2056.8,1181.5 L2057.2,1181.4 L2057.8,1181.2 L2058.2,1181.1 L2058.8,1180.9 L2059.2,1180.8 L2059.8,1180.7 L2060.2,1180.5 L2060.8,1180.4 L2061.2,1180.3 L2061.8,1180.2 L2062.2,1180.1 L2062.5,1180.0 L2062.8,1179.9 L2063.2,1179.8 L2063.8,1179.7 L2064.2,1179.6 L2064.8,1179.5 L2065.2,1179.4 L2065.8,1179.3 L2066.2,1179.1 L2066.8,1179.0 L2067.2,1178.9 L2067.8,1178.8 L2068.2,1178.7 L2068.8,1178.5 L2069.2,1178.4 L2069.8,1178.3 L2070.2,1178.2 L2070.8,1178.1 L2071.2,1178.0 L2071.8,1177.9 L2072.2,1177.8 L2072.8,1177.8 L2073.2,1177.7 L2073.8,1177.6 L2074.2,1177.6 L2074.8,1177.6 L2075.2,1177.5 L2075.8,1177.5 L2076.2,1177.5 L2076.8,1177.5 L2077.2,1177.6 L2077.8,1177.7 L2078.2,1177.8 L2078.8,1178.0 L2079.2,1178.2 L2079.8,1178.4 L2080.2,1178.6 L2080.8,1178.8 L2081.2,1179.1 L2081.8,1179.3 L2082.2,1179.6 L2082.8,1179.8 L2083.2,1180.0 L2083.8,1180.3 L2084.2,1180.5 L2084.8,1180.7 L2085.2,1180.9 L2085.8,1181.0 L2086.2,1181.1 L2086.8,1181.2 L2087.2,1181.2 L2087.5,1181.2 L2087.8,1181.2 L2088.2,1181.2 L2088.8,1181.2 L2089.2,1181.1 L2089.8,1181.0 L2090.2,1180.9 L2090.8,1180.8 L2091.2,1180.7 L2091.8,1180.6 L2092.2,1180.4 L2092.8,1180.3 L2093.2,1180.2 L2093.8,1180.1 L2094.2,1179.9 L2094.8,1179.8 L2095.2,1179.7 L2095.8,1179.6 L2096.2,1179.6 L2096.8,1179.5 L2097.2,1179.5 L2097.5,1179.5 L2097.8,1179.5 L2098.2,1179.5 L2098.8,1179.5 L2099.2,1179.5 L2099.8,1179.5 L2100.2,1179.5 L2100.8,1179.5 L2101.2,1179.5 L2101.8,1179.6 L2102.2,1179.6 L2102.8,1179.6 L2103.2,1179.6 L2103.8,1179.6 L2104.2,1179.7 L2104.8,1179.7 L2105.2,1179.7 L2105.8,1179.7 L2106.2,1179.8 L2106.8,1179.8 L2107.2,1179.8 L2107.8,1179.8 L2108.2,1179.9 L2108.8,1179.9 L2109.2,1179.9 L2109.8,1180.0 L2110.0,1180.0 L2110.2,1180.0 L2110.8,1180.1 L2111.2,1180.2 L2111.8,1180.4 L2112.2,1180.5 L2112.8,1180.7 L2113.2,1181.0 L2113.8,1181.2 L2114.2,1181.5 L2114.8,1181.7 L2115.2,1182.0 L2115.8,1182.2 L2116.2,1182.5 L2116.8,1182.7 L2117.2,1182.9 L2117.8,1183.2 L2118.2,1183.3 L2118.8,1183.5 L2119.2,1183.6 L2119.8,1183.7 L2120.0,1183.8 L2120.2,1183.8 L2120.8,1183.8 L2121.2,1183.9 L2121.8,1183.9 L2122.2,1184.0 L2122.8,1184.0 L2123.2,1184.1 L2123.8,1184.1 L2124.2,1184.1 L2124.8,1184.2 L2125.2,1184.2 L2125.8,1184.3 L2126.2,1184.3 L2126.8,1184.3 L2127.2,1184.4 L2127.8,1184.4 L2128.2,1184.4 L2128.8,1184.4 L2129.2,1184.4 L2129.8,1184.5 L2130.2,1184.5 L2130.8,1184.5 L2131.2,1184.5 L2131.8,1184.5 L2132.2,1184.5 L2132.5,1184.5 L2132.8,1184.5 L2133.2,1184.5 L2133.8,1184.5 L2134.2,1184.5 L2134.8,1184.5 L2135.2,1184.4 L2135.8,1184.4 L2136.2,1184.4 L2136.8,1184.4 L2137.2,1184.3 L2137.8,1184.3 L2138.2,1184.3 L2138.8,1184.2 L2139.2,1184.2 L2139.8,1184.1 L2140.2,1184.1 L2140.8,1184.1 L2141.2,1184.0 L2141.8,1184.0 L2142.2,1184.0 L2142.8,1183.9 L2143.2,1183.9 L2143.8,1183.9 L2144.2,1183.8 L2144.8,1183.8 L2145.2,1183.8 L2145.8,1183.8 L2146.2,1183.8 L2146.8,1183.8 L2147.2,1183.8 L2147.5,1183.8 L2147.8,1183.8 L2148.2,1183.8 L2148.8,1183.8 L2149.2,1183.8 L2149.8,1183.8 L2150.2,1183.8 L2150.8,1183.8 L2151.2,1183.8 L2151.8,1183.8 L2152.2,1183.8 L2152.8,1183.8 L2153.2,1183.8 L2153.8,1183.8 L2154.2,1183.8 L2154.8,1183.8 L2155.2,1183.8 L2155.8,1183.8 L2156.2,1183.8 L2156.8,1183.8 L2157.2,1183.8 L2157.8,1183.8 L2158.2,1183.8 L2158.8,1183.8 L2159.2,1183.8 L2159.8,1183.8 L2160.2,1183.8 L2160.8,1183.8 L2161.2,1183.8 L2161.8,1183.8 L2162.2,1183.8 L2162.5,1183.8 L2162.8,1183.7 L2163.2,1183.7 L2163.8,1183.6 L2164.2,1183.4 L2164.8,1183.3 L2165.2,1183.1 L2165.8,1182.8 L2166.2,1182.6 L2166.8,1182.3 L2167.2,1182.0 L2167.8,1181.7 L2168.2,1181.5 L2168.8,1181.2 L2169.2,1180.9 L2169.8,1180.7 L2170.2,1180.5 L2170.8,1180.3 L2171.2,1180.2 L2171.8,1180.1 L2172.2,1180.0 L2172.5,1180.0 L2172.8,1180.0 L2173.2,1180.0 L2173.8,1180.0 L2174.2,1180.0 L2174.8,1180.0 L2175.2,1180.0 L2175.8,1180.0 L2176.2,1180.0 L2176.8,1180.0 L2177.2,1180.0 L2177.8,1180.0 L2178.2,1180.0 L2178.8,1180.0 L2179.2,1180.0 L2179.8,1180.0 L2180.2,1180.0 L2180.8,1180.0 L2181.2,1180.0 L2181.8,1180.0 L2182.2,1180.0 L2182.8,1180.0 L2183.2,1180.0 L2183.8,1180.0 L2184.2,1180.0 L2184.8,1180.0 L2185.2,1180.0 L2185.8,1180.0 L2186.2,1180.0" fill="none" stroke="#ff0000" stroke-width="7.1" stroke-linejoin="round" stroke-linecap="butt"/>
<path d="M203.8,907.0 L204.2,906.9 L204.8,906.8 L205.2,906.8 L205.8,906.7 L206.2,906.6 L206.8,906.5 L207.2,906.4 L207.8,906.3 L208.2,906.3 L208.8,906.2 L209.2,906.1 L209.8,906.0 L210.2,905.9 L210.8,905.9 L211.2,905.8 L211.8,905.7 L212.2,905.6 L212.8,905.5 L213.2,905.5 L213.8,905.4 L214.2,905.3 L214.8,905.2 L215.2,905.2 L215.8,905.1 L216.2,905.0 L216.8,904.9 L217.2,904.9 L217.8,904.8 L218.2,904.7 L218.8,904.6 L219.2,904.6 L219.8,904.5 L220.2,904.4 L220.8,904.3 L221.2,904.3 L221.8,904.2 L222.2,904.1 L222.8,904.1 L223.2,904.0 L223.8,903.9 L224.2,903.9 L224.8,903.8 L225.0,903.8 L225.2,903.7 L225.8,903.6 L226.2,903.6 L226.8,903.5 L227.2,903.4 L227.8,903.4 L228.2,903.3 L228.8,903.2 L229.2,903.1 L229.8,903.1 L230.2,903.0 L230.8,902.9 L231.2,902.8 L231.8,902.8 L232.2,902.7 L232.8,902.6 L233.2,902.5 L233.8,902.5 L234.2,902.4 L234.8,902.3 L235.2,902.3 L235.8,902.2 L236.2,902.1 L236.8,902.1 L237.2,902.0 L237.8,901.9 L238.2,901.9 L238.8,901.8 L239.2,901.8 L239.8,901.7 L240.2,901.6 L240.8,901.6 L241.2,901.5 L241.8,901.5 L242.2,901.5 L242.8,901.4 L243.2,901.4 L243.8,901.3 L244.2,901.3 L244.8,901.3 L245.0,901.2 L245.2,901.2 L245.8,901.2 L246.2,901.2 L246.8,901.2 L247.2,901.1 L247.8,901.1 L248.2,901.1 L248.8,901.1 L249.2,901.1 L249.8,901.0 L250.2,901.0 L250.8,901.0 L251.2,901.0 L251.8,901.0 L252.2,901.0 L252.8,900.9 L253.2,900.9 L253.8,900.9 L254.2,900.9 L254.8,900.9 L255.2,900.9 L255.8,900.9 L256.2,900.8 L256.8,900.8 L257.2,900.8 L257.8,900.8 L258.2,900.8 L258.8,900.8 L259.2,900.8 L259.8,900.7 L260.2,900.7 L260.8,900.7 L261.2,900.7 L261.8,900.7 L262.2,900.6 L262.8,900.6 L263.2,900.6 L263.8,900.6 L264.2,900.5 L264.8,900.5 L265.0,900.5 L265.2,900.5 L265.8,900.4 L266.2,900.4 L266.8,900.3 L267.2,900.3 L267.8,900.2 L268.2,900.1 L268.8,900.0 L269.2,900.0 L269.8,899.9 L270.2,899.8 L270.8,899.7 L271.2,899.7 L271.8,899.6 L272.2,899.6 L272.8,899.5 L273.2,899.5 L273.8,899.5 L274.2,899.5 L274.8,899.5 L275.2,899.6 L275.8,899.6 L276.2,899.7 L276.8,899.8 L277.2,899.9 L277.8,899.9 L278.2,900.0 L278.8,900.1 L279.2,900.2 L279.8,900.3 L280.2,900.3 L280.8,900.4 L281.2,900.4 L281.8,900.5 L282.2,900.5 L282.5,900.5 L282.8,900.5 L283.2,900.5 L283.8,900.5 L284.2,900.5 L284.8,900.5 L285.2,900.5 L285.8,900.5 L286.2,900.4 L286.8,900.4 L287.2,900.4 L287.8,900.4 L288.2,900.4 L288.8,900.3 L289.2,900.3 L289.8,900.3 L290.2,900.2 L290.8,900.2 L291.2,900.2 L291.8,900.1 L292.2,900.1 L292.8,900.1 L293.2,900.0 L293.8,900.0 L294.2,900.0 L294.8,899.9 L295.2,899.8 L295.8,899.7 L296.2,899.6 L296.8,899.5 L297.2,899.4 L297.8,899.3 L298.2,899.2 L298.8,899.1 L299.2,898.9 L299.8,898.8 L300.2,898.6 L300.8,898.5 L301.2,898.4 L301.8,898.2 L302.2,898.1 L302.5,898.0 L302.8,897.9 L303.2,897.8 L303.8,897.7 L304.2,897.6 L304.8,897.4 L305.2,897.3 L305.8,897.2 L306.2,897.0 L306.8,896.9 L307.2,896.7 L307.8,896.5 L308.2,896.3 L308.8,896.0 L309.2,895.7 L309.9,895.4 L310.2,895.0 L310.8,894.4 L311.2,893.5 L311.8,892.4 L312.2,891.2 L312.8,889.8 L313.4,887.9 L313.8,886.5 L314.2,884.4 L314.8,881.5 L315.2,877.7 L315.5,875.3 L315.8,870.6 L316.1,862.8 L316.8,858.6 L317.2,856.7 L317.8,853.4 L318.0,850.3 L318.4,825.2 L318.8,816.8 L319.2,809.7 L319.8,804.6 L320.1,800.2 L320.8,792.3 L321.2,786.2 L321.8,780.1 L322.1,775.1 L322.8,764.7 L323.2,761.0 L323.8,763.2 L324.2,767.6 L324.8,773.0 L325.0,775.1 L325.2,778.0 L325.8,783.0 L326.2,790.0 L326.7,800.2 L327.1,825.2 L327.8,837.9 L328.2,843.4 L328.7,850.3 L329.2,862.8 L329.8,869.3 L330.2,873.5 L330.5,875.3 L330.8,877.9 L331.2,882.3 L331.8,886.1 L332.1,887.9 L332.8,890.2 L333.2,891.7 L333.8,893.0 L334.2,894.1 L334.8,894.8 L335.2,895.4 L335.8,895.8 L336.2,896.2 L336.8,896.5 L337.2,896.9 L337.8,897.2 L338.2,897.4 L338.8,897.7 L339.2,897.9 L339.8,898.1 L340.2,898.3 L340.8,898.4 L341.2,898.5 L341.8,898.6 L342.2,898.7 L342.5,898.8 L342.8,898.8 L343.2,898.8 L343.8,898.9 L344.2,898.9 L344.8,899.0 L345.2,899.0 L345.8,899.0 L346.2,899.1 L346.8,899.1 L347.2,899.1 L347.8,899.2 L348.2,899.2 L348.8,899.2 L349.2,899.3 L349.8,899.3 L350.2,899.3 L350.8,899.3 L351.2,899.3 L351.8,899.4 L352.2,899.4 L352.8,899.4 L353.2,899.4 L353.8,899.4 L354.2,899.5 L354.8,899.5 L355.0,899.5 L355.2,899.5 L355.8,899.5 L356.2,899.6 L356.8,899.6 L357.2,899.6 L357.8,899.6 L358.2,899.7 L358.8,899.7 L359.2,899.7 L359.8,899.7 L360.2,899.8 L360.8,899.8 L361.2,899.8 L361.8,899.8 L362.2,899.9 L362.8,899.9 L363.2,899.9 L363.8,899.9 L364.2,899.9 L364.8,900.0 L365.2,900.0 L365.8,900.0 L366.2,900.0 L366.8,900.0 L367.2,900.0 L367.5,900.0 L367.8,900.0 L368.2,900.0 L368.8,900.0 L369.2,900.0 L369.8,900.0 L370.2,900.0 L370.8,900.0 L371.2,899.9 L371.8,899.9 L372.2,899.9 L372.8,899.9 L373.2,899.9 L373.8,899.8 L374.2,899.8 L374.8,899.8 L375.2,899.8 L375.8,899.7 L376.2,899.7 L376.8,899.7 L377.2,899.7 L377.8,899.6 L378.2,899.6 L378.8,899.6 L379.2,899.5 L379.8,899.5 L380.0,899.5 L380.2,899.5 L380.8,899.5 L381.2,899.4 L381.8,899.4 L382.2,899.4 L382.8,899.3 L383.2,899.3 L383.8,899.3 L384.2,899.2 L384.8,899.2 L385.2,899.1 L385.8,899.1 L386.2,899.0 L386.8,899.0 L387.2,898.9 L387.8,898.9 L388.2,898.8 L388.8,898.7 L389.2,898.7 L389.8,898.6 L390.2,898.5 L390.8,898.4 L391.2,898.3 L391.8,898.2 L392.2,898.1 L392.5,898.0 L392.8,897.9 L393.2,897.6 L393.8,897.2 L394.2,896.6 L394.8,896.0 L395.2,895.4 L395.8,894.7 L396.3,894.1 L396.8,893.6 L397.2,893.1 L397.8,892.6 L398.2,892.1 L398.8,891.6 L399.2,891.0 L399.8,890.4 L400.2,889.6 L400.8,888.8 L401.3,887.9 L401.8,886.9 L402.2,885.6 L402.8,884.0 L403.2,882.0 L403.8,879.5 L404.4,875.3 L404.8,872.3 L405.2,864.4 L405.7,850.3 L405.9,837.8 L406.0,812.7 L406.2,806.7 L406.8,800.1 L407.2,796.7 L407.7,787.7 L407.9,775.1 L408.0,725.0 L408.2,710.1 L408.8,699.3 L409.4,691.4 L409.7,679.7 L410.2,682.7 L410.8,688.5 L411.0,691.4 L411.2,694.6 L411.8,702.1 L412.2,710.1 L412.8,716.6 L413.1,725.0 L413.5,775.1 L413.8,778.6 L414.2,781.2 L414.8,783.2 L415.1,787.7 L415.4,812.7 L415.8,821.1 L416.2,826.7 L416.8,830.6 L417.3,837.8 L417.6,850.3 L418.2,860.8 L418.8,867.1 L419.2,871.8 L419.8,875.3 L420.2,878.2 L420.8,880.9 L421.2,883.5 L421.8,885.8 L422.2,888.0 L422.8,889.8 L423.2,891.5 L423.8,892.7 L424.2,893.7 L424.8,894.3 L425.2,894.5 L425.8,894.3 L426.2,893.9 L426.8,893.1 L427.2,892.1 L427.8,890.9 L428.2,889.4 L428.8,887.7 L429.2,885.9 L429.8,883.8 L430.2,881.6 L430.8,879.3 L431.2,876.8 L431.8,874.3 L432.2,871.6 L432.8,868.9 L433.2,866.1 L433.8,862.8 L434.2,860.7 L434.8,857.5 L435.3,850.3 L435.7,831.5 L436.2,823.5 L436.8,818.9 L437.2,815.4 L437.6,812.7 L438.2,806.3 L438.8,802.5 L439.0,801.9 L439.2,801.9 L439.8,802.3 L440.2,803.0 L440.8,804.3 L441.2,806.2 L441.8,808.9 L442.3,812.7 L442.7,831.5 L443.2,838.9 L443.8,842.2 L444.2,845.1 L444.8,850.3 L445.4,862.8 L445.8,865.9 L446.2,869.4 L446.8,872.1 L447.3,875.3 L447.8,878.5 L448.2,882.4 L448.8,885.8 L449.2,887.9 L449.8,889.6 L450.2,890.9 L450.8,892.0 L451.2,893.0 L451.8,893.8 L452.2,894.5 L452.9,895.4 L453.2,895.7 L453.8,896.2 L454.2,896.6 L454.8,896.9 L455.0,897.0 L455.2,897.1 L455.8,897.3 L456.2,897.5 L456.8,897.7 L457.2,897.8 L457.8,898.0 L458.2,898.1 L458.8,898.3 L459.2,898.4 L459.8,898.5 L460.2,898.6 L460.8,898.6 L461.2,898.7 L461.8,898.7 L462.2,898.7 L462.5,898.8 L462.8,898.8 L463.2,898.8 L463.8,898.8 L464.2,898.8 L464.8,898.8 L465.2,898.8 L465.8,898.8 L466.2,898.8 L466.8,898.8 L467.2,898.8 L467.8,898.8 L468.2,898.8 L468.8,898.8 L469.2,898.8 L469.8,898.8 L470.2,898.8 L470.8,898.8 L471.2,898.8 L471.8,898.8 L472.2,898.8 L472.8,898.8 L473.2,898.8 L473.8,898.8 L474.2,898.8 L474.8,898.8 L475.0,898.8 L475.2,898.7 L475.8,898.7 L476.2,898.7 L476.8,898.7 L477.2,898.7 L477.8,898.7 L478.2,898.6 L478.8,898.6 L479.2,898.6 L479.8,898.5 L480.2,898.5 L480.8,898.4 L481.2,898.4 L481.8,898.3 L482.2,898.2 L482.8,898.2 L483.2,898.1 L483.8,898.0 L484.2,898.0 L484.8,897.9 L485.2,897.8 L485.8,897.8 L486.2,897.7 L486.8,897.6 L487.2,897.5 L487.5,897.5 L487.8,897.5 L488.2,897.4 L488.8,897.3 L489.2,897.3 L489.8,897.2 L490.2,897.1 L490.8,897.0 L491.2,896.9 L491.8,896.9 L492.2,896.8 L492.8,896.6 L493.2,896.5 L493.8,896.4 L494.2,896.2 L494.8,896.1 L495.2,895.9 L495.8,895.7 L496.2,895.5 L496.5,895.4 L496.8,895.2 L497.2,894.7 L497.8,894.0 L498.2,893.1 L498.8,892.0 L499.2,890.8 L499.8,889.3 L500.2,887.9 L500.8,885.9 L501.2,883.3 L501.8,879.3 L502.1,875.3 L502.7,850.3 L503.2,842.8 L503.8,839.0 L504.2,831.2 L504.5,825.2 L504.6,800.2 L505.0,775.1 L505.2,768.8 L505.8,761.5 L506.2,756.5 L506.7,750.1 L507.2,740.2 L507.9,725.0 L508.3,715.5 L508.8,716.2 L509.2,718.5 L509.9,725.0 L510.3,750.1 L510.8,758.9 L511.2,764.0 L511.8,769.3 L512.1,775.1 L512.9,819.0 L513.2,823.6 L513.8,829.5 L514.2,834.8 L514.8,839.4 L515.2,843.5 L515.8,846.9 L516.2,849.8 L516.8,852.1 L517.2,854.0 L517.8,855.4 L518.2,856.3 L518.8,856.8 L519.2,856.9 L519.8,854.8 L520.2,849.9 L520.8,842.7 L521.2,833.8 L521.7,825.2 L522.2,799.5 L522.5,787.7 L522.8,783.6 L523.2,775.1 L523.3,762.6 L523.5,737.6 L523.6,712.5 L523.8,697.6 L524.2,688.2 L524.8,685.1 L525.2,679.2 L525.5,672.6 L525.6,647.5 L526.0,627.1 L526.2,630.9 L526.6,647.5 L526.8,672.6 L527.2,680.2 L527.8,684.1 L528.2,686.2 L528.8,690.9 L529.1,697.6 L529.2,712.5 L529.8,715.5 L530.2,716.6 L530.8,717.3 L531.2,718.8 L531.8,722.6 L532.2,727.7 L532.8,733.5 L533.1,737.6 L533.8,742.8 L534.2,747.2 L534.8,756.1 L535.0,762.6 L535.1,793.9 L535.8,802.7 L536.2,804.3 L536.9,812.7 L537.0,837.8 L537.2,841.5 L537.8,845.2 L538.2,846.8 L538.7,850.3 L539.4,862.8 L539.8,866.5 L540.2,870.0 L540.8,872.7 L541.2,875.3 L541.8,878.3 L542.2,881.2 L542.8,883.9 L543.2,886.2 L543.7,887.9 L544.2,889.2 L544.8,890.4 L545.2,891.4 L545.8,892.4 L546.2,893.3 L546.8,894.0 L547.2,894.6 L547.8,895.1 L548.1,895.4 L548.8,895.8 L549.2,896.1 L549.8,896.4 L550.2,896.6 L550.8,896.9 L551.2,897.1 L551.8,897.4 L552.2,897.6 L552.8,897.8 L553.2,898.0 L553.8,898.1 L554.2,898.3 L554.8,898.4 L555.2,898.5 L555.8,898.6 L556.2,898.7 L556.8,898.7 L557.2,898.7 L557.5,898.8 L557.8,898.8 L558.2,898.8 L558.8,898.8 L559.2,898.8 L559.8,898.8 L560.2,898.8 L560.8,898.8 L561.2,898.8 L561.8,898.8 L562.2,898.8 L562.8,898.8 L563.2,898.8 L563.8,898.8 L564.2,898.8 L564.8,898.8 L565.2,898.8 L565.8,898.8 L566.2,898.8 L566.8,898.8 L567.2,898.8 L567.8,898.8 L568.2,898.8 L568.8,898.8 L569.2,898.8 L569.8,898.8 L570.0,898.8 L570.2,898.7 L570.8,898.7 L571.2,898.7 L571.8,898.6 L572.2,898.5 L572.8,898.3 L573.2,898.2 L573.8,898.0 L574.2,897.8 L574.8,897.6 L575.2,897.4 L575.8,897.2 L576.2,896.9 L576.8,896.7 L577.2,896.4 L577.5,896.2 L577.8,896.1 L578.2,895.6 L578.8,894.9 L579.2,894.1 L579.8,893.2 L580.2,892.4 L580.8,891.5 L581.2,890.8 L581.8,890.3 L582.2,890.0 L582.5,890.0 L582.8,890.0 L583.2,890.2 L583.8,890.6 L584.2,891.1 L584.8,891.6 L585.2,892.2 L585.8,892.6 L586.2,893.0 L586.8,893.3 L587.2,893.6 L587.8,893.8 L588.2,894.1 L588.8,894.4 L589.2,894.6 L589.8,894.8 L590.2,895.0 L590.8,895.2 L591.2,895.3 L591.8,895.4 L592.2,895.5 L592.5,895.5 L592.8,895.5 L593.2,895.5 L593.8,895.4 L594.2,895.2 L594.8,895.1 L595.2,894.8 L595.8,894.6 L596.2,894.2 L596.8,893.9 L597.2,893.5 L597.8,893.0 L598.2,892.5 L598.8,891.9 L599.2,891.3 L599.9,890.4 L600.2,889.5 L600.8,887.2 L601.2,884.1 L601.8,880.4 L602.2,877.0 L602.8,872.0 L603.0,867.9 L603.4,855.3 L603.7,836.5 L604.2,827.9 L604.8,823.6 L605.2,821.0 L605.9,817.8 L606.2,815.7 L606.8,812.7 L607.2,810.5 L607.6,810.1 L608.2,813.6 L608.7,817.8 L609.2,822.8 L609.8,828.5 L610.2,834.2 L610.5,836.5 L610.8,839.0 L611.2,843.5 L611.8,847.7 L612.2,851.6 L612.7,855.3 L613.2,858.9 L613.8,862.2 L614.2,865.5 L614.6,867.9 L615.2,872.3 L615.8,875.9 L616.2,879.0 L616.5,880.4 L616.8,881.6 L617.2,883.9 L617.8,886.0 L618.2,887.9 L618.8,889.6 L619.0,890.4 L619.2,891.2 L619.8,892.8 L620.2,894.3 L620.8,895.5 L621.2,896.2 L621.8,896.8 L622.2,897.2 L622.8,897.7 L623.2,898.1 L623.8,898.5 L624.2,898.9 L624.8,899.2 L625.2,899.5 L625.8,899.8 L626.2,900.0 L626.8,900.2 L627.2,900.3 L627.8,900.4 L628.2,900.5 L628.8,900.5 L629.2,900.5 L629.8,900.5 L630.2,900.5 L630.8,900.5 L631.2,900.5 L631.8,900.4 L632.2,900.4 L632.8,900.4 L633.2,900.3 L633.8,900.3 L634.2,900.3 L634.8,900.2 L635.2,900.2 L635.8,900.2 L636.2,900.1 L636.8,900.1 L637.2,900.0 L637.5,900.0 L637.8,900.0 L638.2,899.9 L638.8,899.8 L639.2,899.8 L639.8,899.6 L640.2,899.5 L640.8,899.4 L641.2,899.3 L641.8,899.1 L642.2,898.9 L642.8,898.8 L643.2,898.6 L643.8,898.3 L644.2,898.1 L644.8,897.9 L645.2,897.6 L645.8,897.3 L646.2,897.0 L646.8,896.7 L647.2,896.4 L647.5,896.2 L647.8,896.1 L648.2,895.6 L648.8,895.0 L649.2,894.3 L649.8,893.4 L650.2,892.5 L650.8,891.4 L651.2,890.2 L651.8,888.9 L652.2,887.5 L652.8,886.0 L653.2,884.4 L653.8,882.7 L654.4,880.4 L654.8,878.6 L655.2,875.3 L655.8,871.5 L656.3,867.9 L656.8,865.2 L657.2,862.8 L657.8,859.4 L658.1,855.3 L658.5,842.8 L658.8,840.0 L659.2,837.6 L659.8,834.0 L660.0,830.3 L660.1,805.2 L660.3,792.7 L660.8,783.4 L661.2,779.8 L661.8,775.4 L662.1,767.7 L662.3,755.1 L662.9,749.3 L663.2,752.5 L663.5,755.1 L663.8,757.1 L664.2,758.9 L664.8,761.0 L665.3,767.7 L665.5,792.7 L665.8,796.5 L666.2,799.4 L666.8,800.8 L667.2,805.2 L667.6,830.3 L667.7,842.8 L668.2,848.6 L668.8,850.6 L669.3,855.3 L669.7,867.9 L670.2,873.6 L670.8,877.2 L671.2,879.4 L671.6,880.4 L672.2,881.7 L672.8,882.6 L673.2,883.4 L673.8,884.1 L674.2,884.6 L674.8,885.1 L675.2,885.4 L675.8,885.6 L676.2,885.6 L676.8,885.4 L677.2,884.9 L677.8,884.2 L678.2,883.2 L678.8,882.1 L679.2,880.8 L679.8,879.5 L680.2,878.1 L680.8,876.7 L681.2,875.4 L681.8,874.2 L682.2,873.1 L682.8,872.1 L683.2,871.4 L683.8,871.0 L684.2,870.8 L684.8,871.0 L685.2,871.6 L685.8,872.4 L686.2,873.3 L686.6,874.1 L687.2,876.5 L687.8,879.2 L688.2,881.8 L688.5,882.9 L688.8,883.7 L689.2,885.4 L689.8,886.9 L690.2,888.3 L690.8,889.6 L691.2,890.8 L691.8,891.9 L692.3,892.9 L692.8,893.8 L693.2,894.7 L693.8,895.5 L694.2,896.3 L694.8,897.0 L695.2,897.7 L695.8,898.3 L696.2,898.8 L696.8,899.2 L697.2,899.7 L697.8,900.1 L698.2,900.5 L698.8,900.9 L699.2,901.1 L699.8,901.2 L700.0,901.2 L700.2,901.2 L700.8,901.2 L701.2,901.2 L701.8,901.2 L702.2,901.2 L702.8,901.1 L703.2,901.1 L703.8,901.0 L704.2,901.0 L704.8,900.9 L705.2,900.9 L705.8,900.8 L706.2,900.7 L706.8,900.6 L707.2,900.5 L707.8,900.5 L708.2,900.4 L708.8,900.3 L709.2,900.2 L709.8,900.1 L710.0,900.0 L710.2,899.9 L710.8,899.8 L711.2,899.6 L711.8,899.4 L712.2,899.2 L712.8,899.0 L713.2,898.7 L713.8,898.4 L714.2,898.0 L714.8,897.7 L715.2,897.3 L715.8,896.8 L716.2,896.3 L716.8,895.8 L717.2,895.3 L717.5,895.0 L717.8,894.7 L718.2,893.7 L718.8,892.5 L719.2,891.1 L719.5,890.4 L719.8,889.6 L720.2,887.9 L720.8,885.9 L721.2,883.7 L721.8,881.5 L722.0,880.4 L722.2,879.2 L722.8,876.8 L723.3,874.1 L723.8,871.5 L724.2,868.7 L724.8,865.8 L725.4,861.6 L725.9,857.1 L726.2,857.2 L726.8,858.2 L727.2,859.9 L727.8,862.2 L728.2,864.9 L728.8,867.9 L729.2,871.0 L729.8,874.2 L730.2,877.3 L730.8,880.1 L731.2,882.6 L731.8,884.5 L732.2,885.8 L732.8,886.4 L733.2,885.6 L733.8,882.2 L734.2,875.8 L734.8,865.6 L735.2,851.0 L735.6,836.5 L735.8,811.5 L736.2,786.4 L736.8,776.3 L737.2,770.9 L737.6,761.4 L737.8,742.6 L737.9,717.6 L738.2,711.0 L738.8,706.0 L739.2,703.4 L739.9,698.8 L740.2,693.4 L740.6,690.1 L741.2,691.0 L741.8,692.7 L742.2,695.0 L742.8,697.5 L743.0,698.8 L743.2,700.2 L743.8,703.2 L744.2,707.9 L744.9,717.6 L745.2,742.6 L745.8,749.3 L746.2,751.5 L746.8,756.3 L747.0,761.4 L747.1,786.4 L747.8,797.4 L748.2,799.7 L748.8,805.2 L749.0,811.5 L749.1,836.5 L749.8,845.6 L750.2,848.2 L750.8,850.8 L751.1,855.3 L751.5,867.9 L751.8,871.3 L752.2,875.9 L752.8,879.0 L753.0,880.4 L753.2,881.7 L753.8,884.1 L754.2,886.1 L754.8,887.9 L755.2,889.6 L755.5,890.4 L755.8,891.2 L756.2,892.8 L756.8,894.5 L757.2,896.0 L757.8,897.3 L758.2,898.2 L758.8,898.8 L759.2,899.0 L759.8,899.2 L760.2,899.4 L760.8,899.6 L761.2,899.8 L761.8,900.0 L762.2,900.1 L762.8,900.3 L763.2,900.4 L763.8,900.5 L764.2,900.7 L764.8,900.8 L765.2,900.9 L765.8,900.9 L766.2,901.0 L766.8,901.1 L767.2,901.1 L767.8,901.2 L768.2,901.2 L768.8,901.2 L769.2,901.2 L769.8,901.2 L770.0,901.2 L770.2,901.2 L770.8,901.2 L771.2,901.2 L771.8,901.2 L772.2,901.2 L772.8,901.2 L773.2,901.2 L773.8,901.2 L774.2,901.2 L774.8,901.2 L775.2,901.2 L775.8,901.2 L776.2,901.2 L776.8,901.2 L777.2,901.2 L777.8,901.2 L778.2,901.2 L778.8,901.2 L779.2,901.2 L779.8,901.2 L780.2,901.2 L780.8,901.2 L781.2,901.2 L781.8,901.2 L782.2,901.2 L782.8,901.2 L783.2,901.2 L783.8,901.2 L784.2,901.2 L784.8,901.2 L785.0,901.2 L785.2,901.2 L785.8,901.2 L786.2,901.2 L786.8,901.2 L787.2,901.1 L787.8,901.0 L788.2,900.9 L788.8,900.8 L789.2,900.7 L789.8,900.6 L790.2,900.5 L790.8,900.3 L791.2,900.2 L791.8,900.0 L792.2,899.8 L792.8,899.7 L793.2,899.5 L793.8,899.3 L794.2,899.1 L794.8,898.9 L795.0,898.8 L795.2,898.6 L795.8,898.2 L796.2,897.7 L796.8,897.0 L797.2,896.3 L797.8,895.6 L798.2,895.0 L798.8,894.4 L799.2,894.0 L799.8,893.8 L800.0,893.8 L800.2,893.8 L800.8,893.9 L801.2,894.2 L801.8,894.6 L802.2,895.0 L802.8,895.5 L803.2,896.0 L803.8,896.5 L804.2,896.9 L804.8,897.3 L805.0,897.5 L805.2,897.7 L805.8,898.0 L806.2,898.3 L806.8,898.6 L807.2,899.0 L807.8,899.3 L808.2,899.6 L808.8,899.9 L809.2,900.2 L809.8,900.5 L810.2,900.7 L810.8,900.9 L811.2,901.1 L811.8,901.2 L812.2,901.2 L812.5,901.2 L812.8,901.2 L813.2,901.2 L813.8,901.2 L814.2,901.2 L814.8,901.2 L815.2,901.1 L815.8,901.1 L816.2,901.0 L816.8,901.0 L817.2,900.9 L817.8,900.8 L818.2,900.8 L818.8,900.7 L819.2,900.6 L819.8,900.5 L820.2,900.4 L820.8,900.3 L821.2,900.3 L821.8,900.2 L822.2,900.1 L822.5,900.0 L822.8,899.9 L823.2,899.8 L823.8,899.7 L824.2,899.6 L824.8,899.4 L825.2,899.3 L825.8,899.1 L826.2,898.9 L826.8,898.6 L827.2,898.4 L827.8,898.1 L828.2,897.7 L828.8,897.4 L829.2,896.9 L829.8,896.5 L830.0,896.2 L830.2,895.9 L830.8,894.9 L831.2,893.3 L831.8,891.1 L832.2,888.5 L832.8,885.3 L833.2,881.6 L833.8,877.5 L834.2,869.4 L834.8,857.0 L835.2,844.7 L835.5,840.0 L835.8,836.0 L836.2,828.1 L836.8,821.2 L837.2,816.4 L837.5,815.0 L837.8,814.1 L838.2,812.4 L838.8,811.0 L839.2,810.1 L839.8,809.6 L840.0,809.5 L840.2,809.7 L840.8,810.8 L841.2,812.8 L841.8,815.4 L842.2,818.4 L842.5,820.0 L842.8,822.0 L843.2,827.9 L843.8,835.3 L844.2,842.5 L844.8,848.2 L845.0,850.0 L845.2,851.3 L845.8,853.8 L846.2,856.1 L846.8,858.1 L847.2,859.8 L847.8,861.1 L848.2,862.0 L848.8,862.5 L849.2,862.7 L849.8,862.9 L850.2,863.0 L850.8,863.1 L851.2,863.1 L851.8,863.2 L852.2,863.3 L852.8,863.4 L853.2,863.5 L853.8,863.8 L854.2,864.4 L854.8,865.7 L855.2,867.5 L855.8,869.6 L856.2,871.9 L856.8,874.3 L857.2,876.5 L857.5,877.5 L857.8,878.5 L858.2,880.7 L858.8,883.0 L859.2,885.3 L859.8,887.6 L860.2,889.6 L860.8,891.3 L861.2,892.5 L861.8,893.4 L862.2,894.3 L862.8,895.2 L863.2,896.0 L863.8,896.7 L864.2,897.4 L864.8,898.0 L865.2,898.6 L865.8,899.0 L866.2,899.4 L866.8,899.7 L867.2,899.9 L867.5,900.0 L867.8,900.1 L868.2,900.2 L868.8,900.3 L869.2,900.4 L869.8,900.5 L870.2,900.6 L870.8,900.7 L871.2,900.7 L871.8,900.8 L872.2,900.9 L872.8,901.0 L873.2,901.0 L873.8,901.1 L874.2,901.1 L874.8,901.2 L875.2,901.2 L875.8,901.2 L876.2,901.2 L876.8,901.2 L877.2,901.2 L877.5,901.2 L877.8,901.2 L878.2,901.2 L878.8,901.1 L879.2,901.0 L879.8,900.8 L880.2,900.6 L880.8,900.3 L881.2,900.0 L881.8,899.7 L882.2,899.3 L882.8,898.8 L883.2,898.3 L883.8,897.8 L884.2,897.2 L884.8,896.6 L885.0,896.2 L885.2,895.7 L885.8,893.8 L886.2,891.0 L886.8,887.5 L887.2,883.5 L887.8,879.5 L888.0,877.5 L888.2,875.2 L888.8,869.5 L889.2,863.4 L889.8,858.8 L890.0,857.5 L890.2,856.7 L890.8,855.3 L891.2,854.0 L891.8,853.1 L892.2,852.4 L892.8,852.0 L893.0,852.0 L893.2,852.0 L893.8,852.4 L894.2,853.0 L894.8,853.9 L895.2,855.0 L895.8,856.2 L896.2,857.5 L896.8,859.4 L897.2,862.2 L897.8,865.5 L898.2,869.2 L898.8,872.8 L899.2,876.1 L899.5,877.5 L899.8,878.8 L900.2,881.6 L900.8,884.4 L901.2,887.1 L901.8,889.6 L902.2,891.6 L902.8,893.2 L903.0,893.8 L903.2,894.2 L903.8,895.1 L904.2,895.9 L904.8,896.6 L905.2,897.3 L905.8,897.9 L906.2,898.4 L906.8,898.9 L907.2,899.3 L907.8,899.6 L908.2,899.8 L908.8,900.0 L909.2,900.1 L909.8,900.2 L910.2,900.3 L910.8,900.4 L911.2,900.5 L911.8,900.6 L912.2,900.7 L912.8,900.7 L913.2,900.8 L913.8,900.9 L914.2,900.9 L914.8,901.0 L915.2,901.0 L915.8,901.1 L916.2,901.1 L916.8,901.1 L917.2,901.2 L917.8,901.2 L918.2,901.2 L918.8,901.2 L919.2,901.2 L919.8,901.2 L920.0,901.2 L920.2,901.2 L920.8,901.2 L921.2,901.2 L921.8,901.2 L922.2,901.1 L922.8,901.1 L923.2,901.0 L923.8,900.9 L924.2,900.8 L924.8,900.7 L925.2,900.6 L925.8,900.4 L926.2,900.3 L926.8,900.1 L927.2,899.9 L927.8,899.7 L928.2,899.5 L928.8,899.3 L929.2,899.1 L929.8,898.9 L930.0,898.8 L930.2,898.6 L930.8,898.0 L931.2,897.2 L931.8,896.2 L932.2,895.0 L932.8,893.6 L933.2,892.2 L933.8,890.8 L934.2,889.4 L934.8,888.1 L935.0,887.5 L935.2,886.9 L935.8,885.5 L936.2,884.0 L936.8,882.6 L937.2,881.3 L937.8,880.4 L938.0,880.0 L938.2,879.7 L938.8,879.1 L939.2,878.6 L939.8,878.2 L940.2,877.8 L940.8,877.6 L941.2,877.5 L941.8,877.7 L942.2,878.4 L942.8,879.4 L943.2,880.6 L943.8,881.9 L944.2,883.2 L944.8,884.4 L945.2,885.3 L945.8,886.0 L946.2,886.2 L946.8,886.0 L947.2,885.4 L947.8,884.4 L948.2,883.4 L948.8,882.2 L949.2,881.2 L949.8,880.3 L950.0,880.0 L950.2,879.7 L950.8,879.2 L951.2,878.6 L951.8,878.1 L952.2,877.7 L952.8,877.3 L953.2,877.1 L953.8,877.0 L954.2,877.4 L954.8,878.5 L955.2,880.1 L955.8,882.0 L956.2,883.9 L956.8,885.7 L957.2,887.0 L957.5,887.5 L957.8,887.9 L958.2,888.6 L958.8,889.2 L959.2,889.8 L959.8,890.3 L960.2,890.8 L960.8,891.2 L961.2,891.7 L961.8,892.1 L962.2,892.5 L962.8,892.9 L963.2,893.3 L963.8,893.8 L964.2,894.2 L964.8,894.7 L965.2,895.2 L965.8,895.8 L966.2,896.3 L966.8,896.8 L967.2,897.3 L967.8,897.7 L968.2,898.1 L968.8,898.4 L969.2,898.6 L969.8,898.7 L970.0,898.8 L970.2,898.8 L970.8,898.8 L971.2,898.8 L971.8,898.8 L972.2,898.8 L972.8,898.8 L973.2,898.8 L973.8,898.8 L974.2,898.8 L974.8,898.8 L975.2,898.8 L975.8,898.8 L976.2,898.8 L976.8,898.8 L977.2,898.8 L977.5,898.8 L977.8,898.6 L978.2,897.7 L978.8,895.9 L979.2,893.4 L979.8,890.2 L980.2,886.4 L980.8,882.2 L981.2,877.5 L981.8,868.9 L982.2,856.2 L982.8,844.2 L983.0,840.0 L983.2,836.8 L983.8,830.7 L984.2,825.4 L984.8,821.1 L985.2,818.3 L985.5,817.5 L985.8,817.0 L986.2,816.1 L986.8,815.4 L987.2,815.0 L987.5,815.0 L987.8,815.3 L988.2,817.7 L988.8,821.7 L989.2,826.8 L989.8,832.3 L990.0,835.0 L990.2,838.0 L990.8,845.9 L991.2,855.0 L991.8,863.6 L992.2,870.4 L992.5,872.5 L992.8,874.1 L993.2,877.0 L993.8,879.5 L994.2,881.7 L994.8,883.5 L995.2,885.1 L995.8,886.4 L996.2,887.5 L996.8,888.4 L997.2,889.3 L997.8,890.1 L998.2,890.8 L998.8,891.4 L999.2,892.0 L999.8,892.5 L1000.2,892.9 L1000.8,893.4 L1001.2,893.8 L1001.8,894.1 L1002.2,894.4 L1002.8,894.7 L1003.2,895.0 L1003.8,895.3 L1004.2,895.5 L1004.8,895.8 L1005.2,896.0 L1005.8,896.2 L1006.2,896.4 L1006.8,896.6 L1007.2,896.8 L1007.8,897.1 L1008.2,897.3 L1008.8,897.5 L1009.2,897.7 L1009.8,898.0 L1010.2,898.3 L1010.8,898.5 L1011.2,898.8 L1011.8,899.1 L1012.2,899.4 L1012.8,899.7 L1013.2,899.9 L1013.8,900.2 L1014.2,900.4 L1014.8,900.6 L1015.2,900.8 L1015.8,901.0 L1016.2,901.1 L1016.8,901.2 L1017.2,901.2 L1017.5,901.2 L1017.8,901.2 L1018.2,901.2 L1018.8,901.2 L1019.2,901.2 L1019.8,901.2 L1020.2,901.2 L1020.8,901.1 L1021.2,901.1 L1021.8,901.1 L1022.2,901.0 L1022.8,900.9 L1023.2,900.9 L1023.8,900.8 L1024.2,900.7 L1024.8,900.6 L1025.2,900.5 L1025.8,900.4 L1026.2,900.3 L1026.8,900.2 L1027.2,900.1 L1027.5,900.0 L1027.8,899.8 L1028.2,898.8 L1028.8,897.2 L1029.2,895.2 L1029.8,893.0 L1030.2,890.8 L1030.8,888.9 L1031.2,887.5 L1031.8,886.4 L1032.2,885.2 L1032.8,884.1 L1033.2,883.1 L1033.8,882.3 L1034.2,881.6 L1034.8,881.3 L1035.0,881.2 L1035.2,881.3 L1035.8,881.3 L1036.2,881.4 L1036.8,881.6 L1037.2,881.8 L1037.8,882.0 L1038.2,882.2 L1038.8,882.5 L1039.2,882.9 L1039.8,883.7 L1040.2,884.6 L1040.8,885.7 L1041.2,886.9 L1041.8,888.2 L1042.2,889.4 L1042.8,890.6 L1043.2,891.6 L1043.8,892.5 L1044.2,893.3 L1044.8,894.1 L1045.2,894.9 L1045.8,895.7 L1046.2,896.5 L1046.8,897.3 L1047.2,897.9 L1047.8,898.6 L1048.2,899.1 L1048.8,899.5 L1049.2,899.8 L1049.8,900.0 L1050.0,900.0 L1050.2,900.0 L1050.8,900.0 L1051.2,900.0 L1051.8,900.0 L1052.2,900.0 L1052.8,900.0 L1053.2,900.0 L1053.8,900.0 L1054.2,900.0 L1054.8,900.0 L1055.2,900.0 L1055.8,900.0 L1056.2,900.0 L1056.8,900.0 L1057.2,900.0 L1057.8,900.0 L1058.2,900.0 L1058.8,900.0 L1059.2,900.0 L1059.8,900.0 L1060.0,900.0 L1060.2,900.0 L1060.8,900.0 L1061.2,900.0 L1061.8,900.0 L1062.2,900.0 L1062.8,899.9 L1063.2,899.9 L1063.8,899.9 L1064.2,899.9 L1064.8,899.8 L1065.2,899.8 L1065.8,899.7 L1066.2,899.7 L1066.8,899.6 L1067.2,899.5 L1067.5,899.5 L1067.8,899.4 L1068.2,898.6 L1068.8,897.2 L1069.2,895.4 L1069.8,893.4 L1070.2,891.3 L1070.8,889.3 L1071.2,887.5 L1071.8,885.8 L1072.2,883.9 L1072.8,882.0 L1073.2,880.1 L1073.8,878.4 L1074.2,876.8 L1074.8,875.5 L1075.0,875.0 L1075.2,874.5 L1075.8,873.6 L1076.2,872.7 L1076.8,871.9 L1077.2,871.1 L1077.8,870.4 L1078.2,869.8 L1078.8,869.3 L1079.2,869.0 L1079.8,868.8 L1080.0,868.8 L1080.2,868.8 L1080.8,869.0 L1081.2,869.3 L1081.8,869.8 L1082.2,870.4 L1082.8,871.1 L1083.2,871.9 L1083.8,872.8 L1084.2,873.7 L1084.8,874.6 L1085.0,875.0 L1085.2,875.5 L1085.8,876.7 L1086.2,878.2 L1086.8,879.9 L1087.2,881.7 L1087.8,883.5 L1088.2,885.3 L1088.8,887.0 L1089.2,888.4 L1089.8,889.6 L1090.0,890.0 L1090.2,890.4 L1090.8,891.1 L1091.2,891.8 L1091.8,892.5 L1092.2,893.1 L1092.8,893.7 L1093.2,894.3 L1093.8,894.8 L1094.2,895.3 L1094.8,895.7 L1095.2,896.1 L1095.8,896.5 L1096.2,896.8 L1096.8,897.1 L1097.2,897.4 L1097.5,897.5 L1097.8,897.6 L1098.2,897.8 L1098.8,898.0 L1099.2,898.2 L1099.8,898.4 L1100.2,898.6 L1100.8,898.7 L1101.2,898.9 L1101.8,899.0 L1102.2,899.2 L1102.8,899.3 L1103.2,899.4 L1103.8,899.4 L1104.2,899.5 L1104.8,899.5 L1105.0,899.5 L1105.2,899.5 L1105.8,899.4 L1106.2,899.3 L1106.8,899.2 L1107.2,899.0 L1107.8,898.8 L1108.2,898.5 L1108.8,898.2 L1109.2,897.8 L1109.8,897.4 L1110.2,897.1 L1110.8,896.6 L1111.2,896.2 L1111.8,895.7 L1112.2,895.2 L1112.5,895.0 L1112.8,894.7 L1113.2,894.1 L1113.8,893.3 L1114.2,892.3 L1114.8,891.3 L1115.2,890.1 L1115.8,888.8 L1116.2,887.5 L1116.8,886.0 L1117.2,884.6 L1117.8,883.1 L1118.2,881.5 L1118.8,880.0 L1119.2,878.5 L1119.8,876.9 L1120.2,875.2 L1120.8,873.3 L1121.2,871.3 L1121.8,869.0 L1122.2,866.4 L1122.5,865.0 L1122.8,863.3 L1123.2,858.7 L1123.8,853.2 L1124.2,847.4 L1124.8,842.2 L1125.0,840.0 L1125.2,837.9 L1125.8,833.5 L1126.2,829.1 L1126.8,825.1 L1127.2,822.0 L1127.8,820.2 L1128.0,820.0 L1128.2,820.0 L1128.8,820.3 L1129.2,820.9 L1129.8,821.7 L1130.2,822.7 L1130.8,823.8 L1131.2,825.0 L1131.8,826.9 L1132.2,829.8 L1132.8,833.5 L1133.2,837.7 L1133.8,842.2 L1134.2,846.6 L1134.8,850.7 L1135.0,852.5 L1135.2,854.3 L1135.8,857.9 L1136.2,861.6 L1136.8,865.3 L1137.2,868.8 L1137.8,872.1 L1138.2,875.0 L1138.8,877.5 L1139.2,879.7 L1139.8,881.8 L1140.2,883.8 L1140.8,885.7 L1141.2,887.4 L1141.8,889.0 L1142.2,890.5 L1142.8,891.8 L1143.2,892.9 L1143.8,893.8 L1144.2,894.5 L1144.8,895.2 L1145.2,895.9 L1145.8,896.6 L1146.2,897.2 L1146.8,897.8 L1147.2,898.3 L1147.8,898.7 L1148.2,899.1 L1148.8,899.5 L1149.2,899.7 L1149.8,899.9 L1150.0,900.0 L1150.2,900.1 L1150.8,900.2 L1151.2,900.3 L1151.8,900.4 L1152.2,900.5 L1152.8,900.6 L1153.2,900.7 L1153.8,900.7 L1154.2,900.8 L1154.8,900.9 L1155.2,901.0 L1155.8,901.0 L1156.2,901.1 L1156.8,901.1 L1157.2,901.1 L1157.8,901.2 L1158.2,901.2 L1158.8,901.2 L1159.2,901.2 L1159.8,901.2 L1160.0,901.2 L1160.2,901.2 L1160.8,901.1 L1161.2,900.9 L1161.8,900.6 L1162.2,900.3 L1162.8,899.9 L1163.2,899.4 L1163.8,899.0 L1164.2,898.5 L1164.8,898.0 L1165.2,897.6 L1165.8,897.2 L1166.2,896.8 L1166.8,896.5 L1167.2,896.3 L1167.5,896.2 L1167.8,896.2 L1168.2,896.1 L1168.8,896.0 L1169.2,895.9 L1169.8,895.8 L1170.2,895.7 L1170.8,895.6 L1171.2,895.6 L1171.8,895.5 L1172.2,895.5 L1172.5,895.5 L1172.8,895.5 L1173.2,895.6 L1173.8,895.8 L1174.2,896.1 L1174.8,896.5 L1175.2,896.8 L1175.8,897.2 L1176.2,897.6 L1176.8,898.0 L1177.2,898.3 L1177.8,898.5 L1178.2,898.7 L1178.8,898.8 L1179.2,898.7 L1179.8,898.7 L1180.2,898.5 L1180.8,898.4 L1181.2,898.2 L1181.8,897.9 L1182.2,897.6 L1182.8,897.3 L1183.2,896.9 L1183.8,896.5 L1184.2,896.0 L1184.8,895.5 L1185.2,895.0 L1185.8,894.4 L1186.2,893.8 L1186.8,892.4 L1187.2,890.0 L1187.8,887.0 L1188.2,883.7 L1188.8,880.7 L1189.2,878.3 L1189.5,877.5 L1189.8,876.8 L1190.2,875.5 L1190.8,874.3 L1191.2,873.3 L1191.8,872.5 L1192.2,872.1 L1192.5,872.0 L1192.8,872.1 L1193.2,872.7 L1193.8,873.9 L1194.2,875.5 L1194.8,877.2 L1195.2,879.1 L1195.8,880.9 L1196.2,882.5 L1196.8,884.1 L1197.2,886.0 L1197.8,888.0 L1198.2,889.9 L1198.8,891.6 L1199.2,892.9 L1199.8,893.7 L1200.0,893.8 L1200.2,893.7 L1200.8,893.7 L1201.2,893.7 L1201.8,893.6 L1202.2,893.5 L1202.8,893.4 L1203.2,893.2 L1203.8,893.1 L1204.2,893.0 L1204.8,892.9 L1205.2,892.8 L1205.8,892.7 L1206.2,892.6 L1206.8,892.5 L1207.2,892.5 L1207.5,892.5 L1207.8,892.5 L1208.2,892.6 L1208.8,892.8 L1209.2,893.0 L1209.8,893.3 L1210.2,893.6 L1210.8,894.0 L1211.2,894.4 L1211.8,894.8 L1212.2,895.3 L1212.8,895.7 L1213.2,896.2 L1213.8,896.6 L1214.2,897.0 L1214.8,897.3 L1215.0,897.5 L1215.2,897.7 L1215.8,898.0 L1216.2,898.4 L1216.8,898.8 L1217.2,899.2 L1217.8,899.6 L1218.2,899.9 L1218.8,900.2 L1219.2,900.4 L1219.8,900.5 L1220.0,900.5 L1220.2,900.5 L1220.8,900.5 L1221.2,900.5 L1221.8,900.5 L1222.2,900.5 L1222.8,900.5 L1223.2,900.4 L1223.8,900.4 L1224.2,900.4 L1224.8,900.4 L1225.2,900.4 L1225.8,900.3 L1226.2,900.3 L1226.8,900.3 L1227.2,900.2 L1227.8,900.2 L1228.2,900.2 L1228.8,900.1 L1229.2,900.1 L1229.8,900.0 L1230.0,900.0 L1230.2,900.0 L1230.8,899.9 L1231.2,899.8 L1231.8,899.7 L1232.2,899.6 L1232.8,899.4 L1233.2,899.2 L1233.8,899.0 L1234.2,898.7 L1234.8,898.4 L1235.2,898.1 L1235.8,897.8 L1236.2,897.4 L1236.8,897.0 L1237.2,896.5 L1237.5,896.2 L1237.8,895.9 L1238.2,894.3 L1238.8,891.9 L1239.2,889.1 L1239.8,885.9 L1240.2,882.7 L1240.8,879.9 L1241.2,877.5 L1241.8,875.4 L1242.2,873.2 L1242.8,871.0 L1243.2,869.0 L1243.8,867.2 L1244.2,865.9 L1244.8,865.1 L1245.0,865.0 L1245.2,865.0 L1245.8,864.9 L1246.2,864.8 L1246.8,864.7 L1247.2,864.6 L1247.8,864.6 L1248.2,864.6 L1248.8,864.5 L1249.2,864.5 L1249.8,864.5 L1250.0,864.5 L1250.2,864.5 L1250.8,864.6 L1251.2,864.7 L1251.8,864.9 L1252.2,865.2 L1252.8,865.5 L1253.2,865.9 L1253.8,866.3 L1254.2,866.7 L1254.8,867.2 L1255.0,867.5 L1255.2,867.9 L1255.8,869.3 L1256.2,871.2 L1256.8,873.6 L1257.2,876.1 L1257.8,878.6 L1258.2,880.8 L1258.8,882.5 L1259.2,883.9 L1259.8,885.3 L1260.2,886.7 L1260.8,888.0 L1261.2,889.2 L1261.8,890.3 L1262.2,891.2 L1262.8,891.9 L1263.2,892.3 L1263.8,892.5 L1264.2,892.5 L1264.8,892.3 L1265.2,892.2 L1265.8,891.9 L1266.2,891.7 L1266.8,891.4 L1267.2,891.1 L1267.8,890.8 L1268.2,890.6 L1268.8,890.4 L1269.2,890.2 L1269.8,890.0 L1270.0,890.0 L1270.2,890.0 L1270.8,889.9 L1271.2,889.9 L1271.8,889.8 L1272.2,889.8 L1272.8,889.7 L1273.2,889.7 L1273.8,889.6 L1274.2,889.6 L1274.8,889.6 L1275.2,889.6 L1275.8,889.5 L1276.2,889.5 L1276.8,889.5 L1277.2,889.5 L1277.5,889.5 L1277.8,889.5 L1278.2,889.6 L1278.8,889.7 L1279.2,889.9 L1279.8,890.1 L1280.2,890.4 L1280.8,890.7 L1281.2,891.0 L1281.8,891.3 L1282.2,891.6 L1282.8,891.9 L1283.2,892.1 L1283.8,892.3 L1284.2,892.4 L1284.8,892.5 L1285.0,892.5 L1285.2,892.5 L1285.8,892.5 L1286.2,892.5 L1286.8,892.5 L1287.2,892.5 L1287.8,892.5 L1288.2,892.5 L1288.8,892.5 L1289.2,892.5 L1289.8,892.5 L1290.2,892.5 L1290.8,892.5 L1291.2,892.5 L1291.8,892.6 L1292.2,892.9 L1292.8,893.4 L1293.2,894.1 L1293.8,894.8 L1294.2,895.6 L1294.8,896.4 L1295.2,897.2 L1295.8,897.9 L1296.2,898.6 L1296.8,899.1 L1297.2,899.4 L1297.5,899.5 L1297.8,899.6 L1298.2,899.7 L1298.8,899.8 L1299.2,899.9 L1299.8,900.0 L1300.2,900.1 L1300.8,900.2 L1301.2,900.2 L1301.8,900.3 L1302.2,900.4 L1302.8,900.4 L1303.2,900.4 L1303.8,900.5 L1304.2,900.5 L1304.8,900.5 L1305.0,900.5 L1305.2,900.5 L1305.8,900.3 L1306.2,899.8 L1306.8,899.3 L1307.2,898.6 L1307.8,897.8 L1308.2,896.9 L1308.8,896.0 L1309.2,895.1 L1309.8,894.2 L1310.0,893.8 L1310.2,893.3 L1310.8,892.3 L1311.2,891.2 L1311.8,890.0 L1312.2,888.8 L1312.8,887.6 L1313.2,886.3 L1313.8,885.1 L1314.2,884.0 L1314.8,883.0 L1315.0,882.5 L1315.2,882.0 L1315.8,881.1 L1316.2,880.2 L1316.8,879.3 L1317.2,878.4 L1317.8,877.6 L1318.2,876.9 L1318.8,876.2 L1319.2,875.6 L1319.8,875.2 L1320.0,875.0 L1320.2,874.8 L1320.8,874.5 L1321.2,874.2 L1321.8,874.0 L1322.2,873.7 L1322.8,873.5 L1323.2,873.3 L1323.8,873.2 L1324.2,873.1 L1324.8,873.0 L1325.0,873.0 L1325.2,873.0 L1325.8,873.3 L1326.2,873.8 L1326.8,874.5 L1327.2,875.4 L1327.8,876.4 L1328.2,877.5 L1328.8,878.6 L1329.2,879.7 L1329.8,880.7 L1330.0,881.2 L1330.2,881.8 L1330.8,882.9 L1331.2,884.2 L1331.8,885.6 L1332.2,887.1 L1332.8,888.5 L1333.2,889.9 L1333.8,891.2 L1334.2,892.4 L1334.8,893.3 L1335.0,893.8 L1335.2,894.1 L1335.8,894.9 L1336.2,895.7 L1336.8,896.4 L1337.2,897.2 L1337.8,897.8 L1338.2,898.5 L1338.8,899.0 L1339.2,899.5 L1339.8,899.9 L1340.2,900.2 L1340.8,900.4 L1341.2,900.5 L1341.8,900.5 L1342.2,900.5 L1342.8,900.5 L1343.2,900.5 L1343.8,900.5 L1344.2,900.5 L1344.8,900.5 L1345.2,900.5 L1345.8,900.5 L1346.2,900.5 L1346.8,900.5 L1347.2,900.5 L1347.5,900.5 L1347.8,900.5 L1348.2,900.4 L1348.8,900.3 L1349.2,900.2 L1349.8,900.0 L1350.2,899.7 L1350.8,899.5 L1351.2,899.2 L1351.8,899.0 L1352.2,898.8 L1352.8,898.5 L1353.2,898.3 L1353.8,898.2 L1354.2,898.1 L1354.8,898.0 L1355.0,898.0 L1355.2,898.0 L1355.8,898.0 L1356.2,898.0 L1356.8,898.1 L1357.2,898.1 L1357.8,898.1 L1358.2,898.2 L1358.8,898.2 L1359.2,898.3 L1359.8,898.4 L1360.2,898.4 L1360.8,898.5 L1361.2,898.6 L1361.8,898.6 L1362.2,898.7 L1362.5,898.8 L1362.8,898.8 L1363.2,898.9 L1363.8,899.0 L1364.2,899.1 L1364.8,899.3 L1365.2,899.4 L1365.8,899.6 L1366.2,899.8 L1366.8,899.9 L1367.2,900.1 L1367.8,900.2 L1368.2,900.3 L1368.8,900.4 L1369.2,900.5 L1369.8,900.5 L1370.0,900.5 L1370.2,900.5 L1370.8,900.5 L1371.2,900.5 L1371.8,900.5 L1372.2,900.5 L1372.8,900.4 L1373.2,900.4 L1373.8,900.4 L1374.2,900.3 L1374.8,900.3 L1375.2,900.3 L1375.8,900.2 L1376.2,900.1 L1376.8,900.1 L1377.2,900.0 L1377.8,899.9 L1378.2,899.9 L1378.8,899.8 L1379.2,899.7 L1379.8,899.6 L1380.0,899.5 L1380.2,899.3 L1380.8,898.4 L1381.2,896.7 L1381.8,894.6 L1382.2,892.1 L1382.8,889.6 L1383.2,887.2 L1383.8,885.0 L1384.2,882.8 L1384.8,880.4 L1385.2,878.2 L1385.8,876.2 L1386.2,875.0 L1386.8,874.2 L1387.2,873.5 L1387.8,873.0 L1388.2,872.6 L1388.8,872.5 L1389.2,872.8 L1389.8,873.7 L1390.2,875.1 L1390.8,876.7 L1391.2,878.4 L1391.8,880.2 L1392.2,881.8 L1392.5,882.5 L1392.8,883.2 L1393.2,884.6 L1393.8,886.2 L1394.2,887.7 L1394.8,889.1 L1395.2,890.5 L1395.8,891.6 L1396.2,892.5 L1396.8,893.2 L1397.2,893.9 L1397.8,894.6 L1398.2,895.2 L1398.8,895.8 L1399.2,896.3 L1399.8,896.8 L1400.2,897.2 L1400.8,897.6 L1401.2,898.0 L1401.8,898.3 L1402.2,898.6 L1402.5,898.8 L1402.8,898.9 L1403.2,899.1 L1403.8,899.4 L1404.2,899.6 L1404.8,899.8 L1405.2,900.1 L1405.8,900.3 L1406.2,900.5 L1406.8,900.7 L1407.2,900.8 L1407.8,900.9 L1408.2,901.1 L1408.8,901.2 L1409.2,901.2 L1409.8,901.2 L1410.0,901.2 L1410.2,901.2 L1410.8,901.2 L1411.2,901.2 L1411.8,901.1 L1412.2,901.0 L1412.8,900.8 L1413.2,900.6 L1413.8,900.4 L1414.2,900.2 L1414.8,899.9 L1415.2,899.5 L1415.8,899.2 L1416.2,898.8 L1416.8,897.1 L1417.2,893.4 L1417.8,888.5 L1418.2,883.0 L1418.8,877.5 L1419.2,870.8 L1419.8,862.8 L1420.2,856.6 L1420.5,855.0 L1420.8,854.1 L1421.2,852.6 L1421.8,851.4 L1422.2,850.5 L1422.8,850.1 L1423.0,850.0 L1423.2,850.1 L1423.8,850.8 L1424.2,852.1 L1424.8,853.9 L1425.2,855.9 L1425.8,858.0 L1426.2,860.0 L1426.8,862.2 L1427.2,864.9 L1427.8,867.8 L1428.2,870.8 L1428.8,873.7 L1429.2,876.4 L1429.5,877.5 L1429.8,878.6 L1430.2,880.7 L1430.8,882.8 L1431.2,884.9 L1431.8,886.8 L1432.2,888.5 L1432.8,890.1 L1433.2,891.4 L1433.8,892.5 L1434.2,893.4 L1434.8,894.2 L1435.2,895.0 L1435.8,895.8 L1436.2,896.5 L1436.8,897.1 L1437.2,897.7 L1437.8,898.3 L1438.2,898.7 L1438.8,899.2 L1439.2,899.5 L1439.8,899.9 L1440.0,900.0 L1440.2,900.1 L1440.8,900.4 L1441.2,900.6 L1441.8,900.9 L1442.2,901.1 L1442.8,901.3 L1443.2,901.5 L1443.8,901.7 L1444.2,901.8 L1444.8,902.0 L1445.2,902.1 L1445.8,902.2 L1446.2,902.3 L1446.8,902.4 L1447.2,902.5 L1447.5,902.5 L1447.8,902.5 L1448.2,902.6 L1448.8,902.6 L1449.2,902.6 L1449.8,902.7 L1450.2,902.7 L1450.8,902.7 L1451.2,902.7 L1451.8,902.8 L1452.2,902.8 L1452.8,902.8 L1453.2,902.8 L1453.8,902.9 L1454.2,902.9 L1454.8,902.9 L1455.2,902.9 L1455.8,902.9 L1456.2,903.0 L1456.8,903.0 L1457.2,903.0 L1457.8,903.0 L1458.2,903.0 L1458.8,903.0 L1459.2,903.0 L1459.8,903.0 L1460.0,903.0 L1460.2,903.0 L1460.8,903.0 L1461.2,903.0 L1461.8,903.0 L1462.2,903.0 L1462.8,903.0 L1463.2,903.0 L1463.8,902.9 L1464.2,902.9 L1464.8,902.9 L1465.2,902.9 L1465.8,902.9 L1466.2,902.9 L1466.8,902.8 L1467.2,902.8 L1467.8,902.8 L1468.2,902.8 L1468.8,902.7 L1469.2,902.7 L1469.8,902.7 L1470.2,902.7 L1470.8,902.6 L1471.2,902.6 L1471.8,902.6 L1472.2,902.5 L1472.5,902.5 L1472.8,902.5 L1473.2,902.4 L1473.8,902.3 L1474.2,902.2 L1474.8,902.1 L1475.2,901.9 L1475.8,901.8 L1476.2,901.6 L1476.8,901.5 L1477.2,901.3 L1477.8,901.1 L1478.2,901.0 L1478.8,900.9 L1479.2,900.7 L1479.8,900.6 L1480.2,900.6 L1480.8,900.5 L1481.2,900.5 L1481.8,900.5 L1482.2,900.6 L1482.8,900.7 L1483.2,900.8 L1483.8,900.9 L1484.2,901.0 L1484.8,901.2 L1485.2,901.4 L1485.8,901.5 L1486.2,901.7 L1486.8,901.9 L1487.2,902.0 L1487.8,902.2 L1488.2,902.3 L1488.8,902.4 L1489.2,902.5 L1489.8,902.5 L1490.0,902.5 L1490.2,902.5 L1490.8,902.5 L1491.2,902.5 L1491.8,902.5 L1492.2,902.5 L1492.8,902.5 L1493.2,902.5 L1493.8,902.5 L1494.2,902.4 L1494.8,902.4 L1495.2,902.4 L1495.8,902.4 L1496.2,902.4 L1496.8,902.4 L1497.2,902.3 L1497.8,902.3 L1498.2,902.3 L1498.8,902.3 L1499.2,902.2 L1499.8,902.2 L1500.2,902.2 L1500.8,902.1 L1501.2,902.1 L1501.8,902.1 L1502.2,902.0 L1502.5,902.0 L1502.8,902.0 L1503.2,901.8 L1503.8,901.6 L1504.2,901.4 L1504.8,901.1 L1505.2,900.7 L1505.8,900.3 L1506.2,899.9 L1506.8,899.4 L1507.2,899.0 L1507.5,898.8 L1507.8,898.5 L1508.2,897.9 L1508.8,897.2 L1509.2,896.3 L1509.8,895.4 L1510.2,894.6 L1510.8,893.7 L1511.2,892.8 L1511.8,892.1 L1512.2,891.5 L1512.5,891.2 L1512.8,891.0 L1513.2,890.6 L1513.8,890.1 L1514.2,889.7 L1514.8,889.3 L1515.2,888.9 L1515.8,888.6 L1516.2,888.3 L1516.8,888.1 L1517.2,888.0 L1517.5,888.0 L1517.8,888.0 L1518.2,888.0 L1518.8,888.1 L1519.2,888.2 L1519.8,888.3 L1520.2,888.5 L1520.8,888.7 L1521.2,888.9 L1521.8,889.1 L1522.2,889.3 L1522.8,889.5 L1523.2,889.8 L1523.8,890.0 L1524.2,890.3 L1524.8,890.7 L1525.2,891.2 L1525.8,891.7 L1526.2,892.3 L1526.8,892.9 L1527.2,893.5 L1527.8,894.1 L1528.2,894.7 L1528.8,895.2 L1529.2,895.7 L1529.8,896.1 L1530.0,896.2 L1530.2,896.4 L1530.8,896.7 L1531.2,897.0 L1531.8,897.2 L1532.2,897.5 L1532.8,897.8 L1533.2,898.0 L1533.8,898.2 L1534.2,898.4 L1534.8,898.6 L1535.2,898.8 L1535.8,899.0 L1536.2,899.1 L1536.8,899.3 L1537.2,899.4 L1537.5,899.5 L1537.8,899.6 L1538.2,899.7 L1538.8,899.8 L1539.2,899.9 L1539.8,900.1 L1540.2,900.2 L1540.8,900.3 L1541.2,900.4 L1541.8,900.5 L1542.2,900.6 L1542.8,900.7 L1543.2,900.8 L1543.8,900.9 L1544.2,901.0 L1544.8,901.1 L1545.2,901.1 L1545.8,901.2 L1546.2,901.2 L1546.8,901.2 L1547.2,901.2 L1547.5,901.2 L1547.8,901.2 L1548.2,901.2 L1548.8,901.2 L1549.2,901.2 L1549.8,901.2 L1550.2,901.2 L1550.8,901.2 L1551.2,901.2 L1551.8,901.2 L1552.2,901.2 L1552.8,901.2 L1553.2,901.2 L1553.8,901.2 L1554.2,901.2 L1554.8,901.2 L1555.2,901.2 L1555.8,901.2 L1556.2,901.2 L1556.8,901.2 L1557.2,901.2 L1557.8,901.2 L1558.2,901.2 L1558.8,901.2 L1559.2,901.2 L1559.8,901.2 L1560.0,901.2 L1560.2,901.2 L1560.8,901.2 L1561.2,901.2 L1561.8,901.2 L1562.2,901.2 L1562.8,901.2 L1563.2,901.2 L1563.8,901.2 L1564.2,901.1 L1564.8,901.1 L1565.2,901.1 L1565.8,901.0 L1566.2,901.0 L1566.8,900.9 L1567.2,900.9 L1567.8,900.8 L1568.2,900.8 L1568.8,900.7 L1569.2,900.6 L1569.8,900.5 L1570.0,900.5 L1570.2,900.4 L1570.8,900.0 L1571.2,899.2 L1571.8,898.3 L1572.2,897.2 L1572.8,896.1 L1573.2,895.0 L1573.8,894.0 L1574.2,893.2 L1574.8,892.6 L1575.0,892.5 L1575.2,892.4 L1575.8,892.3 L1576.2,892.1 L1576.8,892.0 L1577.2,891.9 L1577.8,891.9 L1578.2,891.8 L1578.8,891.7 L1579.2,891.7 L1579.8,891.6 L1580.2,891.5 L1580.8,891.4 L1581.2,891.2 L1581.8,891.1 L1582.2,890.8 L1582.8,890.5 L1583.2,890.2 L1583.8,889.8 L1584.2,889.5 L1584.8,889.1 L1585.2,888.8 L1585.8,888.5 L1586.2,888.3 L1586.8,888.1 L1587.2,888.0 L1587.5,888.0 L1587.8,888.0 L1588.2,888.3 L1588.8,888.7 L1589.2,889.2 L1589.8,889.9 L1590.2,890.6 L1590.8,891.4 L1591.2,892.2 L1591.8,893.0 L1592.2,893.7 L1592.8,894.3 L1593.2,894.7 L1593.8,895.0 L1594.2,895.2 L1594.8,895.3 L1595.2,895.4 L1595.8,895.5 L1596.2,895.6 L1596.8,895.6 L1597.2,895.7 L1597.8,895.8 L1598.2,895.8 L1598.8,895.9 L1599.2,896.0 L1599.8,896.2 L1600.0,896.2 L1600.2,896.3 L1600.8,896.6 L1601.2,897.0 L1601.8,897.5 L1602.2,898.0 L1602.8,898.6 L1603.2,899.1 L1603.8,899.7 L1604.2,900.2 L1604.8,900.6 L1605.2,900.9 L1605.8,901.2 L1606.2,901.2 L1606.8,901.2 L1607.2,900.9 L1607.8,900.5 L1608.2,900.1 L1608.8,899.5 L1609.2,898.9 L1609.8,898.2 L1610.2,897.5 L1610.8,896.9 L1611.2,896.2 L1611.8,895.7 L1612.2,895.2 L1612.8,894.8 L1613.2,894.6 L1613.8,894.5 L1614.2,894.6 L1614.8,894.7 L1615.2,895.0 L1615.8,895.3 L1616.2,895.7 L1616.8,896.1 L1617.2,896.6 L1617.8,897.0 L1618.2,897.5 L1618.8,897.9 L1619.2,898.3 L1619.8,898.6 L1620.0,898.8 L1620.2,898.9 L1620.8,899.1 L1621.2,899.4 L1621.8,899.7 L1622.2,900.0 L1622.8,900.2 L1623.2,900.5 L1623.8,900.7 L1624.2,900.9 L1624.8,901.0 L1625.2,901.1 L1625.8,901.2 L1626.2,901.2 L1626.8,901.2 L1627.2,901.1 L1627.8,900.9 L1628.2,900.6 L1628.8,900.2 L1629.2,899.8 L1629.8,899.4 L1630.2,898.9 L1630.8,898.4 L1631.2,897.8 L1631.8,897.3 L1632.2,896.7 L1632.8,896.1 L1633.2,895.6 L1633.8,895.0 L1634.2,894.5 L1634.8,894.0 L1635.0,893.8 L1635.2,893.5 L1635.8,893.0 L1636.2,892.5 L1636.8,892.0 L1637.2,891.5 L1637.8,891.0 L1638.2,890.4 L1638.8,889.9 L1639.2,889.4 L1639.8,888.8 L1640.2,888.3 L1640.8,887.8 L1641.2,887.3 L1641.8,886.9 L1642.2,886.5 L1642.5,886.2 L1642.8,886.0 L1643.2,885.6 L1643.8,885.2 L1644.2,884.7 L1644.8,884.3 L1645.2,883.8 L1645.8,883.4 L1646.2,883.0 L1646.8,882.7 L1647.2,882.4 L1647.8,882.2 L1648.2,882.0 L1648.8,882.0 L1649.2,882.0 L1649.8,882.1 L1650.2,882.3 L1650.8,882.5 L1651.2,882.7 L1651.8,883.0 L1652.2,883.2 L1652.8,883.6 L1653.2,883.9 L1653.8,884.2 L1654.2,884.5 L1654.8,884.8 L1655.0,885.0 L1655.2,885.2 L1655.8,885.5 L1656.2,886.0 L1656.8,886.5 L1657.2,887.0 L1657.8,887.6 L1658.2,888.1 L1658.8,888.7 L1659.2,889.2 L1659.8,889.7 L1660.2,890.2 L1660.8,890.6 L1661.2,890.9 L1661.8,891.1 L1662.2,891.2 L1662.5,891.2 L1662.8,891.2 L1663.2,891.2 L1663.8,891.0 L1664.2,890.8 L1664.8,890.5 L1665.2,890.2 L1665.8,889.9 L1666.2,889.6 L1666.8,889.4 L1667.2,889.1 L1667.8,888.9 L1668.2,888.8 L1668.8,888.8 L1669.2,888.8 L1669.8,889.0 L1670.2,889.3 L1670.8,889.7 L1671.2,890.2 L1671.8,890.8 L1672.2,891.4 L1672.8,892.0 L1673.2,892.7 L1673.8,893.3 L1674.2,894.0 L1674.8,894.6 L1675.2,895.2 L1675.8,895.8 L1676.2,896.2 L1676.8,896.7 L1677.2,897.2 L1677.8,897.6 L1678.2,898.1 L1678.8,898.6 L1679.2,899.0 L1679.8,899.5 L1680.2,899.9 L1680.8,900.2 L1681.2,900.6 L1681.8,900.9 L1682.2,901.1 L1682.5,901.2 L1682.8,901.3 L1683.2,901.5 L1683.8,901.7 L1684.2,901.9 L1684.8,902.1 L1685.2,902.3 L1685.8,902.5 L1686.2,902.6 L1686.8,902.8 L1687.2,902.9 L1687.8,903.1 L1688.2,903.2 L1688.8,903.3 L1689.2,903.4 L1689.8,903.5 L1690.2,903.6 L1690.8,903.6 L1691.2,903.7 L1691.8,903.7 L1692.2,903.7 L1692.5,903.8 L1692.8,903.7 L1693.2,903.7 L1693.8,903.7 L1694.2,903.7 L1694.8,903.6 L1695.2,903.6 L1695.8,903.5 L1696.2,903.4 L1696.8,903.4 L1697.2,903.3 L1697.8,903.2 L1698.2,903.2 L1698.8,903.1 L1699.2,903.1 L1699.8,903.0 L1700.0,903.0 L1700.2,903.0 L1700.8,903.0 L1701.2,902.9 L1701.8,902.9 L1702.2,902.9 L1702.8,902.9 L1703.2,902.8 L1703.8,902.8 L1704.2,902.8 L1704.8,902.8 L1705.2,902.8 L1705.8,902.8 L1706.2,902.8 L1706.8,902.7 L1707.2,902.7 L1707.8,902.7 L1708.2,902.7 L1708.8,902.7 L1709.2,902.7 L1709.8,902.6 L1710.2,902.6 L1710.8,902.6 L1711.2,902.6 L1711.8,902.5 L1712.2,902.5 L1712.5,902.5 L1712.8,902.5 L1713.2,902.5 L1713.8,902.4 L1714.2,902.4 L1714.8,902.4 L1715.2,902.3 L1715.8,902.3 L1716.2,902.3 L1716.8,902.2 L1717.2,902.2 L1717.8,902.1 L1718.2,902.1 L1718.8,902.0 L1719.2,902.0 L1719.8,901.9 L1720.2,901.8 L1720.8,901.7 L1721.2,901.6 L1721.8,901.5 L1722.2,901.3 L1722.5,901.2 L1722.8,901.0 L1723.2,899.3 L1723.8,896.7 L1724.2,893.7 L1724.8,891.0 L1725.0,890.0 L1725.2,889.1 L1725.8,887.2 L1726.2,885.3 L1726.8,883.8 L1727.2,882.8 L1727.5,882.5 L1727.8,882.3 L1728.2,882.1 L1728.8,881.8 L1729.2,881.6 L1729.8,881.5 L1730.2,881.3 L1730.8,881.3 L1731.2,881.2 L1731.8,881.4 L1732.2,881.9 L1732.8,882.6 L1733.2,883.4 L1733.8,884.3 L1734.2,885.2 L1734.8,885.9 L1735.0,886.2 L1735.2,886.5 L1735.8,887.1 L1736.2,887.7 L1736.8,888.2 L1737.2,888.7 L1737.8,889.2 L1738.2,889.7 L1738.8,890.2 L1739.2,890.6 L1739.8,891.0 L1740.0,891.2 L1740.2,891.5 L1740.8,891.9 L1741.2,892.3 L1741.8,892.7 L1742.2,893.1 L1742.8,893.5 L1743.2,893.9 L1743.8,894.2 L1744.2,894.6 L1744.8,894.9 L1745.2,895.2 L1745.8,895.5 L1746.2,895.8 L1746.8,896.0 L1747.2,896.2 L1747.5,896.2 L1747.8,896.3 L1748.2,896.4 L1748.8,896.6 L1749.2,896.7 L1749.8,896.8 L1750.2,896.9 L1750.8,896.9 L1751.2,897.0 L1751.8,897.1 L1752.2,897.2 L1752.8,897.2 L1753.2,897.3 L1753.8,897.4 L1754.2,897.4 L1754.8,897.5 L1755.2,897.6 L1755.8,897.7 L1756.2,897.7 L1756.8,897.8 L1757.2,897.9 L1757.5,898.0 L1757.8,898.1 L1758.2,898.2 L1758.8,898.3 L1759.2,898.5 L1759.8,898.7 L1760.2,898.8 L1760.8,899.0 L1761.2,899.2 L1761.8,899.4 L1762.2,899.6 L1762.8,899.8 L1763.2,900.0 L1763.8,900.2 L1764.2,900.4 L1764.8,900.5 L1765.2,900.7 L1765.8,900.9 L1766.2,901.0 L1766.8,901.1 L1767.2,901.2 L1767.5,901.2 L1767.8,901.3 L1768.2,901.4 L1768.8,901.4 L1769.2,901.5 L1769.8,901.6 L1770.2,901.7 L1770.8,901.7 L1771.2,901.8 L1771.8,901.9 L1772.2,901.9 L1772.8,902.0 L1773.2,902.1 L1773.8,902.1 L1774.2,902.2 L1774.8,902.2 L1775.2,902.3 L1775.8,902.3 L1776.2,902.4 L1776.8,902.4 L1777.2,902.4 L1777.8,902.4 L1778.2,902.5 L1778.8,902.5 L1779.2,902.5 L1779.8,902.5 L1780.0,902.5 L1780.2,902.5 L1780.8,902.5 L1781.2,902.4 L1781.8,902.4 L1782.2,902.3 L1782.8,902.3 L1783.2,902.2 L1783.8,902.1 L1784.2,902.0 L1784.8,901.9 L1785.2,901.8 L1785.8,901.7 L1786.2,901.6 L1786.8,901.6 L1787.2,901.5 L1787.8,901.4 L1788.2,901.4 L1788.8,901.3 L1789.2,901.3 L1789.8,901.3 L1790.0,901.2 L1790.2,901.3 L1790.8,901.3 L1791.2,901.3 L1791.8,901.3 L1792.2,901.3 L1792.8,901.4 L1793.2,901.4 L1793.8,901.4 L1794.2,901.5 L1794.8,901.5 L1795.2,901.6 L1795.8,901.7 L1796.2,901.7 L1796.8,901.8 L1797.2,901.8 L1797.8,901.9 L1798.2,902.0 L1798.8,902.0 L1799.2,902.1 L1799.8,902.1 L1800.2,902.2 L1800.8,902.3 L1801.2,902.3 L1801.8,902.3 L1802.2,902.4 L1802.8,902.4 L1803.2,902.5 L1803.8,902.5 L1804.2,902.5 L1804.8,902.5 L1805.0,902.5 L1805.2,902.5 L1805.8,902.5 L1806.2,902.5 L1806.8,902.5 L1807.2,902.5 L1807.8,902.5 L1808.2,902.5 L1808.8,902.5 L1809.2,902.5 L1809.8,902.5 L1810.2,902.5 L1810.8,902.5 L1811.2,902.5 L1811.8,902.5 L1812.2,902.5 L1812.8,902.5 L1813.2,902.5 L1813.8,902.5 L1814.2,902.5 L1814.8,902.5 L1815.2,902.5 L1815.8,902.5 L1816.2,902.5 L1816.8,902.5 L1817.2,902.5 L1817.8,902.5 L1818.2,902.5 L1818.8,902.5 L1819.2,902.5 L1819.8,902.5 L1820.0,902.5 L1820.2,902.5 L1820.8,902.4 L1821.2,902.3 L1821.8,902.2 L1822.2,902.0 L1822.8,901.8 L1823.2,901.5 L1823.8,901.2 L1824.2,900.9 L1824.8,900.6 L1825.2,900.3 L1825.8,899.9 L1826.2,899.6 L1826.8,899.2 L1827.2,898.9 L1827.5,898.8 L1827.8,898.6 L1828.2,898.2 L1828.8,897.7 L1829.2,897.2 L1829.8,896.6 L1830.2,896.1 L1830.8,895.6 L1831.2,895.2 L1831.8,894.8 L1832.2,894.6 L1832.5,894.5 L1832.8,894.4 L1833.2,894.3 L1833.8,894.2 L1834.2,894.1 L1834.8,894.0 L1835.2,893.9 L1835.8,893.9 L1836.2,893.8 L1836.8,893.8 L1837.2,893.8 L1837.5,893.8 L1837.8,893.8 L1838.2,893.9 L1838.8,894.1 L1839.2,894.5 L1839.8,894.9 L1840.2,895.3 L1840.8,895.8 L1841.2,896.4 L1841.8,896.9 L1842.2,897.4 L1842.8,897.9 L1843.2,898.4 L1843.8,898.8 L1844.2,899.1 L1844.8,899.5 L1845.2,899.9 L1845.8,900.3 L1846.2,900.7 L1846.8,901.1 L1847.2,901.4 L1847.8,901.7 L1848.2,902.0 L1848.8,902.2 L1849.2,902.4 L1849.8,902.5 L1850.0,902.5 L1850.2,902.5 L1850.8,902.5 L1851.2,902.5 L1851.8,902.5 L1852.2,902.5 L1852.8,902.5 L1853.2,902.5 L1853.8,902.4 L1854.2,902.4 L1854.8,902.4 L1855.2,902.4 L1855.8,902.4 L1856.2,902.3 L1856.8,902.3 L1857.2,902.3 L1857.8,902.2 L1858.2,902.2 L1858.8,902.1 L1859.2,902.1 L1859.8,902.0 L1860.0,902.0 L1860.2,901.8 L1860.8,900.8 L1861.2,899.0 L1861.8,896.8 L1862.2,894.5 L1862.8,892.4 L1863.2,890.8 L1863.8,890.0 L1864.2,889.7 L1864.8,889.5 L1865.2,889.2 L1865.8,889.0 L1866.2,888.9 L1866.8,888.8 L1867.2,888.8 L1867.5,888.8 L1867.8,888.8 L1868.2,888.9 L1868.8,889.2 L1869.2,889.5 L1869.8,889.9 L1870.2,890.3 L1870.8,890.8 L1871.2,891.2 L1871.8,891.8 L1872.2,892.6 L1872.8,893.5 L1873.2,894.4 L1873.8,895.2 L1874.2,895.8 L1874.8,896.2 L1875.0,896.2 L1875.2,896.2 L1875.8,895.8 L1876.2,895.1 L1876.8,894.2 L1877.2,893.1 L1877.8,892.0 L1878.2,890.9 L1878.8,890.0 L1879.2,889.1 L1879.8,888.0 L1880.2,886.9 L1880.8,885.8 L1881.2,884.9 L1881.8,884.2 L1882.2,883.8 L1882.5,883.8 L1882.8,883.8 L1883.2,883.9 L1883.8,884.1 L1884.2,884.4 L1884.8,884.8 L1885.2,885.2 L1885.8,885.7 L1886.2,886.2 L1886.8,886.7 L1887.2,887.3 L1887.5,887.5 L1887.8,887.8 L1888.2,888.4 L1888.8,889.1 L1889.2,889.9 L1889.8,890.7 L1890.2,891.6 L1890.8,892.5 L1891.2,893.3 L1891.8,894.1 L1892.2,894.8 L1892.8,895.4 L1893.2,895.9 L1893.8,896.2 L1894.2,896.5 L1894.8,896.7 L1895.2,897.0 L1895.8,897.2 L1896.2,897.4 L1896.8,897.6 L1897.2,897.8 L1897.8,897.9 L1898.2,898.1 L1898.8,898.2 L1899.2,898.3 L1899.8,898.5 L1900.2,898.6 L1900.8,898.6 L1901.2,898.7 L1901.8,898.7 L1902.2,898.7 L1902.5,898.8 L1902.8,898.8 L1903.2,898.8 L1903.8,898.8 L1904.2,898.8 L1904.8,898.8 L1905.2,898.8 L1905.8,898.8 L1906.2,898.8 L1906.8,898.8 L1907.2,898.8 L1907.8,898.8 L1908.2,898.8 L1908.8,898.8 L1909.2,898.8 L1909.8,898.8 L1910.2,898.8 L1910.8,898.8 L1911.2,898.8 L1911.8,898.8 L1912.2,898.8 L1912.5,898.8 L1912.8,898.8 L1913.2,898.8 L1913.8,899.0 L1914.2,899.2 L1914.8,899.5 L1915.2,899.8 L1915.8,900.2 L1916.2,900.6 L1916.8,900.9 L1917.2,901.3 L1917.8,901.6 L1918.2,901.9 L1918.8,902.2 L1919.2,902.3 L1919.8,902.5 L1920.0,902.5 L1920.2,902.5 L1920.8,902.6 L1921.2,902.6 L1921.8,902.6 L1922.2,902.7 L1922.8,902.7 L1923.2,902.7 L1923.8,902.8 L1924.2,902.8 L1924.8,902.8 L1925.2,902.8 L1925.8,902.9 L1926.2,902.9 L1926.8,902.9 L1927.2,902.9 L1927.8,902.9 L1928.2,902.9 L1928.8,903.0 L1929.2,903.0 L1929.8,903.0 L1930.2,903.0 L1930.8,903.0 L1931.2,903.0 L1931.8,903.0 L1932.2,903.0 L1932.5,903.0 L1932.8,903.0 L1933.2,903.0 L1933.8,903.0 L1934.2,903.0 L1934.8,903.0 L1935.2,903.0 L1935.8,903.0 L1936.2,903.0 L1936.8,902.9 L1937.2,902.9 L1937.8,902.9 L1938.2,902.9 L1938.8,902.9 L1939.2,902.9 L1939.8,902.8 L1940.2,902.8 L1940.8,902.8 L1941.2,902.8 L1941.8,902.7 L1942.2,902.7 L1942.8,902.7 L1943.2,902.6 L1943.8,902.6 L1944.2,902.6 L1944.8,902.5 L1945.0,902.5 L1945.2,902.5 L1945.8,902.2 L1946.2,901.9 L1946.8,901.3 L1947.2,900.7 L1947.8,900.0 L1948.2,899.3 L1948.8,898.5 L1949.2,897.7 L1949.8,896.9 L1950.2,896.2 L1950.8,895.6 L1951.2,895.0 L1951.8,894.5 L1952.2,893.9 L1952.8,893.3 L1953.2,892.7 L1953.8,892.2 L1954.2,891.6 L1954.8,891.1 L1955.2,890.6 L1955.8,890.2 L1956.2,889.9 L1956.8,889.6 L1957.2,889.5 L1957.5,889.5 L1957.8,889.5 L1958.2,889.6 L1958.8,889.8 L1959.2,890.1 L1959.8,890.4 L1960.2,890.7 L1960.8,891.2 L1961.2,891.6 L1961.8,892.0 L1962.2,892.5 L1962.8,892.9 L1963.2,893.4 L1963.8,893.8 L1964.2,894.1 L1964.8,894.6 L1965.2,895.0 L1965.8,895.5 L1966.2,896.0 L1966.8,896.5 L1967.2,896.9 L1967.8,897.4 L1968.2,897.8 L1968.8,898.1 L1969.2,898.4 L1969.8,898.7 L1970.0,898.8 L1970.2,898.8 L1970.8,899.0 L1971.2,899.1 L1971.8,899.3 L1972.2,899.4 L1972.8,899.5 L1973.2,899.7 L1973.8,899.8 L1974.2,899.8 L1974.8,899.9 L1975.2,900.0 L1975.8,900.0 L1976.2,900.0 L1976.8,899.9 L1977.2,899.6 L1977.8,899.2 L1978.2,898.6 L1978.8,898.0 L1979.2,897.3 L1979.8,896.5 L1980.2,895.8 L1980.8,895.2 L1981.2,894.6 L1981.8,894.1 L1982.2,893.8 L1982.5,893.8 L1982.8,893.7 L1983.2,893.6 L1983.8,893.5 L1984.2,893.4 L1984.8,893.3 L1985.2,893.2 L1985.8,893.1 L1986.2,893.1 L1986.8,893.0 L1987.2,893.0 L1987.5,893.0 L1987.8,893.0 L1988.2,893.1 L1988.8,893.3 L1989.2,893.6 L1989.8,894.0 L1990.2,894.4 L1990.8,894.8 L1991.2,895.3 L1991.8,895.8 L1992.2,896.3 L1992.8,896.8 L1993.2,897.3 L1993.8,897.8 L1994.2,898.2 L1994.8,898.6 L1995.0,898.8 L1995.2,898.9 L1995.8,899.2 L1996.2,899.6 L1996.8,899.9 L1997.2,900.2 L1997.8,900.6 L1998.2,900.9 L1998.8,901.2 L1999.2,901.5 L1999.8,901.7 L2000.2,902.0 L2000.8,902.2 L2001.2,902.3 L2001.8,902.4 L2002.2,902.5 L2002.5,902.5 L2002.8,902.5 L2003.2,902.5 L2003.8,902.5 L2004.2,902.5 L2004.8,902.4 L2005.2,902.4 L2005.8,902.4 L2006.2,902.4 L2006.8,902.3 L2007.2,902.3 L2007.8,902.2 L2008.2,902.2 L2008.8,902.1 L2009.2,902.0 L2009.8,902.0 L2010.2,901.9 L2010.8,901.8 L2011.2,901.7 L2011.8,901.6 L2012.2,901.6 L2012.8,901.5 L2013.2,901.4 L2013.8,901.2 L2014.2,901.1 L2014.8,900.8 L2015.2,900.4 L2015.8,899.9 L2016.2,899.4 L2016.8,898.8 L2017.2,898.2 L2017.8,897.5 L2018.2,896.9 L2018.8,896.3 L2019.2,895.7 L2019.8,895.2 L2020.0,895.0 L2020.2,894.8 L2020.8,894.3 L2021.2,893.8 L2021.8,893.3 L2022.2,892.8 L2022.8,892.4 L2023.2,892.0 L2023.8,891.6 L2024.2,891.4 L2024.8,891.3 L2025.0,891.2 L2025.2,891.3 L2025.8,891.4 L2026.2,891.7 L2026.8,892.1 L2027.2,892.6 L2027.8,893.1 L2028.2,893.6 L2028.8,894.2 L2029.2,894.7 L2029.8,895.2 L2030.2,895.7 L2030.8,896.0 L2031.2,896.2 L2031.8,896.4 L2032.2,896.5 L2032.8,896.6 L2033.2,896.7 L2033.8,896.8 L2034.2,896.9 L2034.8,896.9 L2035.2,897.0 L2035.8,897.1 L2036.2,897.2 L2036.8,897.3 L2037.2,897.4 L2037.5,897.5 L2037.8,897.6 L2038.2,897.8 L2038.8,898.0 L2039.2,898.3 L2039.8,898.7 L2040.2,899.0 L2040.8,899.4 L2041.2,899.8 L2041.8,900.2 L2042.2,900.6 L2042.8,901.0 L2043.2,901.4 L2043.8,901.7 L2044.2,902.1 L2044.8,902.4 L2045.0,902.5 L2045.2,902.6 L2045.8,902.9 L2046.2,903.2 L2046.8,903.4 L2047.2,903.7 L2047.8,904.0 L2048.2,904.2 L2048.8,904.5 L2049.2,904.7 L2049.8,904.9 L2050.2,905.1 L2050.8,905.2 L2051.2,905.4 L2051.8,905.4 L2052.2,905.5 L2052.5,905.5 L2052.8,905.5 L2053.2,905.4 L2053.8,905.3 L2054.2,905.1 L2054.8,904.9 L2055.2,904.6 L2055.8,904.3 L2056.2,904.0 L2056.8,903.6 L2057.2,903.2 L2057.8,902.9 L2058.2,902.5 L2058.8,902.1 L2059.2,901.8 L2059.8,901.4 L2060.0,901.2 L2060.2,901.1 L2060.8,900.8 L2061.2,900.4 L2061.8,900.0 L2062.2,899.6 L2062.8,899.2 L2063.2,898.8 L2063.8,898.4 L2064.2,898.0 L2064.8,897.6 L2065.2,897.3 L2065.8,896.9 L2066.2,896.5 L2066.8,896.2 L2067.2,895.8 L2067.8,895.5 L2068.2,895.2 L2068.8,895.0 L2069.2,894.8 L2069.8,894.5 L2070.2,894.3 L2070.8,894.1 L2071.2,893.8 L2071.8,893.6 L2072.2,893.4 L2072.8,893.1 L2073.2,892.9 L2073.8,892.8 L2074.2,892.6 L2074.8,892.4 L2075.2,892.3 L2075.8,892.2 L2076.2,892.1 L2076.8,892.0 L2077.2,892.0 L2077.5,892.0 L2077.8,892.0 L2078.2,892.0 L2078.8,892.0 L2079.2,892.0 L2079.8,892.1 L2080.2,892.1 L2080.8,892.2 L2081.2,892.2 L2081.8,892.3 L2082.2,892.3 L2082.8,892.4 L2083.2,892.5 L2083.8,892.5 L2084.2,892.6 L2084.8,892.7 L2085.2,892.8 L2085.8,892.9 L2086.2,893.0 L2086.8,893.2 L2087.2,893.4 L2087.8,893.8 L2088.2,894.2 L2088.8,894.7 L2089.2,895.1 L2089.8,895.6 L2090.2,896.1 L2090.8,896.5 L2091.2,896.9 L2091.8,897.2 L2092.2,897.4 L2092.5,897.5 L2092.8,897.5 L2093.2,897.6 L2093.8,897.7 L2094.2,897.8 L2094.8,897.8 L2095.2,897.9 L2095.8,898.0 L2096.2,898.0 L2096.8,898.0 L2097.2,898.1 L2097.8,898.1 L2098.2,898.2 L2098.8,898.2 L2099.2,898.2 L2099.8,898.3 L2100.2,898.3 L2100.8,898.3 L2101.2,898.4 L2101.8,898.4 L2102.2,898.4 L2102.8,898.5 L2103.2,898.5 L2103.8,898.6 L2104.2,898.6 L2104.8,898.7 L2105.0,898.8 L2105.2,898.8 L2105.8,898.9 L2106.2,899.0 L2106.8,899.1 L2107.2,899.3 L2107.8,899.4 L2108.2,899.6 L2108.8,899.8 L2109.2,900.0 L2109.8,900.2 L2110.2,900.4 L2110.8,900.6 L2111.2,900.7 L2111.8,900.9 L2112.2,901.1 L2112.8,901.3 L2113.2,901.5 L2113.8,901.7 L2114.2,901.8 L2114.8,902.0 L2115.2,902.1 L2115.8,902.2 L2116.2,902.3 L2116.8,902.4 L2117.2,902.5 L2117.5,902.5 L2117.8,902.5 L2118.2,902.6 L2118.8,902.6 L2119.2,902.6 L2119.8,902.6 L2120.2,902.7 L2120.8,902.7 L2121.2,902.7 L2121.8,902.8 L2122.2,902.8 L2122.8,902.8 L2123.2,902.8 L2123.8,902.9 L2124.2,902.9 L2124.8,902.9 L2125.2,902.9 L2125.8,902.9 L2126.2,902.9 L2126.8,903.0 L2127.2,903.0 L2127.8,903.0 L2128.2,903.0 L2128.8,903.0 L2129.2,903.0 L2129.8,903.0 L2130.0,903.0 L2130.2,903.0 L2130.8,903.0 L2131.2,903.0 L2131.8,903.0 L2132.2,903.0 L2132.8,903.0 L2133.2,903.0 L2133.8,903.0 L2134.2,903.0 L2134.8,903.0 L2135.2,903.0 L2135.8,903.0 L2136.2,903.0 L2136.8,903.0 L2137.2,903.0 L2137.8,903.0 L2138.2,903.0 L2138.8,903.0 L2139.2,903.0 L2139.8,903.0 L2140.2,903.0 L2140.8,903.0 L2141.2,903.0 L2141.8,903.0 L2142.2,903.0 L2142.8,903.0 L2143.2,903.0 L2143.8,903.0 L2144.2,903.0 L2144.8,903.0 L2145.0,903.0 L2145.2,903.0 L2145.8,903.0 L2146.2,903.1 L2146.8,903.2 L2147.2,903.3 L2147.8,903.5 L2148.2,903.6 L2148.8,903.8 L2149.2,903.9 L2149.8,904.0 L2150.2,904.2 L2150.8,904.3 L2151.2,904.4 L2151.8,904.5 L2152.2,904.5 L2152.5,904.5 L2152.8,904.5 L2153.2,904.2 L2153.8,903.9 L2154.2,903.4 L2154.8,902.9 L2155.2,902.4 L2155.8,902.1 L2156.2,902.0 L2156.8,902.1 L2157.2,902.3 L2157.8,902.6 L2158.2,903.1 L2158.8,903.5 L2159.2,903.9 L2159.8,904.4 L2160.2,904.7 L2160.8,904.9 L2161.2,905.0 L2161.8,904.9 L2162.2,904.8 L2162.8,904.5 L2163.2,904.2 L2163.8,903.8 L2164.2,903.3 L2164.8,902.8 L2165.2,902.3 L2165.8,901.7 L2166.2,901.2 L2166.8,900.7 L2167.2,900.2 L2167.8,899.8 L2168.2,899.4 L2168.8,899.1 L2169.2,898.9 L2169.8,898.8 L2170.0,898.8 L2170.2,898.8 L2170.8,898.8 L2171.2,898.9 L2171.8,899.1 L2172.2,899.3 L2172.8,899.5 L2173.2,899.8 L2173.8,900.0 L2174.2,900.2 L2174.8,900.5 L2175.2,900.7 L2175.8,900.9 L2176.2,901.1 L2176.8,901.2 L2177.2,901.2 L2177.5,901.2 L2177.8,901.2 L2178.2,901.2 L2178.8,901.2 L2179.2,901.2 L2179.8,901.2 L2180.2,901.2 L2180.8,901.2 L2181.2,901.2 L2181.8,901.2 L2182.2,901.2 L2182.8,901.2 L2183.2,901.2 L2183.8,901.2 L2184.2,901.2 L2184.8,901.2 L2185.2,901.2 L2185.8,901.2 L2186.2,901.2" fill="none" stroke="#00ff00" stroke-width="7.1" stroke-linejoin="round" stroke-linecap="butt"/>
<path d="M203.8,626.2 L204.3,626.2 L204.8,626.2 L205.3,626.2 L205.8,626.2 L206.3,626.2 L206.8,626.2 L207.3,626.2 L207.8,626.2 L208.3,626.2 L208.8,626.2 L209.3,626.1 L209.8,626.1 L210.3,626.1 L210.8,626.1 L211.3,626.1 L211.8,626.1 L212.3,626.0 L212.8,626.0 L213.3,626.0 L213.8,626.0 L214.3,626.0 L214.8,625.9 L215.3,625.9 L215.8,625.9 L216.3,625.9 L216.8,625.9 L217.3,625.8 L217.8,625.8 L218.3,625.8 L218.8,625.8 L219.3,625.7 L219.8,625.7 L220.3,625.7 L220.8,625.7 L221.3,625.6 L221.8,625.6 L222.3,625.6 L222.8,625.6 L223.3,625.5 L223.8,625.5 L224.3,625.5 L224.8,625.4 L225.3,625.4 L225.8,625.4 L226.3,625.3 L226.8,625.3 L227.3,625.2 L227.8,625.2 L228.3,625.1 L228.8,625.0 L229.3,625.0 L229.8,624.9 L230.3,624.9 L230.8,624.8 L231.3,624.7 L231.8,624.7 L232.3,624.6 L232.8,624.5 L233.3,624.5 L233.8,624.4 L234.3,624.4 L234.8,624.3 L235.3,624.2 L235.8,624.2 L236.3,624.1 L236.8,624.1 L237.3,624.0 L237.8,624.0 L238.3,623.9 L238.8,623.9 L239.3,623.9 L239.8,623.8 L240.3,623.8 L240.8,623.8 L241.3,623.8 L241.8,623.8 L242.3,623.8 L242.5,623.8 L242.8,623.8 L243.2,623.8 L243.8,623.8 L244.2,623.8 L244.8,623.8 L245.2,623.8 L245.8,623.8 L246.2,623.8 L246.8,623.8 L247.2,623.8 L247.8,623.8 L248.2,623.8 L248.8,623.8 L249.2,623.8 L249.8,623.8 L250.2,623.8 L250.8,623.8 L251.2,623.8 L251.8,623.8 L252.2,623.8 L252.8,623.8 L253.2,623.8 L253.8,623.8 L254.2,623.8 L254.8,623.8 L255.2,623.8 L255.8,623.8 L256.2,623.8 L256.8,623.8 L257.2,623.8 L257.8,623.8 L258.2,623.8 L258.8,623.8 L259.2,623.8 L259.8,623.8 L260.2,623.8 L260.8,623.8 L261.2,623.8 L261.8,623.8 L262.2,623.8 L262.8,623.8 L263.2,623.8 L263.8,623.8 L264.2,623.8 L264.8,623.8 L265.2,623.8 L265.8,623.8 L266.2,623.8 L266.8,623.8 L267.2,623.8 L267.8,623.8 L268.2,623.8 L268.8,623.8 L269.2,623.8 L269.8,623.8 L270.2,623.8 L270.8,623.8 L271.2,623.8 L271.8,623.8 L272.2,623.8 L272.8,623.8 L273.2,623.8 L273.8,623.8 L274.2,623.8 L274.8,623.8 L275.2,623.8 L275.8,623.8 L276.2,623.8 L276.8,623.8 L277.2,623.8 L277.8,623.8 L278.2,623.8 L278.8,623.8 L279.2,623.8 L279.8,623.8 L280.0,623.8 L280.3,623.7 L280.8,623.7 L281.3,623.7 L281.8,623.7 L282.3,623.7 L282.8,623.7 L283.3,623.7 L283.8,623.7 L284.3,623.7 L284.8,623.7 L285.3,623.7 L285.8,623.7 L286.3,623.7 L286.8,623.7 L287.3,623.7 L287.8,623.7 L288.3,623.7 L288.8,623.7 L289.3,623.7 L289.8,623.7 L290.3,623.7 L290.8,623.7 L291.3,623.6 L291.8,623.6 L292.3,623.6 L292.8,623.6 L293.3,623.6 L293.8,623.6 L294.3,623.6 L294.8,623.6 L295.3,623.5 L295.8,623.5 L296.3,623.5 L296.8,623.5 L297.3,623.5 L297.8,623.5 L298.3,623.4 L298.8,623.4 L299.3,623.4 L299.8,623.4 L300.3,623.4 L300.8,623.3 L301.3,623.3 L301.8,623.3 L302.3,623.3 L302.5,623.2 L302.8,623.2 L303.3,623.2 L303.8,623.1 L304.3,623.0 L304.8,622.8 L305.3,622.7 L305.8,622.5 L306.3,622.2 L306.8,622.0 L307.3,621.7 L307.8,621.4 L308.3,621.2 L308.8,620.8 L309.3,620.5 L309.8,620.2 L310.1,620.0 L310.3,619.8 L310.8,619.4 L311.3,619.0 L311.8,618.4 L312.4,617.8 L312.9,617.1 L313.4,616.3 L313.9,615.4 L314.4,614.3 L315.0,613.1 L315.3,612.5 L315.6,611.7 L316.1,609.2 L316.7,605.8 L317.2,601.7 L317.7,597.3 L318.0,595.0 L318.2,592.6 L318.7,586.8 L319.2,580.3 L319.7,573.2 L320.2,566.0 L320.5,562.5 L320.7,558.9 L321.2,551.0 L321.7,542.9 L322.2,535.0 L322.7,528.0 L323.0,525.0 L323.2,522.2 L323.7,517.0 L324.2,512.0 L324.7,507.4 L325.2,503.2 L325.7,499.3 L326.2,495.7 L326.6,492.5 L327.1,489.4 L327.6,486.2 L328.1,483.2 L328.6,480.4 L329.0,478.0 L329.5,476.2 L329.9,475.2 L330.1,475.0 L330.3,474.9 L330.8,474.8 L331.3,474.7 L331.8,474.6 L332.3,474.5 L332.7,474.5 L332.9,474.5 L333.0,474.7 L333.4,476.6 L333.8,479.8 L334.3,484.2 L334.8,489.2 L335.3,494.6 L335.8,500.0 L336.3,506.0 L336.8,513.4 L337.3,521.4 L337.8,529.6 L338.3,537.5 L338.8,545.3 L339.3,553.5 L339.8,561.6 L340.3,568.9 L340.8,575.0 L341.3,580.2 L341.8,585.2 L342.3,589.9 L342.8,594.3 L343.3,598.1 L343.9,601.3 L344.4,604.0 L344.7,605.0 L345.0,605.9 L345.5,607.7 L346.0,609.3 L346.5,610.9 L347.0,612.2 L347.6,613.4 L348.1,614.5 L348.6,615.4 L349.1,616.2 L349.7,616.8 L349.9,617.0 L350.2,617.2 L350.7,617.6 L351.2,617.9 L351.7,618.2 L352.2,618.5 L352.7,618.8 L353.2,619.0 L353.7,619.2 L354.2,619.3 L354.7,619.4 L355.0,619.5 L355.2,619.6 L355.7,619.7 L356.2,619.8 L356.7,619.9 L357.2,620.0 L357.7,620.0 L358.2,620.1 L358.7,620.2 L359.2,620.3 L359.7,620.4 L360.2,620.4 L360.7,620.5 L361.2,620.5 L361.7,620.6 L362.2,620.6 L362.7,620.7 L363.2,620.7 L363.7,620.7 L364.2,620.7 L364.7,620.7 L365.0,620.8 L365.3,620.7 L365.8,620.7 L366.3,620.7 L366.8,620.7 L367.3,620.7 L367.8,620.7 L368.3,620.7 L368.8,620.7 L369.3,620.7 L369.8,620.7 L370.3,620.7 L370.8,620.7 L371.3,620.7 L371.8,620.7 L372.3,620.6 L372.8,620.6 L373.3,620.6 L373.8,620.6 L374.3,620.6 L374.8,620.6 L375.3,620.6 L375.8,620.5 L376.3,620.5 L376.8,620.5 L377.3,620.5 L377.5,620.5 L377.8,620.5 L378.3,620.5 L378.8,620.5 L379.3,620.5 L379.8,620.4 L380.3,620.4 L380.8,620.4 L381.3,620.4 L381.8,620.4 L382.3,620.4 L382.8,620.4 L383.3,620.4 L383.8,620.4 L384.3,620.4 L384.8,620.3 L385.3,620.3 L385.8,620.3 L386.3,620.3 L386.8,620.3 L387.3,620.3 L387.8,620.2 L388.3,620.2 L388.8,620.2 L389.3,620.2 L389.8,620.2 L390.3,620.1 L390.8,620.1 L391.3,620.1 L391.8,620.0 L392.3,620.0 L392.5,620.0 L392.8,620.0 L393.3,619.9 L393.8,619.8 L394.3,619.7 L394.8,619.5 L395.3,619.3 L395.8,619.1 L396.3,618.9 L396.8,618.6 L397.3,618.3 L397.8,618.0 L398.3,617.6 L398.8,617.3 L399.3,616.9 L399.8,616.5 L400.1,616.2 L400.3,616.0 L400.9,615.5 L401.4,614.8 L401.9,614.0 L402.4,613.0 L402.9,611.9 L403.5,610.7 L404.0,609.3 L404.5,607.7 L405.0,605.9 L405.3,605.0 L405.7,603.8 L406.2,600.0 L406.7,594.9 L407.2,589.0 L407.7,583.0 L408.2,577.4 L408.5,575.0 L408.7,572.6 L409.2,567.5 L409.7,562.2 L410.2,557.2 L410.7,552.8 L411.1,549.4 L411.5,547.5 L411.9,546.5 L412.4,545.6 L412.9,544.8 L413.3,544.1 L413.8,543.6 L414.3,543.2 L414.8,543.0 L414.9,543.0 L415.1,543.2 L415.5,544.4 L415.9,546.6 L416.4,549.5 L416.9,552.8 L417.4,556.2 L417.9,559.6 L418.4,562.5 L418.9,565.2 L419.4,567.9 L419.9,570.6 L420.4,573.3 L420.9,576.0 L421.4,578.7 L421.9,581.2 L422.1,582.5 L422.4,583.8 L422.9,586.5 L423.4,589.4 L423.9,592.3 L424.4,594.9 L425.0,597.2 L425.5,598.9 L426.1,600.0 L426.6,600.7 L427.2,601.3 L427.7,601.8 L428.2,602.2 L428.7,602.6 L429.2,602.9 L429.7,603.0 L430.0,603.0 L430.3,602.9 L430.9,602.4 L431.4,601.4 L432.0,599.9 L432.5,598.2 L433.1,596.1 L433.4,595.0 L433.7,593.6 L434.2,589.3 L434.7,583.2 L435.2,575.7 L435.7,567.1 L436.0,562.5 L436.2,557.1 L436.7,542.8 L437.2,525.7 L437.7,508.2 L438.0,500.0 L438.2,491.7 L438.7,473.2 L439.2,455.3 L439.7,441.6 L440.0,437.5 L440.2,434.6 L440.7,429.2 L441.2,424.8 L441.6,421.5 L442.0,419.7 L442.0,419.5 L442.1,419.7 L442.5,421.1 L442.9,423.6 L443.3,427.0 L443.8,431.0 L444.3,435.3 L444.5,437.5 L444.8,440.0 L445.3,446.6 L445.8,454.5 L446.3,463.1 L446.8,471.3 L447.0,475.0 L447.3,478.5 L447.8,485.4 L448.3,492.1 L448.8,498.8 L449.3,505.3 L449.8,511.8 L450.3,518.4 L450.8,525.0 L451.3,531.9 L451.8,539.0 L452.3,546.2 L452.8,553.3 L453.3,560.2 L453.8,566.6 L454.3,572.4 L454.5,575.0 L454.8,577.5 L455.3,582.5 L455.8,587.4 L456.3,592.0 L456.8,596.2 L457.4,599.9 L457.9,602.8 L458.4,605.0 L459.0,606.7 L459.5,608.2 L460.0,609.6 L460.6,610.9 L461.1,612.0 L461.6,613.0 L462.1,613.9 L462.6,614.6 L463.2,615.1 L463.7,615.5 L464.2,615.8 L464.7,616.0 L465.2,616.3 L465.7,616.5 L466.2,616.7 L466.7,616.8 L467.2,617.0 L467.7,617.1 L468.2,617.2 L468.7,617.3 L469.2,617.4 L469.7,617.5 L470.0,617.5 L470.2,617.5 L470.7,617.6 L471.2,617.6 L471.7,617.6 L472.2,617.7 L472.7,617.7 L473.2,617.8 L473.7,617.8 L474.2,617.8 L474.7,617.9 L475.2,617.9 L475.7,617.9 L476.2,617.9 L476.7,617.9 L477.2,618.0 L477.7,618.0 L478.2,618.0 L478.7,618.0 L479.2,618.0 L479.7,618.0 L480.0,618.0 L480.3,618.0 L480.8,618.0 L481.3,618.0 L481.8,618.0 L482.3,618.0 L482.8,618.0 L483.3,617.9 L483.8,617.9 L484.3,617.9 L484.8,617.9 L485.3,617.9 L485.8,617.8 L486.3,617.8 L486.8,617.8 L487.3,617.7 L487.8,617.7 L488.3,617.7 L488.8,617.6 L489.3,617.6 L489.8,617.5 L490.0,617.5 L490.3,617.5 L490.8,617.4 L491.3,617.3 L491.8,617.2 L492.3,617.0 L492.8,616.9 L493.3,616.7 L493.8,616.4 L494.3,616.2 L494.8,615.9 L495.3,615.6 L495.8,615.2 L496.3,614.8 L496.8,614.4 L497.3,614.0 L497.6,613.8 L497.9,613.5 L498.4,612.6 L499.0,611.4 L499.5,609.8 L500.1,607.8 L500.6,605.5 L501.1,602.9 L501.7,600.0 L502.2,595.5 L502.7,588.7 L503.2,580.4 L503.7,571.4 L504.2,562.5 L504.7,553.4 L505.2,543.5 L505.7,533.2 L506.2,522.7 L506.7,512.5 L507.2,502.0 L507.7,490.9 L508.2,480.1 L508.7,470.4 L509.2,462.5 L509.7,455.8 L510.2,449.3 L510.7,443.6 L511.1,439.5 L511.5,437.5 L511.9,436.8 L512.3,436.2 L512.8,435.7 L513.3,435.4 L513.8,435.1 L514.2,435.0 L514.2,435.0 L514.3,435.7 L514.8,440.5 L515.3,448.8 L515.8,459.0 L516.3,469.8 L516.5,475.0 L516.8,480.9 L517.3,495.7 L517.8,510.5 L518.3,520.0 L518.8,524.9 L519.4,528.7 L520.0,530.9 L520.5,531.2 L521.0,531.0 L521.6,529.1 L522.2,525.7 L522.7,521.1 L523.2,515.5 L523.5,512.5 L523.7,508.4 L524.2,495.1 L524.7,477.6 L525.2,458.9 L525.5,450.0 L525.7,440.7 L526.2,419.1 L526.7,397.4 L527.2,380.3 L527.5,375.0 L527.7,371.1 L528.2,363.8 L528.7,357.4 L529.2,352.2 L529.6,348.5 L530.0,346.5 L530.1,346.2 L530.1,346.4 L530.5,347.6 L530.9,349.7 L531.4,352.7 L531.8,356.3 L532.3,360.4 L532.5,362.5 L532.8,365.1 L533.3,372.7 L533.8,382.7 L534.3,394.2 L534.8,406.4 L535.0,412.5 L535.3,418.9 L535.8,433.8 L536.3,450.1 L536.8,466.4 L537.3,481.1 L537.5,487.5 L537.8,493.3 L538.3,504.3 L538.8,514.6 L539.3,524.2 L539.8,533.2 L540.3,541.8 L540.8,550.0 L541.3,558.3 L541.8,566.6 L542.3,574.8 L542.8,582.2 L543.3,588.5 L543.8,593.3 L544.1,595.0 L544.4,596.4 L544.9,599.0 L545.4,601.4 L546.0,603.5 L546.5,605.3 L547.0,606.8 L547.6,608.1 L548.1,609.2 L548.6,610.0 L549.1,610.7 L549.7,611.2 L550.2,611.8 L550.7,612.3 L551.2,612.7 L551.7,613.2 L552.2,613.5 L552.7,613.9 L553.2,614.2 L553.7,614.4 L554.2,614.7 L554.7,614.9 L555.0,615.0 L555.2,615.1 L555.7,615.3 L556.2,615.5 L556.7,615.7 L557.2,615.9 L557.7,616.0 L558.2,616.2 L558.7,616.4 L559.2,616.5 L559.7,616.7 L560.2,616.8 L560.7,616.9 L561.2,617.1 L561.7,617.2 L562.2,617.3 L562.7,617.3 L563.2,617.4 L563.7,617.4 L564.2,617.5 L564.7,617.5 L565.0,617.5 L565.3,617.5 L565.8,617.5 L566.3,617.5 L566.8,617.5 L567.3,617.4 L567.8,617.4 L568.3,617.4 L568.8,617.4 L569.3,617.3 L569.8,617.3 L570.3,617.2 L570.8,617.2 L571.3,617.1 L571.8,617.1 L572.3,617.0 L572.5,617.0 L572.8,617.0 L573.3,616.8 L573.8,616.6 L574.3,616.4 L574.8,616.0 L575.3,615.7 L575.8,615.3 L576.3,614.8 L576.8,614.4 L577.3,613.9 L577.8,613.4 L578.3,612.9 L578.8,612.4 L579.3,611.9 L579.8,611.5 L580.1,611.2 L580.3,611.0 L580.8,610.5 L581.4,609.9 L581.9,609.2 L582.4,608.5 L582.8,607.9 L583.3,607.3 L583.8,606.8 L584.3,606.5 L584.8,606.3 L585.0,606.2 L585.3,606.3 L585.7,606.3 L586.2,606.3 L586.7,606.3 L587.2,606.4 L587.7,606.4 L588.2,606.5 L588.7,606.5 L589.2,606.6 L589.7,606.7 L590.2,606.7 L590.7,606.8 L591.2,606.9 L591.7,606.9 L592.2,607.0 L592.5,607.0 L592.7,607.0 L593.2,607.1 L593.7,607.1 L594.2,607.2 L594.7,607.2 L595.2,607.3 L595.7,607.3 L596.2,607.4 L596.7,607.4 L597.2,607.5 L597.7,607.5 L598.3,607.5 L598.8,607.5 L599.4,607.0 L600.0,605.7 L600.6,603.6 L601.1,600.9 L601.7,597.6 L602.2,593.8 L602.7,589.7 L603.0,587.5 L603.2,584.7 L603.7,576.4 L604.2,565.5 L604.7,553.6 L605.2,542.4 L605.5,537.5 L605.7,533.0 L606.2,524.4 L606.7,516.1 L607.2,507.9 L607.7,499.9 L608.2,491.7 L608.5,487.5 L608.7,483.0 L609.2,472.7 L609.7,462.1 L610.2,452.8 L610.7,446.5 L610.9,445.0 L611.0,444.1 L611.5,442.6 L611.9,441.4 L612.4,440.5 L612.8,440.1 L612.9,440.0 L613.0,440.3 L613.3,442.8 L613.8,447.4 L614.3,453.3 L614.8,460.3 L615.3,467.7 L615.8,475.0 L616.3,483.4 L616.8,493.8 L617.3,505.0 L617.8,515.7 L618.3,525.0 L618.8,533.0 L619.3,540.6 L619.8,548.0 L620.3,554.8 L620.8,561.3 L621.3,567.2 L621.8,572.6 L622.0,575.0 L622.3,577.4 L622.8,582.0 L623.3,586.4 L623.8,590.5 L624.3,594.3 L624.9,597.6 L625.4,600.4 L625.9,602.5 L626.5,604.2 L627.0,605.8 L627.5,607.3 L628.0,608.7 L628.6,610.0 L629.1,611.0 L629.6,612.0 L630.1,612.8 L630.7,613.3 L631.2,613.8 L631.7,614.0 L632.2,614.3 L632.7,614.6 L633.2,614.8 L633.7,615.1 L634.2,615.3 L634.7,615.5 L635.2,615.7 L635.7,615.8 L636.2,615.9 L636.7,616.1 L637.2,616.1 L637.7,616.2 L638.2,616.2 L638.7,616.2 L639.3,616.2 L639.8,616.2 L640.3,616.2 L640.8,616.2 L641.3,616.1 L641.8,616.0 L642.3,616.0 L642.8,615.9 L643.3,615.8 L643.8,615.7 L644.3,615.5 L644.8,615.4 L645.3,615.3 L645.8,615.1 L646.3,615.0 L646.8,614.8 L647.3,614.6 L647.5,614.5 L647.8,614.4 L648.3,614.0 L648.8,613.5 L649.4,612.8 L649.9,612.0 L650.4,611.0 L650.9,609.9 L651.5,608.7 L652.0,607.3 L652.5,605.8 L652.8,605.0 L653.1,604.0 L653.7,601.0 L654.2,597.0 L654.7,592.1 L655.2,586.7 L655.7,581.1 L656.2,575.4 L656.7,570.0 L657.2,564.3 L657.7,558.0 L658.2,551.4 L658.7,545.0 L659.2,539.1 L659.7,534.4 L659.9,532.5 L660.2,530.8 L660.6,527.5 L661.1,524.3 L661.6,521.5 L662.0,519.1 L662.5,517.3 L662.9,516.4 L663.0,516.2 L663.1,516.4 L663.5,517.4 L664.0,519.1 L664.4,521.5 L664.9,524.2 L665.4,527.1 L665.8,530.0 L666.3,533.4 L666.8,537.8 L667.3,542.6 L667.8,547.5 L668.3,552.1 L668.8,556.0 L669.1,557.5 L669.4,558.9 L669.9,561.6 L670.4,564.2 L670.9,566.5 L671.5,568.6 L672.1,570.1 L672.6,571.0 L672.9,571.2 L673.2,571.4 L673.7,571.5 L674.2,571.7 L674.7,571.8 L675.2,571.9 L675.8,572.0 L676.3,572.0 L676.9,571.5 L677.5,570.2 L678.0,568.2 L678.6,565.8 L679.1,563.2 L679.6,560.7 L680.1,558.5 L680.3,557.5 L680.5,556.6 L681.0,554.5 L681.5,552.3 L682.0,550.1 L682.5,548.1 L682.9,546.5 L683.4,545.4 L683.8,545.0 L684.2,545.2 L684.6,545.7 L685.1,546.6 L685.6,547.6 L686.0,548.9 L686.5,550.3 L687.0,551.8 L687.2,552.5 L687.5,553.3 L687.9,555.5 L688.4,558.2 L688.9,561.4 L689.3,564.7 L689.8,568.2 L690.3,571.7 L690.8,575.0 L691.3,578.4 L691.8,582.1 L692.3,585.9 L692.8,589.6 L693.4,593.2 L693.9,596.4 L694.4,599.0 L694.7,600.0 L695.0,600.9 L695.5,602.7 L696.0,604.3 L696.5,605.8 L697.0,607.2 L697.6,608.5 L698.1,609.6 L698.6,610.6 L699.1,611.5 L699.6,612.2 L699.9,612.5 L700.2,612.8 L700.7,613.3 L701.2,613.9 L701.7,614.4 L702.2,614.9 L702.7,615.3 L703.2,615.7 L703.7,616.1 L704.2,616.4 L704.7,616.7 L705.2,616.8 L705.7,617.0 L706.2,617.0 L706.7,617.0 L707.3,617.0 L707.5,617.0 L707.8,617.0 L708.3,617.0 L708.8,617.0 L709.3,616.9 L709.8,616.9 L710.3,616.8 L710.8,616.8 L711.3,616.7 L711.8,616.6 L712.3,616.5 L712.8,616.5 L713.3,616.4 L713.8,616.2 L714.3,616.1 L714.8,615.9 L715.3,615.6 L715.8,615.2 L716.3,614.7 L716.8,614.2 L717.4,613.6 L717.9,612.9 L718.4,612.1 L718.9,611.3 L719.4,610.5 L719.7,610.0 L720.0,609.4 L720.6,607.3 L721.1,604.4 L721.6,601.0 L722.1,597.4 L722.6,593.9 L723.1,590.9 L723.5,588.6 L723.9,587.5 L724.4,587.1 L724.8,586.6 L725.3,586.3 L725.8,585.9 L726.3,585.7 L726.8,585.4 L727.3,585.2 L727.8,585.1 L728.2,585.0 L728.7,585.0 L729.2,585.2 L729.7,585.6 L730.1,586.4 L730.6,587.2 L731.1,588.1 L731.6,589.0 L732.1,589.9 L732.7,590.6 L733.2,591.1 L733.8,591.2 L734.3,591.1 L734.9,590.5 L735.4,589.6 L736.0,588.4 L736.5,587.0 L737.0,585.3 L737.6,583.5 L737.9,582.5 L738.2,581.0 L738.7,575.9 L739.2,569.2 L739.7,562.3 L740.2,556.8 L740.4,555.0 L740.6,553.7 L741.1,551.2 L741.6,548.9 L742.0,546.8 L742.5,545.1 L742.9,543.8 L743.4,542.9 L743.8,542.5 L744.3,542.4 L744.8,542.3 L745.3,542.2 L745.8,542.1 L746.3,542.1 L746.8,542.0 L747.3,542.0 L747.7,542.0 L747.9,542.0 L748.1,542.2 L748.5,543.6 L748.9,546.1 L749.4,549.3 L749.8,552.9 L750.3,556.6 L750.8,560.0 L751.3,563.4 L751.8,567.1 L752.3,571.1 L752.8,575.1 L753.3,579.1 L753.8,582.8 L754.4,586.1 L754.6,587.5 L754.9,588.9 L755.4,591.5 L755.9,594.1 L756.4,596.7 L756.9,599.1 L757.4,601.3 L758.0,603.3 L758.5,605.2 L759.0,606.8 L759.5,608.2 L759.8,608.8 L760.1,609.3 L760.6,610.3 L761.1,611.3 L761.6,612.3 L762.1,613.2 L762.6,614.0 L763.1,614.8 L763.6,615.5 L764.2,616.1 L764.7,616.6 L765.2,617.0 L765.7,617.3 L766.2,617.5 L766.7,617.6 L767.2,617.8 L767.7,617.9 L768.2,618.0 L768.7,618.1 L769.2,618.2 L769.7,618.3 L770.2,618.4 L770.7,618.4 L771.2,618.5 L771.7,618.6 L772.2,618.6 L772.7,618.7 L773.2,618.7 L773.7,618.7 L774.2,618.7 L774.7,618.7 L775.0,618.8 L775.2,618.8 L775.8,618.8 L776.2,618.8 L776.8,618.8 L777.2,618.8 L777.8,618.8 L778.2,618.8 L778.8,618.8 L779.2,618.8 L779.8,618.8 L780.2,618.8 L780.8,618.8 L781.2,618.8 L781.8,618.8 L782.2,618.8 L782.8,618.8 L783.2,618.8 L783.8,618.8 L784.2,618.8 L784.8,618.8 L785.2,618.8 L785.8,618.8 L786.2,618.8 L786.8,618.8 L787.3,618.8 L787.5,618.8 L787.8,618.7 L788.3,618.7 L788.8,618.6 L789.3,618.5 L789.8,618.3 L790.3,618.1 L790.8,617.9 L791.3,617.6 L791.8,617.3 L792.3,617.1 L792.8,616.8 L793.3,616.5 L793.8,616.2 L794.3,615.9 L794.8,615.6 L795.0,615.5 L795.3,615.4 L795.8,615.0 L796.3,614.7 L796.8,614.3 L797.3,613.9 L797.8,613.5 L798.3,613.1 L798.8,612.8 L799.3,612.6 L799.8,612.5 L800.0,612.5 L800.2,612.5 L800.7,612.6 L801.2,612.7 L801.7,612.9 L802.2,613.2 L802.7,613.5 L803.2,613.8 L803.7,614.1 L804.2,614.4 L804.7,614.7 L805.2,615.0 L805.7,615.3 L806.2,615.5 L806.7,615.7 L807.2,615.9 L807.7,616.1 L808.2,616.3 L808.7,616.5 L809.2,616.7 L809.7,616.9 L810.2,617.1 L810.7,617.2 L811.2,617.4 L811.7,617.6 L812.2,617.8 L812.7,617.9 L813.2,618.1 L813.7,618.2 L814.2,618.3 L814.7,618.4 L815.2,618.5 L815.7,618.6 L816.2,618.7 L816.7,618.7 L817.2,618.7 L817.5,618.8 L817.8,618.7 L818.3,618.7 L818.8,618.7 L819.3,618.7 L819.8,618.7 L820.3,618.7 L820.8,618.7 L821.3,618.6 L821.8,618.6 L822.3,618.6 L822.8,618.5 L823.3,618.5 L823.8,618.5 L824.3,618.4 L824.8,618.4 L825.3,618.3 L825.8,618.2 L826.3,618.2 L826.8,618.1 L827.3,618.0 L827.5,618.0 L827.8,618.0 L828.3,617.8 L828.8,617.6 L829.3,617.4 L829.8,617.1 L830.3,616.7 L830.8,616.3 L831.3,615.8 L831.8,615.3 L832.4,614.7 L832.9,614.0 L833.4,613.3 L834.0,612.5 L834.6,611.0 L835.1,608.3 L835.7,604.8 L836.2,600.8 L836.7,596.6 L837.2,592.5 L837.7,589.0 L837.9,587.5 L838.1,586.1 L838.6,583.3 L839.1,580.4 L839.6,577.7 L840.1,575.2 L840.5,573.0 L841.0,571.2 L841.4,570.0 L841.9,569.1 L842.4,568.3 L842.9,567.5 L843.4,566.9 L843.8,566.3 L844.3,565.7 L844.8,565.3 L845.3,564.9 L845.8,564.7 L846.3,564.5 L846.8,564.4 L847.3,564.3 L847.8,564.1 L848.3,564.0 L848.8,564.0 L849.3,563.9 L849.8,563.8 L850.3,563.8 L850.7,563.8 L851.2,563.8 L851.7,564.0 L852.1,564.7 L852.6,565.8 L853.0,567.2 L853.5,568.7 L854.0,570.3 L854.5,571.8 L854.8,572.5 L855.0,573.2 L855.5,574.8 L856.0,576.4 L856.5,578.2 L857.0,580.0 L857.5,581.9 L858.0,583.8 L858.5,585.6 L859.0,587.5 L859.5,589.2 L859.7,590.0 L860.0,590.8 L860.5,592.4 L861.0,594.1 L861.5,595.7 L862.0,597.3 L862.5,598.9 L863.0,600.4 L863.5,601.8 L864.0,603.2 L864.6,604.4 L864.8,605.0 L865.1,605.6 L865.6,606.7 L866.1,607.9 L866.6,609.0 L867.1,610.2 L867.6,611.2 L868.1,612.3 L868.6,613.2 L869.1,614.1 L869.6,614.8 L870.2,615.4 L870.7,615.9 L871.2,616.2 L871.7,616.5 L872.2,616.7 L872.7,616.9 L873.2,617.1 L873.7,617.3 L874.2,617.5 L874.7,617.6 L875.2,617.7 L875.7,617.8 L876.2,617.9 L876.7,618.0 L877.2,618.0 L877.5,618.0 L877.8,618.0 L878.3,618.0 L878.8,618.0 L879.3,617.9 L879.8,617.9 L880.3,617.8 L880.8,617.7 L881.3,617.6 L881.8,617.5 L882.3,617.3 L882.8,617.2 L883.3,617.0 L883.8,616.8 L884.3,616.6 L884.8,616.4 L885.1,616.2 L885.4,616.0 L886.0,615.0 L886.5,613.3 L887.1,611.0 L887.6,608.4 L888.1,605.6 L888.6,602.8 L889.1,600.0 L889.7,596.9 L890.2,593.1 L890.7,589.1 L891.2,585.1 L891.6,581.5 L892.1,578.6 L892.3,577.5 L892.5,576.6 L893.0,574.8 L893.5,573.0 L894.0,571.5 L894.4,570.2 L894.9,569.3 L895.3,568.8 L895.5,568.8 L895.7,568.8 L896.2,569.2 L896.6,570.1 L897.1,571.1 L897.5,572.4 L898.0,573.9 L898.5,575.4 L899.0,576.8 L899.3,577.5 L899.5,578.2 L900.0,579.8 L900.5,581.5 L901.0,583.4 L901.5,585.3 L902.0,587.2 L902.5,589.1 L903.0,590.9 L903.5,592.5 L904.0,594.0 L904.5,595.5 L905.0,597.0 L905.5,598.5 L906.0,599.9 L906.5,601.2 L907.0,602.6 L907.6,603.8 L908.1,605.1 L908.6,606.2 L909.1,607.4 L909.6,608.7 L910.1,609.9 L910.6,611.1 L911.1,612.3 L911.6,613.3 L912.1,614.3 L912.6,615.1 L913.2,615.8 L913.7,616.2 L914.2,616.6 L914.7,616.9 L915.2,617.2 L915.7,617.5 L916.2,617.7 L916.7,618.0 L917.2,618.2 L917.7,618.4 L918.2,618.5 L918.7,618.6 L919.2,618.7 L919.7,618.7 L920.0,618.8 L920.3,618.7 L920.8,618.7 L921.3,618.7 L921.8,618.7 L922.3,618.6 L922.8,618.6 L923.3,618.5 L923.8,618.4 L924.3,618.3 L924.8,618.2 L925.3,618.1 L925.8,618.0 L926.3,617.9 L926.8,617.7 L927.3,617.6 L927.5,617.5 L927.8,617.4 L928.3,617.0 L928.8,616.5 L929.4,615.8 L929.9,614.9 L930.4,614.0 L930.9,612.9 L931.4,611.8 L931.9,610.6 L932.2,610.0 L932.5,609.3 L933.0,607.3 L933.6,604.9 L934.1,602.3 L934.6,599.7 L935.0,597.4 L935.5,595.6 L935.7,595.0 L935.9,594.5 L936.4,593.6 L936.9,592.7 L937.4,591.9 L937.9,591.2 L938.3,590.5 L938.8,590.0 L939.3,589.7 L939.8,589.5 L940.0,589.5 L940.3,589.5 L940.7,589.5 L941.2,589.5 L941.7,589.6 L942.2,589.6 L942.7,589.7 L943.2,589.7 L943.7,589.8 L944.2,589.9 L944.7,590.0 L945.0,590.0 L945.2,590.1 L945.7,590.4 L946.2,591.0 L946.6,591.7 L947.1,592.5 L947.6,593.5 L948.1,594.4 L948.6,595.4 L949.1,596.3 L949.6,597.1 L949.9,597.5 L950.1,597.9 L950.6,598.7 L951.1,599.6 L951.6,600.5 L952.1,601.2 L952.7,601.9 L953.2,602.3 L953.7,602.5 L954.3,602.5 L954.8,602.4 L955.3,602.2 L955.8,602.1 L956.3,601.9 L956.8,601.6 L957.3,601.4 L957.8,601.1 L958.3,600.9 L958.8,600.6 L959.3,600.4 L959.8,600.3 L960.3,600.1 L960.8,600.0 L961.2,600.0 L961.7,600.1 L962.2,600.2 L962.7,600.5 L963.2,600.8 L963.7,601.2 L964.2,601.7 L964.7,602.2 L965.2,602.7 L965.7,603.2 L966.2,603.8 L966.6,604.3 L967.1,605.0 L967.6,605.9 L968.1,606.8 L968.6,607.7 L969.1,608.7 L969.6,609.7 L970.1,610.6 L970.6,611.5 L971.1,612.3 L971.6,613.0 L972.2,613.5 L972.4,613.8 L972.7,613.9 L973.2,614.3 L973.7,614.7 L974.2,615.1 L974.7,615.4 L975.2,615.8 L975.7,616.1 L976.2,616.3 L976.7,616.6 L977.2,616.7 L977.7,616.9 L978.2,617.0 L978.8,617.0 L979.3,616.8 L979.8,616.4 L980.4,615.8 L980.9,615.0 L981.4,614.1 L981.9,613.2 L982.4,612.2 L982.9,611.4 L983.4,610.6 L983.8,610.0 L984.3,609.5 L984.8,609.0 L985.3,608.5 L985.8,608.0 L986.3,607.5 L986.8,607.1 L987.3,606.8 L987.8,606.5 L988.3,606.3 L988.7,606.2 L989.2,606.3 L989.7,606.5 L990.2,606.8 L990.7,607.2 L991.2,607.6 L991.7,608.0 L992.2,608.5 L992.7,608.9 L993.2,609.3 L993.7,609.6 L994.2,609.9 L994.7,610.0 L995.0,610.0 L995.3,610.0 L995.8,610.0 L996.3,609.9 L996.8,609.8 L997.3,609.7 L997.8,609.6 L998.3,609.5 L998.8,609.4 L999.3,609.3 L999.8,609.1 L1000.3,609.0 L1000.8,608.9 L1001.3,608.8 L1001.8,608.8 L1002.3,608.8 L1002.5,608.8 L1002.7,608.8 L1003.2,608.8 L1003.7,608.8 L1004.2,608.8 L1004.7,608.9 L1005.2,608.9 L1005.7,609.0 L1006.2,609.0 L1006.7,609.1 L1007.2,609.2 L1007.7,609.3 L1008.2,609.4 L1008.7,609.5 L1009.2,609.7 L1009.7,609.9 L1010.2,610.3 L1010.7,610.7 L1011.2,611.2 L1011.7,611.7 L1012.2,612.3 L1012.7,612.8 L1013.2,613.4 L1013.7,613.9 L1014.2,614.4 L1014.7,614.8 L1014.9,615.0 L1015.2,615.2 L1015.7,615.6 L1016.2,616.0 L1016.7,616.4 L1017.2,616.8 L1017.7,617.2 L1018.2,617.5 L1018.7,617.9 L1019.2,618.2 L1019.7,618.4 L1020.2,618.6 L1020.7,618.7 L1021.2,618.8 L1021.7,618.7 L1022.3,618.7 L1022.8,618.7 L1023.3,618.7 L1023.8,618.6 L1024.3,618.6 L1024.8,618.5 L1025.3,618.5 L1025.8,618.4 L1026.3,618.3 L1026.8,618.2 L1027.3,618.2 L1027.8,618.1 L1028.3,617.9 L1028.8,617.8 L1029.3,617.7 L1029.8,617.6 L1030.0,617.5 L1030.3,617.4 L1030.8,617.0 L1031.4,616.3 L1031.9,615.5 L1032.4,614.5 L1032.9,613.3 L1033.4,612.1 L1033.9,610.8 L1034.4,609.6 L1034.9,608.3 L1035.4,607.1 L1035.9,606.0 L1036.4,605.0 L1036.9,604.0 L1037.4,603.0 L1037.9,601.9 L1038.4,600.8 L1038.9,599.8 L1039.4,599.0 L1039.8,598.4 L1040.3,598.0 L1040.5,598.0 L1040.7,598.0 L1041.2,598.3 L1041.7,598.7 L1042.1,599.3 L1042.6,600.0 L1043.1,600.9 L1043.6,601.8 L1044.1,602.7 L1044.6,603.7 L1045.1,604.6 L1045.6,605.5 L1046.1,606.2 L1046.6,607.0 L1047.1,607.8 L1047.6,608.6 L1048.1,609.4 L1048.6,610.2 L1049.1,611.0 L1049.6,611.8 L1050.1,612.6 L1050.6,613.3 L1051.2,613.9 L1051.7,614.4 L1052.2,614.8 L1052.4,615.0 L1052.7,615.2 L1053.2,615.5 L1053.7,615.8 L1054.2,616.1 L1054.7,616.3 L1055.2,616.6 L1055.7,616.9 L1056.2,617.1 L1056.7,617.3 L1057.2,617.5 L1057.7,617.7 L1058.2,617.8 L1058.7,617.9 L1059.2,618.0 L1059.7,618.0 L1060.0,618.0 L1060.3,618.0 L1060.8,618.0 L1061.3,618.0 L1061.8,617.9 L1062.3,617.9 L1062.8,617.8 L1063.3,617.8 L1063.8,617.7 L1064.3,617.6 L1064.8,617.5 L1065.3,617.4 L1065.8,617.3 L1066.3,617.2 L1066.8,617.0 L1067.3,616.8 L1067.8,616.7 L1068.3,616.5 L1068.9,616.2 L1069.4,615.6 L1070.0,614.0 L1070.6,611.9 L1071.1,609.4 L1071.6,606.6 L1072.1,603.8 L1072.6,601.2 L1072.8,600.0 L1073.1,598.8 L1073.6,596.3 L1074.1,593.7 L1074.6,591.0 L1075.1,588.4 L1075.6,586.1 L1076.0,584.1 L1076.5,582.5 L1077.0,581.2 L1077.4,579.9 L1077.9,578.7 L1078.4,577.6 L1078.9,576.7 L1079.4,575.9 L1079.8,575.3 L1080.3,575.0 L1080.5,575.0 L1080.7,575.0 L1081.2,575.3 L1081.7,575.7 L1082.1,576.3 L1082.6,577.0 L1083.1,577.9 L1083.6,578.8 L1084.1,579.8 L1084.6,580.8 L1084.8,581.2 L1085.1,581.8 L1085.5,583.0 L1086.0,584.5 L1086.5,586.1 L1087.0,587.9 L1087.5,589.7 L1088.0,591.6 L1088.5,593.4 L1089.0,595.2 L1089.5,596.8 L1089.8,597.5 L1090.0,598.2 L1090.5,599.7 L1091.0,601.2 L1091.5,602.8 L1092.0,604.3 L1092.5,605.7 L1093.1,607.0 L1093.6,608.1 L1094.1,609.0 L1094.6,609.7 L1094.9,610.0 L1095.2,610.2 L1095.7,610.6 L1096.2,611.0 L1096.7,611.4 L1097.2,611.8 L1097.7,612.1 L1098.2,612.4 L1098.7,612.7 L1099.2,612.9 L1099.7,613.2 L1100.2,613.4 L1100.7,613.5 L1101.2,613.6 L1101.7,613.7 L1102.2,613.7 L1102.5,613.8 L1102.8,613.7 L1103.3,613.7 L1103.8,613.7 L1104.3,613.7 L1104.8,613.6 L1105.3,613.6 L1105.8,613.5 L1106.3,613.5 L1106.8,613.4 L1107.3,613.3 L1107.8,613.2 L1108.3,613.0 L1108.8,612.9 L1109.3,612.8 L1109.8,612.6 L1110.1,612.5 L1110.4,612.3 L1111.0,611.3 L1111.5,609.5 L1112.1,607.2 L1112.6,604.5 L1113.1,601.5 L1113.7,598.2 L1114.2,595.0 L1114.7,591.3 L1115.2,586.8 L1115.7,581.7 L1116.2,576.3 L1116.7,570.7 L1117.2,565.1 L1117.5,562.5 L1117.7,559.9 L1118.2,554.3 L1118.7,548.7 L1119.2,543.0 L1119.7,537.5 L1120.2,532.4 L1120.5,530.0 L1120.7,527.7 L1121.2,522.9 L1121.7,518.2 L1122.2,513.6 L1122.7,509.4 L1123.2,505.6 L1123.6,502.4 L1124.1,500.0 L1124.5,498.0 L1125.0,496.1 L1125.5,494.4 L1125.9,493.0 L1126.4,491.9 L1126.8,491.3 L1127.0,491.2 L1127.1,491.4 L1127.6,492.2 L1128.0,493.8 L1128.4,495.9 L1128.9,498.4 L1129.4,501.0 L1129.9,503.7 L1130.1,505.0 L1130.4,506.3 L1130.9,509.3 L1131.3,512.6 L1131.8,516.1 L1132.3,519.9 L1132.8,523.9 L1133.3,527.8 L1133.8,531.8 L1134.3,535.6 L1134.6,537.5 L1134.8,539.4 L1135.3,543.1 L1135.8,547.0 L1136.3,550.9 L1136.8,554.7 L1137.3,558.6 L1137.8,562.4 L1138.3,566.2 L1138.8,569.8 L1139.3,573.3 L1139.6,575.0 L1139.8,576.7 L1140.3,580.2 L1140.8,583.7 L1141.3,587.3 L1141.8,590.7 L1142.4,594.0 L1142.9,597.1 L1143.4,599.9 L1143.9,602.3 L1144.5,604.2 L1144.8,605.0 L1145.0,605.7 L1145.5,607.0 L1146.1,608.3 L1146.6,609.5 L1147.1,610.7 L1147.6,611.7 L1148.1,612.7 L1148.6,613.5 L1149.1,614.3 L1149.7,614.9 L1150.2,615.5 L1150.7,615.9 L1151.2,616.2 L1151.7,616.5 L1152.2,616.7 L1152.7,617.0 L1153.2,617.2 L1153.7,617.4 L1154.2,617.6 L1154.7,617.8 L1155.2,617.9 L1155.7,618.1 L1156.2,618.2 L1156.7,618.4 L1157.2,618.5 L1157.7,618.6 L1158.2,618.6 L1158.7,618.7 L1159.2,618.7 L1159.7,618.7 L1160.0,618.8 L1160.3,618.7 L1160.8,618.7 L1161.3,618.7 L1161.8,618.6 L1162.3,618.6 L1162.8,618.5 L1163.3,618.4 L1163.8,618.3 L1164.3,618.2 L1164.8,618.1 L1165.3,618.0 L1165.8,617.9 L1166.3,617.8 L1166.8,617.7 L1167.3,617.6 L1167.8,617.4 L1168.3,617.3 L1168.8,617.2 L1169.3,617.1 L1169.8,617.0 L1170.0,617.0 L1170.3,617.0 L1170.8,616.9 L1171.3,616.8 L1171.8,616.8 L1172.3,616.7 L1172.8,616.6 L1173.3,616.6 L1173.8,616.5 L1174.3,616.5 L1174.8,616.4 L1175.3,616.3 L1175.8,616.3 L1176.3,616.2 L1176.8,616.1 L1177.3,616.1 L1177.8,616.0 L1178.3,615.9 L1178.8,615.8 L1179.3,615.7 L1179.8,615.6 L1180.0,615.5 L1180.3,615.4 L1180.8,615.3 L1181.3,615.1 L1181.8,614.9 L1182.3,614.7 L1182.8,614.5 L1183.3,614.2 L1183.8,613.9 L1184.3,613.5 L1184.8,613.1 L1185.3,612.7 L1185.8,612.2 L1186.3,611.6 L1186.9,611.0 L1187.4,610.4 L1187.7,610.0 L1188.0,609.5 L1188.6,607.4 L1189.1,604.5 L1189.6,601.0 L1190.1,597.3 L1190.6,594.0 L1190.9,592.5 L1191.1,591.1 L1191.6,587.9 L1192.1,584.5 L1192.6,581.1 L1193.1,578.0 L1193.6,575.3 L1194.0,573.3 L1194.4,572.2 L1194.6,572.0 L1194.7,572.0 L1195.2,572.3 L1195.6,572.9 L1196.1,573.7 L1196.6,574.6 L1197.1,575.7 L1197.5,576.9 L1197.8,577.5 L1198.0,578.3 L1198.4,580.5 L1198.9,583.4 L1199.4,586.6 L1199.9,589.9 L1200.4,592.8 L1200.9,595.0 L1201.5,596.7 L1202.0,598.4 L1202.5,599.9 L1203.0,601.4 L1203.5,602.7 L1204.1,603.9 L1204.6,605.0 L1205.1,606.0 L1205.6,606.8 L1206.1,607.5 L1206.7,608.1 L1207.2,608.6 L1207.7,609.1 L1208.2,609.5 L1208.7,609.9 L1209.2,610.3 L1209.7,610.7 L1210.2,611.0 L1210.7,611.4 L1211.2,611.7 L1211.7,611.9 L1212.2,612.2 L1212.7,612.5 L1213.2,612.8 L1213.7,613.1 L1214.2,613.3 L1214.7,613.6 L1215.0,613.8 L1215.2,613.9 L1215.7,614.2 L1216.2,614.5 L1216.7,614.8 L1217.2,615.1 L1217.7,615.4 L1218.2,615.7 L1218.7,615.9 L1219.2,616.1 L1219.7,616.2 L1220.0,616.2 L1220.2,616.3 L1220.7,616.4 L1221.2,616.4 L1221.7,616.5 L1222.2,616.5 L1222.7,616.6 L1223.2,616.6 L1223.7,616.7 L1224.2,616.7 L1224.7,616.8 L1225.2,616.8 L1225.7,616.9 L1226.2,616.9 L1226.7,616.9 L1227.2,616.9 L1227.7,617.0 L1228.2,617.0 L1228.7,617.0 L1229.2,617.0 L1229.7,617.0 L1230.0,617.0 L1230.3,617.0 L1230.8,617.0 L1231.3,617.0 L1231.8,616.9 L1232.3,616.9 L1232.8,616.8 L1233.3,616.7 L1233.8,616.6 L1234.3,616.5 L1234.8,616.4 L1235.3,616.3 L1235.8,616.1 L1236.3,615.9 L1236.8,615.8 L1237.3,615.6 L1237.6,615.5 L1237.8,615.4 L1238.4,614.9 L1238.9,614.1 L1239.4,613.1 L1239.9,612.0 L1240.4,610.7 L1241.0,609.4 L1241.5,608.1 L1241.9,606.8 L1242.4,605.6 L1242.7,605.0 L1242.9,604.4 L1243.4,603.2 L1243.9,602.0 L1244.5,600.6 L1244.9,599.3 L1245.4,598.0 L1245.9,596.8 L1246.4,595.7 L1246.9,594.8 L1247.4,594.0 L1247.6,593.8 L1247.8,593.5 L1248.3,593.0 L1248.8,592.5 L1249.3,592.0 L1249.8,591.5 L1250.3,591.1 L1250.8,590.7 L1251.3,590.4 L1251.8,590.1 L1252.3,589.8 L1252.8,589.6 L1253.3,589.5 L1253.7,589.5 L1254.2,589.7 L1254.7,590.1 L1255.1,590.9 L1255.6,591.8 L1256.1,592.9 L1256.6,594.0 L1257.1,595.3 L1257.6,596.5 L1258.1,597.7 L1258.6,598.8 L1259.1,599.9 L1259.5,601.2 L1260.0,602.6 L1260.5,604.0 L1261.0,605.4 L1261.6,606.7 L1262.1,607.9 L1262.6,608.9 L1263.2,609.6 L1263.7,610.0 L1264.2,610.2 L1264.7,610.4 L1265.2,610.5 L1265.7,610.7 L1266.2,610.8 L1266.7,610.9 L1267.2,611.0 L1267.7,611.1 L1268.2,611.1 L1268.7,611.2 L1269.2,611.2 L1269.7,611.2 L1270.0,611.2 L1270.3,611.2 L1270.8,611.2 L1271.3,611.0 L1271.8,610.8 L1272.3,610.5 L1272.8,610.2 L1273.3,609.9 L1273.8,609.6 L1274.3,609.4 L1274.8,609.1 L1275.3,608.9 L1275.8,608.8 L1276.3,608.8 L1276.7,608.8 L1277.2,608.8 L1277.7,608.9 L1278.2,608.9 L1278.7,609.0 L1279.2,609.1 L1279.7,609.2 L1280.2,609.3 L1280.7,609.4 L1281.2,609.4 L1281.7,609.5 L1282.2,609.5 L1282.5,609.5 L1282.8,609.5 L1283.3,609.4 L1283.8,609.2 L1284.3,609.0 L1284.8,608.8 L1285.3,608.5 L1285.8,608.2 L1286.3,607.9 L1286.8,607.6 L1287.3,607.4 L1287.8,607.2 L1288.3,607.0 L1288.8,607.0 L1289.2,607.0 L1289.7,607.1 L1290.2,607.3 L1290.7,607.5 L1291.2,607.7 L1291.7,608.0 L1292.2,608.3 L1292.7,608.6 L1293.2,608.9 L1293.7,609.2 L1294.2,609.6 L1294.7,609.9 L1294.9,610.0 L1295.2,610.1 L1295.7,610.5 L1296.2,610.9 L1296.7,611.3 L1297.2,611.7 L1297.7,612.1 L1298.2,612.6 L1298.7,613.0 L1299.2,613.4 L1299.7,613.8 L1300.2,614.2 L1300.7,614.5 L1301.2,614.7 L1301.7,614.9 L1302.2,615.0 L1302.5,615.0 L1302.8,615.0 L1303.3,615.0 L1303.8,615.0 L1304.3,614.9 L1304.8,614.9 L1305.3,614.8 L1305.8,614.8 L1306.3,614.7 L1306.8,614.6 L1307.3,614.5 L1307.5,614.5 L1307.8,614.4 L1308.3,614.2 L1308.8,613.9 L1309.3,613.5 L1309.8,613.1 L1310.3,612.5 L1310.9,611.9 L1311.4,611.3 L1311.9,610.6 L1312.4,609.9 L1312.9,609.2 L1313.4,608.5 L1313.9,607.8 L1314.4,607.2 L1314.9,606.5 L1315.1,606.2 L1315.3,606.0 L1315.8,605.4 L1316.3,604.8 L1316.9,604.2 L1317.4,603.5 L1317.9,602.9 L1318.4,602.3 L1318.9,601.7 L1319.3,601.0 L1319.8,600.4 L1320.3,599.8 L1320.8,599.3 L1321.3,598.7 L1321.8,598.2 L1322.3,597.7 L1322.6,597.5 L1322.8,597.3 L1323.3,596.8 L1323.8,596.3 L1324.3,595.8 L1324.8,595.3 L1325.3,594.8 L1325.8,594.4 L1326.3,594.1 L1326.8,593.9 L1327.3,593.8 L1327.5,593.8 L1327.7,593.8 L1328.2,593.9 L1328.7,594.2 L1329.2,594.6 L1329.7,595.1 L1330.2,595.7 L1330.6,596.3 L1331.1,597.0 L1331.6,597.7 L1332.1,598.4 L1332.4,598.8 L1332.6,599.1 L1333.1,600.0 L1333.6,601.1 L1334.1,602.3 L1334.6,603.6 L1335.0,605.0 L1335.6,606.3 L1336.1,607.5 L1336.6,608.6 L1337.1,609.6 L1337.4,610.0 L1337.6,610.4 L1338.1,611.2 L1338.6,611.9 L1339.1,612.7 L1339.6,613.5 L1340.1,614.2 L1340.6,614.8 L1341.2,615.4 L1341.7,616.0 L1342.2,616.4 L1342.7,616.7 L1343.2,616.9 L1343.7,617.0 L1344.2,617.0 L1344.8,617.0 L1345.2,617.0 L1345.8,617.0 L1346.2,617.0 L1346.8,617.0 L1347.2,617.0 L1347.8,617.0 L1348.2,617.0 L1348.8,617.0 L1349.2,617.0 L1349.8,617.0 L1350.0,617.0 L1350.3,617.0 L1350.8,616.9 L1351.3,616.8 L1351.8,616.7 L1352.3,616.5 L1352.8,616.3 L1353.3,616.0 L1353.8,615.8 L1354.3,615.5 L1354.8,615.2 L1355.3,614.9 L1355.8,614.6 L1356.3,614.4 L1356.8,614.1 L1357.3,613.9 L1357.5,613.8 L1357.8,613.6 L1358.3,613.4 L1358.8,613.2 L1359.3,612.9 L1359.8,612.6 L1360.3,612.4 L1360.8,612.1 L1361.3,611.9 L1361.8,611.7 L1362.3,611.5 L1362.8,611.4 L1363.3,611.3 L1363.7,611.2 L1364.2,611.3 L1364.7,611.5 L1365.2,611.7 L1365.7,612.0 L1366.2,612.4 L1366.7,612.8 L1367.2,613.2 L1367.7,613.5 L1368.2,613.9 L1368.7,614.2 L1369.2,614.4 L1369.7,614.5 L1370.0,614.5 L1370.2,614.5 L1370.8,614.5 L1371.2,614.5 L1371.8,614.5 L1372.2,614.5 L1372.8,614.5 L1373.2,614.5 L1373.8,614.5 L1374.2,614.5 L1374.8,614.5 L1375.2,614.5 L1375.8,614.5 L1376.2,614.5 L1376.8,614.5 L1377.2,614.5 L1377.8,614.5 L1378.2,614.5 L1378.8,614.5 L1379.2,614.5 L1379.8,614.5 L1380.0,614.5 L1380.3,614.5 L1380.8,614.1 L1381.4,613.5 L1381.9,612.7 L1382.4,611.6 L1382.9,610.5 L1383.4,609.2 L1383.9,608.0 L1384.4,606.7 L1384.9,605.5 L1385.2,605.0 L1385.4,604.4 L1386.0,603.1 L1386.5,601.7 L1387.0,600.2 L1387.4,598.8 L1387.9,597.6 L1388.4,596.7 L1388.8,596.2 L1389.3,596.0 L1389.8,595.8 L1390.3,595.6 L1390.8,595.5 L1391.3,595.3 L1391.8,595.2 L1392.3,595.1 L1392.8,595.1 L1393.2,595.0 L1393.7,595.0 L1394.2,595.1 L1394.7,595.5 L1395.1,596.1 L1395.6,596.9 L1396.1,597.7 L1396.6,598.7 L1397.1,599.7 L1397.6,600.7 L1398.1,601.6 L1398.6,602.5 L1399.1,603.4 L1399.6,604.3 L1400.1,605.2 L1400.6,606.3 L1401.1,607.3 L1401.6,608.3 L1402.1,609.3 L1402.6,610.3 L1403.1,611.2 L1403.6,612.0 L1404.1,612.8 L1404.6,613.5 L1404.9,613.8 L1405.2,614.0 L1405.7,614.6 L1406.2,615.1 L1406.7,615.7 L1407.2,616.2 L1407.7,616.7 L1408.2,617.2 L1408.7,617.6 L1409.2,618.1 L1409.7,618.4 L1410.2,618.8 L1410.7,619.0 L1411.2,619.3 L1411.7,619.4 L1412.2,619.5 L1412.5,619.5 L1412.8,619.5 L1413.3,619.3 L1413.8,619.1 L1414.3,618.7 L1414.8,618.3 L1415.3,617.8 L1415.8,617.2 L1416.4,616.6 L1416.9,616.0 L1417.4,615.3 L1417.6,615.0 L1417.9,614.6 L1418.4,613.8 L1418.9,612.7 L1419.4,611.4 L1420.0,610.1 L1420.5,608.8 L1420.9,607.4 L1421.4,606.2 L1421.9,605.1 L1422.4,604.1 L1422.6,603.8 L1422.9,603.4 L1423.4,602.7 L1423.9,602.0 L1424.4,601.3 L1424.9,600.6 L1425.3,600.0 L1425.8,599.4 L1426.3,598.9 L1426.8,598.4 L1427.3,598.0 L1427.8,597.7 L1428.3,597.6 L1428.8,597.5 L1429.3,597.5 L1429.8,597.5 L1430.2,597.5 L1430.8,597.5 L1431.2,597.5 L1431.8,597.5 L1432.2,597.5 L1432.8,597.5 L1433.2,597.5 L1433.8,597.5 L1434.2,597.5 L1434.7,597.5 L1435.0,597.5 L1435.2,597.5 L1435.7,597.7 L1436.2,598.0 L1436.7,598.4 L1437.2,598.9 L1437.7,599.5 L1438.1,600.1 L1438.6,600.8 L1439.1,601.5 L1439.6,602.2 L1439.9,602.5 L1440.1,602.9 L1440.6,603.7 L1441.1,604.7 L1441.6,605.8 L1442.1,606.9 L1442.6,608.1 L1443.1,609.2 L1443.6,610.3 L1444.1,611.3 L1444.6,612.1 L1444.9,612.5 L1445.1,612.8 L1445.6,613.5 L1446.1,614.2 L1446.6,614.9 L1447.1,615.6 L1447.6,616.3 L1448.1,616.9 L1448.7,617.5 L1449.2,618.1 L1449.7,618.6 L1450.2,619.0 L1450.7,619.4 L1451.2,619.7 L1451.7,619.9 L1452.2,620.0 L1452.5,620.0 L1452.7,620.0 L1453.3,620.0 L1453.8,620.0 L1454.3,620.0 L1454.8,620.0 L1455.3,619.9 L1455.8,619.9 L1456.3,619.9 L1456.8,619.9 L1457.3,619.8 L1457.8,619.8 L1458.3,619.8 L1458.8,619.8 L1459.3,619.7 L1459.8,619.7 L1460.3,619.7 L1460.8,619.6 L1461.3,619.6 L1461.8,619.6 L1462.3,619.6 L1462.8,619.5 L1463.3,619.5 L1463.8,619.5 L1464.3,619.5 L1464.8,619.5 L1465.0,619.5 L1465.3,619.5 L1465.8,619.5 L1466.2,619.5 L1466.8,619.5 L1467.2,619.5 L1467.8,619.5 L1468.2,619.5 L1468.8,619.5 L1469.2,619.5 L1469.8,619.5 L1470.2,619.5 L1470.8,619.5 L1471.2,619.5 L1471.8,619.5 L1472.2,619.5 L1472.8,619.5 L1473.2,619.5 L1473.8,619.5 L1474.2,619.5 L1474.8,619.5 L1475.2,619.5 L1475.8,619.5 L1476.2,619.5 L1476.8,619.5 L1477.2,619.5 L1477.8,619.5 L1478.2,619.5 L1478.8,619.5 L1479.2,619.5 L1479.8,619.5 L1480.0,619.5 L1480.3,619.5 L1480.8,619.5 L1481.3,619.4 L1481.8,619.4 L1482.3,619.3 L1482.8,619.2 L1483.3,619.2 L1483.8,619.1 L1484.3,619.0 L1484.8,618.8 L1485.3,618.7 L1485.8,618.6 L1486.3,618.5 L1486.8,618.4 L1487.3,618.3 L1487.8,618.2 L1488.3,618.1 L1488.8,618.0 L1489.3,617.9 L1489.8,617.8 L1490.3,617.7 L1490.8,617.6 L1491.3,617.5 L1491.8,617.4 L1492.3,617.3 L1492.8,617.2 L1493.3,617.1 L1493.8,617.1 L1494.3,617.0 L1494.8,617.0 L1495.0,617.0 L1495.2,617.0 L1495.7,617.0 L1496.2,617.1 L1496.7,617.1 L1497.2,617.2 L1497.7,617.3 L1498.2,617.4 L1498.7,617.6 L1499.2,617.7 L1499.7,617.8 L1500.2,617.9 L1500.7,618.1 L1501.2,618.2 L1501.7,618.3 L1502.2,618.4 L1502.7,618.5 L1503.2,618.6 L1503.7,618.7 L1504.2,618.7 L1504.7,618.7 L1505.0,618.8 L1505.3,618.7 L1505.8,618.7 L1506.3,618.6 L1506.8,618.6 L1507.3,618.4 L1507.8,618.3 L1508.3,618.1 L1508.8,617.9 L1509.3,617.7 L1509.8,617.5 L1510.3,617.3 L1510.8,617.1 L1511.3,616.8 L1511.8,616.6 L1512.3,616.4 L1512.5,616.2 L1512.8,616.1 L1513.3,615.8 L1513.8,615.5 L1514.3,615.0 L1514.8,614.6 L1515.3,614.1 L1515.8,613.6 L1516.3,613.1 L1516.8,612.6 L1517.3,612.1 L1517.8,611.6 L1518.3,611.2 L1518.8,610.8 L1519.3,610.4 L1519.8,610.1 L1520.0,610.0 L1520.3,609.9 L1520.8,609.7 L1521.3,609.5 L1521.8,609.3 L1522.3,609.1 L1522.8,608.9 L1523.3,608.7 L1523.8,608.5 L1524.3,608.3 L1524.8,608.2 L1525.3,608.0 L1525.8,607.9 L1526.3,607.7 L1526.8,607.6 L1527.3,607.5 L1527.8,607.4 L1528.3,607.3 L1528.8,607.2 L1529.3,607.1 L1529.8,607.0 L1530.0,607.0 L1530.3,607.0 L1530.8,606.9 L1531.3,606.9 L1531.8,606.8 L1532.3,606.8 L1532.8,606.7 L1533.3,606.7 L1533.8,606.7 L1534.3,606.6 L1534.8,606.6 L1535.3,606.6 L1535.8,606.5 L1536.3,606.5 L1536.8,606.4 L1537.3,606.4 L1537.8,606.4 L1538.3,606.3 L1538.8,606.2 L1539.3,606.2 L1539.8,606.1 L1540.3,606.0 L1540.8,605.8 L1541.3,605.7 L1541.8,605.6 L1542.3,605.4 L1542.8,605.3 L1543.3,605.2 L1543.8,605.1 L1544.3,605.0 L1544.8,605.0 L1545.0,605.0 L1545.2,605.0 L1545.7,605.2 L1546.2,605.5 L1546.7,605.9 L1547.2,606.4 L1547.7,606.9 L1548.1,607.6 L1548.6,608.2 L1549.1,608.9 L1549.6,609.5 L1550.2,610.2 L1550.7,610.7 L1551.2,611.2 L1551.7,611.6 L1552.2,611.9 L1552.5,612.0 L1552.7,612.1 L1553.2,612.2 L1553.7,612.3 L1554.2,612.5 L1554.7,612.6 L1555.2,612.7 L1555.7,612.8 L1556.2,612.9 L1556.7,613.0 L1557.2,613.1 L1557.7,613.1 L1558.2,613.2 L1558.7,613.3 L1559.2,613.3 L1559.7,613.4 L1560.2,613.5 L1560.7,613.5 L1561.2,613.6 L1561.7,613.7 L1562.2,613.7 L1562.5,613.8 L1562.7,613.8 L1563.2,613.8 L1563.7,613.9 L1564.2,614.0 L1564.7,614.1 L1565.2,614.1 L1565.7,614.2 L1566.2,614.2 L1566.7,614.3 L1567.2,614.4 L1567.7,614.4 L1568.2,614.4 L1568.7,614.5 L1569.2,614.5 L1569.7,614.5 L1570.0,614.5 L1570.3,614.5 L1570.8,614.4 L1571.3,614.3 L1571.8,614.2 L1572.3,614.0 L1572.8,613.8 L1573.3,613.5 L1573.8,613.2 L1574.3,612.9 L1574.8,612.5 L1575.3,612.1 L1575.8,611.7 L1576.4,611.2 L1576.9,610.5 L1577.5,609.1 L1578.0,607.5 L1578.5,605.7 L1579.0,603.9 L1579.4,602.5 L1579.9,601.5 L1580.1,601.2 L1580.3,601.1 L1580.8,600.8 L1581.3,600.5 L1581.8,600.3 L1582.3,600.1 L1582.8,599.9 L1583.3,599.7 L1583.8,599.6 L1584.3,599.5 L1584.8,599.5 L1585.0,599.5 L1585.2,599.5 L1585.7,599.6 L1586.2,599.7 L1586.7,599.8 L1587.2,600.0 L1587.7,600.2 L1588.2,600.5 L1588.7,600.8 L1589.2,601.1 L1589.7,601.4 L1590.2,601.7 L1590.7,602.0 L1591.2,602.3 L1591.7,602.6 L1592.2,602.9 L1592.5,603.0 L1592.7,603.1 L1593.2,603.4 L1593.7,603.7 L1594.2,603.9 L1594.7,604.2 L1595.2,604.5 L1595.7,604.8 L1596.2,605.1 L1596.7,605.4 L1597.2,605.7 L1597.7,606.0 L1598.2,606.3 L1598.7,606.6 L1599.2,607.0 L1599.7,607.3 L1599.9,607.5 L1600.2,607.7 L1600.7,608.1 L1601.2,608.5 L1601.7,608.9 L1602.2,609.4 L1602.7,609.8 L1603.2,610.3 L1603.7,610.8 L1604.2,611.3 L1604.7,611.8 L1605.2,612.2 L1605.7,612.7 L1606.2,613.1 L1606.7,613.6 L1607.2,614.0 L1607.7,614.4 L1608.2,614.7 L1608.7,615.0 L1609.2,615.3 L1609.7,615.6 L1610.2,615.9 L1610.7,616.2 L1611.2,616.5 L1611.7,616.8 L1612.2,617.0 L1612.7,617.3 L1613.2,617.6 L1613.7,617.8 L1614.2,618.0 L1614.7,618.2 L1615.2,618.4 L1615.7,618.5 L1616.2,618.6 L1616.7,618.7 L1617.2,618.7 L1617.5,618.8 L1617.8,618.7 L1618.3,618.7 L1618.8,618.7 L1619.3,618.6 L1619.8,618.5 L1620.3,618.4 L1620.8,618.3 L1621.3,618.2 L1621.8,618.0 L1622.3,617.8 L1622.8,617.6 L1623.3,617.4 L1623.8,617.2 L1624.3,617.0 L1624.8,616.8 L1625.3,616.6 L1625.8,616.3 L1626.3,616.1 L1626.8,615.9 L1627.3,615.6 L1627.5,615.5 L1627.8,615.4 L1628.3,615.1 L1628.8,614.8 L1629.3,614.5 L1629.8,614.2 L1630.3,613.8 L1630.8,613.5 L1631.3,613.0 L1631.8,612.6 L1632.3,612.1 L1632.8,611.6 L1633.3,611.0 L1633.9,610.4 L1634.4,609.8 L1634.9,609.1 L1635.1,608.8 L1635.4,608.3 L1636.0,607.1 L1636.5,605.6 L1637.0,603.8 L1637.5,602.0 L1638.0,600.2 L1638.5,598.7 L1638.9,597.5 L1639.4,596.5 L1639.9,595.5 L1640.4,594.5 L1640.9,593.6 L1641.3,592.9 L1641.8,592.3 L1642.3,592.0 L1642.5,592.0 L1642.8,592.0 L1643.2,592.0 L1643.7,592.0 L1644.2,592.0 L1644.7,592.1 L1645.2,592.1 L1645.7,592.1 L1646.2,592.2 L1646.7,592.2 L1647.2,592.3 L1647.7,592.4 L1648.2,592.4 L1648.7,592.5 L1649.2,592.7 L1649.7,593.1 L1650.1,593.7 L1650.6,594.4 L1651.1,595.3 L1651.6,596.3 L1652.1,597.3 L1652.6,598.3 L1653.1,599.4 L1653.6,600.4 L1654.1,601.3 L1654.6,602.1 L1654.9,602.5 L1655.1,602.9 L1655.6,603.6 L1656.1,604.4 L1656.6,605.3 L1657.1,606.1 L1657.6,607.0 L1658.1,607.8 L1658.6,608.6 L1659.1,609.3 L1659.6,610.0 L1660.2,610.6 L1660.7,611.1 L1661.2,611.5 L1661.7,611.8 L1662.2,612.0 L1662.5,612.0 L1662.8,612.0 L1663.3,612.0 L1663.8,611.9 L1664.3,611.9 L1664.8,611.8 L1665.3,611.8 L1665.8,611.7 L1666.3,611.6 L1666.8,611.6 L1667.3,611.5 L1667.8,611.4 L1668.3,611.4 L1668.8,611.3 L1669.3,611.3 L1669.8,611.3 L1670.0,611.2 L1670.2,611.3 L1670.7,611.3 L1671.2,611.4 L1671.7,611.5 L1672.2,611.7 L1672.7,611.9 L1673.2,612.2 L1673.7,612.4 L1674.2,612.7 L1674.7,613.0 L1675.2,613.3 L1675.7,613.6 L1676.2,613.8 L1676.7,614.1 L1677.2,614.4 L1677.5,614.5 L1677.7,614.6 L1678.2,614.9 L1678.7,615.2 L1679.2,615.5 L1679.7,615.8 L1680.2,616.2 L1680.7,616.5 L1681.2,616.9 L1681.7,617.2 L1682.2,617.6 L1682.7,617.9 L1683.2,618.2 L1683.7,618.5 L1684.2,618.8 L1684.7,619.1 L1685.2,619.4 L1685.7,619.6 L1686.2,619.7 L1686.7,619.9 L1687.2,620.0 L1687.5,620.0 L1687.7,620.0 L1688.2,620.1 L1688.7,620.1 L1689.2,620.1 L1689.7,620.1 L1690.2,620.2 L1690.7,620.2 L1691.2,620.2 L1691.7,620.2 L1692.2,620.2 L1692.7,620.2 L1693.2,620.3 L1693.7,620.3 L1694.2,620.3 L1694.7,620.3 L1695.2,620.3 L1695.7,620.4 L1696.2,620.4 L1696.7,620.4 L1697.2,620.5 L1697.5,620.5 L1697.7,620.5 L1698.2,620.7 L1698.7,620.9 L1699.2,621.1 L1699.7,621.2 L1700.0,621.2 L1700.3,621.2 L1700.8,621.2 L1701.3,621.2 L1701.8,621.2 L1702.3,621.1 L1702.8,621.0 L1703.3,620.9 L1703.8,620.8 L1704.3,620.7 L1704.8,620.6 L1705.3,620.5 L1705.8,620.4 L1706.3,620.3 L1706.8,620.1 L1707.3,620.0 L1707.8,619.9 L1708.3,619.7 L1708.8,619.6 L1709.3,619.5 L1709.8,619.3 L1710.3,619.2 L1710.8,619.1 L1711.3,619.0 L1711.8,618.9 L1712.3,618.8 L1712.5,618.8 L1712.8,618.7 L1713.3,618.6 L1713.8,618.6 L1714.3,618.5 L1714.8,618.4 L1715.3,618.4 L1715.8,618.3 L1716.3,618.3 L1716.8,618.2 L1717.3,618.2 L1717.8,618.1 L1718.3,618.1 L1718.8,618.0 L1719.3,618.0 L1719.8,617.9 L1720.3,617.9 L1720.8,617.8 L1721.3,617.7 L1721.8,617.7 L1722.3,617.6 L1722.8,617.5 L1723.3,617.4 L1723.8,617.3 L1724.3,617.2 L1724.8,617.1 L1725.0,617.0 L1725.3,616.9 L1725.8,616.7 L1726.3,616.4 L1726.8,616.0 L1727.3,615.6 L1727.8,615.1 L1728.3,614.5 L1728.8,614.0 L1729.3,613.4 L1729.8,612.8 L1730.3,612.3 L1730.8,611.8 L1731.3,611.2 L1731.8,610.7 L1732.3,610.1 L1732.9,609.5 L1733.4,608.8 L1733.8,608.2 L1734.3,607.5 L1734.8,607.0 L1735.3,606.6 L1735.8,606.3 L1736.3,606.2 L1736.7,606.3 L1737.2,606.4 L1737.7,606.7 L1738.2,606.9 L1738.7,607.3 L1739.2,607.6 L1739.7,608.0 L1740.2,608.3 L1740.7,608.7 L1741.2,609.0 L1741.7,609.2 L1742.2,609.4 L1742.5,609.5 L1742.7,609.6 L1743.2,609.7 L1743.7,609.8 L1744.2,609.9 L1744.7,610.0 L1745.2,610.0 L1745.7,610.1 L1746.2,610.2 L1746.7,610.3 L1747.2,610.3 L1747.7,610.4 L1748.2,610.4 L1748.7,610.5 L1749.2,610.5 L1749.7,610.5 L1750.0,610.5 L1750.3,610.5 L1750.8,610.4 L1751.3,610.2 L1751.8,610.0 L1752.3,609.8 L1752.8,609.5 L1753.3,609.2 L1753.8,608.9 L1754.3,608.6 L1754.8,608.4 L1755.3,608.2 L1755.8,608.0 L1756.3,608.0 L1756.8,608.0 L1757.2,608.0 L1757.7,608.1 L1758.2,608.1 L1758.7,608.1 L1759.2,608.2 L1759.7,608.3 L1760.2,608.3 L1760.7,608.4 L1761.2,608.5 L1761.7,608.6 L1762.2,608.7 L1762.5,608.8 L1762.7,608.8 L1763.2,609.0 L1763.7,609.2 L1764.2,609.5 L1764.7,609.9 L1765.2,610.3 L1765.7,610.7 L1766.2,611.2 L1766.7,611.7 L1767.2,612.2 L1767.7,612.6 L1768.2,613.1 L1768.7,613.5 L1769.2,614.0 L1769.7,614.3 L1769.9,614.5 L1770.2,614.7 L1770.7,615.0 L1771.2,615.4 L1771.7,615.8 L1772.2,616.1 L1772.7,616.5 L1773.2,616.9 L1773.7,617.2 L1774.2,617.6 L1774.7,617.9 L1775.2,618.1 L1775.7,618.4 L1776.2,618.5 L1776.7,618.7 L1777.2,618.7 L1777.5,618.8 L1777.8,618.7 L1778.3,618.7 L1778.8,618.7 L1779.3,618.7 L1779.8,618.7 L1780.3,618.6 L1780.8,618.6 L1781.3,618.5 L1781.8,618.5 L1782.3,618.4 L1782.8,618.3 L1783.3,618.3 L1783.8,618.2 L1784.3,618.1 L1784.8,618.1 L1785.3,618.0 L1785.8,617.9 L1786.3,617.9 L1786.8,617.8 L1787.3,617.8 L1787.8,617.7 L1788.3,617.6 L1788.8,617.6 L1789.3,617.6 L1789.8,617.5 L1790.0,617.5 L1790.3,617.5 L1790.8,617.5 L1791.3,617.4 L1791.8,617.4 L1792.3,617.4 L1792.8,617.3 L1793.3,617.3 L1793.8,617.3 L1794.3,617.3 L1794.8,617.2 L1795.3,617.2 L1795.8,617.2 L1796.3,617.2 L1796.8,617.1 L1797.3,617.1 L1797.8,617.1 L1798.3,617.1 L1798.8,617.1 L1799.3,617.0 L1799.8,617.0 L1800.3,617.0 L1800.8,617.0 L1801.3,617.0 L1801.8,617.0 L1802.3,617.0 L1802.5,617.0 L1802.7,617.0 L1803.2,617.0 L1803.7,617.0 L1804.2,617.1 L1804.7,617.1 L1805.2,617.2 L1805.7,617.3 L1806.2,617.4 L1806.7,617.5 L1807.2,617.6 L1807.7,617.7 L1808.2,617.8 L1808.7,617.9 L1809.2,618.0 L1809.7,618.1 L1810.2,618.2 L1810.7,618.3 L1811.2,618.4 L1811.7,618.5 L1812.2,618.5 L1812.7,618.6 L1813.2,618.7 L1813.7,618.7 L1814.2,618.7 L1814.7,618.7 L1815.0,618.8 L1815.3,618.7 L1815.8,618.7 L1816.3,618.7 L1816.8,618.7 L1817.3,618.7 L1817.8,618.7 L1818.3,618.7 L1818.8,618.7 L1819.3,618.7 L1819.8,618.6 L1820.3,618.6 L1820.8,618.6 L1821.3,618.6 L1821.8,618.5 L1822.3,618.5 L1822.8,618.5 L1823.3,618.4 L1823.8,618.4 L1824.3,618.3 L1824.8,618.3 L1825.3,618.2 L1825.8,618.2 L1826.3,618.1 L1826.8,618.1 L1827.3,618.0 L1827.5,618.0 L1827.8,618.0 L1828.3,617.8 L1828.8,617.6 L1829.3,617.4 L1829.8,617.1 L1830.3,616.7 L1830.8,616.4 L1831.3,616.0 L1831.8,615.6 L1832.3,615.3 L1832.8,614.9 L1833.3,614.6 L1833.8,614.3 L1834.3,614.0 L1834.8,613.8 L1835.0,613.8 L1835.3,613.7 L1835.8,613.6 L1836.3,613.4 L1836.8,613.3 L1837.3,613.2 L1837.8,613.1 L1838.3,613.0 L1838.8,612.9 L1839.3,612.8 L1839.8,612.7 L1840.3,612.6 L1840.8,612.6 L1841.3,612.5 L1841.8,612.5 L1842.3,612.5 L1842.5,612.5 L1842.7,612.5 L1843.2,612.5 L1843.7,612.6 L1844.2,612.7 L1844.7,612.8 L1845.2,612.9 L1845.7,613.0 L1846.2,613.2 L1846.7,613.3 L1847.2,613.5 L1847.7,613.7 L1848.2,613.9 L1848.7,614.0 L1849.2,614.2 L1849.7,614.4 L1850.0,614.5 L1850.2,614.6 L1850.7,614.8 L1851.2,615.1 L1851.7,615.5 L1852.2,615.8 L1852.7,616.2 L1853.2,616.6 L1853.7,617.0 L1854.2,617.3 L1854.7,617.7 L1855.2,618.0 L1855.7,618.3 L1856.2,618.5 L1856.7,618.7 L1857.2,618.7 L1857.5,618.8 L1857.7,618.8 L1858.2,618.8 L1858.8,618.8 L1859.2,618.8 L1859.8,618.8 L1860.2,618.8 L1860.8,618.8 L1861.2,618.8 L1861.8,618.8 L1862.2,618.8 L1862.8,618.8 L1863.2,618.8 L1863.8,618.8 L1864.2,618.8 L1864.8,618.8 L1865.2,618.8 L1865.8,618.8 L1866.2,618.8 L1866.8,618.8 L1867.3,618.8 L1867.5,618.8 L1867.8,618.7 L1868.3,618.7 L1868.8,618.7 L1869.3,618.6 L1869.8,618.5 L1870.3,618.3 L1870.8,618.2 L1871.3,618.0 L1871.8,617.8 L1872.3,617.6 L1872.8,617.4 L1873.3,617.2 L1873.8,617.0 L1874.3,616.8 L1874.8,616.6 L1875.3,616.4 L1875.8,616.2 L1876.3,616.0 L1876.8,615.8 L1877.3,615.6 L1877.5,615.5 L1877.8,615.4 L1878.3,615.2 L1878.8,615.1 L1879.3,614.9 L1879.8,614.7 L1880.3,614.5 L1880.8,614.3 L1881.3,614.1 L1881.8,613.9 L1882.3,613.7 L1882.8,613.5 L1883.3,613.3 L1883.8,613.1 L1884.3,612.9 L1884.8,612.7 L1885.3,612.6 L1885.8,612.4 L1886.3,612.3 L1886.8,612.2 L1887.3,612.1 L1887.5,612.0 L1887.8,612.0 L1888.3,611.9 L1888.8,611.8 L1889.3,611.7 L1889.8,611.6 L1890.3,611.5 L1890.8,611.4 L1891.3,611.3 L1891.8,611.2 L1892.3,611.1 L1892.8,611.0 L1893.3,611.0 L1893.8,610.9 L1894.3,610.8 L1894.8,610.8 L1895.3,610.7 L1895.8,610.6 L1896.3,610.6 L1896.8,610.6 L1897.3,610.5 L1897.8,610.5 L1898.3,610.5 L1898.7,610.5 L1899.2,610.5 L1899.7,610.5 L1900.2,610.6 L1900.7,610.7 L1901.2,610.7 L1901.7,610.8 L1902.2,611.0 L1902.7,611.1 L1903.2,611.2 L1903.7,611.3 L1904.2,611.5 L1904.7,611.6 L1905.2,611.8 L1905.7,612.0 L1906.2,612.1 L1906.7,612.3 L1907.2,612.4 L1907.5,612.5 L1907.7,612.6 L1908.2,612.7 L1908.7,612.9 L1909.2,613.1 L1909.7,613.3 L1910.2,613.5 L1910.7,613.8 L1911.2,614.0 L1911.7,614.2 L1912.2,614.5 L1912.7,614.7 L1913.2,615.0 L1913.7,615.2 L1914.2,615.5 L1914.7,615.7 L1915.2,616.0 L1915.7,616.2 L1916.2,616.4 L1916.7,616.7 L1917.2,616.9 L1917.5,617.0 L1917.7,617.1 L1918.2,617.3 L1918.7,617.6 L1919.2,617.8 L1919.7,618.1 L1920.2,618.4 L1920.7,618.6 L1921.2,618.9 L1921.7,619.2 L1922.2,619.4 L1922.7,619.6 L1923.2,619.8 L1923.7,620.0 L1924.2,620.2 L1924.7,620.3 L1925.2,620.4 L1925.7,620.5 L1926.2,620.5 L1926.7,620.5 L1927.3,620.5 L1927.8,620.5 L1928.3,620.5 L1928.8,620.5 L1929.3,620.5 L1929.8,620.4 L1930.3,620.4 L1930.8,620.4 L1931.3,620.4 L1931.8,620.4 L1932.3,620.3 L1932.8,620.3 L1933.3,620.3 L1933.8,620.3 L1934.3,620.2 L1934.8,620.2 L1935.3,620.2 L1935.8,620.1 L1936.3,620.1 L1936.8,620.1 L1937.3,620.0 L1937.5,620.0 L1937.8,620.0 L1938.3,619.9 L1938.8,619.9 L1939.3,619.8 L1939.8,619.7 L1940.3,619.6 L1940.8,619.4 L1941.3,619.3 L1941.8,619.1 L1942.3,619.0 L1942.8,618.8 L1943.3,618.7 L1943.8,618.5 L1944.3,618.3 L1944.8,618.1 L1945.3,617.9 L1945.8,617.7 L1946.3,617.5 L1946.8,617.3 L1947.3,617.0 L1947.8,616.7 L1948.3,616.3 L1948.8,615.9 L1949.3,615.5 L1949.8,615.1 L1950.3,614.7 L1950.8,614.3 L1951.3,613.9 L1951.8,613.6 L1952.3,613.2 L1952.8,612.9 L1953.3,612.7 L1953.8,612.5 L1954.3,612.3 L1954.8,612.2 L1955.3,612.0 L1955.8,611.9 L1956.3,611.7 L1956.8,611.6 L1957.3,611.5 L1957.8,611.3 L1958.3,611.2 L1958.8,611.1 L1959.3,611.0 L1959.8,610.9 L1960.3,610.8 L1960.8,610.7 L1961.3,610.7 L1961.8,610.6 L1962.3,610.6 L1962.8,610.5 L1963.3,610.5 L1963.7,610.5 L1964.2,610.5 L1964.7,610.6 L1965.2,610.8 L1965.7,610.9 L1966.2,611.2 L1966.7,611.4 L1967.2,611.7 L1967.7,612.0 L1968.2,612.3 L1968.7,612.6 L1969.2,612.9 L1969.7,613.2 L1970.2,613.5 L1970.7,613.8 L1971.2,614.0 L1971.7,614.3 L1972.2,614.4 L1972.5,614.5 L1972.7,614.6 L1973.2,614.7 L1973.7,614.8 L1974.2,614.9 L1974.7,615.0 L1975.2,615.1 L1975.7,615.2 L1976.2,615.3 L1976.7,615.4 L1977.2,615.5 L1977.7,615.6 L1978.2,615.7 L1978.7,615.7 L1979.2,615.8 L1979.7,615.9 L1980.2,616.0 L1980.7,616.0 L1981.2,616.1 L1981.7,616.2 L1982.2,616.2 L1982.5,616.2 L1982.7,616.3 L1983.2,616.3 L1983.7,616.4 L1984.2,616.5 L1984.7,616.6 L1985.2,616.6 L1985.7,616.7 L1986.2,616.8 L1986.7,616.8 L1987.2,616.9 L1987.7,617.0 L1988.2,617.0 L1988.7,617.1 L1989.2,617.1 L1989.7,617.2 L1990.2,617.2 L1990.7,617.3 L1991.2,617.3 L1991.7,617.4 L1992.2,617.4 L1992.7,617.4 L1993.2,617.5 L1993.7,617.5 L1994.2,617.5 L1994.7,617.5 L1995.0,617.5 L1995.3,617.5 L1995.8,617.5 L1996.3,617.5 L1996.8,617.5 L1997.3,617.5 L1997.8,617.4 L1998.3,617.4 L1998.8,617.4 L1999.3,617.4 L1999.8,617.3 L2000.3,617.3 L2000.8,617.3 L2001.3,617.2 L2001.8,617.2 L2002.3,617.2 L2002.8,617.2 L2003.3,617.1 L2003.8,617.1 L2004.3,617.1 L2004.8,617.1 L2005.3,617.0 L2005.8,617.0 L2006.3,617.0 L2006.8,617.0 L2007.3,617.0 L2007.5,617.0 L2007.7,617.0 L2008.2,617.0 L2008.7,617.0 L2009.2,617.1 L2009.7,617.1 L2010.2,617.2 L2010.7,617.3 L2011.2,617.4 L2011.7,617.5 L2012.2,617.6 L2012.7,617.7 L2013.2,617.8 L2013.7,617.9 L2014.2,618.0 L2014.7,618.1 L2015.2,618.2 L2015.7,618.3 L2016.2,618.4 L2016.7,618.5 L2017.2,618.5 L2017.7,618.6 L2018.2,618.7 L2018.7,618.7 L2019.2,618.7 L2019.7,618.7 L2020.0,618.8 L2020.2,618.8 L2020.8,618.8 L2021.2,618.8 L2021.8,618.8 L2022.2,618.8 L2022.8,618.8 L2023.2,618.8 L2023.8,618.8 L2024.2,618.8 L2024.8,618.8 L2025.2,618.8 L2025.8,618.8 L2026.2,618.8 L2026.8,618.8 L2027.2,618.8 L2027.8,618.8 L2028.2,618.8 L2028.8,618.8 L2029.2,618.8 L2029.8,618.8 L2030.2,618.8 L2030.8,618.8 L2031.2,618.8 L2031.8,618.8 L2032.2,618.8 L2032.8,618.8 L2033.2,618.8 L2033.8,618.8 L2034.2,618.8 L2034.7,618.8 L2035.0,618.8 L2035.2,618.8 L2035.7,618.8 L2036.2,618.8 L2036.7,618.8 L2037.2,618.9 L2037.7,619.0 L2038.2,619.0 L2038.7,619.1 L2039.2,619.2 L2039.7,619.3 L2040.2,619.4 L2040.7,619.5 L2041.2,619.6 L2041.7,619.7 L2042.2,619.8 L2042.7,619.9 L2043.2,620.0 L2043.7,620.1 L2044.2,620.2 L2044.7,620.3 L2045.2,620.4 L2045.7,620.4 L2046.2,620.5 L2046.7,620.5 L2047.2,620.5 L2047.5,620.5 L2047.8,620.5 L2048.3,620.5 L2048.8,620.5 L2049.3,620.5 L2049.8,620.5 L2050.3,620.5 L2050.8,620.4 L2051.3,620.4 L2051.8,620.4 L2052.3,620.4 L2052.8,620.3 L2053.3,620.3 L2053.8,620.3 L2054.3,620.3 L2054.8,620.2 L2055.3,620.2 L2055.8,620.1 L2056.3,620.1 L2056.8,620.1 L2057.3,620.0 L2057.5,620.0 L2057.8,620.0 L2058.3,619.9 L2058.8,619.8 L2059.3,619.6 L2059.8,619.5 L2060.3,619.3 L2060.8,619.1 L2061.3,618.8 L2061.8,618.6 L2062.3,618.3 L2062.8,618.0 L2063.3,617.7 L2063.8,617.5 L2064.3,617.2 L2064.8,616.9 L2065.3,616.6 L2065.8,616.3 L2066.3,616.1 L2066.8,615.8 L2067.3,615.6 L2067.5,615.5 L2067.8,615.4 L2068.3,615.2 L2068.8,615.0 L2069.3,614.8 L2069.8,614.6 L2070.3,614.4 L2070.8,614.2 L2071.3,614.0 L2071.8,613.8 L2072.3,613.6 L2072.8,613.4 L2073.3,613.2 L2073.8,613.0 L2074.3,612.8 L2074.8,612.6 L2075.0,612.5 L2075.3,612.4 L2075.8,612.2 L2076.3,611.9 L2076.8,611.7 L2077.3,611.4 L2077.8,611.1 L2078.3,610.9 L2078.8,610.6 L2079.3,610.4 L2079.8,610.2 L2080.3,610.0 L2080.8,609.8 L2081.3,609.7 L2081.8,609.6 L2082.3,609.5 L2082.5,609.5 L2082.7,609.5 L2083.2,609.6 L2083.7,609.7 L2084.2,609.8 L2084.7,610.0 L2085.2,610.2 L2085.7,610.4 L2086.2,610.7 L2086.7,610.9 L2087.2,611.2 L2087.7,611.5 L2088.2,611.7 L2088.7,612.0 L2089.2,612.2 L2089.7,612.4 L2090.0,612.5 L2090.2,612.6 L2090.7,612.8 L2091.2,612.9 L2091.7,613.1 L2092.2,613.3 L2092.7,613.5 L2093.2,613.6 L2093.7,613.8 L2094.2,614.0 L2094.7,614.1 L2095.2,614.3 L2095.7,614.4 L2096.2,614.6 L2096.7,614.7 L2097.2,614.9 L2097.7,615.0 L2098.2,615.1 L2098.7,615.3 L2099.2,615.4 L2099.7,615.5 L2100.0,615.5 L2100.2,615.5 L2100.7,615.6 L2101.2,615.7 L2101.7,615.8 L2102.2,615.8 L2102.7,615.9 L2103.2,616.0 L2103.7,616.0 L2104.2,616.1 L2104.7,616.1 L2105.2,616.2 L2105.7,616.2 L2106.2,616.2 L2106.7,616.3 L2107.2,616.3 L2107.7,616.4 L2108.2,616.4 L2108.7,616.5 L2109.2,616.5 L2109.7,616.6 L2110.2,616.7 L2110.7,616.7 L2111.2,616.8 L2111.7,616.9 L2112.2,617.0 L2112.5,617.0 L2112.7,617.0 L2113.2,617.2 L2113.7,617.3 L2114.2,617.4 L2114.7,617.6 L2115.2,617.7 L2115.7,617.9 L2116.2,618.1 L2116.7,618.3 L2117.2,618.5 L2117.7,618.7 L2118.2,618.9 L2118.7,619.1 L2119.2,619.3 L2119.7,619.5 L2120.2,619.7 L2120.7,619.9 L2121.2,620.1 L2121.7,620.3 L2122.2,620.5 L2122.7,620.6 L2123.2,620.8 L2123.7,621.0 L2124.2,621.1 L2124.7,621.2 L2125.0,621.2 L2125.2,621.3 L2125.7,621.4 L2126.2,621.5 L2126.7,621.6 L2127.2,621.7 L2127.7,621.8 L2128.2,621.9 L2128.7,622.0 L2129.2,622.1 L2129.7,622.2 L2130.2,622.3 L2130.7,622.4 L2131.2,622.4 L2131.7,622.5 L2132.2,622.6 L2132.7,622.7 L2133.2,622.7 L2133.7,622.8 L2134.2,622.8 L2134.7,622.9 L2135.2,622.9 L2135.7,622.9 L2136.2,623.0 L2136.7,623.0 L2137.2,623.0 L2137.5,623.0 L2137.7,623.0 L2138.2,623.0 L2138.8,623.0 L2139.2,623.0 L2139.8,623.0 L2140.2,623.0 L2140.8,623.0 L2141.2,623.0 L2141.8,623.0 L2142.2,623.0 L2142.8,623.0 L2143.2,623.0 L2143.8,623.0 L2144.2,623.0 L2144.8,623.0 L2145.2,623.0 L2145.8,623.0 L2146.2,623.0 L2146.8,623.0 L2147.2,623.0 L2147.8,623.0 L2148.2,623.0 L2148.8,623.0 L2149.2,623.0 L2149.8,623.0 L2150.0,623.0 L2150.3,623.0 L2150.8,623.0 L2151.3,623.0 L2151.8,623.0 L2152.3,622.9 L2152.8,622.9 L2153.3,622.9 L2153.8,622.9 L2154.3,622.8 L2154.8,622.8 L2155.3,622.7 L2155.8,622.7 L2156.3,622.6 L2156.8,622.6 L2157.3,622.6 L2157.8,622.5 L2158.3,622.4 L2158.8,622.4 L2159.3,622.3 L2159.8,622.3 L2160.3,622.2 L2160.8,622.2 L2161.3,622.1 L2161.8,622.1 L2162.3,622.0 L2162.5,622.0 L2162.8,622.0 L2163.3,621.9 L2163.8,621.9 L2164.3,621.8 L2164.8,621.8 L2165.3,621.7 L2165.8,621.6 L2166.3,621.6 L2166.8,621.5 L2167.3,621.5 L2167.8,621.4 L2168.3,621.3 L2168.8,621.3 L2169.3,621.2 L2169.8,621.1 L2170.3,621.1 L2170.8,621.0 L2171.3,620.9 L2171.8,620.9 L2172.3,620.8 L2172.8,620.8 L2173.3,620.7 L2173.8,620.6 L2174.3,620.6 L2174.8,620.5 L2175.0,620.5 L2175.3,620.5 L2175.8,620.4 L2176.3,620.4 L2176.8,620.3 L2177.3,620.3 L2177.8,620.2 L2178.3,620.2 L2178.8,620.1 L2179.3,620.1 L2179.8,620.0 L2180.3,620.0 L2180.8,619.9 L2181.3,619.9 L2181.8,619.9 L2182.3,619.8 L2182.8,619.8 L2183.3,619.7 L2183.8,619.7 L2184.3,619.7 L2184.8,619.6 L2185.3,619.6 L2185.8,619.5 L2186.3,619.5" fill="none" stroke="#0000ff" stroke-width="7.1" stroke-linejoin="round" stroke-linecap="butt"/>
<path d="M203.8,345.0 L217.5,340.0 L223.8,336.2 L231.2,335.0 L236.2,331.2 L242.0,323.0 L247.5,325.5 L255.0,325.5 L262.5,323.8 L267.5,318.8 L273.8,316.8 L280.0,311.2 L283.0,305.0 L285.0,290.0 L287.5,265.0 L290.0,240.0 L292.5,190.0 L295.0,145.0 L297.5,100.0 L301.2,66.2 L303.8,67.5 L305.0,100.0 L306.2,145.0 L308.0,195.0 L310.0,232.5 L312.5,260.0 L315.0,282.5 L317.0,280.0 L318.8,270.0 L322.5,270.0 L326.2,277.5 L330.0,283.8 L336.2,289.5 L342.5,290.8 L347.5,288.8 L353.8,280.5 L358.8,283.0 L365.0,283.0 L371.2,280.0 L380.0,270.0 L386.2,271.2 L392.5,270.0 L400.0,266.2 L406.2,265.0 L410.0,260.0 L413.0,248.8 L420.0,248.8 L427.5,248.8 L432.5,237.5 L438.8,227.0 L445.0,228.0 L450.0,226.2 L455.0,217.5 L460.0,205.0 L465.0,206.2 L470.0,215.0 L473.8,222.5 L477.5,215.0 L481.2,207.5 L483.8,182.5 L486.2,155.0 L490.0,127.5 L493.0,113.8 L495.5,120.0 L498.8,155.0 L502.5,185.0 L506.2,210.0 L512.5,211.2 L516.2,217.5 L520.0,221.2 L525.0,210.0 L530.0,212.5 L535.0,211.2 L541.2,205.0 L546.2,196.2 L551.2,191.2 L553.8,187.5 L556.2,157.5 L559.5,123.8 L562.5,137.5 L566.2,160.0 L570.0,182.5 L572.5,195.0 L578.8,198.8 L583.8,188.8 L587.5,186.2 L591.2,197.5 L596.2,199.5 L601.2,192.5 L603.8,165.0 L606.2,138.8 L608.8,145.0 L611.2,170.0 L615.0,195.0 L618.8,212.5 L623.8,223.8 L630.0,231.2 L635.0,233.8 L642.5,232.5 L650.0,232.5 L657.5,239.5 L665.0,232.5 L670.0,235.0 L677.5,243.8 L685.0,238.8 L691.2,232.5 L697.5,222.0 L705.0,226.2 L711.2,225.0 L717.5,237.5 L725.0,232.5 L731.2,238.8 L737.5,237.0 L751.2,248.0 L760.0,247.0 L767.5,248.8 L772.5,248.0 L777.5,242.5 L785.0,243.8 L791.2,242.5 L797.5,255.0 L805.0,248.8 L816.2,237.5 L822.5,240.0 L830.0,247.0 L836.2,246.2 L843.8,245.0 L850.0,254.5 L856.2,250.0 L863.8,261.2 L870.0,257.5 L875.0,242.5 L878.8,237.5 L884.2,235.5 L891.2,246.2 L897.5,250.0 L910.0,247.0 L917.5,249.5 L923.8,255.0 L928.8,243.0 L936.2,248.0 L943.8,248.8 L950.0,260.0 L955.5,244.5 L962.5,250.0 L968.0,255.0 L975.0,252.5 L982.5,246.2 L990.0,235.5 L996.2,240.0 L1002.5,240.0 L1009.2,243.8 L1016.2,238.8 L1025.0,239.5 L1035.0,239.5 L1042.5,241.2 L1048.8,228.8 L1056.2,226.2 L1062.5,220.0 L1068.8,226.2 L1073.8,230.0 L1085.0,229.5 L1095.0,229.5 L1102.5,238.0 L1108.8,235.5 L1115.0,221.2 L1121.2,226.2 L1130.0,227.5 L1143.8,232.5 L1148.8,239.5 L1157.5,239.5 L1167.5,240.0 L1175.0,248.0 L1181.2,248.0 L1188.8,254.5 L1195.0,248.8 L1201.2,257.5 L1207.5,243.8 L1213.8,257.5 L1221.2,255.0 L1228.8,270.0 L1234.5,254.5 L1241.2,261.2 L1247.5,265.0 L1253.8,262.0 L1261.2,260.0 L1267.5,252.5 L1273.8,257.5 L1280.0,263.8 L1287.5,261.2 L1295.0,268.8 L1300.0,261.2 L1307.5,267.5 L1317.5,270.0 L1327.5,270.5 L1336.2,269.5 L1343.8,275.0 L1352.5,282.5 L1360.0,272.0 L1367.5,277.5 L1373.8,275.0 L1380.0,269.2 L1390.0,275.0 L1400.0,275.5 L1406.2,273.8 L1413.8,273.8 L1420.0,280.0 L1427.5,274.5 L1435.0,275.0 L1446.2,287.0 L1455.0,281.2 L1465.0,280.0 L1473.8,281.2 L1482.5,275.0 L1490.0,273.8 L1496.2,275.0 L1503.8,282.5 L1511.2,277.5 L1518.8,288.8 L1525.0,282.5 L1537.5,281.2 L1546.2,285.5 L1552.5,282.5 L1560.0,287.0 L1566.2,282.5 L1572.5,288.0 L1580.0,290.5 L1590.0,288.0 L1598.8,292.0 L1606.2,286.2 L1615.0,283.8 L1622.5,288.8 L1632.5,290.0 L1642.5,286.2 L1652.5,285.5 L1662.5,286.2 L1670.0,289.5 L1677.5,289.5 L1683.8,286.2 L1690.0,291.2 L1697.5,291.2 L1705.0,295.0 L1710.0,292.0 L1717.5,290.0 L1723.8,285.5 L1730.0,288.8 L1737.5,292.0 L1747.5,292.5 L1755.0,293.8 L1762.5,292.5 L1770.0,295.5 L1782.5,295.8 L1795.0,296.2 L1807.5,295.0 L1822.5,294.5 L1830.0,292.0 L1837.5,292.0 L1845.0,292.5 L1850.0,298.0 L1856.2,297.0 L1862.5,290.0 L1868.8,295.0 L1875.0,293.8 L1881.2,296.2 L1888.8,295.0 L1896.2,291.2 L1905.0,293.8 L1912.5,293.8 L1918.8,295.5 L1926.2,293.0 L1933.8,293.8 L1941.2,293.0 L1948.8,300.5 L1955.0,297.0 L1961.2,295.5 L1968.8,300.0 L1976.2,295.0 L1985.0,293.0 L1992.5,294.5 L2002.5,293.8 L2010.0,300.0 L2016.2,302.0 L2022.5,297.5 L2028.8,293.8 L2035.0,298.8 L2041.2,300.0 L2048.8,295.0 L2057.5,297.5 L2067.5,299.5 L2075.0,298.0 L2081.2,298.0 L2088.8,302.0 L2095.0,298.8 L2101.2,293.8 L2107.5,300.0 L2115.0,293.8 L2122.5,297.5 L2130.0,299.5 L2140.0,299.5 L2150.0,298.0 L2157.5,299.5 L2165.0,298.8 L2172.5,302.0 L2178.8,298.0 L2183.8,297.0" fill="none" stroke="#8600ff" stroke-width="7.1" stroke-linejoin="round" stroke-linecap="butt"/>
<g font-family="'Liberation Sans', Arial, Helvetica, sans-serif" font-size="79" fill="#000">
<text x="422.3" y="1606.7" text-anchor="middle">10</text>
<text x="863.3" y="1606.7" text-anchor="middle">20</text>
<text x="1304.4" y="1606.7" text-anchor="middle">30</text>
<text x="1745.4" y="1606.7" text-anchor="middle">40</text>
<text x="2186.4" y="1606.7" text-anchor="middle">50</text>
<text x="1193" y="1736" text-anchor="middle">2 theta [°]</text>
<text transform="translate(78,720) rotate(-90)" text-anchor="middle">intensity [AU]</text>
<text x="1027" y="140.0">e<tspan dx="3">)</tspan></text>
<text x="1505" y="140.0">activated</text>
<text x="1027" y="450.5">d<tspan dx="3">)</tspan></text>
<text x="1505" y="450.5">supercritically dried</text>
<text x="1027" y="746.0">c<tspan dx="1">)</tspan></text>
<text x="1505" y="746.0">acetone washed</text>
<text x="1027" y="1028.0">b<tspan dx="3">)</tspan></text>
<text x="1505" y="1028.0">as-synthesized</text>
<text x="1027" y="1337.5">a<tspan dx="3">)</tspan></text>
<text x="1505" y="1337.5">simulated</text>
</g>
<line x1="1305" y1="113.0" x2="1489" y2="113.0" stroke="#8600ff" stroke-width="7.2" stroke-linecap="butt"/>
<line x1="1305" y1="423.5" x2="1489" y2="423.5" stroke="#0000ff" stroke-width="7.2" stroke-linecap="butt"/>
<line x1="1305" y1="718.0" x2="1489" y2="718.0" stroke="#00ff00" stroke-width="7.2" stroke-linecap="butt"/>
<line x1="1305" y1="1000.5" x2="1489" y2="1000.5" stroke="#ff0000" stroke-width="7.2" stroke-linecap="butt"/>
<line x1="1305" y1="1310.5" x2="1489" y2="1310.5" stroke="#000000" stroke-width="7.2" stroke-linecap="butt"/>
</svg>
</body>
</html>
